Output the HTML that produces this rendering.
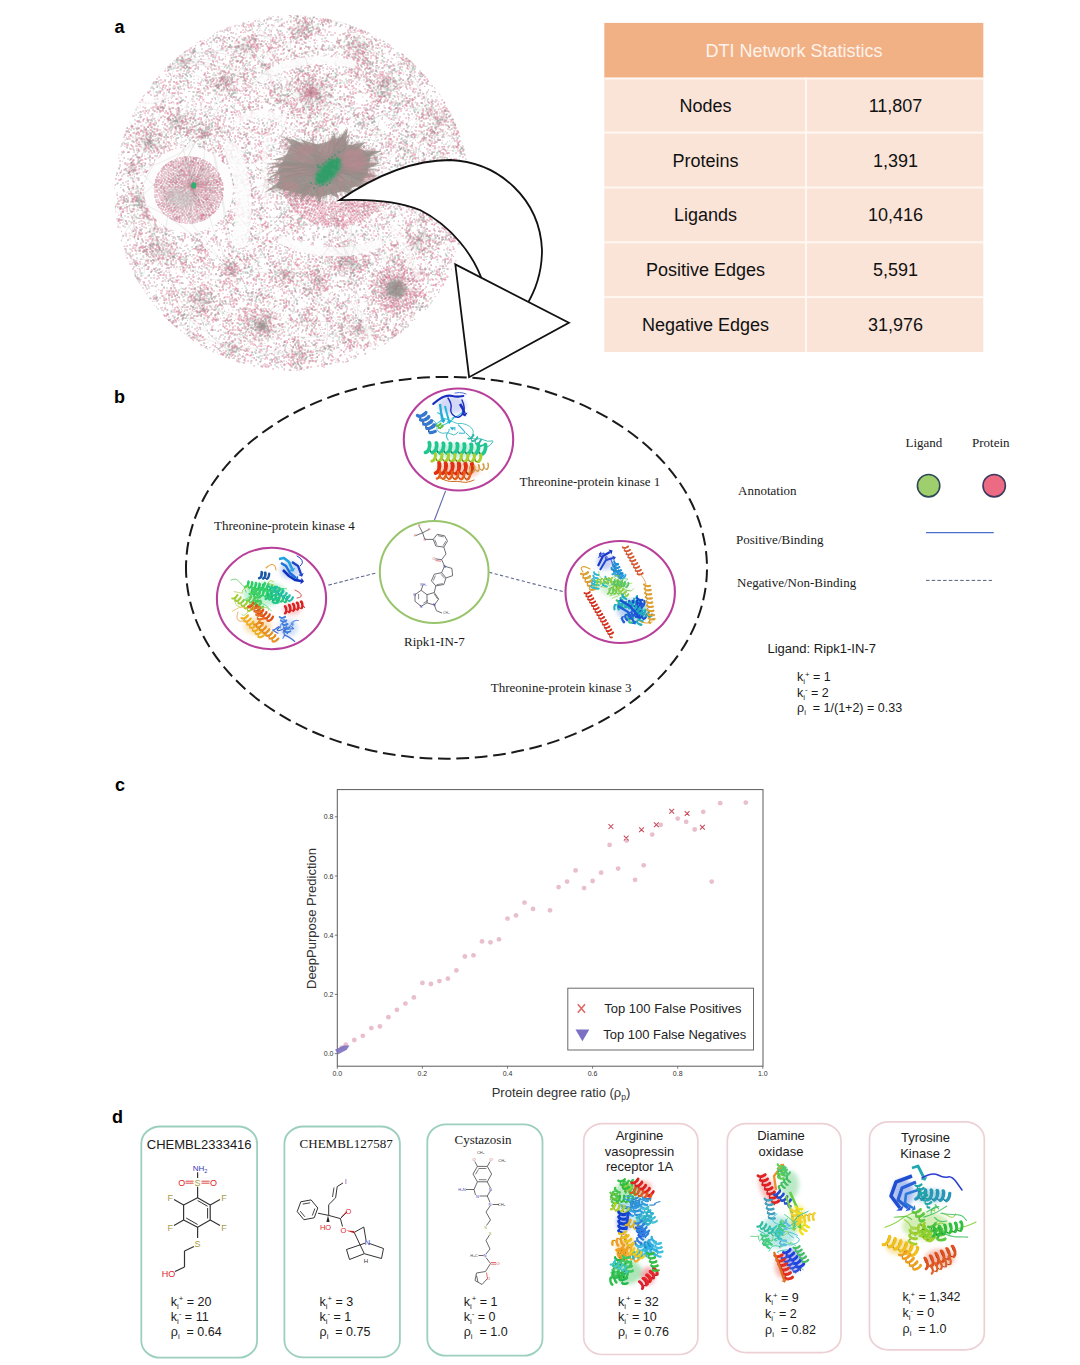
<!DOCTYPE html>
<html><head><meta charset="utf-8"><title>DTI Network Figure</title>
<style>
html,body{margin:0;padding:0;background:#fff;}
body{width:1080px;height:1365px;overflow:hidden;position:relative;}
svg{position:absolute;left:0;top:0;display:block;}
text{white-space:pre;}
</style></head><body>
<svg width="1080" height="1365" viewBox="0 0 1080 1365">
<rect x="0" y="0" width="1080" height="1365" fill="#fff"/>
<text x="114.5" y="33" font-family="'Liberation Sans', Arial, sans-serif" font-size="18" fill="#000" text-anchor="start" font-weight="bold" >a</text><defs><clipPath id="diskclip"><circle cx="292.0" cy="193.0" r="178.0"/></clipPath><filter id="blur2" x="-30%" y="-30%" width="160%" height="160%"><feGaussianBlur stdDeviation="2.2"/></filter><filter id="blur1" x="-20%" y="-20%" width="140%" height="140%"><feGaussianBlur stdDeviation="1.6"/></filter><filter id="blur3" x="-30%" y="-30%" width="160%" height="160%"><feGaussianBlur stdDeviation="4"/></filter></defs><g clip-path="url(#diskclip)"><circle cx="311" cy="93" r="16.2" fill="#c6c6c0" opacity="0.12" filter="url(#blur2)"/><circle cx="396" cy="289" r="15.6" fill="#c6c6c0" opacity="0.12" filter="url(#blur2)"/><circle cx="262" cy="326" r="13.2" fill="#c6c6c0" opacity="0.12" filter="url(#blur2)"/><circle cx="149" cy="141" r="10.8" fill="#c6c6c0" opacity="0.12" filter="url(#blur2)"/><circle cx="177" cy="120" r="9.0" fill="#c6c6c0" opacity="0.12" filter="url(#blur2)"/><circle cx="205" cy="132" r="7.2" fill="#c6c6c0" opacity="0.12" filter="url(#blur2)"/><circle cx="382" cy="86" r="10.8" fill="#c6c6c0" opacity="0.12" filter="url(#blur2)"/><circle cx="359" cy="46" r="10.8" fill="#c6c6c0" opacity="0.12" filter="url(#blur2)"/><circle cx="225" cy="83" r="9.6" fill="#c6c6c0" opacity="0.12" filter="url(#blur2)"/><circle cx="248" cy="46" r="9.6" fill="#c6c6c0" opacity="0.12" filter="url(#blur2)"/><circle cx="300" cy="30" r="8.4" fill="#c6c6c0" opacity="0.12" filter="url(#blur2)"/><circle cx="430" cy="170" r="10.8" fill="#c6c6c0" opacity="0.12" filter="url(#blur2)"/><circle cx="350" cy="262" r="9.6" fill="#c6c6c0" opacity="0.12" filter="url(#blur2)"/><circle cx="318" cy="280" r="8.4" fill="#c6c6c0" opacity="0.12" filter="url(#blur2)"/><circle cx="285" cy="275" r="8.4" fill="#c6c6c0" opacity="0.12" filter="url(#blur2)"/><circle cx="200" cy="300" r="10.8" fill="#c6c6c0" opacity="0.12" filter="url(#blur2)"/><circle cx="160" cy="250" r="10.8" fill="#c6c6c0" opacity="0.12" filter="url(#blur2)"/><circle cx="140" cy="200" r="8.4" fill="#c6c6c0" opacity="0.12" filter="url(#blur2)"/><circle cx="420" cy="240" r="9.6" fill="#c6c6c0" opacity="0.12" filter="url(#blur2)"/><circle cx="360" cy="330" r="8.4" fill="#c6c6c0" opacity="0.12" filter="url(#blur2)"/><circle cx="230" cy="270" r="8.4" fill="#c6c6c0" opacity="0.12" filter="url(#blur2)"/><circle cx="440" cy="120" r="8.4" fill="#c6c6c0" opacity="0.12" filter="url(#blur2)"/><circle cx="410" cy="60" r="7.2" fill="#c6c6c0" opacity="0.12" filter="url(#blur2)"/><circle cx="180" cy="60" r="8.4" fill="#c6c6c0" opacity="0.12" filter="url(#blur2)"/><circle cx="300" cy="355" r="8.4" fill="#c6c6c0" opacity="0.12" filter="url(#blur2)"/><circle cx="230" cy="350" r="7.2" fill="#c6c6c0" opacity="0.12" filter="url(#blur2)"/><circle cx="130" cy="170" r="6.0" fill="#c6c6c0" opacity="0.12" filter="url(#blur2)"/><circle cx="189.7" cy="190" r="30" fill="#d0d0ca" opacity="0.35" filter="url(#blur2)"/><path d="M311 93L305.9 80.2M311 93L289.6 101.9M311 93L301.1 91.4M311 93L320.3 88.5M311 93L315.7 73.4M311 93L301.3 101.7M311 93L307.2 63.8M311 93L325.6 78.8M311 93L299.9 115.0M311 93L313.0 106.0M311 93L310.4 101.4M311 93L308.5 81.2M311 93L298.8 79.0M311 93L311.0 103.0M311 93L293.4 104.4M311 93L327.6 72.0M311 93L299.8 94.3M311 93L332.4 95.2M311 93L302.3 99.0M311 93L320.0 92.2M311 93L300.7 97.4M311 93L301.4 84.6M311 93L307.5 108.9M311 93L325.7 80.9M311 93L317.6 101.7M311 93L304.5 116.3M311 93L303.1 107.9M311 93L289.0 85.6M311 93L322.9 110.9M311 93L312.5 81.7M311 93L288.9 85.4M311 93L311.0 82.5M311 93L298.8 79.9M311 93L315.6 115.8M311 93L304.2 84.3M311 93L332.2 85.8M311 93L333.8 98.3M311 93L293.7 99.8M311 93L331.7 86.9M311 93L307.7 76.5M311 93L313.4 104.6M311 93L314.6 73.6M311 93L302.6 107.9M311 93L330.8 106.9M311 93L313.9 68.9M311 93L291.6 90.6M311 93L325.5 98.9M311 93L325.4 101.4M311 93L316.3 86.1M311 93L327.1 105.8M311 93L303.2 111.5M311 93L303.6 89.0M396 289L385.8 270.0M396 289L404.5 295.6M396 289L395.2 277.4M396 289L404.8 273.9M396 289L385.7 264.2M396 289L388.3 293.8M396 289L403.8 273.8M396 289L409.5 274.2M396 289L402.4 276.5M396 289L415.7 290.0M396 289L394.3 261.2M396 289L388.9 275.5M396 289L399.4 277.2M396 289L384.1 270.7M396 289L405.5 305.9M396 289L409.4 296.8M396 289L398.5 271.6M396 289L380.9 298.8M396 289L385.5 288.9M396 289L402.7 262.8M396 289L375.0 275.5M396 289L387.1 294.1M396 289L406.0 288.7M396 289L392.2 297.6M396 289L403.7 292.7M396 289L405.3 312.8M396 289L399.9 262.9M396 289L386.2 300.9M396 289L414.5 288.1M396 289L396.7 313.0M396 289L390.7 311.3M396 289L392.6 269.3M396 289L417.2 289.9M396 289L377.3 305.1M396 289L377.1 274.1M396 289L385.7 302.5M396 289L386.7 296.2M396 289L382.0 296.5M396 289L387.0 271.6M396 289L384.2 275.9M396 289L393.8 312.1M396 289L402.5 304.8M396 289L387.8 285.6M396 289L413.2 292.9M396 289L401.5 281.9M396 289L400.6 263.4M396 289L393.3 272.8M396 289L409.6 314.0M396 289L401.4 268.6M396 289L384.5 286.0M396 289L402.6 275.7M396 289L378.3 293.3M262 326L270.7 330.2M262 326L243.4 329.0M262 326L272.5 316.7M262 326L251.7 313.7M262 326L248.3 317.9M262 326L270.3 332.2M262 326L277.8 333.0M262 326L277.9 317.5M262 326L272.5 307.7M262 326L285.4 329.4M262 326L260.7 319.2M262 326L245.9 317.8M262 326L274.7 341.1M262 326L276.3 315.3M262 326L267.9 317.7M262 326L249.4 308.2M262 326L272.2 340.0M262 326L254.9 329.8M262 326L255.9 320.6M262 326L259.3 332.7M262 326L271.0 331.3M262 326L240.4 315.4M262 326L241.0 334.6M262 326L279.9 335.6M262 326L266.7 330.9M262 326L258.1 338.8M262 326L257.5 331.6M262 326L252.4 323.5M262 326L269.0 327.4M262 326L272.3 340.1M262 326L260.7 308.2M262 326L268.5 338.3M262 326L275.0 309.5M262 326L261.6 308.2M262 326L259.7 333.0M262 326L264.6 332.8M149 141L161.8 148.1M149 141L153.1 149.3M149 141L158.0 137.8M149 141L163.2 154.4M149 141L152.7 130.7M149 141L140.5 145.0M149 141L144.0 134.2M149 141L157.5 149.3M149 141L131.8 138.3M149 141L156.8 130.5M149 141L158.4 126.7M149 141L159.3 149.8M149 141L161.8 137.8M149 141L145.6 127.5M149 141L143.4 135.3M149 141L149.4 149.0M149 141L130.2 135.4M149 141L154.1 152.8M149 141L154.4 145.3M149 141L166.9 140.3M149 141L140.5 158.6M149 141L145.9 136.2M149 141L157.2 157.3M149 141L155.0 140.9M177 120L170.7 123.2M177 120L178.2 126.6M177 120L173.5 125.7M177 120L182.2 107.3M177 120L182.1 130.6M177 120L182.2 116.8M177 120L179.0 129.2M177 120L173.9 125.4M177 120L172.4 126.7M177 120L179.2 109.3M177 120L161.7 124.9M177 120L180.2 131.7M177 120L167.5 133.3M177 120L190.4 113.6M177 120L169.9 121.0M177 120L173.3 114.4M177 120L172.5 113.5M205 132L195.8 127.2M205 132L210.7 123.7M205 132L200.9 133.5M205 132L200.0 129.7M205 132L213.3 126.1M205 132L199.5 130.1M205 132L211.3 133.6M205 132L198.9 136.8M205 132L201.7 143.7M205 132L203.8 137.5M205 132L206.1 119.3M382 86L387.7 90.6M382 86L385.9 78.5M382 86L373.8 99.0M382 86L389.0 69.6M382 86L400.8 81.0M382 86L367.1 78.2M382 86L385.3 77.0M382 86L376.4 85.7M382 86L378.3 91.0M382 86L382.6 80.4M382 86L374.8 86.6M382 86L386.9 88.4M382 86L371.5 101.7M382 86L396.8 77.0M382 86L399.1 79.8M382 86L396.7 92.3M382 86L371.8 71.8M382 86L393.8 88.5M382 86L380.0 96.0M382 86L392.4 99.3M382 86L391.5 91.8M382 86L388.1 93.4M382 86L400.2 85.9M382 86L394.2 77.3M359 46L347.0 61.0M359 46L356.1 28.3M359 46L346.7 43.1M359 46L370.2 44.5M359 46L352.4 58.1M359 46L360.5 60.6M359 46L356.7 60.9M359 46L353.7 48.1M359 46L361.4 51.5M359 46L365.5 47.5M359 46L372.8 43.6M359 46L375.3 54.3M359 46L353.5 39.3M359 46L365.0 49.6M359 46L367.2 44.9M359 46L367.5 60.5M359 46L366.2 37.0M359 46L351.6 29.4M359 46L347.2 49.2M225 83L228.6 76.5M225 83L236.9 95.0M225 83L216.6 70.7M225 83L233.0 92.3M225 83L226.4 74.4M225 83L234.2 86.1M225 83L229.7 81.5M225 83L238.9 73.4M225 83L228.9 95.1M225 83L233.2 90.3M225 83L219.7 80.4M225 83L230.4 95.2M225 83L237.2 78.4M225 83L216.9 97.8M225 83L234.3 77.2M225 83L212.2 85.9M225 83L212.9 86.8M248 46L253.8 49.7M248 46L252.1 61.7M248 46L246.5 58.0M248 46L242.8 44.3M248 46L250.1 38.9M248 46L248.9 51.6M248 46L237.9 48.7M248 46L243.2 49.3M248 46L249.0 36.6M248 46L234.3 43.1M248 46L263.4 52.3M248 46L255.7 50.5M248 46L255.2 54.3M248 46L256.4 42.2M248 46L240.7 44.6M248 46L242.6 56.9M300 30L298.3 19.0M300 30L299.9 35.1M300 30L305.9 21.4M300 30L309.4 42.1M300 30L305.3 34.9M300 30L289.4 32.2M300 30L304.9 37.9M300 30L291.1 27.0M300 30L299.0 38.0M300 30L290.4 36.6M300 30L294.3 15.9M300 30L296.1 26.8M430 170L419.8 183.6M430 170L416.0 166.9M430 170L415.7 182.4M430 170L431.6 159.3M430 170L423.6 156.2M430 170L428.9 182.3M430 170L423.9 178.2M430 170L418.6 155.6M430 170L413.0 171.3M430 170L432.1 158.9M430 170L436.6 171.9M430 170L439.3 174.6M430 170L429.6 184.1M430 170L434.1 157.9M430 170L413.1 171.9M430 170L413.6 170.8M430 170L416.9 170.3M430 170L445.2 164.4M430 170L433.2 161.9M430 170L435.3 173.0M350 262L347.8 253.0M350 262L340.8 260.5M350 262L356.5 256.7M350 262L337.1 250.8M350 262L350.2 271.5M350 262L342.6 259.2M350 262L351.7 266.7M350 262L364.3 259.9M350 262L335.7 260.8M350 262L338.2 259.8M350 262L339.3 265.8M350 262L361.6 271.5M350 262L347.4 257.3M350 262L351.9 257.2M350 262L339.2 261.6M350 262L340.4 257.3M350 262L344.0 275.1M350 262L362.7 269.2M350 262L347.7 269.0M318 280L317.1 275.6M318 280L320.4 273.5M318 280L324.8 277.7M318 280L321.7 274.6M318 280L317.9 271.8M318 280L317.6 268.5M318 280L322.0 281.4M318 280L323.8 285.9M318 280L321.7 288.6M318 280L322.7 283.9M318 280L321.7 276.9M318 280L323.5 289.2M318 280L322.8 281.4M318 280L310.5 273.1M318 280L308.2 283.8M318 280L325.7 274.4M285 275L288.5 269.0M285 275L275.5 271.2M285 275L274.1 266.1M285 275L278.7 266.7M285 275L276.5 273.5M285 275L284.7 268.2M285 275L286.0 280.7M285 275L287.4 265.7M285 275L293.1 277.3M285 275L277.9 271.5M285 275L297.6 268.7M285 275L280.6 271.9M285 275L283.1 280.7M285 275L278.1 264.3M200 300L214.0 297.2M200 300L218.5 301.9M200 300L203.2 287.4M200 300L189.9 310.1M200 300L210.3 303.6M200 300L215.9 302.6M200 300L183.3 301.6M200 300L200.2 286.7M200 300L217.4 296.1M200 300L188.8 309.6M200 300L200.5 314.6M200 300L187.1 301.5M200 300L207.0 293.8M200 300L191.3 284.3M200 300L199.8 306.8M200 300L194.9 289.9M200 300L200.7 284.7M200 300L199.8 293.0M200 300L192.9 313.6M200 300L216.0 310.3M160 250L151.7 251.1M160 250L156.7 241.5M160 250L151.8 232.3M160 250L172.1 251.8M160 250L156.4 235.8M160 250L154.1 233.2M160 250L155.7 236.1M160 250L152.2 239.6M160 250L145.2 259.7M160 250L154.6 252.1M160 250L143.1 249.9M160 250L158.9 256.1M160 250L168.4 257.1M160 250L163.2 255.7M160 250L170.1 239.3M160 250L160.3 265.8M160 250L150.0 247.8M160 250L178.5 250.4M160 250L154.5 256.0M160 250L151.0 259.0M140 200L131.7 199.4M140 200L154.3 205.5M140 200L137.7 189.7M140 200L135.1 204.8M140 200L137.6 210.3M140 200L149.1 198.2M140 200L144.8 203.6M140 200L149.0 212.4M140 200L146.5 188.0M140 200L134.1 202.5M140 200L137.8 206.7M140 200L140.6 190.0M420 240L408.7 228.0M420 240L404.6 238.6M420 240L403.3 238.3M420 240L410.0 248.0M420 240L426.7 227.5M420 240L409.8 238.8M420 240L418.7 234.6M420 240L435.0 233.5M420 240L424.3 242.1M420 240L410.2 251.7M420 240L424.4 250.7M420 240L424.1 235.7M420 240L423.9 229.7M420 240L423.7 230.8M420 240L418.4 246.7M420 240L415.6 246.3M360 330L351.7 317.4M360 330L362.5 326.0M360 330L365.0 328.4M360 330L368.6 323.1M360 330L362.0 324.5M360 330L362.0 317.3M360 330L364.9 339.4M360 330L350.8 333.0M360 330L366.0 333.3M360 330L368.1 334.0M360 330L360.4 319.0M360 330L349.2 331.9M360 330L356.1 332.7M360 330L367.9 336.9M230 270L238.9 282.5M230 270L219.9 274.4M230 270L223.9 261.9M230 270L241.2 263.4M230 270L229.9 280.2M230 270L235.8 281.0M230 270L239.3 264.6M230 270L235.7 273.5M230 270L224.3 257.7M230 270L216.8 266.6M230 270L224.8 267.8M230 270L220.0 277.0M230 270L218.0 264.3M230 270L218.6 277.0M440 120L434.2 132.2M440 120L432.5 107.7M440 120L444.4 109.7M440 120L438.3 129.5M440 120L434.6 123.2M440 120L426.0 114.7M440 120L448.3 117.5M440 120L452.5 115.4M440 120L442.8 125.3M440 120L453.3 119.4M440 120L449.8 121.4M440 120L428.3 118.3M410 60L409.6 69.0M410 60L398.5 56.9M410 60L419.6 63.4M410 60L402.9 64.6M410 60L414.3 65.0M410 60L418.1 53.5M410 60L400.3 64.1M410 60L403.2 66.1M410 60L413.2 58.2M180 60L186.7 54.9M180 60L175.2 56.1M180 60L191.2 65.1M180 60L186.6 66.2M180 60L186.9 63.8M180 60L189.5 70.9M180 60L191.0 58.4M180 60L168.0 67.2M180 60L191.1 70.4M300 355L302.2 351.1M300 355L292.3 355.9M300 355L304.3 353.8M300 355L296.9 360.0M300 355L297.8 341.0M300 355L290.4 348.7M300 355L288.2 349.9M300 355L301.7 361.7M300 355L306.1 361.9M300 355L301.1 349.7M300 355L291.4 354.4M230 350L231.1 357.2M230 350L238.7 352.3M230 350L225.9 342.3M230 350L241.3 343.3M230 350L225.7 357.8M230 350L234.1 345.2M230 350L224.7 356.3M230 350L220.1 353.4M230 350L225.8 358.8M130 170L132.5 165.5M130 170L136.3 174.0M130 170L128.9 174.2M130 170L126.0 162.3M130 170L130.8 163.5M130 170L126.3 167.9" stroke="#8c8a86" stroke-width="0.5" stroke-opacity="0.3" fill="none"/><path d="M193.2 185.4L204.4 170.6M193.2 185.4L175.1 166.2M193.2 185.4L205.4 155.5M193.2 185.4L193.7 202.6M193.2 185.4L194.8 200.4M193.2 185.4L175.5 190.0M193.2 185.4L182.8 190.7M193.2 185.4L184.8 179.5M193.2 185.4L182.1 168.9M193.2 185.4L202.3 172.7M193.2 185.4L203.7 197.4M193.2 185.4L194.0 193.6M193.2 185.4L195.7 156.5M193.2 185.4L204.5 161.0M193.2 185.4L183.7 162.0M193.2 185.4L197.2 209.6M193.2 185.4L178.3 202.9M193.2 185.4L172.1 189.9M193.2 185.4L180.2 211.8M193.2 185.4L198.8 180.5M193.2 185.4L186.5 201.6M193.2 185.4L199.7 182.6M193.2 185.4L189.1 205.5M193.2 185.4L209.6 213.5M193.2 185.4L194.3 170.5M193.2 185.4L216.9 181.0M193.2 185.4L169.1 198.0M193.2 185.4L187.5 163.4M193.2 185.4L202.8 210.2M193.2 185.4L204.9 180.5M193.2 185.4L191.9 178.7M193.2 185.4L187.2 194.8M193.2 185.4L188.4 158.0M193.2 185.4L208.3 174.0M193.2 185.4L185.8 182.7M193.2 185.4L202.4 176.0M193.2 185.4L210.4 188.2M193.2 185.4L202.1 183.9M193.2 185.4L184.1 202.2M193.2 185.4L166.6 179.3M193.2 185.4L196.2 208.2M193.2 185.4L219.8 181.5M193.2 185.4L199.6 174.0M193.2 185.4L221.5 177.8M193.2 185.4L213.4 177.3M193.2 185.4L199.0 201.5M193.2 185.4L169.3 163.1M193.2 185.4L201.5 206.7M193.2 185.4L180.1 197.7M193.2 185.4L189.6 211.3M193.2 185.4L178.5 180.1M193.2 185.4L206.3 188.7M193.2 185.4L184.6 175.7M193.2 185.4L188.2 164.0M193.2 185.4L184.9 186.2M193.2 185.4L183.5 215.9M193.2 185.4L208.7 183.6M193.2 185.4L194.6 194.3M193.2 185.4L215.9 205.1M193.2 185.4L180.1 168.7M193.2 185.4L166.6 184.5M193.2 185.4L189.5 179.7M193.2 185.4L207.1 163.8M193.2 185.4L203.1 186.1M193.2 185.4L181.2 199.0M193.2 185.4L210.4 185.0M193.2 185.4L165.8 181.0M193.2 185.4L211.7 189.2M193.2 185.4L206.3 172.0M193.2 185.4L190.8 211.3M193.2 185.4L186.1 193.0M193.2 185.4L182.1 179.6M193.2 185.4L169.5 174.5M193.2 185.4L194.2 204.2M193.2 185.4L200.6 197.3M193.2 185.4L173.9 208.9M193.2 185.4L198.2 203.7M193.2 185.4L190.4 155.1M193.2 185.4L216.1 166.9M193.2 185.4L194.4 168.1M193.2 185.4L191.8 161.6M193.2 185.4L200.0 168.5M193.2 185.4L195.2 177.9M193.2 185.4L185.7 187.0M193.2 185.4L211.1 165.1M193.2 185.4L214.0 174.0M193.2 185.4L211.1 184.1M193.2 185.4L187.0 200.3M193.2 185.4L179.4 188.2M193.2 185.4L162.5 196.5" stroke="#9a9894" stroke-width="0.6" stroke-opacity="0.3" fill="none"/><path d="M354.9 320.8q3.3 -9.7 -5.5 -19.7M205.7 233.7q-23.2 -15.1 -55.3 1.2M333.7 330.8q-5.4 -18.5 -29.7 -24.4M384.3 75.2q-12.9 3.0 -17.8 19.5M157.6 172.0q19.2 -3.1 28.2 -26.8M133.1 100.3q20.9 9.3 44.9 -8.2M126.9 352.5q-25.8 22.7 -16.9 66.6M117.3 358.9q4.9 -6.1 1.2 -15.5M363.0 163.0q20.5 19.2 55.6 8.5M316.8 106.5q-19.9 21.9 -8.1 58.6M428.2 219.3q-13.8 18.4 -2.1 45.9M398.5 126.4q22.7 -6.6 30.0 -36.6M162.0 43.7q-20.1 27.8 -1.8 68.7M187.4 266.9q28.7 18.0 67.8 -2.7M245.1 369.0q-15.6 -30.6 -60.3 -32.9M288.4 47.2q-8.5 -12.3 -27.9 -10.7M172.0 243.5q-10.1 6.2 -9.7 21.8M406.3 321.3q14.1 27.9 54.7 30.1M345.4 173.1q28.8 -12.3 33.7 -52.8M406.7 304.3q12.4 7.3 28.7 -2.0M115.4 332.2q30.0 9.7 60.4 -17.9M266.4 73.8q0.2 -12.2 -13.4 -20.5M303.1 24.4q11.0 -19.5 -3.8 -44.6M335.3 241.6q7.2 -11.7 -1.2 -27.5M315.8 305.5q-0.3 -14.6 -17.0 -23.8M300.7 29.3q27.6 -0.3 45.3 -31.6M457.6 135.2q-22.1 22.0 -11.7 61.3M308.4 126.3q1.8 -20.3 -20.0 -35.5M424.8 114.9q-19.6 11.0 -19.9 40.3M173.1 277.4q-3.0 29.6 28.5 52.2M333.9 271.0q6.8 -12.5 -2.9 -28.3M137.2 255.1q0.6 -32.3 -35.4 -54.0M289.1 179.2q-31.1 -1.9 -53.4 31.9M121.7 54.2q24.4 3.8 44.5 -21.3M369.9 79.7q8.2 15.7 31.2 16.6M360.0 302.2q-5.5 -28.5 -41.3 -40.7M277.0 18.8q-12.8 17.8 -1.0 43.8M146.7 107.5q-20.1 26.9 -2.8 67.2M377.9 252.6q-13.2 -0.3 -22.0 14.4M325.6 344.1q8.2 -26.5 -16.5 -52.9M436.4 343.7q18.7 13.0 45.5 0.3M291.7 88.6q-19.0 24.8 -3.4 62.4M439.6 330.7q3.8 19.4 28.2 27.7M318.3 81.3q9.2 7.3 23.4 1.6M150.7 230.9q32.8 6.7 61.7 -26.0M155.5 143.4q-10.2 -0.9 -17.8 9.9M221.5 179.6q15.5 2.5 28.5 -13.3M240.2 205.4q27.4 21.7 69.7 5.0M468.4 258.3q-6.4 -27.9 -42.0 -38.8M195.8 126.2q-2.1 11.7 9.8 21.6M468.7 290.2q-7.3 -9.8 -23.1 -8.0M330.7 367.6q11.6 3.7 23.3 -7.1M211.1 325.1q-19.7 -13.5 -47.7 -0.0M348.1 238.3q-7.1 21.3 12.4 43.2M396.9 115.8q-18.8 -5.3 -37.1 12.6M203.4 287.7q3.9 21.0 30.1 30.2M183.8 342.9q10.6 6.8 25.2 -0.9M219.6 79.6q14.0 0.7 23.8 -14.6M122.9 356.0q-25.8 -13.6 -58.0 6.6M367.2 367.9q19.2 20.5 54.9 12.2M460.5 87.6q-7.8 -4.4 -17.9 1.5M321.1 292.9q16.4 -21.9 2.4 -54.6M283.9 112.0q23.2 13.8 54.0 -3.5M258.5 257.9q12.2 -0.2 20.0 -14.1M462.1 28.9q20.0 -13.1 18.3 -44.2M407.8 261.2q-0.1 12.3 13.7 20.5M267.5 204.4q2.3 -34.9 -35.5 -60.2M455.2 189.8q30.0 10.1 60.9 -17.2M323.0 256.2q-8.6 3.6 -10.1 15.6M291.1 174.6q-30.2 15.9 -31.9 60.3M215.8 367.0q14.3 18.3 44.4 14.1M335.9 207.8q-0.3 33.4 37.1 55.4M246.8 206.8q-33.9 1.4 -54.3 40.5M436.5 238.3q-19.7 -2.9 -35.7 17.5M345.8 23.5q-20.0 -8.3 -42.4 8.9M343.6 105.3q-11.6 -4.4 -24.1 5.8M116.7 197.1q10.2 15.3 34.1 13.8M224.2 284.9q13.2 15.2 39.0 10.1M466.0 121.6q16.2 13.4 41.9 3.8M133.5 64.5q0.5 -26.7 -29.4 -44.7M226.2 21.9q15.6 -26.5 -4.2 -61.4M408.2 45.5q16.7 30.4 62.0 31.4M431.2 118.8q15.7 12.2 39.7 2.4M325.3 156.1q-21.3 -20.6 -58.5 -10.0M459.5 41.5q15.1 -0.9 23.9 -18.6M197.4 216.5q7.2 3.1 15.4 -3.1M188.2 114.3q21.0 22.5 60.2 13.5M317.3 148.2q12.8 11.1 33.6 3.8M419.0 47.9q-13.1 -27.3 -52.4 -30.3M348.5 363.6q1.2 29.5 35.3 47.4M256.7 18.0q3.0 20.9 28.6 31.1M282.5 175.1q11.6 1.8 21.1 -10.1M353.3 90.1q11.1 6.3 25.4 -2.0M261.8 329.5q6.0 5.0 15.5 1.4M371.7 67.5q-10.7 -6.9 -25.4 0.7M182.6 130.6q13.0 -9.1 11.1 -29.7M250.1 326.5q-21.6 -23.2 -61.8 -14.0M364.0 251.5q17.6 -1.0 27.9 -21.6M187.3 103.1q-8.7 33.8 23.8 65.7M189.8 260.9q7.2 17.4 31.6 20.5M285.1 90.1q-23.7 20.1 -16.5 60.0M442.2 183.5q6.3 -6.8 2.8 -18.3M344.4 285.7q16.8 -22.4 2.4 -55.9M246.8 220.4q8.5 -28.9 -18.7 -57.3M436.7 355.7q1.1 32.7 38.8 52.7M302.3 238.2q-16.1 15.8 -8.7 44.4M232.2 180.0q8.8 -5.8 8.0 -19.6M437.7 20.1q26.7 -7.1 36.0 -41.9M403.0 26.7q19.5 4.4 37.2 -14.8M124.3 326.8q19.1 -9.3 21.0 -36.9M442.9 331.8q-7.2 -23.8 -38.7 -31.3M272.7 228.2q9.3 5.7 21.9 -1.1M420.3 316.9q9.8 7.4 24.5 1.2M254.3 74.3q-17.2 -25.1 -56.7 -22.0M176.8 189.6q5.4 10.9 21.2 11.9M256.5 234.2q29.6 -10.3 37.2 -50.5M333.8 345.9q-31.1 -0.6 -52.0 34.2M123.1 117.9q-14.2 -9.3 -33.9 0.6M391.9 170.9q-7.7 29.3 20.3 57.0M424.8 111.3q-33.1 -10.8 -66.7 19.6M285.8 76.7q2.2 8.4 13.1 11.5M344.7 343.7q-3.4 -32.7 -42.5 -50.2M256.1 104.2q12.5 24.4 48.1 26.2M192.1 46.2q4.9 -25.1 -20.3 -46.9M337.5 96.2q4.7 11.1 20.3 13.1M196.0 343.9q12.5 14.7 37.3 10.1M380.1 239.7q-3.5 13.3 9.3 25.8M316.9 351.9q-2.3 -9.8 -15.0 -13.6M136.1 140.9q0.6 -17.3 -18.5 -29.3M314.2 50.9q-23.8 2.6 -36.3 31.1M343.7 182.3q0.3 29.0 33.2 47.5M185.0 367.6q16.9 -1.5 26.3 -21.6M354.2 17.1q20.8 10.4 46.1 -6.4M310.9 200.4q-9.5 -1.4 -17.2 8.5M365.4 233.0q-14.5 -0.9 -24.9 14.9M169.9 181.8q20.5 -13.0 19.3 -44.6M369.7 88.7q-9.8 -15.4 -33.6 -14.3M319.0 171.9q5.6 11.5 22.2 12.7M317.4 196.8q0.5 13.9 16.6 22.4M335.2 60.6q10.0 2.9 19.8 -6.5M119.1 109.2q-3.9 11.2 6.2 23.0M396.7 86.0q12.4 -3.2 16.9 -19.3M414.7 250.3q7.9 5.4 19.1 -0.1M405.1 363.3q-10.4 -27.7 -48.4 -34.0M424.9 18.3q13.7 27.4 53.5 29.7M314.0 136.5q-4.9 30.8 26.7 56.3M278.9 32.2q-3.0 -7.1 -13.0 -8.4M161.2 370.4q-10.7 -30.9 -52.5 -39.0M220.4 23.8q-14.6 16.3 -5.8 43.4M165.0 27.9q-1.1 -25.3 -30.3 -40.5M261.2 294.3q10.1 -1.2 15.3 -13.5M222.5 134.0q10.2 19.9 39.4 21.4M468.4 143.4q9.5 -3.2 12.1 -16.0M144.4 213.5q-29.1 17.0 -28.9 60.9M432.6 212.8q33.1 -1.4 53.0 -39.6M146.9 180.0q10.1 -24.6 -11.1 -52.0M286.5 23.1q16.1 -24.7 -1.4 -58.9M175.4 198.8q-17.1 -16.5 -46.8 -7.9M382.9 112.6q20.2 27.3 64.2 22.2M211.5 291.3q-8.3 3.7 -9.5 15.5M157.8 142.8q-9.8 7.4 -7.9 23.2M121.2 208.0q20.8 19.1 55.9 8.1M363.9 288.7q7.7 9.1 23.0 6.4M410.8 147.4q-12.6 -16.0 -39.0 -12.1M467.6 229.1q-18.5 7.0 -22.7 32.5M176.1 281.6q10.2 15.0 33.8 13.1M248.0 191.1q-5.6 -15.0 -26.1 -18.4M416.7 347.8q-9.6 -2.1 -18.2 7.5M357.0 184.1q21.2 21.7 59.4 11.8M406.3 122.8q-1.5 19.1 19.1 33.1M156.0 52.2q12.1 12.5 34.2 7.0M132.9 48.3q16.8 6.8 35.4 -7.8M233.9 72.1q-19.9 -19.2 -54.6 -9.3M170.1 253.9q13.0 -4.6 16.3 -22.3M172.4 243.0q-6.7 -6.2 -18.2 -2.7M422.6 196.0q-25.5 2.2 -39.6 32.4M221.7 190.0q16.8 -9.3 17.1 -34.3M296.0 211.7q-5.9 -8.8 -19.7 -7.8M201.9 221.3q14.4 -2.8 20.6 -21.0M125.1 244.3q17.5 -22.7 3.3 -57.2M121.4 241.2q-27.8 0.9 -44.8 32.8M147.6 365.7q-16.8 5.9 -21.1 28.8M124.9 225.9q-5.2 -29.8 -42.2 -43.4M381.3 331.0q8.2 -6.5 6.2 -20.1M201.5 85.1q14.6 2.3 26.7 -12.6M218.4 98.9q-2.6 -16.3 -22.7 -23.9M351.6 162.1q5.4 12.0 22.4 13.7M201.0 294.2q-20.9 26.8 -4.2 68.0M201.9 57.0q-10.8 -13.7 -33.3 -10.4M154.8 111.6q-11.4 17.2 0.5 41.2M281.2 62.6q10.5 -7.2 9.3 -23.8M419.3 116.8q-0.1 27.7 31.2 45.9M259.2 318.0q8.1 1.5 15.0 -6.6M447.3 85.7q8.7 -6.6 7.0 -20.7M296.4 27.2q14.5 -8.9 13.8 -31.1M387.3 149.9q-7.0 -11.1 -24.2 -10.4M262.5 248.6q-11.1 18.7 2.8 43.4M424.3 141.4q21.6 16.5 54.2 2.8M350.7 236.3q5.2 -33.9 -29.7 -61.9M316.2 275.6q9.9 -10.4 4.6 -28.3M132.7 232.7q4.1 -7.9 -2.2 -17.7M455.6 61.9q-14.0 -2.8 -26.2 11.2M149.9 350.4q-12.6 18.7 0.4 45.2M439.3 341.8q-18.4 -6.3 -37.5 10.3M364.9 351.5q-4.6 -10.5 -19.4 -12.1M344.4 17.1q29.0 -1.0 46.8 -34.3M399.5 174.9q-10.2 -0.7 -17.7 10.4M223.8 132.1q-6.5 -7.3 -19.0 -4.7M165.3 293.2q-3.3 27.7 25.8 49.4M387.0 213.3q-16.4 -12.9 -41.5 -2.7M154.5 254.9q-10.3 5.5 -10.8 20.7M157.6 262.1q-27.4 -9.4 -55.8 15.4M434.6 209.9q-28.1 -7.1 -54.4 20.0M321.7 297.4q-10.8 18.4 2.9 42.6M123.4 191.6q18.0 7.2 37.9 -8.5M427.8 135.9q10.0 -3.2 12.9 -16.5M429.1 131.1q-13.3 10.2 -10.4 31.8M383.7 213.3q2.4 14.5 20.3 21.1M223.4 112.2q-23.9 -10.4 -51.1 9.8M116.0 206.5q-4.5 9.0 2.8 20.0" stroke="#b4b8b4" stroke-width="0.6" stroke-opacity="0.45" fill="none"/><defs><pattern id="dotpat" width="61" height="61" patternUnits="userSpaceOnUse"><path d="M24.6 12.2h.1M10.9 15.2h.1M46.4 15.3h.1M23.4 41.7h.1M32.9 57.2h.1M29.8 25.7h.1M37.4 13.2h.1M55.0 22.8h.1M23.7 41.6h.1M9.3 40.3h.1M51.8 20.7h.1M57.8 32.3h.1M47.2 28.6h.1M24.6 16.4h.1M0.5 12.4h.1M60.4 32.6h.1M28.2 54.9h.1M36.9 59.6h.1M21.8 13.2h.1M56.2 9.8h.1M48.3 36.3h.1M60.0 57.6h.1M40.3 2.3h.1M1.4 28.9h.1M50.0 5.0h.1M26.0 5.2h.1M18.9 0.3h.1M20.1 31.9h.1M12.2 48.0h.1M3.4 12.9h.1M15.7 24.6h.1M46.6 21.6h.1M42.4 56.3h.1M8.0 52.7h.1M36.6 45.6h.1M37.1 24.9h.1M5.9 8.8h.1M10.6 10.8h.1M8.9 12.7h.1M34.2 47.0h.1M48.7 51.6h.1M7.2 50.2h.1M11.3 4.4h.1M17.6 35.7h.1M2.9 13.2h.1M24.3 50.2h.1M24.4 25.3h.1M22.6 5.7h.1M53.7 56.3h.1M44.0 24.3h.1M27.1 19.0h.1M39.9 39.9h.1M19.0 53.3h.1M44.0 13.3h.1M49.4 41.1h.1M15.2 18.1h.1M45.8 4.9h.1M26.7 58.8h.1M15.6 30.7h.1M55.3 53.4h.1M48.1 32.5h.1M56.7 15.7h.1M53.8 25.0h.1M40.2 37.3h.1M17.2 41.4h.1M36.9 60.2h.1M40.7 26.8h.1M23.2 54.1h.1M21.1 40.7h.1M42.4 58.8h.1M11.8 40.6h.1M10.5 39.0h.1M40.1 45.3h.1M52.8 14.1h.1M52.5 21.1h.1M24.4 6.9h.1M32.4 0.1h.1M18.9 41.0h.1M45.6 10.2h.1M47.9 27.1h.1M12.5 45.7h.1M45.1 28.5h.1M32.4 37.8h.1M38.5 46.7h.1M46.9 12.2h.1M1.3 6.4h.1M18.8 35.4h.1M58.6 25.4h.1M22.5 34.0h.1M57.8 35.9h.1M18.0 46.2h.1M60.5 48.4h.1M24.3 10.5h.1M28.1 7.8h.1M8.0 27.2h.1M51.9 42.8h.1M25.5 58.2h.1M10.9 15.3h.1M16.7 34.9h.1M54.3 23.3h.1M50.4 57.2h.1M29.2 54.5h.1M54.2 29.1h.1M10.3 4.6h.1M14.6 28.1h.1M0.9 20.1h.1M30.1 20.5h.1M44.8 34.7h.1M32.5 38.6h.1M35.6 25.3h.1M10.1 35.9h.1M2.9 2.2h.1M20.9 14.0h.1M46.1 9.7h.1M26.8 42.4h.1M25.5 49.1h.1M7.1 10.5h.1M16.8 22.3h.1M34.1 12.1h.1M34.1 42.8h.1M39.8 49.7h.1M5.0 41.4h.1M44.2 50.3h.1M9.2 5.3h.1M46.3 39.4h.1M10.2 53.1h.1M43.7 37.5h.1M46.4 37.3h.1M20.7 3.2h.1M20.9 38.1h.1" stroke="#d98aa0" stroke-width="1.2" stroke-linecap="round" stroke-opacity="0.6" fill="none"/><path d="M11.5 11.0h.1M6.8 30.3h.1M59.0 44.6h.1M0.8 23.0h.1M41.6 5.9h.1M48.5 14.4h.1M27.1 48.4h.1M53.3 4.9h.1M49.9 53.4h.1M51.2 47.2h.1M22.8 19.1h.1M2.8 24.2h.1M18.3 9.7h.1M57.6 53.7h.1M49.4 18.0h.1M7.5 26.1h.1M4.4 21.6h.1M37.0 19.4h.1M20.4 19.9h.1M50.6 2.1h.1M49.6 37.2h.1M33.4 42.3h.1M1.1 52.6h.1M17.6 24.4h.1M31.2 55.0h.1M13.9 32.0h.1M60.5 12.9h.1M39.5 10.0h.1M34.6 26.5h.1M34.5 1.8h.1M12.3 54.9h.1M11.0 18.3h.1M60.3 15.5h.1M35.4 26.3h.1M0.2 39.3h.1M30.7 57.2h.1M59.6 4.5h.1M35.9 20.8h.1M8.1 55.9h.1M5.6 30.6h.1M14.2 34.9h.1M12.7 52.1h.1M26.6 12.3h.1M48.8 8.2h.1M45.0 15.2h.1M51.3 15.6h.1M39.7 41.0h.1M30.8 53.1h.1M33.1 14.3h.1M32.0 41.9h.1M25.7 32.0h.1M4.4 15.3h.1M46.8 20.4h.1M11.5 48.4h.1M1.8 2.3h.1M3.8 11.6h.1M3.0 17.9h.1M16.4 56.3h.1M15.5 35.2h.1M18.0 44.3h.1" stroke="#8d9a94" stroke-width="1.2" stroke-linecap="round" stroke-opacity="0.55" fill="none"/></pattern></defs><circle cx="292.0" cy="193.0" r="178.0" fill="url(#dotpat)"/><path d="M409 250h.1M410 238h.1M249 212h.1M148 267h.1M450 241h.1M330 241h.1M323 124h.1M222 110h.1M332 210h.1M243 88h.1M189 132h.1M333 50h.1M364 295h.1M215 57h.1M180 117h.1M385 47h.1M412 210h.1M353 257h.1M327 156h.1M354 122h.1M336 254h.1M305 316h.1M291 204h.1M245 74h.1M204 263h.1M262 160h.1M310 262h.1M295 194h.1M378 257h.1M390 94h.1M291 298h.1M171 219h.1M375 255h.1M326 130h.1M415 154h.1M264 185h.1M284 301h.1M356 54h.1M187 181h.1M385 209h.1M230 30h.1M237 256h.1M424 97h.1M201 62h.1M292 70h.1M402 173h.1M435 143h.1M435 175h.1M231 174h.1M433 167h.1M330 120h.1M269 277h.1M285 308h.1M381 136h.1M145 108h.1M402 131h.1M268 189h.1M197 158h.1M144 139h.1M210 160h.1M310 67h.1M303 23h.1M196 111h.1M250 81h.1M415 72h.1M332 240h.1M370 231h.1M325 364h.1M354 292h.1M250 260h.1M288 169h.1M270 202h.1M201 104h.1M365 249h.1M309 102h.1M157 129h.1M430 245h.1M443 260h.1M285 257h.1M296 252h.1M368 218h.1M239 339h.1M217 193h.1M381 203h.1M278 62h.1M122 220h.1M341 87h.1M349 97h.1M225 30h.1M205 252h.1M289 265h.1M275 279h.1M224 211h.1M253 292h.1M202 276h.1M330 314h.1M287 246h.1M318 200h.1M307 328h.1M373 116h.1M317 132h.1M231 58h.1M356 206h.1M421 293h.1M291 67h.1M291 242h.1M416 174h.1M186 97h.1M247 319h.1M240 56h.1M171 180h.1M416 307h.1M463 169h.1M204 222h.1M369 166h.1M400 312h.1M405 96h.1M391 119h.1M417 196h.1M271 256h.1M226 342h.1M293 30h.1M265 298h.1M429 192h.1M208 234h.1M423 290h.1M374 158h.1M215 188h.1M148 147h.1M233 118h.1M349 165h.1M250 319h.1M328 255h.1M396 123h.1M440 94h.1M342 253h.1M263 238h.1M292 79h.1M184 176h.1M346 130h.1M293 306h.1M389 118h.1M293 252h.1M165 228h.1M232 115h.1M328 224h.1M196 138h.1M277 182h.1M383 111h.1M283 218h.1M239 90h.1M207 44h.1M393 215h.1M283 67h.1M244 360h.1M324 271h.1M204 44h.1M317 225h.1M213 268h.1M297 201h.1M188 333h.1M371 175h.1M362 48h.1M409 230h.1M360 155h.1M317 174h.1M351 49h.1M254 278h.1M318 183h.1M225 251h.1M121 200h.1M312 56h.1M293 238h.1M424 75h.1M340 221h.1M262 78h.1M410 306h.1M320 277h.1M388 330h.1M191 48h.1M323 175h.1M143 107h.1M372 104h.1M322 23h.1M177 113h.1M247 242h.1M297 211h.1M259 124h.1M338 345h.1M344 215h.1M157 149h.1M369 320h.1M241 317h.1M149 267h.1M382 112h.1M205 285h.1M369 177h.1M457 131h.1M454 249h.1M376 326h.1M326 269h.1M182 181h.1M450 232h.1M252 301h.1M163 258h.1M267 203h.1M315 75h.1M235 203h.1M243 216h.1M251 190h.1M167 314h.1M383 335h.1M319 131h.1M363 154h.1M192 189h.1M220 41h.1M305 134h.1M167 291h.1M427 185h.1M303 75h.1M168 119h.1M325 193h.1M205 115h.1M343 154h.1M277 171h.1M256 239h.1M314 327h.1M332 328h.1M406 322h.1M401 79h.1M294 362h.1M181 171h.1M439 249h.1M128 139h.1M335 325h.1M191 68h.1M256 284h.1M142 226h.1M301 250h.1M279 325h.1M323 68h.1M182 57h.1M308 178h.1M239 37h.1M271 60h.1M325 329h.1M349 157h.1M426 300h.1M311 216h.1M288 148h.1M441 104h.1M308 250h.1M356 67h.1M320 290h.1M381 205h.1M269 88h.1M269 172h.1M148 254h.1M255 68h.1M295 199h.1M305 17h.1M342 308h.1M324 56h.1M436 279h.1M304 313h.1M233 276h.1M236 163h.1M357 136h.1M332 251h.1M232 307h.1M334 47h.1M339 327h.1M322 300h.1M150 193h.1M379 301h.1M282 24h.1M154 124h.1M231 64h.1M238 323h.1M231 128h.1M157 232h.1M214 40h.1M203 63h.1M117 204h.1M411 146h.1M329 336h.1M266 226h.1M275 205h.1M161 264h.1M412 145h.1M327 87h.1M211 102h.1M318 366h.1M197 212h.1M407 308h.1M346 119h.1M289 309h.1M443 196h.1M295 291h.1M277 177h.1M430 150h.1M346 233h.1M309 90h.1M422 103h.1M142 164h.1M390 104h.1M299 259h.1M406 237h.1M167 200h.1M351 101h.1M272 170h.1M221 36h.1M418 178h.1M210 284h.1M303 112h.1M249 349h.1M199 191h.1M243 281h.1M254 182h.1M409 118h.1M188 87h.1M142 234h.1M416 119h.1M362 51h.1M287 291h.1M330 176h.1M140 115h.1M402 203h.1M455 126h.1M308 260h.1M439 197h.1M299 345h.1M386 73h.1M188 85h.1M288 174h.1M198 62h.1M235 334h.1M372 98h.1M201 293h.1M440 140h.1M245 38h.1M212 134h.1M290 200h.1M355 40h.1M224 37h.1M213 210h.1M293 35h.1M389 108h.1M226 152h.1M355 328h.1M188 149h.1M308 125h.1M220 299h.1M158 205h.1M291 228h.1M314 240h.1M137 134h.1M453 138h.1M200 128h.1M379 170h.1M199 267h.1M465 155h.1M379 215h.1M185 52h.1M249 106h.1M295 135h.1M289 256h.1M335 269h.1M343 150h.1M209 107h.1M344 258h.1M262 64h.1M355 126h.1M255 256h.1M222 347h.1M252 122h.1M272 281h.1M342 168h.1M244 363h.1M328 96h.1M454 195h.1M319 325h.1M308 240h.1M195 114h.1M343 67h.1M432 254h.1M128 217h.1M355 342h.1M348 286h.1M420 197h.1M359 42h.1M165 197h.1M305 268h.1M292 354h.1M414 278h.1M429 208h.1M144 172h.1M395 83h.1M382 280h.1M280 254h.1M309 91h.1M316 159h.1M458 148h.1M167 260h.1M246 184h.1M266 192h.1M277 339h.1M292 321h.1M383 164h.1M255 144h.1M415 158h.1M165 220h.1M338 238h.1M212 246h.1M337 336h.1M159 152h.1M259 274h.1M182 184h.1M302 325h.1M254 366h.1M302 123h.1M374 108h.1M287 123h.1M204 310h.1M387 62h.1M448 197h.1M117 195h.1M206 125h.1M146 233h.1M189 277h.1M173 193h.1M269 257h.1M370 172h.1M308 183h.1M210 261h.1M237 184h.1M184 271h.1M419 73h.1M351 80h.1M459 183h.1M345 273h.1M215 191h.1M197 92h.1M434 187h.1M158 276h.1M288 183h.1M333 312h.1M278 335h.1M427 191h.1M336 228h.1M132 170h.1M307 151h.1M248 251h.1M429 292h.1M223 290h.1M450 250h.1M331 103h.1M134 209h.1M341 287h.1M386 176h.1M390 279h.1M255 219h.1M340 99h.1M326 281h.1M434 225h.1M375 317h.1M272 354h.1M167 315h.1M413 155h.1M281 361h.1M232 258h.1M331 355h.1M161 182h.1M202 152h.1M229 324h.1M193 152h.1M279 237h.1M355 262h.1M230 62h.1M294 357h.1M240 138h.1M326 202h.1M323 286h.1M362 340h.1M273 105h.1M250 97h.1M371 58h.1M451 237h.1M376 219h.1M400 305h.1M245 40h.1M206 169h.1M220 282h.1M250 117h.1M376 297h.1M363 320h.1M364 256h.1M304 235h.1M341 334h.1M369 259h.1M244 248h.1M238 170h.1M221 224h.1M291 281h.1M389 52h.1M246 291h.1M181 312h.1M410 151h.1M345 274h.1M421 264h.1M128 254h.1M406 222h.1M389 68h.1M262 335h.1M201 242h.1M342 276h.1M195 152h.1M379 245h.1M464 165h.1M217 132h.1M198 291h.1M161 168h.1M291 248h.1M291 318h.1M312 326h.1M156 182h.1M252 219h.1M147 133h.1M299 151h.1M277 209h.1M321 138h.1M425 230h.1M140 145h.1M422 127h.1M240 164h.1M414 295h.1M312 186h.1M302 161h.1M353 60h.1M162 296h.1M383 240h.1M399 109h.1M344 287h.1M194 141h.1M427 198h.1M279 285h.1M282 327h.1M463 146h.1M150 185h.1M184 157h.1M185 206h.1M302 298h.1M458 201h.1M166 238h.1M314 233h.1M237 335h.1M248 168h.1M137 107h.1M277 282h.1M314 303h.1M366 120h.1M183 61h.1M171 275h.1M399 233h.1M220 120h.1M218 141h.1M463 208h.1M334 190h.1M275 92h.1M428 279h.1M159 160h.1M216 78h.1M305 37h.1M317 19h.1M303 205h.1M204 63h.1M317 209h.1M409 240h.1M364 350h.1M355 159h.1M150 194h.1M330 78h.1M423 250h.1M321 160h.1M233 133h.1M283 310h.1M239 362h.1M334 108h.1M125 208h.1M236 67h.1M145 113h.1M389 190h.1M426 306h.1M279 161h.1M305 309h.1M468 215h.1M337 150h.1M369 281h.1M232 193h.1M121 197h.1M281 101h.1M288 240h.1M178 187h.1M217 85h.1M269 83h.1M139 278h.1M206 268h.1M305 193h.1M372 153h.1M229 254h.1M228 321h.1M222 354h.1M288 29h.1M143 96h.1M187 81h.1M266 84h.1M181 98h.1M202 98h.1M143 218h.1M209 205h.1M408 136h.1M134 165h.1M368 336h.1M317 166h.1M371 53h.1M343 266h.1M193 318h.1M242 208h.1M440 190h.1M378 312h.1M206 182h.1M233 286h.1M333 321h.1M358 329h.1M212 120h.1M331 95h.1M141 112h.1M440 166h.1M240 105h.1M296 83h.1M427 215h.1M133 231h.1M126 221h.1M219 59h.1M434 230h.1M311 38h.1M262 73h.1M250 86h.1M355 275h.1M469 200h.1M284 292h.1M376 90h.1M257 212h.1M288 273h.1M186 168h.1M156 202h.1M254 179h.1M181 170h.1M135 250h.1M162 251h.1M323 157h.1M365 348h.1M248 107h.1M307 247h.1M329 23h.1M265 129h.1M269 276h.1M236 314h.1M267 213h.1M239 128h.1M159 256h.1M464 189h.1M120 197h.1M127 209h.1M241 180h.1M316 362h.1M150 91h.1M428 144h.1M232 296h.1M278 238h.1M192 125h.1M383 293h.1M190 296h.1M375 344h.1M383 54h.1M385 277h.1M382 275h.1M168 165h.1M328 300h.1M124 191h.1M158 130h.1M292 123h.1M402 215h.1M248 355h.1M216 152h.1M324 46h.1M126 234h.1M398 151h.1M262 131h.1M342 254h.1M324 74h.1M381 63h.1M271 90h.1M336 64h.1M239 359h.1M301 272h.1M233 55h.1M443 135h.1M295 181h.1M171 261h.1M250 264h.1M370 77h.1M399 294h.1M326 125h.1M395 165h.1M115 185h.1M327 130h.1M138 238h.1M258 238h.1M375 96h.1M417 258h.1M218 113h.1M217 41h.1M177 326h.1M367 66h.1M272 40h.1M345 150h.1M258 175h.1M290 50h.1M300 97h.1M342 55h.1M280 264h.1M365 52h.1M372 323h.1M276 231h.1M325 288h.1M363 250h.1M161 308h.1M340 356h.1M294 100h.1M404 129h.1M448 235h.1M187 330h.1M294 240h.1M295 46h.1M313 137h.1M236 47h.1M435 137h.1M167 293h.1M357 346h.1M361 270h.1M225 75h.1M331 35h.1M219 57h.1M221 132h.1M163 95h.1M311 275h.1M197 308h.1M346 107h.1M246 145h.1M403 236h.1M237 279h.1M324 348h.1M377 58h.1M446 223h.1M176 190h.1M188 83h.1M189 268h.1M350 28h.1M339 189h.1M261 77h.1M334 298h.1M344 336h.1M322 280h.1M284 149h.1M229 126h.1M279 228h.1M237 209h.1M381 322h.1M132 217h.1M396 277h.1M315 279h.1M305 208h.1M198 137h.1M368 55h.1M454 238h.1M250 232h.1M348 250h.1M407 233h.1M222 60h.1M205 73h.1M399 325h.1M303 160h.1M302 364h.1M372 149h.1M446 211h.1M440 168h.1M317 126h.1M141 138h.1M329 212h.1M263 301h.1M337 81h.1M244 127h.1M427 305h.1M388 60h.1M294 178h.1M404 290h.1M173 178h.1M370 64h.1M223 44h.1M152 247h.1M259 293h.1M279 281h.1M237 323h.1M122 152h.1M151 165h.1M227 30h.1M367 188h.1M294 104h.1M438 219h.1M171 115h.1M259 101h.1M312 202h.1M329 240h.1M437 165h.1M301 118h.1M149 245h.1M451 224h.1M289 210h.1M168 118h.1M185 289h.1M300 238h.1M193 307h.1M313 106h.1M233 184h.1M319 102h.1M300 109h.1M313 301h.1M295 223h.1M343 227h.1M331 269h.1M326 224h.1M123 226h.1M206 179h.1M346 131h.1M276 363h.1M286 145h.1M217 202h.1M219 88h.1M141 221h.1M305 318h.1M178 318h.1M364 234h.1M230 218h.1M172 278h.1M373 166h.1M119 180h.1M432 186h.1M243 295h.1M279 169h.1M377 331h.1M221 136h.1M153 136h.1M331 246h.1M146 111h.1M299 265h.1M271 365h.1M453 247h.1M387 204h.1M454 159h.1M219 88h.1M298 337h.1M289 280h.1M147 171h.1M284 53h.1M217 53h.1M311 109h.1M370 172h.1M456 153h.1M299 130h.1M312 283h.1M366 279h.1M223 222h.1M437 209h.1M243 25h.1M302 96h.1M389 96h.1M285 240h.1M361 325h.1M317 191h.1M453 123h.1M226 304h.1M185 254h.1M341 210h.1M224 298h.1M412 135h.1M376 315h.1M310 141h.1M314 110h.1M223 78h.1M340 320h.1M234 128h.1M441 222h.1M165 81h.1M238 327h.1M319 98h.1M284 152h.1M325 214h.1M215 212h.1M164 188h.1M329 222h.1M310 292h.1M255 41h.1M250 154h.1M231 122h.1M461 173h.1M155 223h.1M244 213h.1M437 290h.1M255 345h.1M329 222h.1M133 161h.1M364 331h.1M259 246h.1M352 182h.1M120 223h.1M286 129h.1M245 268h.1M118 227h.1M354 113h.1M289 89h.1M281 300h.1M226 280h.1M316 361h.1M173 304h.1M451 242h.1M325 30h.1M244 268h.1M299 240h.1M288 114h.1M229 347h.1M169 179h.1M398 94h.1M426 223h.1M268 79h.1M409 187h.1M249 27h.1M343 314h.1M361 348h.1M302 27h.1M364 156h.1M330 84h.1M287 286h.1M171 183h.1M291 106h.1M218 185h.1M358 148h.1M243 211h.1M335 53h.1M212 327h.1M315 261h.1M220 127h.1M302 244h.1M241 309h.1M120 208h.1M336 323h.1M403 170h.1M391 139h.1M276 20h.1M168 114h.1M416 148h.1M301 165h.1M168 209h.1M375 129h.1M421 132h.1M237 289h.1M312 104h.1M201 170h.1M369 204h.1M315 129h.1M130 139h.1M397 140h.1M290 28h.1M148 92h.1M351 215h.1M255 57h.1M332 257h.1M210 38h.1M408 178h.1M441 188h.1M322 256h.1M289 150h.1M278 163h.1M326 62h.1M393 99h.1M407 125h.1M167 268h.1M457 146h.1M248 293h.1M228 334h.1M384 318h.1M406 118h.1M367 249h.1M324 333h.1M408 191h.1M348 48h.1M382 309h.1M388 297h.1M293 354h.1M318 172h.1M197 336h.1M397 315h.1M341 309h.1M380 340h.1M323 360h.1M131 159h.1M228 53h.1M185 155h.1M372 286h.1M280 300h.1M302 57h.1M358 185h.1M400 170h.1M280 221h.1M204 299h.1M308 200h.1M327 315h.1M290 186h.1M135 271h.1M277 186h.1M372 200h.1M274 359h.1M214 350h.1M283 261h.1M372 322h.1M185 324h.1M337 248h.1M157 109h.1M157 191h.1M180 261h.1M400 234h.1M295 247h.1M232 147h.1M381 244h.1M223 100h.1M120 180h.1M347 274h.1M418 113h.1M311 226h.1M374 76h.1M262 163h.1M266 69h.1M434 285h.1M311 304h.1M228 223h.1M394 267h.1M342 330h.1M340 80h.1M369 259h.1M161 118h.1M262 367h.1M386 86h.1M397 84h.1M185 292h.1M329 32h.1M220 161h.1M189 204h.1M156 184h.1M270 317h.1M165 264h.1M247 42h.1M293 364h.1M224 261h.1M251 37h.1M282 111h.1M230 270h.1M297 41h.1M286 236h.1M463 228h.1M305 295h.1M335 46h.1M229 261h.1M371 106h.1M223 355h.1M382 119h.1M308 85h.1M389 125h.1M218 142h.1M208 263h.1M184 305h.1M232 66h.1M437 212h.1M364 147h.1M202 147h.1M227 320h.1M230 189h.1M249 299h.1M302 357h.1M199 136h.1M338 40h.1M395 230h.1M127 258h.1M212 212h.1M337 223h.1M176 245h.1M354 304h.1M178 312h.1M369 119h.1M192 105h.1M442 281h.1M401 288h.1M220 280h.1M216 69h.1M135 236h.1M289 163h.1M170 195h.1M284 336h.1M236 145h.1M240 315h.1M153 208h.1M239 330h.1M175 88h.1M151 130h.1M259 145h.1M364 338h.1M459 210h.1M363 64h.1M277 217h.1M344 242h.1M413 64h.1M349 52h.1M436 286h.1M166 86h.1M294 341h.1M206 287h.1M368 118h.1M185 265h.1M399 133h.1M195 321h.1M269 333h.1M195 288h.1M288 355h.1M179 109h.1M313 245h.1M223 189h.1M366 111h.1M347 316h.1M163 213h.1M129 189h.1M364 159h.1M307 59h.1M324 347h.1M280 109h.1M227 106h.1M376 221h.1M291 245h.1M292 291h.1M355 248h.1M326 19h.1M443 228h.1M393 146h.1M448 269h.1M352 86h.1M152 286h.1M221 80h.1M213 153h.1M325 155h.1M421 73h.1M229 205h.1M257 45h.1M409 209h.1M207 134h.1M406 294h.1M241 248h.1M177 192h.1M205 272h.1M281 251h.1M134 245h.1M147 250h.1M366 298h.1M448 129h.1M185 150h.1M132 251h.1M163 116h.1M344 166h.1M287 169h.1M378 280h.1M341 261h.1M358 235h.1M397 315h.1M439 238h.1M399 154h.1M329 150h.1M270 317h.1M205 229h.1M429 275h.1M300 253h.1M141 189h.1M149 281h.1M196 65h.1M437 272h.1M284 332h.1M146 228h.1M261 144h.1M205 74h.1M355 356h.1M283 50h.1M176 139h.1M275 350h.1M326 255h.1M316 293h.1M377 318h.1M262 280h.1M409 202h.1M457 206h.1M466 193h.1M291 221h.1M258 62h.1M408 309h.1M139 144h.1M203 170h.1M346 333h.1M318 54h.1M434 117h.1M213 345h.1M437 133h.1M141 230h.1M338 240h.1M373 349h.1M398 248h.1M218 148h.1M191 190h.1M372 191h.1M346 197h.1M451 159h.1M275 183h.1M282 333h.1M187 164h.1M335 62h.1M369 43h.1M195 142h.1M302 54h.1M127 147h.1M411 215h.1M152 213h.1M244 27h.1M221 344h.1M319 110h.1M314 341h.1M212 130h.1M294 321h.1M201 324h.1M384 204h.1M386 233h.1M324 114h.1M401 73h.1M380 40h.1M378 45h.1M207 155h.1M302 95h.1M261 346h.1M320 128h.1M195 329h.1M430 262h.1M267 148h.1M206 51h.1M262 203h.1M369 272h.1M261 343h.1M212 99h.1M444 111h.1M141 126h.1M289 250h.1M300 123h.1M415 186h.1M382 51h.1M420 126h.1M197 184h.1M178 308h.1M294 71h.1M441 286h.1M211 274h.1M253 237h.1M157 177h.1M406 180h.1M182 122h.1M292 293h.1M126 251h.1M303 233h.1M305 350h.1M166 163h.1M277 237h.1M244 123h.1M226 126h.1M300 269h.1M200 324h.1M229 101h.1M153 164h.1M323 45h.1M309 341h.1M164 315h.1M314 172h.1M173 294h.1M333 345h.1M296 69h.1M303 111h.1M305 52h.1M276 48h.1M324 287h.1M407 296h.1M365 244h.1M312 187h.1M258 265h.1M281 274h.1M251 239h.1M292 328h.1M326 64h.1M342 325h.1M382 217h.1M369 297h.1M333 144h.1M291 55h.1M161 275h.1M134 221h.1M265 185h.1M273 56h.1M397 139h.1M329 107h.1M374 150h.1M223 76h.1M144 283h.1M167 199h.1M133 181h.1M374 112h.1M140 122h.1M116 179h.1M393 204h.1M374 274h.1M244 337h.1M351 27h.1M206 77h.1M137 199h.1M372 277h.1M171 248h.1M202 266h.1M345 184h.1M272 83h.1M202 134h.1M265 311h.1M327 76h.1M330 146h.1M442 179h.1M250 155h.1M284 131h.1M218 306h.1M143 252h.1M389 163h.1M225 113h.1M387 287h.1M203 184h.1M267 348h.1M332 260h.1M315 293h.1M299 80h.1M140 270h.1M224 256h.1M167 225h.1M249 212h.1M331 350h.1M251 272h.1M258 144h.1M338 271h.1M352 70h.1M286 357h.1M276 247h.1M253 107h.1M443 285h.1M212 125h.1M134 260h.1M349 241h.1M170 182h.1M268 26h.1M449 235h.1M264 254h.1M305 130h.1M380 74h.1M230 47h.1M373 313h.1M340 247h.1M369 272h.1M138 158h.1M359 254h.1M363 122h.1M254 91h.1M384 327h.1M331 97h.1M202 311h.1M392 74h.1M323 100h.1M351 357h.1M340 73h.1M181 165h.1M436 284h.1M309 199h.1M305 125h.1M301 123h.1M417 103h.1M322 49h.1M120 161h.1M412 103h.1M332 137h.1M256 36h.1M435 188h.1M327 227h.1M252 275h.1M181 150h.1M348 222h.1M380 43h.1M297 220h.1M413 238h.1M231 75h.1M265 74h.1M284 228h.1M218 198h.1M278 17h.1M398 197h.1M203 337h.1M155 107h.1M345 171h.1M280 326h.1M289 301h.1M433 289h.1M257 94h.1M408 135h.1M213 50h.1M139 134h.1M310 171h.1M221 221h.1M194 130h.1M418 275h.1M347 143h.1M296 55h.1M408 207h.1M142 100h.1M424 260h.1M247 282h.1M221 335h.1M405 277h.1M240 98h.1M174 93h.1M147 218h.1M224 229h.1M196 157h.1M188 81h.1M227 27h.1M346 133h.1M337 188h.1M424 131h.1M323 208h.1M341 350h.1M395 166h.1M381 195h.1M385 108h.1M414 292h.1M178 176h.1M279 45h.1M224 120h.1M406 131h.1M235 282h.1M407 196h.1M308 133h.1M366 263h.1M426 269h.1M401 236h.1M137 173h.1M281 59h.1M247 173h.1M269 251h.1M261 44h.1M230 135h.1M219 250h.1M335 274h.1M383 229h.1M123 212h.1M309 132h.1M317 335h.1M416 209h.1M286 303h.1M383 194h.1M240 295h.1M283 68h.1M310 361h.1M383 281h.1M366 261h.1M258 225h.1M431 265h.1M360 46h.1M376 158h.1M252 117h.1M420 287h.1M293 111h.1M334 270h.1M263 149h.1M183 123h.1M403 268h.1M429 269h.1M182 124h.1M398 156h.1M297 110h.1M319 340h.1M279 338h.1M403 149h.1M412 213h.1M271 247h.1M359 225h.1M219 296h.1M242 235h.1M129 129h.1M133 200h.1M346 253h.1M159 164h.1M256 360h.1M265 359h.1M255 39h.1M127 223h.1M289 262h.1M144 119h.1M171 208h.1M424 154h.1M342 141h.1M375 290h.1M174 223h.1M266 65h.1M339 189h.1M347 156h.1M456 159h.1M387 267h.1M309 118h.1M311 191h.1M420 280h.1M297 231h.1M200 312h.1M162 180h.1M188 136h.1M364 63h.1M324 218h.1M242 157h.1M303 179h.1M382 177h.1M398 112h.1M431 198h.1M309 66h.1M317 335h.1M216 151h.1M358 108h.1M349 316h.1M144 218h.1M192 188h.1M270 280h.1M186 193h.1M235 70h.1M311 281h.1M131 136h.1M198 183h.1M407 145h.1M296 141h.1M258 193h.1M363 74h.1M412 312h.1M288 178h.1M129 132h.1M333 152h.1M335 286h.1M440 269h.1M407 144h.1M128 152h.1M201 216h.1M273 110h.1M148 208h.1M268 367h.1M305 96h.1M148 209h.1M353 328h.1M232 346h.1M142 183h.1M193 281h.1M412 114h.1M274 355h.1M299 30h.1M201 250h.1M397 89h.1M132 146h.1M200 308h.1M201 195h.1M435 92h.1M235 188h.1M300 86h.1M225 105h.1M372 131h.1M340 326h.1M150 136h.1M192 87h.1M333 209h.1M445 274h.1M166 299h.1M211 107h.1M382 168h.1M226 202h.1M133 186h.1M452 255h.1M347 265h.1M296 76h.1M187 267h.1M366 170h.1M434 229h.1M380 150h.1M239 312h.1M261 309h.1M264 52h.1M343 224h.1M200 336h.1M294 269h.1M236 70h.1M346 57h.1M180 103h.1M192 295h.1M317 29h.1M204 285h.1M390 93h.1M185 238h.1M203 165h.1M255 323h.1M196 159h.1M314 266h.1M232 194h.1M396 152h.1M181 254h.1M392 102h.1M351 101h.1M217 167h.1M285 122h.1M318 196h.1M223 84h.1M449 235h.1M316 304h.1M360 324h.1M251 24h.1M363 55h.1M312 197h.1M426 287h.1M354 136h.1M295 47h.1M161 187h.1M166 271h.1M190 165h.1M332 288h.1M275 75h.1M367 110h.1M198 304h.1M466 206h.1M125 144h.1M366 225h.1M368 90h.1M275 319h.1M233 352h.1M306 330h.1M150 175h.1M165 80h.1M308 152h.1M268 331h.1M372 335h.1M176 322h.1M369 171h.1M355 196h.1M397 255h.1M398 111h.1M341 281h.1M338 325h.1M432 279h.1M166 277h.1M433 207h.1M270 93h.1M140 215h.1M201 187h.1M287 274h.1M284 101h.1M389 276h.1M399 64h.1M190 267h.1M325 310h.1M287 355h.1M284 365h.1M127 246h.1M267 139h.1M346 333h.1M258 247h.1M284 60h.1M299 315h.1M407 226h.1M320 97h.1M432 186h.1M249 300h.1M128 187h.1M271 154h.1M276 331h.1M166 229h.1M365 133h.1M347 162h.1M390 188h.1M292 319h.1M327 245h.1M344 227h.1M343 34h.1M242 346h.1M459 243h.1M425 115h.1M411 273h.1M219 67h.1M156 180h.1M296 63h.1M210 185h.1M324 316h.1M186 135h.1M229 38h.1M323 50h.1M286 293h.1M325 98h.1M332 85h.1M427 115h.1M282 204h.1M252 256h.1M389 299h.1M295 340h.1M362 126h.1M217 85h.1M376 301h.1M292 118h.1M420 225h.1M328 249h.1M139 150h.1M137 186h.1M410 222h.1M377 129h.1M137 178h.1M421 220h.1M235 289h.1M134 237h.1M181 102h.1M394 281h.1M152 127h.1M428 190h.1M270 49h.1M432 205h.1M325 156h.1M389 154h.1M343 259h.1M246 27h.1M407 193h.1M400 311h.1M252 316h.1M247 223h.1M168 321h.1M313 237h.1M444 154h.1M255 60h.1M173 243h.1M243 172h.1M404 184h.1M182 295h.1M275 178h.1M457 215h.1M457 140h.1M385 47h.1M198 67h.1M403 257h.1M263 123h.1M434 157h.1M186 253h.1M376 236h.1M263 77h.1M429 231h.1M416 158h.1M343 343h.1M247 69h.1M249 204h.1M401 180h.1M252 210h.1M184 132h.1M397 200h.1M201 345h.1M354 250h.1M395 145h.1M414 288h.1M374 338h.1M204 340h.1M450 167h.1M209 202h.1M299 345h.1M357 263h.1M430 124h.1M463 151h.1M330 181h.1M390 311h.1M326 95h.1M172 97h.1M232 212h.1M182 239h.1M247 336h.1M400 324h.1M275 301h.1M197 177h.1M161 293h.1M309 210h.1M208 181h.1M443 161h.1M136 170h.1M204 287h.1M341 114h.1M180 283h.1M267 208h.1M189 130h.1M349 303h.1M156 135h.1M292 53h.1M310 335h.1M346 87h.1M183 195h.1M242 61h.1M270 363h.1M256 323h.1M459 136h.1M304 266h.1M318 205h.1M268 254h.1M342 149h.1M420 250h.1M279 35h.1M214 119h.1M358 31h.1M324 368h.1M183 171h.1M187 175h.1M224 64h.1M169 197h.1M279 41h.1M311 85h.1M166 249h.1M127 145h.1M400 88h.1M164 193h.1M361 333h.1M246 332h.1M386 191h.1M373 46h.1M345 100h.1M222 270h.1M199 278h.1M157 239h.1M398 195h.1M344 313h.1M280 346h.1M285 39h.1M452 225h.1M163 122h.1M401 109h.1M210 113h.1M259 276h.1M364 250h.1M361 166h.1M193 295h.1M259 133h.1M159 120h.1M431 236h.1M424 126h.1M257 216h.1M295 51h.1M148 183h.1M162 291h.1M226 290h.1M339 307h.1M154 119h.1M255 118h.1M403 80h.1M215 214h.1M343 177h.1M347 347h.1M289 102h.1M269 70h.1M136 223h.1M457 175h.1M159 162h.1M290 319h.1M170 74h.1M298 222h.1M352 309h.1M273 197h.1M291 247h.1M358 285h.1M364 122h.1M423 94h.1M128 181h.1M291 225h.1M401 326h.1M239 216h.1M248 361h.1M383 177h.1M133 269h.1M453 134h.1M311 245h.1M224 226h.1M233 355h.1M292 62h.1M318 334h.1M227 111h.1M416 131h.1M323 171h.1M430 137h.1M188 300h.1M352 297h.1M332 361h.1M195 88h.1M200 98h.1M227 134h.1M322 165h.1M176 183h.1M420 294h.1M261 309h.1M325 288h.1M258 178h.1M182 266h.1M368 263h.1M340 287h.1M405 271h.1M297 43h.1M275 361h.1M410 88h.1M146 278h.1M225 184h.1M282 231h.1M151 151h.1M280 216h.1M330 140h.1M274 293h.1M226 73h.1M348 344h.1M295 212h.1M258 169h.1M287 306h.1M268 101h.1M205 191h.1M290 67h.1M214 302h.1M191 279h.1M360 345h.1M338 163h.1M367 126h.1M344 352h.1M295 82h.1M402 283h.1M258 102h.1M390 133h.1M174 201h.1M314 345h.1M410 85h.1M301 192h.1M372 303h.1M203 275h.1M445 278h.1M308 286h.1M123 203h.1M166 130h.1M313 71h.1M191 318h.1M182 283h.1M204 75h.1M149 275h.1M189 173h.1M229 27h.1M193 302h.1M176 322h.1M236 41h.1M201 82h.1M303 64h.1M371 68h.1M176 243h.1M416 89h.1M136 227h.1M220 245h.1M241 225h.1M354 88h.1M348 204h.1M323 169h.1M159 216h.1M373 247h.1M272 273h.1M354 47h.1M189 171h.1M365 69h.1M163 281h.1M145 188h.1M361 312h.1M290 27h.1M390 330h.1M344 149h.1M218 146h.1M267 133h.1M201 59h.1M221 71h.1M128 240h.1M432 86h.1M362 297h.1M172 296h.1M373 178h.1M275 306h.1M355 161h.1M150 249h.1M284 306h.1M171 288h.1M256 146h.1M313 352h.1M136 251h.1M125 249h.1M153 158h.1M150 140h.1M256 88h.1M226 270h.1M307 65h.1M279 149h.1M205 250h.1M446 184h.1M286 68h.1M171 138h.1M135 124h.1M452 226h.1M296 292h.1M288 118h.1M309 334h.1M304 42h.1M235 157h.1M405 327h.1M420 125h.1M277 54h.1M248 258h.1M224 197h.1M289 169h.1M166 275h.1M211 204h.1M363 112h.1M391 150h.1M297 233h.1M215 86h.1M272 112h.1M181 239h.1M387 307h.1M192 152h.1M373 326h.1M388 329h.1M301 263h.1M244 38h.1M242 214h.1M378 45h.1M148 269h.1M293 219h.1M214 168h.1M372 110h.1M205 151h.1M258 64h.1M211 302h.1M160 222h.1M188 113h.1M376 271h.1M156 105h.1M227 222h.1M120 173h.1M407 207h.1M304 108h.1M232 167h.1M356 217h.1M303 229h.1M225 283h.1M289 291h.1M247 52h.1M394 286h.1M155 148h.1M364 237h.1M435 285h.1M364 152h.1M183 241h.1M267 358h.1M419 96h.1M290 199h.1M260 362h.1M251 107h.1M329 276h.1M202 150h.1M369 118h.1M424 201h.1M265 183h.1M196 104h.1M452 120h.1M334 267h.1M122 144h.1M398 266h.1M346 107h.1M460 141h.1M230 61h.1M270 90h.1M399 271h.1M273 288h.1M140 281h.1M185 159h.1M342 75h.1M247 255h.1M372 244h.1M176 261h.1M388 284h.1M290 85h.1M465 230h.1M290 365h.1M328 21h.1M363 235h.1M196 134h.1M370 222h.1M387 194h.1M126 236h.1M167 119h.1M147 200h.1M390 192h.1M451 167h.1M267 264h.1M187 245h.1M158 209h.1M211 67h.1M292 228h.1M240 91h.1M262 170h.1M207 223h.1M198 69h.1M271 210h.1M407 98h.1M267 302h.1M461 220h.1M289 224h.1M394 89h.1M241 319h.1M244 109h.1M396 158h.1M338 270h.1M246 84h.1M353 256h.1M202 306h.1M435 128h.1M309 315h.1M232 90h.1M189 175h.1M284 37h.1M354 30h.1M287 137h.1M421 274h.1M355 339h.1M251 79h.1M205 154h.1M243 77h.1M290 83h.1M443 237h.1M260 218h.1M300 49h.1M293 339h.1M417 167h.1M409 115h.1M251 137h.1M319 312h.1M336 63h.1M231 247h.1M256 100h.1M270 74h.1M303 262h.1M255 148h.1M356 315h.1M213 57h.1M255 227h.1M177 82h.1M460 168h.1M150 157h.1M191 306h.1M169 245h.1M197 211h.1M145 170h.1M146 194h.1M374 184h.1M157 131h.1M208 255h.1M335 33h.1M181 145h.1M435 102h.1M416 295h.1M201 273h.1M306 290h.1M354 347h.1M272 169h.1M198 334h.1M308 143h.1M312 111h.1M309 65h.1M232 355h.1M337 201h.1M248 143h.1M338 132h.1M335 219h.1M165 124h.1M190 183h.1M401 282h.1M364 155h.1M337 303h.1M411 174h.1M235 270h.1M231 316h.1M268 70h.1M281 197h.1M335 165h.1M339 361h.1M173 122h.1M278 47h.1M185 262h.1M298 136h.1M181 89h.1M139 128h.1M232 251h.1M157 298h.1M382 315h.1M310 172h.1M430 111h.1M335 64h.1M248 87h.1M382 72h.1M160 258h.1M366 243h.1M469 176h.1M250 142h.1M266 367h.1M395 118h.1M127 132h.1M157 95h.1M136 230h.1M217 237h.1M435 162h.1M135 276h.1M254 251h.1M270 331h.1M370 106h.1M396 270h.1M234 193h.1M240 191h.1M366 78h.1M257 155h.1M421 201h.1M163 236h.1M354 59h.1M273 129h.1M281 92h.1M130 245h.1M316 130h.1M307 92h.1M260 143h.1M199 89h.1M289 51h.1M230 246h.1M376 63h.1M291 361h.1M332 300h.1M312 174h.1M267 217h.1M457 182h.1M272 60h.1M139 251h.1M368 73h.1M326 181h.1M303 356h.1M300 115h.1M354 182h.1M268 346h.1M223 321h.1M238 103h.1M266 158h.1M273 369h.1M407 132h.1M253 279h.1M349 48h.1M429 153h.1M440 176h.1M370 200h.1M369 179h.1M219 314h.1M276 100h.1M265 33h.1M305 318h.1M209 303h.1M315 114h.1M260 216h.1M364 76h.1M338 266h.1M377 265h.1M142 131h.1M420 93h.1M225 151h.1M307 272h.1M324 157h.1M360 108h.1M252 70h.1M321 174h.1M201 179h.1M201 192h.1M152 271h.1M136 155h.1M389 191h.1M137 243h.1M253 244h.1M142 139h.1M412 62h.1M148 267h.1M328 311h.1M285 349h.1M223 124h.1M235 146h.1M371 56h.1M242 139h.1M306 173h.1M407 65h.1M292 255h.1M431 298h.1M297 349h.1M283 258h.1M302 257h.1M196 263h.1M174 168h.1M166 316h.1M313 134h.1M280 278h.1M178 280h.1M146 254h.1M376 48h.1M144 282h.1M329 257h.1M196 247h.1M394 216h.1M266 194h.1M147 118h.1M397 307h.1M230 206h.1M436 267h.1M248 210h.1M305 211h.1M205 274h.1M402 321h.1M252 90h.1M213 176h.1M251 26h.1M297 260h.1M310 307h.1M247 119h.1M228 229h.1M218 128h.1M201 237h.1M329 249h.1M264 243h.1M214 219h.1M254 92h.1M298 232h.1M281 267h.1M464 188h.1M378 129h.1M121 179h.1M347 136h.1M250 83h.1M194 301h.1M344 123h.1M351 195h.1M160 108h.1M412 258h.1M208 232h.1M310 352h.1M262 65h.1M353 158h.1M355 238h.1M258 26h.1M359 280h.1M267 326h.1M198 92h.1M245 341h.1M396 130h.1M292 339h.1M446 175h.1M312 152h.1M387 233h.1M184 201h.1M461 163h.1M140 251h.1M366 225h.1M304 148h.1M252 131h.1M324 237h.1M134 150h.1M263 231h.1M206 76h.1M430 280h.1M331 262h.1M407 212h.1M403 57h.1M367 346h.1M340 237h.1M400 149h.1M199 252h.1M337 52h.1M226 234h.1M428 191h.1M170 166h.1M366 133h.1M322 364h.1M273 195h.1M271 198h.1M169 193h.1M388 227h.1M402 277h.1M145 163h.1M121 207h.1M381 135h.1M313 123h.1M314 307h.1M275 313h.1M165 113h.1M453 165h.1M405 151h.1M233 328h.1M412 206h.1M167 130h.1M350 277h.1M330 313h.1M296 126h.1M146 172h.1M309 254h.1M177 302h.1M209 322h.1M254 280h.1M163 275h.1M410 243h.1M134 237h.1M284 275h.1M123 183h.1M176 218h.1M335 294h.1M327 288h.1M407 147h.1M417 220h.1M384 275h.1M328 208h.1M187 111h.1M208 318h.1M256 77h.1M259 83h.1M300 124h.1M419 131h.1M148 134h.1M316 49h.1M270 247h.1M322 366h.1M373 130h.1M250 155h.1M387 274h.1M233 327h.1M354 60h.1M307 166h.1M463 224h.1M388 44h.1M305 68h.1M319 234h.1M216 181h.1M367 298h.1M444 107h.1M280 161h.1M423 202h.1M159 142h.1M280 208h.1M313 243h.1M172 305h.1M253 316h.1M435 178h.1M158 219h.1M174 210h.1M236 304h.1M236 215h.1M419 80h.1M186 128h.1M254 317h.1M251 174h.1M233 143h.1M446 125h.1M139 173h.1M263 88h.1M278 58h.1M181 232h.1M341 328h.1M198 83h.1M399 200h.1M407 315h.1M150 236h.1M354 191h.1M222 146h.1M421 192h.1M236 257h.1M124 137h.1M277 199h.1M304 360h.1M253 25h.1M234 263h.1M370 252h.1M299 180h.1M333 341h.1M364 124h.1M339 258h.1M223 354h.1M171 289h.1M433 280h.1M214 212h.1M463 229h.1M247 129h.1M389 47h.1M325 120h.1M345 114h.1M138 180h.1M274 133h.1M318 237h.1M232 299h.1M276 239h.1M427 113h.1M408 235h.1M408 69h.1M315 43h.1M133 116h.1M308 62h.1M338 317h.1M260 246h.1M166 194h.1M425 250h.1M238 133h.1M225 228h.1M183 164h.1M379 259h.1M441 257h.1M226 224h.1M131 149h.1M293 357h.1M256 104h.1M373 336h.1M429 240h.1M151 95h.1M291 42h.1M365 61h.1M343 217h.1M175 320h.1M309 310h.1M232 314h.1M168 154h.1M216 231h.1M225 328h.1M327 192h.1M342 340h.1M219 69h.1M215 126h.1M206 81h.1M280 146h.1M445 188h.1M407 169h.1M416 127h.1M230 179h.1M353 60h.1M201 258h.1M220 192h.1M214 148h.1M358 45h.1M274 316h.1M351 200h.1M337 42h.1M385 344h.1M260 310h.1M166 147h.1M370 91h.1M215 192h.1M262 41h.1M347 321h.1M421 258h.1M432 258h.1M313 201h.1M272 25h.1M315 224h.1M404 279h.1M256 140h.1M384 187h.1M197 42h.1M413 244h.1M429 116h.1M190 285h.1M456 261h.1M336 247h.1M348 158h.1M439 140h.1M315 275h.1M155 96h.1M276 344h.1M306 204h.1M185 136h.1M323 269h.1M142 224h.1M251 195h.1M334 295h.1M381 154h.1M131 145h.1M229 214h.1M305 152h.1M189 88h.1M226 99h.1M412 175h.1M363 45h.1M244 108h.1M127 207h.1M387 114h.1M401 173h.1M377 104h.1M244 132h.1M217 32h.1M228 84h.1M340 317h.1M162 148h.1M288 188h.1M325 120h.1M411 180h.1M158 99h.1M412 104h.1M219 128h.1M254 197h.1M389 47h.1M345 284h.1M393 317h.1M370 201h.1M367 68h.1M352 149h.1M275 56h.1M371 135h.1M321 33h.1M149 237h.1M280 182h.1M347 264h.1M242 279h.1M176 263h.1M193 334h.1M438 217h.1M352 61h.1M214 69h.1M341 328h.1M360 214h.1M401 262h.1M153 83h.1M310 293h.1M340 269h.1M351 48h.1M307 52h.1M457 200h.1M361 92h.1M298 259h.1M359 268h.1M246 351h.1M128 184h.1M273 63h.1M415 92h.1M275 119h.1M204 148h.1M382 94h.1M244 50h.1M384 227h.1M177 247h.1M277 154h.1M268 179h.1M347 51h.1M392 249h.1M233 60h.1M147 212h.1M218 182h.1M161 272h.1M338 328h.1M310 176h.1M368 58h.1M180 182h.1M326 282h.1M245 58h.1M223 260h.1M223 196h.1M353 241h.1M398 235h.1M382 227h.1M258 109h.1M407 110h.1M303 357h.1M264 197h.1M249 322h.1M400 124h.1M327 69h.1M263 74h.1M271 259h.1M427 168h.1M344 319h.1M461 181h.1M149 93h.1M270 129h.1M232 324h.1M259 141h.1M372 165h.1M278 130h.1M315 310h.1M401 64h.1M467 193h.1M227 297h.1M380 325h.1M288 273h.1M183 240h.1M359 264h.1M420 142h.1M448 161h.1M314 61h.1M426 224h.1M137 174h.1M171 244h.1M334 326h.1M339 157h.1M265 210h.1M333 242h.1M253 286h.1M401 158h.1M177 311h.1M375 226h.1M285 156h.1M357 326h.1M368 286h.1M414 272h.1M338 360h.1M171 162h.1M362 166h.1M407 231h.1M386 168h.1M376 191h.1M373 299h.1M352 43h.1M261 142h.1M447 109h.1M419 177h.1M304 109h.1M182 60h.1M320 161h.1M155 145h.1M443 266h.1M220 145h.1M299 323h.1M201 167h.1M205 348h.1M303 196h.1M224 126h.1M202 251h.1M152 153h.1M359 131h.1M321 336h.1M193 137h.1M443 284h.1M212 336h.1M322 81h.1M208 151h.1M464 182h.1M344 57h.1M385 292h.1M296 56h.1M321 20h.1M409 171h.1M119 168h.1M276 207h.1M284 162h.1M136 261h.1M441 130h.1M229 275h.1M419 200h.1M238 310h.1M305 184h.1M315 345h.1M358 115h.1M242 208h.1M158 174h.1M347 309h.1M147 210h.1M272 126h.1M231 353h.1M280 142h.1M314 334h.1M408 79h.1M400 73h.1M374 342h.1M376 339h.1M245 315h.1M242 321h.1M243 320h.1M388 147h.1M394 137h.1M390 139h.1M391 151h.1M391 140h.1M385 139h.1M390 134h.1M389 136h.1M183 272h.1M185 270h.1M183 268h.1M181 277h.1M184 268h.1M183 270h.1M133 202h.1M128 200h.1M132 212h.1M129 206h.1M340 265h.1M340 268h.1M433 191h.1M424 190h.1M426 189h.1M430 190h.1M431 196h.1M425 191h.1M252 258h.1M245 260h.1M247 260h.1M244 259h.1M242 261h.1M340 261h.1M339 262h.1M338 257h.1M340 263h.1M338 262h.1M341 261h.1M340 262h.1M211 330h.1M212 329h.1M212 330h.1M356 283h.1M361 284h.1M358 286h.1M360 278h.1M360 289h.1M350 183h.1M354 180h.1M236 264h.1M239 268h.1M235 266h.1M237 266h.1M232 268h.1M195 120h.1M378 189h.1M386 184h.1M381 189h.1M378 190h.1M382 187h.1M380 186h.1M378 189h.1M380 188h.1M383 186h.1M351 97h.1M339 104h.1M348 100h.1M352 97h.1M356 93h.1M350 92h.1M344 94h.1M236 300h.1M234 300h.1M241 296h.1M235 299h.1M231 305h.1M236 299h.1M275 179h.1M270 183h.1M136 200h.1M132 201h.1M137 201h.1M128 202h.1M142 205h.1M131 212h.1M135 201h.1M135 197h.1M385 92h.1M378 99h.1M378 96h.1M284 308h.1M286 307h.1M284 308h.1M286 306h.1M286 302h.1M277 186h.1M276 190h.1M280 193h.1M281 189h.1M273 186h.1M280 186h.1M273 192h.1M278 186h.1M285 186h.1M274 192h.1M346 319h.1M348 315h.1M349 323h.1M344 318h.1M353 204h.1M349 211h.1M353 205h.1M353 211h.1M353 210h.1M338 244h.1M339 247h.1M336 248h.1M329 246h.1M336 249h.1M340 246h.1M255 304h.1M359 302h.1M372 304h.1M365 297h.1M305 73h.1M306 28h.1M317 28h.1M307 36h.1M309 36h.1M316 33h.1M302 29h.1M306 30h.1M306 26h.1M308 36h.1M352 290h.1M349 284h.1M352 283h.1M354 288h.1M351 284h.1M350 284h.1M349 288h.1M201 137h.1M205 136h.1M202 136h.1M197 134h.1M379 273h.1M380 273h.1M382 272h.1M384 272h.1M216 238h.1M213 239h.1M213 240h.1M211 239h.1M217 242h.1M221 240h.1M216 239h.1M216 237h.1M214 242h.1M224 156h.1M226 155h.1M223 160h.1M220 155h.1M224 163h.1M223 159h.1M233 304h.1M230 302h.1M234 306h.1M232 301h.1M231 295h.1M239 299h.1M230 304h.1M237 304h.1M234 307h.1M234 303h.1M169 291h.1M171 294h.1M172 296h.1M462 184h.1M464 185h.1M464 184h.1M463 182h.1M464 184h.1M326 177h.1M334 175h.1M332 178h.1M332 175h.1M329 183h.1M298 362h.1M289 364h.1M297 368h.1M293 365h.1M290 370h.1M267 333h.1M263 334h.1M264 332h.1M265 333h.1M265 332h.1M410 77h.1M410 75h.1M405 84h.1M407 75h.1M375 339h.1M372 335h.1M380 338h.1M372 331h.1M376 337h.1M379 331h.1M380 328h.1M378 331h.1M296 195h.1M252 299h.1M251 300h.1M252 293h.1M431 182h.1M436 183h.1M311 138h.1M313 138h.1M313 135h.1M316 136h.1M315 140h.1M259 290h.1M368 104h.1M367 105h.1M365 110h.1M365 105h.1M370 106h.1M376 109h.1M376 100h.1M376 100h.1M288 248h.1M189 180h.1M191 179h.1M339 245h.1M331 251h.1M335 246h.1M337 244h.1M329 246h.1M270 91h.1M270 95h.1M269 88h.1M274 92h.1M271 96h.1M272 91h.1M271 93h.1M270 90h.1M270 90h.1M208 73h.1M207 80h.1M386 322h.1M388 327h.1M387 327h.1M384 324h.1M386 324h.1M201 137h.1M204 144h.1M202 136h.1M203 135h.1M204 142h.1M441 224h.1M446 224h.1M438 227h.1M442 228h.1M445 227h.1M441 224h.1M443 228h.1M445 224h.1M440 232h.1M445 230h.1M447 192h.1M449 197h.1M447 188h.1M444 183h.1M440 189h.1M299 265h.1M297 266h.1M295 263h.1M295 263h.1M298 265h.1M297 265h.1M297 264h.1M296 262h.1M210 192h.1M212 188h.1M212 188h.1M312 140h.1M321 136h.1M323 141h.1M315 145h.1M313 139h.1M379 97h.1M384 102h.1M261 195h.1M263 191h.1M236 219h.1M235 213h.1M235 216h.1M237 215h.1M236 219h.1M245 223h.1M243 214h.1M238 211h.1M239 215h.1M443 153h.1M448 147h.1M279 168h.1M281 167h.1M282 163h.1M281 165h.1M163 167h.1M163 165h.1M164 167h.1M165 165h.1M164 167h.1M163 169h.1M166 165h.1M163 164h.1M159 166h.1M175 144h.1M176 141h.1M222 199h.1M229 202h.1M232 199h.1M340 266h.1M339 268h.1M339 266h.1M335 266h.1M335 263h.1M335 268h.1M336 266h.1M229 159h.1M226 154h.1M228 146h.1M225 150h.1M150 142h.1M368 260h.1M378 263h.1M373 264h.1M386 287h.1M388 284h.1M226 156h.1M224 157h.1M223 158h.1M227 148h.1M221 152h.1M222 155h.1M223 157h.1M220 149h.1M439 242h.1M201 110h.1M200 114h.1M202 113h.1M352 139h.1M352 135h.1M140 233h.1M140 230h.1M139 233h.1M360 186h.1M368 190h.1M223 324h.1M225 321h.1M226 320h.1M223 326h.1M396 194h.1M398 199h.1M392 197h.1M398 195h.1M397 201h.1M394 200h.1M400 199h.1M399 192h.1M213 61h.1M207 54h.1M213 55h.1M218 87h.1M300 367h.1M301 363h.1M301 369h.1M302 368h.1M300 369h.1M467 207h.1M466 206h.1M465 208h.1M467 208h.1M465 209h.1M467 206h.1M462 210h.1M466 210h.1M414 313h.1M407 304h.1M439 242h.1M441 244h.1M440 242h.1M436 238h.1M438 236h.1M296 19h.1M287 22h.1M303 31h.1M293 29h.1M300 20h.1M290 15h.1M364 205h.1M357 210h.1M364 206h.1M355 211h.1M312 320h.1M317 319h.1M315 321h.1M316 323h.1M317 318h.1M306 315h.1M302 317h.1M304 312h.1M304 312h.1M305 316h.1M316 176h.1M316 176h.1M318 171h.1M317 172h.1M318 171h.1M317 173h.1M392 338h.1M155 269h.1M154 269h.1M156 272h.1M162 266h.1M160 269h.1M455 124h.1M455 128h.1M454 131h.1M453 125h.1M456 128h.1M455 125h.1M248 294h.1M194 159h.1M197 155h.1M198 164h.1M381 99h.1M388 93h.1M379 102h.1M386 98h.1M391 103h.1M362 181h.1M364 179h.1M301 227h.1M297 227h.1M403 244h.1M362 252h.1M364 250h.1M368 248h.1M369 243h.1M361 253h.1M369 240h.1M298 229h.1M299 224h.1M305 225h.1M297 223h.1M293 225h.1M294 226h.1M184 71h.1M180 76h.1M174 76h.1M180 81h.1M183 76h.1M183 81h.1M185 161h.1M193 165h.1M194 166h.1M194 164h.1M193 162h.1M188 171h.1M192 161h.1M191 165h.1M198 163h.1M442 120h.1M447 118h.1M442 117h.1M449 116h.1M446 117h.1M444 114h.1M444 113h.1M320 325h.1M312 323h.1M308 325h.1M316 320h.1M307 320h.1M236 276h.1M230 274h.1M237 269h.1M244 113h.1M251 115h.1M246 115h.1M242 117h.1M247 120h.1M251 113h.1M242 120h.1M254 123h.1M250 122h.1M198 92h.1M202 93h.1M204 88h.1M211 84h.1M208 93h.1M205 91h.1M200 84h.1M208 89h.1M208 88h.1M305 342h.1M295 338h.1M295 345h.1M299 347h.1M299 341h.1M299 348h.1M306 344h.1M320 181h.1M319 178h.1M320 182h.1M395 184h.1M389 184h.1M260 352h.1M261 366h.1M467 217h.1M465 213h.1M465 217h.1M467 214h.1M464 216h.1M466 215h.1M465 218h.1M198 247h.1M200 249h.1M199 250h.1M378 101h.1M379 96h.1M384 96h.1M381 103h.1M380 100h.1M381 98h.1M378 103h.1M381 97h.1M368 65h.1M360 58h.1M367 59h.1M359 60h.1M356 58h.1M358 60h.1M358 55h.1M368 65h.1M153 256h.1M146 261h.1M156 255h.1M334 349h.1M325 349h.1M310 269h.1M308 265h.1M308 275h.1M311 262h.1M308 267h.1M307 272h.1M212 290h.1M208 288h.1M319 21h.1M324 20h.1M322 21h.1M324 22h.1M323 19h.1M321 20h.1M323 25h.1M371 220h.1M374 231h.1M375 225h.1M370 230h.1M368 227h.1M314 17h.1M310 19h.1M312 20h.1M314 22h.1M312 20h.1M312 21h.1M309 363h.1M308 367h.1M307 367h.1M311 367h.1M397 124h.1M400 117h.1M259 200h.1M259 203h.1M311 277h.1M312 283h.1M312 279h.1M314 276h.1M315 285h.1M315 281h.1M359 61h.1M387 82h.1M384 83h.1M384 83h.1M387 86h.1M384 80h.1M363 297h.1M356 293h.1M179 133h.1M354 344h.1M357 345h.1M345 343h.1M352 345h.1M351 348h.1M353 346h.1M385 202h.1M287 103h.1M292 108h.1M285 104h.1M284 107h.1M282 112h.1M280 108h.1M280 117h.1M292 104h.1M321 174h.1M193 302h.1M188 307h.1M123 200h.1M126 199h.1M124 200h.1M124 201h.1M332 123h.1M334 125h.1M334 123h.1M282 244h.1M289 241h.1M285 244h.1M287 247h.1M281 240h.1M287 247h.1M173 282h.1M177 281h.1M163 275h.1M159 278h.1M164 275h.1M174 285h.1M405 145h.1M405 140h.1M158 93h.1M154 82h.1M402 260h.1M399 264h.1M402 264h.1M404 265h.1M402 263h.1M400 260h.1M397 261h.1M405 260h.1M402 267h.1M298 75h.1M300 72h.1M269 48h.1M274 48h.1M276 43h.1M272 47h.1M275 51h.1M278 50h.1M276 44h.1M269 50h.1M273 48h.1M423 113h.1M419 117h.1M421 118h.1M423 115h.1M422 114h.1M423 118h.1M423 116h.1M421 121h.1M374 93h.1M380 96h.1M372 90h.1M379 97h.1M375 94h.1M223 39h.1M225 38h.1M219 38h.1M222 31h.1M218 38h.1M225 42h.1M225 38h.1M261 219h.1M151 219h.1M155 224h.1M152 220h.1M155 220h.1M154 219h.1M156 221h.1M156 219h.1M153 218h.1M311 161h.1M312 161h.1M309 162h.1M297 159h.1M309 161h.1M185 234h.1M184 233h.1M184 233h.1M183 230h.1M375 269h.1M239 67h.1M244 66h.1M246 69h.1M243 64h.1M243 63h.1M243 58h.1M319 305h.1M324 309h.1M324 308h.1M321 309h.1M327 312h.1M188 153h.1M186 151h.1M190 151h.1M188 151h.1M186 157h.1M232 189h.1M228 186h.1M309 182h.1M310 190h.1M359 323h.1M360 328h.1M359 327h.1M362 331h.1M358 333h.1M459 145h.1M457 147h.1M454 148h.1M458 146h.1M457 141h.1M428 112h.1M432 106h.1M430 110h.1M428 110h.1M423 110h.1M431 115h.1M422 117h.1M253 319h.1M252 325h.1M304 288h.1M310 289h.1M304 289h.1M309 292h.1M308 289h.1M264 156h.1M261 153h.1M268 156h.1M270 156h.1M268 155h.1M262 159h.1M193 275h.1M193 277h.1M194 277h.1M194 277h.1M193 271h.1M410 235h.1M408 232h.1M414 243h.1M409 236h.1M212 260h.1M209 259h.1M208 255h.1M207 265h.1M205 265h.1M213 265h.1M330 19h.1M331 26h.1M325 20h.1M327 21h.1M331 21h.1M329 27h.1M327 364h.1M331 360h.1M325 363h.1M324 365h.1M190 183h.1M191 185h.1M189 183h.1M298 81h.1M301 84h.1M307 86h.1M410 224h.1M346 241h.1M342 248h.1M345 245h.1M354 173h.1M349 170h.1M354 171h.1M350 170h.1M352 172h.1M309 23h.1M306 21h.1M312 21h.1M305 20h.1M288 190h.1M280 190h.1M286 187h.1M285 195h.1M281 189h.1M284 189h.1M284 193h.1M372 64h.1M365 63h.1M145 200h.1M143 201h.1M143 198h.1M336 274h.1M336 275h.1M162 89h.1M165 88h.1M161 91h.1M169 90h.1M164 93h.1M176 149h.1M186 150h.1M180 156h.1M181 148h.1M186 155h.1M184 151h.1M183 151h.1M342 228h.1M344 236h.1M363 259h.1M369 261h.1M445 280h.1M436 274h.1M439 282h.1M439 269h.1M443 279h.1M439 275h.1M447 277h.1M447 277h.1M441 279h.1M463 200h.1M459 192h.1M468 191h.1M463 193h.1M342 327h.1M270 262h.1M269 259h.1M271 259h.1M273 256h.1M268 264h.1M273 262h.1M275 261h.1M351 301h.1M351 302h.1M138 236h.1M141 234h.1M137 228h.1M140 235h.1M139 232h.1M135 234h.1M142 233h.1M136 232h.1M429 136h.1M435 141h.1M434 143h.1M432 141h.1M429 140h.1M430 141h.1M350 331h.1M345 325h.1M341 328h.1M342 329h.1M372 151h.1M377 158h.1M376 160h.1M375 150h.1M299 145h.1M299 152h.1M308 149h.1M304 147h.1M316 95h.1M316 99h.1M316 97h.1M320 102h.1M316 97h.1M263 298h.1M260 295h.1M264 298h.1M266 296h.1M266 298h.1M269 180h.1M267 182h.1M271 177h.1M265 181h.1M270 180h.1M265 180h.1M271 180h.1M360 161h.1M357 156h.1M310 47h.1M308 47h.1M309 49h.1M306 47h.1M414 135h.1M414 138h.1M415 135h.1M413 134h.1M415 137h.1M414 134h.1M415 135h.1M414 134h.1M432 154h.1M396 329h.1M396 333h.1M394 335h.1M401 333h.1M398 333h.1M395 336h.1M392 335h.1M428 301h.1M430 219h.1M399 282h.1M347 359h.1M341 355h.1M338 359h.1M439 165h.1M193 237h.1M196 231h.1M192 241h.1M197 239h.1M192 239h.1M196 241h.1M193 240h.1M424 125h.1M424 123h.1M423 125h.1M421 127h.1M420 266h.1M420 269h.1M421 270h.1M137 263h.1M132 264h.1M296 144h.1M286 133h.1M301 146h.1M163 108h.1M157 107h.1M163 109h.1M163 111h.1M160 106h.1M158 108h.1M163 110h.1M161 111h.1M160 111h.1M172 297h.1M166 300h.1M164 298h.1M163 296h.1M172 292h.1M164 288h.1M174 300h.1M177 295h.1M388 248h.1M392 245h.1M391 243h.1M339 296h.1M329 309h.1M329 307h.1M338 299h.1M337 305h.1M338 305h.1M338 310h.1M329 302h.1M451 259h.1M451 262h.1M265 280h.1M272 278h.1M266 274h.1M269 287h.1M351 273h.1M354 276h.1M353 272h.1M334 134h.1M162 136h.1M159 138h.1M160 135h.1M158 140h.1M313 79h.1M310 75h.1M315 76h.1M312 77h.1M313 71h.1M347 55h.1M348 55h.1M348 53h.1M350 54h.1M349 56h.1M348 55h.1M254 110h.1M258 106h.1M258 109h.1M228 211h.1M228 216h.1M232 217h.1M226 220h.1M234 215h.1M229 215h.1M231 219h.1M233 219h.1M249 239h.1M258 239h.1M251 234h.1M257 242h.1M255 238h.1M151 249h.1M149 245h.1M146 246h.1M151 249h.1M316 167h.1M197 234h.1M205 227h.1M201 231h.1M191 296h.1M189 297h.1M188 298h.1M185 294h.1M286 65h.1M282 65h.1M288 59h.1M285 72h.1M282 67h.1M289 67h.1M273 65h.1M168 160h.1M170 156h.1M168 162h.1M226 46h.1M223 43h.1M225 47h.1M229 47h.1M222 48h.1M223 48h.1M223 48h.1M396 72h.1M393 70h.1M279 122h.1M282 116h.1M278 119h.1M452 215h.1M451 214h.1M451 212h.1M448 218h.1M453 215h.1M450 212h.1M450 212h.1M455 214h.1M451 213h.1M454 215h.1M358 66h.1M360 69h.1M358 72h.1M365 69h.1M357 74h.1M424 273h.1M429 274h.1M426 274h.1M427 275h.1M427 274h.1M429 274h.1M426 275h.1M424 275h.1M361 54h.1M352 44h.1M252 191h.1M251 186h.1M259 198h.1M256 187h.1M252 196h.1M249 190h.1M293 360h.1M289 354h.1M283 356h.1M284 358h.1M160 92h.1M163 86h.1M170 85h.1M164 85h.1M159 77h.1M167 90h.1M163 87h.1M161 80h.1M184 263h.1M181 264h.1M183 264h.1M186 260h.1M181 187h.1M172 182h.1M176 181h.1M182 182h.1M175 183h.1M176 187h.1M177 182h.1M309 314h.1M311 309h.1M312 309h.1M312 309h.1M312 308h.1M309 312h.1M312 313h.1M310 314h.1M362 270h.1M361 272h.1M360 269h.1M360 278h.1M363 270h.1M338 174h.1M338 175h.1M207 222h.1M204 219h.1M205 223h.1M204 221h.1M204 219h.1M413 153h.1M418 158h.1M415 155h.1M412 156h.1M407 157h.1M409 162h.1M412 156h.1M270 47h.1M263 46h.1M271 45h.1M268 47h.1M270 47h.1M267 46h.1M266 44h.1M268 48h.1M221 148h.1M215 150h.1M219 156h.1M317 340h.1M316 343h.1M317 340h.1M317 343h.1M386 270h.1M389 272h.1M389 271h.1M387 271h.1M389 268h.1M424 248h.1M420 252h.1M424 255h.1M424 250h.1M425 248h.1M423 254h.1M428 252h.1M427 249h.1M424 249h.1M141 247h.1M139 248h.1M142 248h.1M145 247h.1M142 246h.1M142 248h.1M143 248h.1M144 250h.1M364 77h.1M364 76h.1M366 75h.1M359 68h.1M418 195h.1M420 200h.1M415 194h.1M420 194h.1M414 201h.1M419 197h.1M418 198h.1M421 195h.1M418 197h.1M418 201h.1M325 280h.1M322 278h.1M325 277h.1M324 276h.1M324 276h.1M323 279h.1M323 280h.1M283 279h.1M288 283h.1M289 283h.1M300 183h.1M305 187h.1M302 189h.1M295 186h.1M291 190h.1M301 183h.1M300 190h.1M394 207h.1M399 206h.1M400 207h.1M399 206h.1M401 210h.1M331 166h.1M326 170h.1M332 174h.1M310 229h.1M175 210h.1M172 212h.1M177 217h.1M175 220h.1M173 216h.1M164 207h.1M327 41h.1M269 283h.1M262 286h.1M267 286h.1M281 167h.1M275 163h.1M271 171h.1M273 168h.1M273 164h.1M281 173h.1M273 172h.1M273 166h.1M292 281h.1M301 278h.1M303 280h.1M302 280h.1M298 281h.1M294 284h.1M298 276h.1M300 274h.1M298 281h.1M201 260h.1M197 260h.1M197 260h.1M202 260h.1M202 261h.1M200 259h.1M348 30h.1M351 32h.1M348 32h.1M346 36h.1M349 36h.1M347 37h.1M344 34h.1M186 288h.1M363 72h.1M357 75h.1M358 71h.1M355 73h.1M357 73h.1M359 68h.1M237 301h.1M244 300h.1M460 150h.1M463 157h.1M461 152h.1M458 148h.1M462 154h.1M229 279h.1M227 284h.1M230 283h.1M230 285h.1M224 282h.1M229 288h.1M228 282h.1M224 284h.1M235 282h.1M286 189h.1M287 66h.1M295 59h.1M295 56h.1M295 61h.1M292 60h.1M297 61h.1M435 162h.1M449 215h.1M455 209h.1M309 95h.1M311 96h.1M307 96h.1M306 99h.1M374 324h.1M147 120h.1M148 113h.1M141 117h.1M143 121h.1M152 114h.1M201 119h.1M201 118h.1M207 117h.1M206 122h.1M403 311h.1M394 306h.1M392 307h.1M416 276h.1M418 272h.1M419 274h.1M423 281h.1M419 274h.1M415 275h.1M420 275h.1M418 277h.1M422 274h.1M418 278h.1M239 329h.1M243 328h.1M245 329h.1M440 276h.1M439 272h.1M437 274h.1M438 275h.1M440 274h.1M413 279h.1M416 282h.1M420 272h.1M409 279h.1M419 277h.1M419 273h.1M302 238h.1M301 238h.1M302 240h.1M298 238h.1M298 238h.1M417 274h.1M417 281h.1M419 273h.1M272 41h.1M273 38h.1M274 42h.1M275 40h.1M273 48h.1M269 44h.1M274 43h.1M273 41h.1M273 39h.1M332 79h.1M333 71h.1M413 294h.1M416 296h.1M420 294h.1M421 293h.1M414 295h.1M316 351h.1M320 350h.1M317 343h.1M322 351h.1M323 357h.1M319 355h.1M323 343h.1M395 105h.1M412 99h.1M408 103h.1M400 103h.1M402 102h.1M295 91h.1M297 88h.1M297 89h.1M300 89h.1M295 90h.1M300 93h.1M299 91h.1M343 139h.1M348 137h.1M344 134h.1M410 294h.1M411 295h.1M413 307h.1M415 296h.1M276 119h.1M262 120h.1M445 173h.1M463 174h.1M435 201h.1M435 195h.1M435 195h.1M433 196h.1M434 192h.1M439 195h.1M433 198h.1M198 253h.1M199 241h.1M204 250h.1M197 256h.1M202 245h.1M203 247h.1M181 121h.1M185 119h.1M456 134h.1M457 133h.1M456 135h.1M458 133h.1M458 131h.1M454 133h.1M459 132h.1M457 134h.1M292 66h.1M301 65h.1M296 65h.1M296 67h.1M296 62h.1M340 342h.1M348 339h.1M350 335h.1M348 340h.1M345 338h.1M349 340h.1M343 333h.1M350 346h.1M340 334h.1M250 206h.1M252 203h.1M254 205h.1M253 203h.1M246 175h.1M248 173h.1M250 174h.1M247 179h.1M248 180h.1M252 172h.1M150 125h.1M151 120h.1M148 127h.1M150 123h.1M149 125h.1M151 123h.1M420 273h.1M413 269h.1M416 269h.1M420 274h.1M437 211h.1M434 213h.1M298 360h.1M292 358h.1M298 360h.1M186 193h.1M181 192h.1M180 194h.1M183 191h.1M185 191h.1M362 128h.1M364 125h.1M366 131h.1M364 124h.1M360 125h.1M297 16h.1M296 20h.1M406 98h.1M406 87h.1M406 98h.1M453 165h.1M454 169h.1M279 357h.1M288 357h.1M279 357h.1M285 351h.1M285 357h.1M232 157h.1M227 164h.1M222 158h.1M227 161h.1M222 161h.1M222 162h.1M218 166h.1M223 161h.1M173 64h.1M277 202h.1M277 198h.1M284 202h.1M276 202h.1M276 358h.1M277 359h.1M372 311h.1M373 313h.1M375 312h.1M375 312h.1M374 309h.1M375 312h.1M376 313h.1M339 41h.1M340 40h.1M339 44h.1M339 43h.1M389 215h.1M391 215h.1M395 214h.1M395 216h.1M391 213h.1M201 335h.1M192 338h.1M188 329h.1M197 331h.1M194 338h.1M197 328h.1M191 338h.1M193 333h.1M388 81h.1M395 80h.1M388 79h.1M386 81h.1M389 84h.1M390 82h.1M394 81h.1M318 227h.1M315 224h.1M288 363h.1M291 366h.1M291 363h.1M285 365h.1M299 371h.1M378 113h.1M373 115h.1M276 319h.1M270 319h.1M156 251h.1M152 253h.1M151 254h.1M235 264h.1M240 260h.1M243 254h.1M238 254h.1M213 320h.1M215 317h.1M212 320h.1M386 206h.1M137 245h.1M148 255h.1M140 248h.1M151 245h.1M146 250h.1M140 247h.1M398 111h.1M397 108h.1M395 109h.1M342 122h.1M342 118h.1M343 119h.1M339 119h.1M341 115h.1M271 18h.1M268 19h.1M234 121h.1M235 110h.1M240 121h.1M249 108h.1M262 108h.1M325 62h.1M331 57h.1M321 60h.1M332 56h.1M326 50h.1M315 93h.1M313 87h.1M309 92h.1M136 198h.1M217 213h.1M213 213h.1M223 208h.1M267 235h.1M271 242h.1M266 246h.1M267 234h.1M270 242h.1M267 238h.1M277 242h.1M273 239h.1M269 241h.1M281 84h.1M275 89h.1M278 85h.1M274 86h.1M271 92h.1M275 85h.1M314 160h.1M204 258h.1M206 255h.1M208 253h.1M205 253h.1M209 266h.1M247 101h.1M245 110h.1M243 102h.1M406 247h.1M400 253h.1M390 250h.1M237 185h.1M235 188h.1M243 182h.1M266 64h.1M262 66h.1M263 68h.1M265 355h.1M266 352h.1M266 357h.1M265 355h.1M381 296h.1M381 293h.1M386 298h.1M321 49h.1M322 48h.1M426 119h.1M423 118h.1M423 111h.1M417 116h.1M430 112h.1M431 114h.1M277 89h.1M271 92h.1M273 95h.1M266 88h.1M243 159h.1M248 160h.1M244 156h.1M248 159h.1M246 156h.1M247 158h.1M248 159h.1M338 263h.1M330 259h.1M331 267h.1M336 259h.1M337 257h.1M326 257h.1M334 264h.1M332 263h.1M425 77h.1M420 79h.1M425 80h.1M424 80h.1M430 146h.1M434 143h.1M435 146h.1M429 145h.1M432 143h.1M438 140h.1M437 142h.1M445 172h.1M449 171h.1M447 172h.1M450 172h.1M446 174h.1M446 174h.1M451 175h.1M447 175h.1M221 85h.1M223 82h.1M211 84h.1M227 81h.1M211 87h.1M218 88h.1M219 78h.1M221 79h.1M300 290h.1M271 167h.1M266 168h.1M321 294h.1M325 291h.1M327 290h.1M320 298h.1M376 57h.1M377 61h.1M376 59h.1M376 56h.1M180 128h.1M184 125h.1M180 130h.1M187 132h.1M175 132h.1M180 132h.1M176 130h.1M187 134h.1M187 133h.1M156 245h.1M151 245h.1M152 244h.1M153 244h.1M156 249h.1M151 243h.1M154 245h.1M153 247h.1M241 225h.1M250 219h.1M243 217h.1M242 221h.1M241 214h.1M248 218h.1M248 217h.1M439 147h.1M429 145h.1M431 145h.1M433 146h.1M430 150h.1M432 152h.1M427 149h.1M248 184h.1M249 178h.1M242 183h.1M248 178h.1M251 176h.1M247 176h.1M336 77h.1M337 72h.1M177 156h.1M177 157h.1M178 154h.1M210 131h.1M207 127h.1M172 108h.1M165 99h.1M180 102h.1M184 173h.1M183 175h.1M184 172h.1M184 172h.1M184 174h.1M187 175h.1M186 175h.1M383 205h.1M386 203h.1M384 205h.1M389 208h.1M388 204h.1M388 209h.1M390 207h.1M390 202h.1M219 216h.1M215 219h.1M218 223h.1M216 220h.1M216 218h.1M220 219h.1M294 53h.1M406 181h.1M408 183h.1M409 186h.1M445 223h.1M442 223h.1M253 335h.1M252 334h.1M246 338h.1M174 168h.1M174 167h.1M172 165h.1M174 162h.1M291 163h.1M293 170h.1M182 316h.1M184 315h.1M226 111h.1M225 118h.1M227 110h.1M127 128h.1M256 280h.1M257 277h.1M257 275h.1M256 281h.1M258 276h.1M236 176h.1M264 21h.1M146 215h.1M143 217h.1M148 217h.1M147 217h.1M146 216h.1M144 215h.1M145 216h.1M408 150h.1M405 154h.1M411 153h.1M247 321h.1M248 319h.1M245 316h.1M242 321h.1M244 321h.1M248 319h.1M245 319h.1M246 316h.1M426 222h.1M427 220h.1M423 222h.1M426 225h.1M421 217h.1M212 294h.1M210 292h.1M211 295h.1M214 291h.1M273 263h.1M274 267h.1M436 119h.1M437 117h.1M437 113h.1M436 117h.1M436 117h.1M438 118h.1M181 165h.1M179 163h.1M179 167h.1M185 161h.1M174 157h.1M186 155h.1M176 327h.1M253 229h.1M248 230h.1M252 228h.1M251 229h.1M309 32h.1M292 111h.1M420 90h.1M413 91h.1M422 99h.1M249 262h.1M253 259h.1M248 258h.1M238 257h.1M251 256h.1M247 254h.1M254 253h.1M250 255h.1M399 292h.1M405 304h.1M401 295h.1M401 297h.1M314 333h.1M312 330h.1M409 203h.1M405 203h.1M404 201h.1M410 203h.1M405 201h.1M365 188h.1M355 177h.1M352 180h.1M363 180h.1M358 178h.1M357 182h.1M355 184h.1M355 184h.1M359 187h.1M217 133h.1M220 131h.1M222 136h.1M219 129h.1M257 209h.1M263 208h.1M262 208h.1M347 228h.1M346 226h.1M343 229h.1M168 152h.1M170 152h.1M170 150h.1M173 150h.1M172 150h.1M172 151h.1M391 62h.1M385 65h.1M391 66h.1M257 297h.1M256 293h.1M258 294h.1M260 289h.1M253 289h.1M206 106h.1M208 103h.1M205 107h.1M150 212h.1M148 223h.1M148 208h.1M149 218h.1M149 219h.1M154 219h.1M148 216h.1M206 303h.1M263 299h.1M263 302h.1M271 297h.1M262 294h.1M268 295h.1M267 296h.1M261 296h.1M261 295h.1M186 256h.1M186 256h.1M200 41h.1M202 44h.1M202 43h.1M420 214h.1M420 217h.1M423 214h.1M419 219h.1M424 213h.1M432 256h.1M433 253h.1M432 256h.1M433 258h.1M437 257h.1M430 252h.1M435 250h.1M435 258h.1M431 252h.1M274 58h.1M270 52h.1M269 49h.1M278 47h.1M273 48h.1M269 49h.1M119 204h.1M118 204h.1M120 207h.1M221 81h.1M237 82h.1M224 71h.1M246 355h.1M245 359h.1M242 357h.1M243 356h.1M246 355h.1M251 361h.1M250 356h.1M238 356h.1M245 361h.1M215 158h.1M210 163h.1M214 164h.1M216 165h.1M210 161h.1M214 162h.1M357 68h.1M361 66h.1M368 61h.1M363 64h.1M362 63h.1M362 67h.1M351 69h.1M358 69h.1M304 223h.1M307 225h.1M311 221h.1M298 221h.1M197 311h.1M197 312h.1M197 316h.1M198 316h.1M196 316h.1M198 316h.1M202 314h.1M197 312h.1M197 313h.1M248 140h.1M244 143h.1M247 139h.1M235 139h.1M240 141h.1M246 136h.1M238 137h.1M238 136h.1M154 296h.1M154 299h.1M154 298h.1M156 299h.1M156 297h.1M157 301h.1M449 201h.1M449 191h.1M454 190h.1M458 194h.1M454 195h.1M240 331h.1M233 333h.1M232 334h.1M227 329h.1M229 331h.1M226 326h.1M230 330h.1M142 160h.1M139 166h.1M142 166h.1M141 164h.1M374 173h.1M382 172h.1M371 173h.1M378 171h.1M310 320h.1M314 322h.1M316 329h.1M315 334h.1M319 321h.1M313 324h.1M267 187h.1M271 189h.1M266 185h.1M266 180h.1M268 185h.1M266 188h.1M304 251h.1M292 257h.1M298 249h.1M292 245h.1M164 153h.1M172 158h.1M162 200h.1M167 206h.1M172 212h.1M162 206h.1M162 203h.1M174 204h.1M414 89h.1M404 99h.1M414 99h.1M410 101h.1M410 99h.1M408 102h.1M405 105h.1M453 193h.1M459 190h.1M457 192h.1M450 188h.1M453 192h.1M452 192h.1M454 187h.1M457 189h.1M455 194h.1M442 266h.1M439 270h.1M437 270h.1M186 120h.1M192 129h.1M182 122h.1M267 317h.1M266 320h.1M266 320h.1M268 318h.1M284 233h.1M295 231h.1M291 227h.1M293 233h.1M341 249h.1M334 251h.1M335 250h.1M342 254h.1M338 254h.1M338 253h.1M337 306h.1M340 303h.1M340 308h.1M343 302h.1M346 312h.1M335 186h.1M339 184h.1M342 187h.1M335 188h.1M341 183h.1M338 191h.1M339 189h.1M130 264h.1M134 267h.1M136 263h.1M134 267h.1M208 282h.1M202 285h.1M211 280h.1M202 283h.1M207 288h.1M173 260h.1M179 257h.1M176 254h.1M173 257h.1M172 254h.1M170 256h.1M171 254h.1M397 234h.1M181 93h.1M178 92h.1M178 103h.1M180 103h.1M181 98h.1M176 99h.1M196 195h.1M192 196h.1M190 201h.1M188 188h.1M193 200h.1M178 88h.1M176 83h.1M181 82h.1M170 82h.1M174 86h.1M178 84h.1M174 82h.1M413 100h.1M413 107h.1M403 106h.1M410 101h.1M430 211h.1M430 217h.1M424 219h.1M222 151h.1M229 155h.1M231 151h.1M238 144h.1M220 146h.1M231 153h.1M232 155h.1M233 150h.1M219 144h.1M203 250h.1M207 244h.1M198 249h.1M200 240h.1M202 248h.1M206 251h.1M164 316h.1M164 316h.1M165 308h.1M165 309h.1M168 314h.1M168 320h.1M165 316h.1M458 218h.1M410 316h.1M400 318h.1M403 319h.1M404 320h.1M405 317h.1M411 317h.1M376 70h.1M373 70h.1M305 315h.1M303 315h.1M302 309h.1M297 319h.1M299 325h.1M304 320h.1M301 319h.1M424 196h.1M417 191h.1M420 200h.1M420 195h.1M421 195h.1M416 192h.1M416 201h.1M418 196h.1M420 198h.1M419 192h.1M322 196h.1M322 205h.1M325 194h.1M323 198h.1M319 195h.1M321 193h.1M319 203h.1M318 205h.1M244 312h.1M246 309h.1M245 312h.1M247 312h.1M245 309h.1M244 308h.1M243 311h.1M246 313h.1M248 309h.1M216 320h.1M218 319h.1M216 321h.1M215 320h.1M216 321h.1M218 320h.1M215 320h.1M216 319h.1M214 319h.1M216 319h.1M299 43h.1M301 39h.1M300 40h.1M298 37h.1M302 44h.1M293 36h.1M296 43h.1M212 79h.1M210 80h.1M207 83h.1M210 93h.1M364 37h.1M368 32h.1M361 31h.1M345 85h.1M347 87h.1M351 83h.1M349 85h.1M353 86h.1M349 80h.1M356 84h.1M320 104h.1M317 108h.1M312 108h.1M311 98h.1M317 104h.1M309 107h.1M446 232h.1M445 237h.1M444 229h.1M441 231h.1M442 240h.1M443 232h.1M444 243h.1M380 143h.1M382 145h.1M386 147h.1M382 143h.1M383 148h.1M386 143h.1M386 145h.1M412 148h.1M295 37h.1M293 34h.1M291 37h.1M293 38h.1M292 34h.1M293 38h.1M297 38h.1M293 36h.1M277 179h.1M281 180h.1M279 184h.1M275 182h.1M275 179h.1M276 177h.1M273 182h.1M278 183h.1M394 336h.1M394 336h.1M396 334h.1M397 330h.1M398 331h.1M395 336h.1M318 98h.1M321 100h.1M247 278h.1M248 283h.1M247 284h.1M315 270h.1M310 271h.1M205 259h.1M200 257h.1M203 261h.1M384 153h.1M391 148h.1M389 144h.1M394 147h.1M387 150h.1M432 104h.1M428 102h.1M431 107h.1M432 100h.1M429 103h.1M436 100h.1M319 32h.1M316 29h.1M320 30h.1M318 34h.1M318 32h.1M316 32h.1M319 29h.1M319 31h.1M365 31h.1M347 307h.1M343 302h.1M344 304h.1M343 303h.1M434 134h.1M432 127h.1M432 127h.1M437 124h.1M269 273h.1M160 204h.1M305 181h.1M303 181h.1M305 183h.1M302 179h.1M305 180h.1M303 179h.1M304 181h.1M304 179h.1M211 204h.1M211 206h.1M214 201h.1M209 200h.1M147 289h.1M150 283h.1M145 285h.1M305 53h.1M312 58h.1M311 59h.1M308 68h.1M313 51h.1M304 57h.1M311 155h.1M312 160h.1M449 239h.1M331 143h.1M253 156h.1M245 155h.1M310 31h.1M312 34h.1M308 37h.1M308 36h.1M306 35h.1M250 181h.1M248 179h.1M246 180h.1M249 182h.1M204 75h.1M206 78h.1M209 77h.1M296 194h.1M295 192h.1M293 193h.1M298 195h.1M296 195h.1M295 195h.1M297 193h.1M297 187h.1M293 194h.1M341 267h.1M338 262h.1M341 256h.1M341 265h.1M250 309h.1M248 309h.1M247 305h.1M249 304h.1M251 305h.1M255 306h.1M255 310h.1M446 202h.1M444 203h.1M331 326h.1M331 329h.1M331 326h.1M361 33h.1M362 31h.1M361 30h.1M363 33h.1M358 31h.1M326 180h.1M326 179h.1M325 181h.1M327 179h.1M298 223h.1M210 220h.1M209 219h.1M209 215h.1M211 221h.1M213 217h.1M361 124h.1M240 271h.1M235 266h.1M227 268h.1M232 269h.1M230 270h.1M230 263h.1M229 268h.1M233 271h.1M234 273h.1M237 150h.1M233 149h.1M243 148h.1M231 151h.1M233 146h.1M232 144h.1M237 147h.1M233 144h.1M238 291h.1M236 289h.1M238 289h.1M235 293h.1M181 126h.1M175 127h.1M179 126h.1M177 126h.1M180 130h.1M194 56h.1M189 50h.1M194 52h.1M194 49h.1M203 56h.1M203 43h.1M194 51h.1M190 52h.1M286 305h.1M283 300h.1M292 305h.1M286 306h.1M289 303h.1M287 301h.1M284 303h.1M205 220h.1M209 218h.1M210 215h.1M212 213h.1M208 209h.1M229 216h.1M231 215h.1M231 217h.1M229 220h.1M227 222h.1M227 239h.1M229 244h.1M232 231h.1M293 348h.1M293 347h.1M298 346h.1M292 350h.1M399 136h.1M404 129h.1M177 225h.1M174 223h.1M174 222h.1M175 227h.1M171 226h.1M354 262h.1M345 257h.1M343 262h.1M351 257h.1M345 261h.1M348 261h.1M344 269h.1M277 95h.1M278 96h.1M277 95h.1M272 96h.1M280 96h.1M278 96h.1M273 95h.1M280 99h.1M372 253h.1M366 256h.1M364 261h.1M373 254h.1M363 257h.1M376 255h.1M368 256h.1M300 199h.1M297 191h.1M296 195h.1M286 194h.1M224 327h.1M228 332h.1M220 337h.1M233 330h.1M231 333h.1M226 333h.1M395 326h.1M385 325h.1M182 76h.1M180 75h.1M389 261h.1M390 258h.1M392 255h.1M402 252h.1M398 255h.1M410 260h.1M403 253h.1M388 262h.1M293 327h.1M296 325h.1M229 297h.1M239 46h.1M238 47h.1M242 49h.1M238 46h.1M236 46h.1M337 118h.1M341 122h.1M338 121h.1M340 123h.1M339 119h.1M402 262h.1M401 269h.1M424 278h.1M422 279h.1M423 284h.1M422 280h.1M191 217h.1M179 218h.1M179 217h.1M229 137h.1M230 139h.1M233 145h.1M235 136h.1M228 131h.1M222 137h.1M131 163h.1M125 164h.1M135 165h.1M124 158h.1M135 170h.1M133 164h.1M125 163h.1M128 173h.1M260 173h.1M313 259h.1M313 256h.1M312 259h.1M316 259h.1M313 253h.1M315 261h.1M312 251h.1M285 287h.1M286 287h.1M285 287h.1M287 286h.1M372 243h.1M371 246h.1M375 246h.1M375 243h.1M375 246h.1M374 240h.1M285 146h.1M290 138h.1M287 144h.1M287 143h.1M283 140h.1M285 145h.1M305 167h.1M305 163h.1M305 167h.1M307 164h.1M365 171h.1M363 170h.1M428 130h.1M432 132h.1M427 134h.1M425 138h.1M427 130h.1M298 109h.1M298 112h.1M300 112h.1M297 112h.1M265 179h.1M266 180h.1M267 174h.1M265 177h.1M263 171h.1M261 178h.1M277 253h.1M280 248h.1M279 251h.1M276 249h.1M231 320h.1M229 321h.1M227 323h.1M224 318h.1M227 319h.1M227 319h.1M233 323h.1M225 176h.1M219 174h.1M220 179h.1M221 181h.1M222 185h.1M218 176h.1M221 174h.1M220 184h.1M214 180h.1M225 180h.1M302 332h.1M301 322h.1M310 319h.1M304 321h.1M143 111h.1M446 108h.1M448 111h.1M446 111h.1M445 110h.1M445 102h.1M444 103h.1M145 251h.1M152 253h.1M144 250h.1M144 247h.1M422 139h.1M421 141h.1M423 139h.1M426 138h.1M424 137h.1M423 141h.1M424 139h.1M181 164h.1M178 153h.1M184 150h.1M186 159h.1M185 152h.1M329 310h.1M330 302h.1M259 213h.1M260 210h.1M254 210h.1M257 212h.1M372 119h.1M372 123h.1M372 116h.1M369 119h.1M371 118h.1M370 119h.1M374 122h.1M369 116h.1M224 122h.1M218 126h.1M218 122h.1M218 124h.1M223 139h.1M216 129h.1M218 124h.1M216 124h.1M222 128h.1M217 126h.1M391 227h.1M429 215h.1M431 219h.1M423 213h.1M430 218h.1M419 221h.1M429 221h.1M429 212h.1M432 220h.1M316 185h.1M317 185h.1M318 183h.1M384 332h.1M386 318h.1M382 329h.1M382 330h.1M383 327h.1M374 326h.1M371 328h.1M379 330h.1M451 239h.1M452 241h.1M455 241h.1M453 241h.1M455 237h.1M456 238h.1M455 239h.1M143 215h.1M144 213h.1M146 213h.1M147 214h.1M145 212h.1M148 211h.1M250 43h.1M255 43h.1M253 44h.1M252 45h.1M424 217h.1M273 113h.1M169 235h.1M164 226h.1M165 222h.1M169 231h.1M167 230h.1M162 230h.1M170 228h.1M222 195h.1M226 200h.1M226 200h.1M227 195h.1M225 198h.1M228 200h.1M292 212h.1M286 212h.1M292 211h.1M290 211h.1M302 130h.1M302 132h.1M299 132h.1M305 133h.1M304 132h.1M303 130h.1M361 282h.1M363 115h.1M357 117h.1M363 116h.1M368 114h.1M362 113h.1M364 118h.1M380 225h.1M382 225h.1M389 222h.1M444 177h.1M439 177h.1M303 61h.1M309 57h.1M301 63h.1M235 90h.1M234 93h.1M237 89h.1M332 87h.1M332 87h.1M331 88h.1M255 161h.1M257 156h.1M261 159h.1M260 156h.1M254 159h.1M256 161h.1M256 160h.1M256 156h.1M258 158h.1M352 105h.1M350 104h.1M352 105h.1M354 104h.1M349 103h.1M349 106h.1M352 103h.1M354 102h.1M355 110h.1M198 175h.1M199 177h.1M198 177h.1M195 188h.1M197 180h.1M196 181h.1M412 176h.1M403 178h.1M410 167h.1M409 170h.1M403 181h.1M403 165h.1M220 118h.1M220 117h.1M215 123h.1M218 116h.1M223 116h.1M218 120h.1M217 119h.1M258 309h.1M255 311h.1M256 308h.1M257 308h.1M257 305h.1M258 306h.1M187 67h.1M189 72h.1M184 66h.1M349 47h.1M348 44h.1M306 74h.1M314 70h.1M308 73h.1M305 74h.1M189 133h.1M192 138h.1M199 130h.1M199 132h.1M207 44h.1M210 52h.1M210 49h.1M208 51h.1M211 56h.1M267 365h.1M265 364h.1M265 366h.1M272 361h.1M269 366h.1M307 22h.1M306 22h.1M312 24h.1M305 22h.1M308 23h.1M198 68h.1M252 195h.1M248 202h.1M251 195h.1M308 277h.1M329 274h.1M314 280h.1M322 283h.1M314 282h.1M389 298h.1M384 296h.1M382 298h.1M386 299h.1M248 162h.1M237 167h.1M238 160h.1M243 163h.1M244 163h.1M247 159h.1M246 163h.1M413 259h.1M409 258h.1M410 263h.1M308 124h.1M164 300h.1M164 303h.1M400 286h.1M405 284h.1M405 285h.1M406 291h.1M403 283h.1M401 286h.1M398 286h.1M359 306h.1M358 303h.1M368 299h.1M368 308h.1M373 311h.1M455 183h.1M454 182h.1M456 191h.1M457 189h.1M453 187h.1M454 179h.1M263 134h.1M262 129h.1M261 134h.1M259 137h.1M258 132h.1M257 133h.1M266 130h.1M264 134h.1M281 144h.1M282 140h.1M283 142h.1M285 140h.1M298 340h.1M295 337h.1M294 333h.1M294 339h.1M461 194h.1M464 182h.1M469 184h.1M467 187h.1M465 182h.1M226 272h.1M230 273h.1M231 267h.1M226 270h.1M225 268h.1M226 264h.1M228 267h.1M228 268h.1M230 263h.1M296 368h.1M396 245h.1M394 246h.1M395 246h.1M397 242h.1M396 246h.1M398 243h.1M397 244h.1M395 245h.1M393 245h.1M446 238h.1M453 239h.1M455 236h.1M245 79h.1M244 78h.1M247 77h.1M244 75h.1M241 77h.1M373 290h.1M271 159h.1M271 151h.1M265 152h.1M267 149h.1M267 154h.1M271 156h.1M262 151h.1M266 153h.1M266 158h.1M408 258h.1M407 255h.1M398 260h.1M228 184h.1M223 183h.1M365 59h.1M364 57h.1M364 63h.1M363 60h.1M363 56h.1M363 62h.1M364 61h.1M298 363h.1M399 120h.1M398 126h.1M400 125h.1M398 123h.1M403 123h.1M402 123h.1M401 122h.1M257 36h.1M259 41h.1M416 298h.1M420 295h.1M415 296h.1M421 297h.1M419 296h.1M418 296h.1M421 292h.1M419 294h.1M367 266h.1M369 263h.1M367 267h.1M365 268h.1M366 263h.1M364 264h.1M393 262h.1M388 278h.1M394 271h.1M384 281h.1M308 202h.1M307 201h.1M306 199h.1M200 206h.1M198 205h.1M196 204h.1M199 203h.1M198 200h.1M199 202h.1M437 222h.1M432 224h.1M437 218h.1M438 222h.1M249 142h.1M245 148h.1M249 144h.1M244 143h.1M246 145h.1M403 158h.1M391 91h.1M321 213h.1M323 217h.1M322 216h.1M326 221h.1M425 106h.1M344 314h.1M345 320h.1M345 318h.1M345 317h.1M349 322h.1M353 318h.1M411 236h.1M410 234h.1M410 234h.1M411 236h.1M188 119h.1M190 118h.1M194 118h.1M187 122h.1M193 119h.1M190 120h.1M191 118h.1M236 156h.1M133 156h.1M133 161h.1M134 160h.1M138 162h.1M134 164h.1M317 122h.1M314 124h.1M320 125h.1M181 315h.1M183 319h.1M181 316h.1M180 313h.1M179 312h.1M179 314h.1M348 361h.1M346 362h.1M367 113h.1M365 113h.1M269 35h.1M271 35h.1M271 31h.1M396 108h.1M391 109h.1M395 112h.1M401 111h.1M396 103h.1M399 108h.1M390 107h.1M358 354h.1M210 144h.1M208 135h.1M212 145h.1M333 221h.1M346 233h.1M344 225h.1M350 222h.1M346 232h.1M343 225h.1M334 217h.1M338 219h.1M341 225h.1M337 221h.1M139 158h.1M138 162h.1M141 164h.1M140 161h.1M351 240h.1M355 245h.1M348 244h.1M349 248h.1M335 129h.1M332 132h.1M329 132h.1M338 196h.1M337 199h.1M350 193h.1M346 202h.1M350 203h.1M174 256h.1M300 188h.1M300 187h.1M266 246h.1M267 240h.1M265 241h.1M266 240h.1M262 243h.1M270 241h.1M225 140h.1M219 136h.1M148 216h.1M149 215h.1M154 215h.1M154 215h.1M150 216h.1M425 179h.1M427 180h.1M432 185h.1M434 173h.1M434 177h.1M361 222h.1M366 227h.1M369 222h.1M362 227h.1M365 234h.1M379 198h.1M391 192h.1M383 190h.1M386 191h.1M320 72h.1M319 68h.1M320 66h.1M319 70h.1M320 73h.1M317 71h.1M315 68h.1M377 221h.1M382 217h.1M379 215h.1M387 218h.1M393 217h.1M391 215h.1M382 220h.1M378 217h.1M190 185h.1M191 186h.1M193 188h.1M191 186h.1M190 187h.1M193 190h.1M191 186h.1M191 188h.1M277 100h.1M280 102h.1M412 100h.1M409 103h.1M407 106h.1M412 100h.1M418 96h.1M410 106h.1M417 105h.1M412 105h.1M169 142h.1M160 135h.1M161 139h.1M166 139h.1M328 346h.1M334 348h.1M330 347h.1M363 204h.1M364 204h.1M360 206h.1M368 206h.1M367 205h.1M364 207h.1M362 204h.1M348 179h.1M351 175h.1M352 172h.1M350 169h.1M349 172h.1M348 175h.1M258 98h.1M251 103h.1M248 95h.1M257 93h.1M249 105h.1M253 102h.1M256 100h.1M256 101h.1M396 161h.1M403 166h.1M355 76h.1M361 75h.1M356 76h.1M358 77h.1M356 78h.1M357 73h.1M356 74h.1M358 74h.1M447 153h.1M445 150h.1M448 153h.1M449 153h.1M448 153h.1M447 153h.1M446 151h.1M297 359h.1M297 359h.1M300 360h.1M419 238h.1M258 44h.1M260 44h.1M256 45h.1M258 48h.1M256 49h.1M414 269h.1M415 267h.1M422 273h.1M416 273h.1M409 278h.1M413 279h.1M425 270h.1M420 281h.1M366 265h.1M363 266h.1M365 265h.1M358 271h.1M365 271h.1M367 265h.1M363 262h.1M364 260h.1M469 200h.1M468 197h.1M469 197h.1M250 102h.1M243 107h.1M250 109h.1M245 110h.1M250 107h.1M239 111h.1M243 105h.1M252 111h.1M328 358h.1M332 356h.1M333 357h.1M396 335h.1M395 336h.1M395 331h.1M392 332h.1M392 332h.1M393 332h.1M393 334h.1M385 336h.1M386 78h.1M384 76h.1M380 72h.1M383 78h.1M390 78h.1M380 76h.1M388 77h.1M382 81h.1M378 78h.1M387 79h.1M360 245h.1M364 245h.1M206 185h.1M203 185h.1M203 182h.1M207 183h.1M218 185h.1M220 178h.1M214 183h.1M217 182h.1M217 181h.1M326 121h.1M319 127h.1M321 126h.1M322 126h.1M322 122h.1M239 199h.1M235 205h.1M237 204h.1M236 201h.1M417 220h.1M420 216h.1M408 216h.1M412 222h.1M207 199h.1M203 198h.1M203 202h.1M207 197h.1M207 203h.1M205 199h.1M206 200h.1M310 195h.1M310 199h.1M306 201h.1M314 201h.1M301 201h.1M310 198h.1M305 196h.1M304 195h.1M315 205h.1M304 197h.1M324 184h.1M327 188h.1M332 182h.1M325 180h.1M326 186h.1M322 183h.1M324 184h.1M323 181h.1M249 42h.1M249 42h.1M250 49h.1M252 46h.1M249 38h.1M239 249h.1M237 244h.1M239 257h.1M240 245h.1M343 220h.1M338 225h.1M339 224h.1M338 220h.1M341 221h.1M343 219h.1M343 218h.1M342 220h.1M343 140h.1M335 129h.1M337 130h.1M301 186h.1M296 196h.1M298 195h.1M303 193h.1M291 196h.1M369 148h.1M366 143h.1M373 144h.1M369 151h.1M371 152h.1M376 146h.1M245 32h.1M255 34h.1M248 31h.1M253 35h.1M198 149h.1M203 152h.1M204 147h.1M201 154h.1M208 150h.1M205 157h.1M153 108h.1M153 110h.1M163 100h.1M177 99h.1M163 101h.1M171 103h.1M169 103h.1M164 96h.1M275 272h.1M272 280h.1M270 270h.1M271 272h.1M271 271h.1M264 276h.1M265 274h.1M266 274h.1M275 266h.1M349 341h.1M346 342h.1M344 340h.1M344 338h.1M342 340h.1M268 67h.1M269 64h.1M270 64h.1M268 65h.1M165 68h.1M165 71h.1M170 67h.1M260 322h.1M257 322h.1M260 324h.1M253 329h.1M351 335h.1M350 345h.1M397 309h.1M404 311h.1M398 306h.1M236 97h.1M220 95h.1M231 97h.1M235 100h.1M417 203h.1M413 209h.1M417 206h.1M469 209h.1M466 208h.1M469 212h.1M289 280h.1M289 277h.1M293 282h.1M293 277h.1M200 249h.1M201 246h.1M201 246h.1M200 246h.1M161 83h.1M163 82h.1M264 248h.1M264 250h.1M261 246h.1M259 251h.1M260 249h.1M260 246h.1M451 234h.1M454 241h.1M449 239h.1M449 240h.1M447 240h.1M451 239h.1M449 233h.1M300 71h.1M298 74h.1M300 73h.1M294 72h.1M299 69h.1M297 72h.1M297 72h.1M425 221h.1M421 225h.1M423 222h.1M424 222h.1M423 221h.1M287 343h.1M285 342h.1M291 346h.1M287 341h.1M289 339h.1M284 342h.1M285 341h.1M347 252h.1M348 252h.1M342 247h.1M351 251h.1M450 260h.1M445 259h.1M447 259h.1M446 266h.1M448 263h.1M445 262h.1M445 260h.1M448 259h.1M248 117h.1M250 122h.1M240 113h.1M172 322h.1M173 323h.1M170 321h.1M177 319h.1M172 324h.1M169 320h.1M347 66h.1M346 73h.1M351 76h.1M346 65h.1M351 73h.1M423 109h.1M424 98h.1M421 103h.1M290 316h.1M298 311h.1M203 216h.1M203 215h.1M202 217h.1M201 215h.1M202 215h.1M204 215h.1M206 216h.1M202 214h.1M333 332h.1M362 188h.1M362 183h.1M346 208h.1M344 197h.1M341 204h.1M346 205h.1M348 205h.1M245 235h.1M245 236h.1M246 234h.1M243 242h.1M249 239h.1M238 204h.1M239 204h.1M241 203h.1M239 202h.1M193 267h.1M190 266h.1M195 267h.1M191 263h.1M193 267h.1M192 265h.1M350 70h.1M350 67h.1M352 72h.1M346 70h.1M355 69h.1M352 66h.1M348 72h.1M351 62h.1M349 63h.1M309 294h.1M302 294h.1M303 293h.1M306 295h.1M306 289h.1M421 74h.1M422 74h.1M286 198h.1M433 184h.1M433 186h.1M437 188h.1M434 188h.1M432 189h.1M245 83h.1M250 87h.1M246 81h.1M248 85h.1M247 79h.1M252 84h.1M243 84h.1M437 174h.1M435 173h.1M434 176h.1M436 177h.1M443 175h.1M438 174h.1M436 174h.1M438 168h.1M368 215h.1M365 214h.1M363 212h.1M284 370h.1M284 364h.1M284 358h.1M282 362h.1M278 362h.1M453 122h.1M453 122h.1M222 306h.1M221 305h.1M220 305h.1M219 305h.1M394 235h.1M389 230h.1M253 32h.1M250 30h.1M249 27h.1M243 23h.1M250 25h.1M255 21h.1M270 68h.1M267 71h.1M270 68h.1M269 69h.1M270 71h.1M270 68h.1M269 68h.1M273 71h.1M267 68h.1M250 194h.1M253 198h.1M250 194h.1M249 196h.1M255 195h.1M213 263h.1M216 267h.1M222 272h.1M219 267h.1M409 82h.1M409 83h.1M408 81h.1M410 85h.1M412 84h.1M411 82h.1M409 83h.1M228 201h.1M142 131h.1M139 135h.1M143 120h.1M137 133h.1M139 133h.1M136 134h.1M225 184h.1M227 182h.1M228 183h.1M225 180h.1M226 183h.1M211 149h.1M207 154h.1M207 154h.1M211 149h.1M210 150h.1M205 153h.1M209 153h.1M207 152h.1M208 152h.1M364 311h.1M368 308h.1M368 309h.1M374 308h.1M368 309h.1M372 302h.1M284 196h.1M277 198h.1M282 194h.1M277 196h.1M281 197h.1M264 224h.1M266 228h.1M262 225h.1M265 223h.1M268 227h.1M263 225h.1M266 222h.1M262 226h.1M355 185h.1M355 177h.1M360 183h.1M354 183h.1M353 180h.1M176 312h.1M175 308h.1M179 310h.1M174 312h.1M177 307h.1M174 310h.1M241 347h.1M235 345h.1M237 347h.1M241 350h.1M237 348h.1M187 131h.1M187 135h.1M287 97h.1M280 96h.1M206 314h.1M201 311h.1M207 309h.1M203 305h.1M204 311h.1M206 309h.1M204 307h.1M161 148h.1M157 151h.1M153 145h.1M151 146h.1M275 141h.1M279 138h.1M268 141h.1M271 138h.1M272 140h.1M276 140h.1M327 318h.1M331 319h.1M327 319h.1M327 321h.1M329 321h.1M330 321h.1M329 318h.1M331 317h.1M328 321h.1M328 319h.1M197 226h.1M333 201h.1M333 201h.1M335 202h.1M331 199h.1M330 201h.1M331 203h.1M333 202h.1M332 203h.1M392 250h.1M391 245h.1M392 246h.1M395 245h.1M394 247h.1M172 265h.1M171 267h.1M167 265h.1M169 268h.1M168 260h.1M167 265h.1M172 265h.1M174 267h.1M198 250h.1M200 249h.1M201 245h.1M201 253h.1M196 249h.1M195 249h.1M200 246h.1M198 252h.1M335 260h.1M385 285h.1M393 292h.1M250 93h.1M249 95h.1M247 90h.1M245 88h.1M246 95h.1M245 95h.1M244 90h.1M246 91h.1M246 88h.1M245 71h.1M238 76h.1M245 80h.1M247 73h.1M240 74h.1M243 73h.1M235 26h.1M241 32h.1M397 112h.1M306 196h.1M305 196h.1M313 196h.1M313 201h.1M344 100h.1M341 99h.1M344 99h.1M342 97h.1M347 97h.1M340 97h.1M348 96h.1M313 87h.1M313 83h.1M317 83h.1M418 239h.1M422 240h.1M422 241h.1M420 240h.1M418 240h.1M418 237h.1M417 237h.1M419 238h.1M419 239h.1M141 207h.1M278 33h.1M276 37h.1M285 37h.1M277 30h.1M280 38h.1M282 33h.1M286 42h.1M234 52h.1M231 48h.1M226 51h.1M236 48h.1M231 55h.1M235 47h.1M269 68h.1M263 57h.1M378 180h.1M377 183h.1M386 182h.1M376 183h.1M384 186h.1M380 179h.1M379 181h.1M387 177h.1M380 182h.1M180 258h.1M181 254h.1M180 257h.1M181 257h.1M157 112h.1M160 112h.1M158 109h.1M155 111h.1M153 107h.1M158 109h.1M157 109h.1M149 111h.1M336 250h.1M336 249h.1M338 251h.1M336 248h.1M337 251h.1M337 253h.1M339 252h.1M370 110h.1M368 110h.1M362 105h.1M373 108h.1M374 101h.1M371 108h.1M324 126h.1M321 127h.1M345 265h.1M347 268h.1M233 224h.1M119 219h.1M121 220h.1M119 221h.1M118 221h.1M117 219h.1M119 219h.1M119 220h.1M364 146h.1M366 149h.1M358 147h.1M431 109h.1M431 102h.1M430 109h.1M432 104h.1M428 112h.1M432 114h.1M307 321h.1M311 331h.1M314 328h.1M307 326h.1M306 319h.1M311 334h.1M311 321h.1M311 332h.1M184 152h.1M181 155h.1M181 150h.1M181 151h.1M179 150h.1M187 154h.1M182 152h.1M183 152h.1M181 154h.1M177 301h.1M184 300h.1M177 302h.1M318 265h.1M316 270h.1M319 271h.1M317 267h.1M317 266h.1M319 266h.1M318 270h.1M175 288h.1M174 294h.1M176 291h.1M178 292h.1M178 293h.1M176 290h.1M169 292h.1M200 96h.1M199 100h.1M361 222h.1M360 221h.1M362 227h.1M364 221h.1M363 228h.1M361 224h.1M360 222h.1M303 345h.1M301 347h.1M300 348h.1M298 345h.1M305 354h.1M302 349h.1M420 295h.1M424 295h.1M424 297h.1M424 296h.1M425 295h.1M425 296h.1M423 293h.1M426 295h.1M430 244h.1M435 242h.1M429 242h.1M428 246h.1M430 240h.1M433 246h.1M430 241h.1M433 241h.1M432 247h.1M276 264h.1M277 263h.1M374 240h.1M378 234h.1M371 235h.1M372 238h.1M345 302h.1M349 298h.1M307 63h.1M297 56h.1M300 48h.1M300 48h.1M301 49h.1M123 211h.1M120 209h.1M121 214h.1M122 212h.1M127 211h.1M121 209h.1M121 215h.1M123 209h.1M261 199h.1M257 194h.1M258 198h.1M253 198h.1M259 191h.1M252 194h.1M253 189h.1M461 225h.1M465 215h.1M467 214h.1M467 210h.1M461 217h.1M468 213h.1M436 172h.1M432 165h.1M440 165h.1M446 171h.1M434 167h.1M441 172h.1M444 171h.1M444 167h.1M185 146h.1M183 149h.1M183 149h.1M324 21h.1M326 24h.1M331 22h.1M330 20h.1M328 19h.1M458 143h.1M456 147h.1M453 146h.1M459 142h.1M455 141h.1M458 144h.1M460 151h.1M240 117h.1M238 117h.1M236 122h.1M235 113h.1M240 119h.1M241 115h.1M241 118h.1M244 116h.1M241 120h.1M375 336h.1M378 335h.1M378 337h.1M377 337h.1M376 335h.1M312 355h.1M310 356h.1M310 355h.1M311 352h.1M382 193h.1M383 197h.1M384 197h.1M375 191h.1M309 361h.1M312 361h.1M315 361h.1M312 358h.1M313 361h.1M311 358h.1M140 264h.1M333 195h.1M334 188h.1M336 195h.1M331 197h.1M266 96h.1M267 102h.1M268 99h.1M252 113h.1M244 116h.1M249 120h.1M241 117h.1M248 124h.1M243 120h.1M247 124h.1M178 318h.1M174 322h.1M178 318h.1M173 316h.1M176 321h.1M361 148h.1M354 157h.1M357 148h.1M357 150h.1M348 146h.1M359 152h.1M361 155h.1M326 302h.1M385 245h.1M376 249h.1M377 255h.1M215 346h.1M218 349h.1M218 349h.1M249 223h.1M250 222h.1M248 226h.1M287 253h.1M287 258h.1M436 129h.1M435 133h.1M430 130h.1M432 138h.1M432 132h.1M291 104h.1M294 115h.1M300 111h.1M291 112h.1M301 117h.1M166 144h.1M164 148h.1M170 144h.1M311 118h.1M310 113h.1M311 113h.1M311 113h.1M308 117h.1M309 115h.1M315 113h.1M288 275h.1M287 276h.1M342 328h.1M173 220h.1M179 223h.1M177 219h.1M179 220h.1M180 222h.1M174 222h.1M253 130h.1M254 127h.1M257 129h.1M258 127h.1M254 129h.1M262 131h.1M252 130h.1M255 130h.1M212 309h.1M211 315h.1M206 314h.1M202 309h.1M208 311h.1M214 310h.1M207 320h.1M208 317h.1M213 318h.1M213 322h.1M407 101h.1M406 105h.1M408 101h.1M240 103h.1M239 101h.1M238 100h.1M246 321h.1M248 326h.1M246 327h.1M249 322h.1M438 132h.1M169 294h.1M174 292h.1M169 298h.1M169 295h.1M174 294h.1M169 300h.1M463 180h.1M443 108h.1M441 109h.1M445 111h.1M442 111h.1M445 111h.1M443 108h.1M176 230h.1M235 267h.1M225 264h.1M233 272h.1M226 274h.1M222 265h.1M310 271h.1M317 276h.1M319 276h.1M315 280h.1M319 283h.1M315 270h.1M319 271h.1M249 267h.1M251 272h.1M416 178h.1M423 186h.1M417 184h.1M417 179h.1M389 139h.1M386 138h.1M210 190h.1M198 186h.1M206 195h.1M213 192h.1M206 191h.1M211 194h.1M213 192h.1M231 242h.1M229 242h.1M227 247h.1M229 246h.1M399 259h.1M399 255h.1M323 78h.1M463 150h.1M348 299h.1M347 290h.1M355 301h.1M339 305h.1M303 288h.1M237 284h.1M230 287h.1M235 290h.1M222 287h.1M291 143h.1M287 143h.1M287 144h.1M405 273h.1M404 274h.1M404 272h.1M407 273h.1M404 273h.1M366 68h.1M370 64h.1M367 64h.1M373 70h.1M370 69h.1M373 63h.1M297 312h.1M298 310h.1M297 323h.1M307 318h.1M313 221h.1M301 217h.1M375 160h.1M375 157h.1M375 158h.1M381 158h.1M279 60h.1M276 60h.1M278 60h.1M319 288h.1M314 297h.1M317 288h.1M319 289h.1M316 290h.1M317 295h.1M317 293h.1M305 180h.1M301 181h.1M300 182h.1M295 171h.1M173 102h.1M172 114h.1M176 109h.1M338 188h.1M337 192h.1M335 189h.1M341 195h.1M336 189h.1M335 191h.1M146 249h.1M138 239h.1M143 242h.1M142 239h.1M135 245h.1M146 240h.1M146 243h.1M162 134h.1M297 304h.1M350 93h.1M353 92h.1M355 93h.1M356 89h.1M353 94h.1M324 122h.1M324 116h.1M328 121h.1M327 121h.1M327 117h.1M327 117h.1M326 123h.1M332 119h.1M326 118h.1M321 153h.1M320 153h.1M323 152h.1M323 153h.1M237 291h.1M236 288h.1M236 294h.1M396 330h.1M392 334h.1M394 335h.1M395 326h.1M398 331h.1M396 324h.1M388 331h.1M394 328h.1M394 334h.1M444 149h.1M441 153h.1M439 151h.1M444 147h.1M442 147h.1M440 151h.1M442 160h.1M353 65h.1M353 61h.1M358 52h.1M356 55h.1M360 50h.1M359 113h.1M356 115h.1M358 114h.1M357 115h.1M355 115h.1M354 116h.1M358 114h.1M134 196h.1M195 126h.1M193 130h.1M194 127h.1M280 136h.1M286 139h.1M286 144h.1M170 279h.1M256 73h.1M254 73h.1M253 77h.1M253 68h.1M252 74h.1M253 75h.1M204 310h.1M198 312h.1M201 316h.1M205 311h.1M203 308h.1M205 313h.1M203 311h.1M205 312h.1M320 150h.1M321 152h.1M257 333h.1M262 329h.1M260 328h.1M259 331h.1M260 330h.1M261 331h.1M256 337h.1M260 333h.1M190 127h.1M189 130h.1M187 129h.1M265 195h.1M260 197h.1M261 199h.1M263 198h.1M266 197h.1M267 200h.1M335 149h.1M328 153h.1M328 162h.1M337 161h.1M340 148h.1M400 208h.1M247 349h.1M251 344h.1M252 352h.1M253 344h.1M245 351h.1M251 355h.1M254 358h.1M247 350h.1M189 68h.1M169 92h.1M178 94h.1M170 89h.1M167 90h.1M174 89h.1M173 93h.1M172 93h.1M157 99h.1M175 93h.1M383 247h.1M379 251h.1M379 251h.1M380 255h.1M378 251h.1M384 251h.1M380 249h.1M383 250h.1M335 238h.1M329 235h.1M330 235h.1M325 244h.1M329 244h.1M331 230h.1M265 133h.1M265 132h.1M269 135h.1M267 135h.1M267 134h.1M268 135h.1M266 133h.1M269 134h.1M402 296h.1M321 258h.1M328 261h.1M327 257h.1M315 254h.1M321 255h.1M331 257h.1M319 257h.1M378 211h.1M379 211h.1M381 214h.1M377 212h.1M378 210h.1M358 50h.1M356 48h.1M358 53h.1M355 47h.1M355 54h.1M350 47h.1M363 53h.1M354 43h.1M228 132h.1M225 133h.1M227 134h.1M227 134h.1M228 130h.1M312 126h.1M311 34h.1M312 35h.1M311 33h.1M311 35h.1M308 29h.1M310 35h.1M343 343h.1M348 346h.1M351 340h.1M350 342h.1M346 349h.1M348 344h.1M389 47h.1M390 45h.1M382 46h.1M388 47h.1M387 46h.1M344 318h.1M386 307h.1M388 307h.1M385 309h.1M393 311h.1M385 309h.1M392 311h.1M391 306h.1M391 306h.1M219 269h.1M226 264h.1M227 267h.1M294 141h.1M294 137h.1M181 61h.1M177 60h.1M182 61h.1M178 67h.1M293 113h.1M297 121h.1M298 115h.1M257 258h.1M247 172h.1M250 183h.1M250 183h.1M253 179h.1M298 27h.1M350 349h.1M351 348h.1M350 347h.1M350 349h.1M350 351h.1M349 348h.1M200 229h.1M209 228h.1M206 228h.1M203 233h.1M205 230h.1M205 227h.1M208 231h.1M433 132h.1M431 129h.1M434 132h.1M431 131h.1M433 131h.1M432 129h.1M308 311h.1M309 313h.1M307 310h.1M307 309h.1M306 314h.1M365 137h.1M362 137h.1M370 135h.1M360 133h.1M370 130h.1M270 82h.1M268 77h.1M266 75h.1M271 71h.1M272 72h.1M270 77h.1M157 79h.1M156 82h.1M158 82h.1M314 137h.1M314 131h.1M320 134h.1M366 82h.1M367 73h.1M360 78h.1M371 81h.1M370 72h.1M374 76h.1M365 69h.1M367 77h.1M177 229h.1M158 230h.1M154 229h.1M157 227h.1M154 230h.1M158 229h.1M155 227h.1M155 228h.1M137 278h.1M430 235h.1M426 236h.1M425 234h.1M304 291h.1M310 288h.1M305 285h.1M420 310h.1M421 306h.1M394 260h.1M392 260h.1M393 258h.1M394 262h.1M382 154h.1M386 158h.1M265 318h.1M260 323h.1M264 316h.1M263 317h.1M423 303h.1M150 231h.1M152 234h.1M150 232h.1M371 40h.1M376 45h.1M376 41h.1M463 182h.1M464 187h.1M463 178h.1M468 181h.1M464 178h.1M466 175h.1M467 183h.1M195 153h.1M199 151h.1M203 153h.1M159 273h.1M154 278h.1M160 275h.1M157 279h.1M161 275h.1M408 279h.1M119 201h.1M124 201h.1M124 198h.1M352 166h.1M347 166h.1M355 169h.1M349 163h.1M346 162h.1M350 167h.1M345 162h.1M354 172h.1M307 90h.1M305 92h.1M305 95h.1M299 90h.1M306 96h.1M303 88h.1M445 186h.1M444 189h.1M446 188h.1M445 183h.1M348 119h.1M349 119h.1M347 120h.1M348 124h.1M347 122h.1M232 112h.1M231 112h.1M237 112h.1M234 112h.1M239 116h.1M236 115h.1M237 111h.1M236 115h.1M171 192h.1M172 192h.1M172 195h.1M170 186h.1M174 195h.1M168 196h.1M170 192h.1M173 196h.1M171 195h.1M235 185h.1M234 184h.1M234 185h.1M231 185h.1M425 182h.1M423 175h.1M421 174h.1M424 184h.1M425 180h.1M425 269h.1M422 272h.1M224 79h.1M225 77h.1M224 78h.1M133 247h.1M135 248h.1M309 299h.1M320 292h.1M312 290h.1M312 299h.1M457 195h.1M459 194h.1M464 196h.1M261 151h.1M259 152h.1M261 158h.1M263 152h.1M267 158h.1M208 137h.1M209 135h.1M202 133h.1M202 135h.1M203 135h.1M203 133h.1M200 137h.1M210 135h.1M371 344h.1M368 343h.1M368 346h.1M366 344h.1M369 342h.1M367 347h.1M367 345h.1M370 343h.1M365 345h.1M448 173h.1M446 171h.1M446 168h.1M451 169h.1M199 341h.1M202 337h.1M193 337h.1M196 335h.1M193 340h.1M194 335h.1M197 339h.1M359 193h.1M363 191h.1M362 188h.1M130 135h.1M127 139h.1M125 135h.1M126 131h.1M124 137h.1M158 161h.1M161 153h.1M164 158h.1M155 156h.1M164 159h.1M164 151h.1M160 159h.1M164 159h.1M160 156h.1M167 158h.1M291 217h.1M292 225h.1M148 261h.1M148 263h.1M404 154h.1M242 148h.1M218 314h.1M218 312h.1M218 313h.1M286 226h.1M285 226h.1M290 227h.1M234 82h.1M232 80h.1M232 78h.1M309 192h.1M304 194h.1M312 197h.1M312 196h.1M265 226h.1M267 227h.1M268 223h.1M266 227h.1M268 226h.1M249 216h.1M284 49h.1M280 46h.1M281 54h.1M440 196h.1M437 195h.1M302 217h.1M304 218h.1M301 221h.1M199 257h.1M201 262h.1M195 258h.1M201 260h.1M194 262h.1M198 260h.1M145 159h.1M200 91h.1M198 89h.1M182 170h.1M179 179h.1M176 168h.1M461 166h.1M460 169h.1M462 168h.1M462 167h.1M462 166h.1M462 167h.1M461 165h.1M336 129h.1M337 124h.1M335 119h.1M333 124h.1M170 66h.1M171 67h.1M445 189h.1M443 187h.1M447 187h.1M450 193h.1M448 186h.1M434 191h.1M440 188h.1M443 186h.1M285 215h.1M284 217h.1M287 216h.1M285 214h.1M290 217h.1M283 217h.1M287 217h.1M288 215h.1M285 215h.1M400 126h.1M393 131h.1M396 131h.1M186 262h.1M186 264h.1M186 265h.1M186 264h.1M183 263h.1M181 263h.1M181 262h.1M132 126h.1M132 128h.1M138 132h.1M134 133h.1M131 126h.1M137 121h.1M154 185h.1M158 181h.1M164 190h.1M156 187h.1M165 191h.1M467 199h.1M467 211h.1M468 208h.1M466 210h.1M468 206h.1M467 207h.1M467 205h.1M230 336h.1M234 346h.1M229 338h.1M229 339h.1M236 346h.1M362 236h.1M249 128h.1M238 130h.1M241 134h.1M244 135h.1M238 133h.1M246 137h.1M241 134h.1M246 134h.1M353 198h.1M350 198h.1M349 196h.1M352 199h.1M350 199h.1M355 198h.1M350 219h.1M365 226h.1M254 215h.1M251 214h.1M249 219h.1M249 218h.1M250 215h.1M252 212h.1M313 28h.1M310 25h.1M370 74h.1M389 77h.1M384 66h.1M379 67h.1M386 77h.1M409 226h.1M410 219h.1M411 224h.1M410 222h.1M408 224h.1M408 225h.1M411 222h.1M406 223h.1M232 298h.1M230 299h.1M222 301h.1M423 83h.1M427 82h.1M428 81h.1M427 84h.1M427 79h.1M422 84h.1M165 105h.1M161 104h.1M165 106h.1M162 107h.1M283 146h.1M290 146h.1M288 141h.1M287 149h.1M282 148h.1M290 148h.1M447 249h.1M438 248h.1M436 241h.1M442 238h.1M442 238h.1M437 244h.1M377 276h.1M378 275h.1M373 276h.1M375 276h.1M403 144h.1M401 142h.1M399 147h.1M401 143h.1M400 143h.1M278 94h.1M278 101h.1M282 100h.1M279 101h.1M278 100h.1M279 101h.1M277 99h.1M277 101h.1M277 100h.1M287 97h.1M216 296h.1M219 294h.1M219 294h.1M220 290h.1M220 291h.1M193 292h.1M350 187h.1M352 185h.1M350 183h.1M350 186h.1M352 190h.1M241 62h.1M237 61h.1M238 61h.1M242 57h.1M239 56h.1M240 63h.1M241 61h.1M237 62h.1M201 218h.1M202 219h.1M209 215h.1M207 222h.1M242 239h.1M235 234h.1M247 238h.1M243 239h.1M299 226h.1M300 229h.1M299 221h.1M389 146h.1M392 142h.1M391 144h.1M389 144h.1M390 144h.1M391 145h.1M389 142h.1M252 35h.1M248 36h.1M254 42h.1M187 227h.1M185 236h.1M188 237h.1M195 233h.1M295 210h.1M296 205h.1M294 205h.1M295 200h.1M298 202h.1M294 204h.1M291 205h.1M304 29h.1M324 85h.1M310 87h.1M319 93h.1M232 348h.1M232 348h.1M232 349h.1M175 282h.1M178 276h.1M177 282h.1M175 282h.1M177 277h.1M177 281h.1M176 280h.1M445 176h.1M363 120h.1M212 313h.1M222 309h.1M215 307h.1M213 62h.1M217 61h.1M212 65h.1M214 65h.1M212 70h.1M349 200h.1M352 203h.1M345 200h.1M288 225h.1M282 231h.1M287 232h.1M284 230h.1M278 230h.1M275 228h.1M135 264h.1M136 261h.1M134 260h.1M134 262h.1M137 263h.1M137 263h.1M140 262h.1M131 258h.1M276 125h.1M276 123h.1M271 125h.1M273 124h.1M276 119h.1M269 131h.1M275 127h.1M297 104h.1M309 81h.1M313 96h.1M320 98h.1M294 100h.1M291 113h.1M312 109h.1M298 109h.1M337 75h.1M310 85h.1M297 109h.1M327 114h.1M321 82h.1M309 77h.1M348 106h.1M298 77h.1M333 79h.1M334 104h.1M324 93h.1M298 82h.1M310 117h.1M311 105h.1M316 64h.1M290 104h.1M289 96h.1M294 83h.1M328 75h.1M287 73h.1M288 96h.1M298 79h.1M301 94h.1M309 79h.1M322 86h.1M308 96h.1M301 101h.1M301 83h.1M313 75h.1M329 74h.1M329 94h.1M309 93h.1M328 109h.1M341 115h.1M322 103h.1M283 105h.1M319 123h.1M312 88h.1M298 75h.1M311 95h.1M326 84h.1M321 97h.1M330 95h.1M341 111h.1M297 100h.1M297 115h.1M318 113h.1M319 131h.1M302 99h.1M275 101h.1M291 102h.1M322 101h.1M294 99h.1M326 92h.1M299 90h.1M317 74h.1M322 87h.1M318 107h.1M328 82h.1M330 102h.1M304 98h.1M321 109h.1M297 103h.1M286 102h.1M279 122h.1M288 100h.1M300 88h.1M312 97h.1M299 111h.1M303 87h.1M315 115h.1M308 123h.1M311 93h.1M309 110h.1M336 105h.1M304 77h.1M286 104h.1M304 122h.1M273 82h.1M329 115h.1M308 100h.1M292 78h.1M293 109h.1M305 86h.1M336 86h.1M288 104h.1M317 106h.1M292 81h.1M317 65h.1M304 97h.1M294 105h.1M348 89h.1M312 80h.1M281 91h.1M304 113h.1M308 84h.1M303 76h.1M298 90h.1M309 104h.1M291 73h.1M311 95h.1M317 84h.1M333 93h.1M297 80h.1M302 118h.1M281 88h.1M292 85h.1M340 91h.1M298 91h.1M344 74h.1M273 83h.1M313 85h.1M303 110h.1M300 110h.1M315 81h.1M305 85h.1M318 110h.1M306 84h.1M303 99h.1M331 69h.1M295 101h.1M307 89h.1M304 81h.1M335 80h.1M335 117h.1M320 77h.1M295 73h.1M312 89h.1M336 81h.1M332 96h.1M287 84h.1M320 102h.1M316 89h.1M302 101h.1M313 82h.1M302 95h.1M317 112h.1M311 96h.1M294 99h.1M288 90h.1M295 107h.1M345 87h.1M294 108h.1M329 82h.1M287 106h.1M319 95h.1M342 111h.1M300 93h.1M321 84h.1M308 83h.1M302 83h.1M290 109h.1M304 101h.1M311 107h.1M311 108h.1M310 116h.1M323 64h.1M304 87h.1M315 79h.1M309 75h.1M325 105h.1M301 81h.1M320 69h.1M313 112h.1M320 110h.1M305 85h.1M297 89h.1M301 67h.1M287 89h.1M336 69h.1M332 90h.1M307 75h.1M318 98h.1M295 110h.1M303 74h.1M322 87h.1M322 83h.1M318 66h.1M291 62h.1M303 74h.1M306 103h.1M291 124h.1M326 121h.1M288 115h.1M285 77h.1M299 79h.1M276 73h.1M300 99h.1M302 72h.1M321 97h.1M322 81h.1M325 113h.1M308 75h.1M291 73h.1M302 108h.1M292 106h.1M314 94h.1M286 87h.1M331 90h.1M332 112h.1M320 98h.1M283 95h.1M311 104h.1M294 99h.1M317 94h.1M302 100h.1M297 89h.1M311 78h.1M312 89h.1M294 87h.1M338 93h.1M301 102h.1M327 105h.1M306 97h.1M337 80h.1M303 90h.1M330 86h.1M314 88h.1M285 96h.1M324 86h.1M298 78h.1M336 65h.1M311 118h.1M343 119h.1M310 110h.1M312 135h.1M306 99h.1M305 93h.1M287 82h.1M298 91h.1M333 125h.1M305 81h.1M292 98h.1M304 126h.1M270 94h.1M317 85h.1M323 102h.1M326 81h.1M296 84h.1M303 107h.1M310 120h.1M304 97h.1M310 101h.1M316 98h.1M340 86h.1M305 88h.1M303 92h.1M305 99h.1M324 90h.1M320 135h.1M307 95h.1M270 104h.1M313 132h.1M312 88h.1M340 105h.1M305 92h.1M319 80h.1M313 88h.1M321 66h.1M317 99h.1M325 100h.1M353 81h.1M311 92h.1M321 109h.1M328 77h.1M316 95h.1M299 74h.1M324 119h.1M296 105h.1M321 106h.1M339 116h.1M302 76h.1M322 85h.1M317 93h.1M304 79h.1M311 81h.1M302 89h.1M323 84h.1M322 101h.1M298 78h.1M313 77h.1M349 82h.1M327 87h.1M316 80h.1M371 296h.1M371 285h.1M390 275h.1M396 263h.1M394 314h.1M406 300h.1M363 275h.1M422 291h.1M398 304h.1M393 295h.1M400 297h.1M398 303h.1M376 320h.1M396 300h.1M387 263h.1M395 306h.1M403 295h.1M390 278h.1M420 293h.1M405 299h.1M406 288h.1M414 301h.1M392 305h.1M374 280h.1M387 277h.1M376 291h.1M400 284h.1M385 299h.1M376 291h.1M401 308h.1M381 311h.1M399 283h.1M400 278h.1M410 302h.1M407 293h.1M412 291h.1M374 311h.1M421 286h.1M382 305h.1M407 304h.1M413 304h.1M386 298h.1M405 304h.1M383 302h.1M405 279h.1M425 294h.1M405 308h.1M405 269h.1M377 285h.1M418 273h.1M407 305h.1M389 289h.1M392 303h.1M397 278h.1M399 274h.1M390 307h.1M395 268h.1M395 304h.1M385 310h.1M393 288h.1M386 278h.1M409 291h.1M385 283h.1M382 280h.1M409 304h.1M384 292h.1M386 290h.1M408 280h.1M398 310h.1M400 309h.1M405 300h.1M406 305h.1M403 273h.1M401 277h.1M402 288h.1M397 263h.1M403 306h.1M410 297h.1M422 307h.1M396 283h.1M397 294h.1M410 281h.1M373 274h.1M411 269h.1M395 258h.1M433 285h.1M371 300h.1M407 303h.1M395 278h.1M388 305h.1M376 298h.1M390 298h.1M403 283h.1M404 307h.1M390 320h.1M413 270h.1M397 287h.1M393 298h.1M382 293h.1M397 316h.1M415 289h.1M391 268h.1M378 280h.1M370 288h.1M390 280h.1M385 294h.1M390 294h.1M384 309h.1M397 276h.1M403 310h.1M384 283h.1M410 296h.1M393 295h.1M404 295h.1M402 306h.1M390 301h.1M380 287h.1M397 277h.1M395 293h.1M396 286h.1M372 273h.1M422 296h.1M403 266h.1M399 281h.1M376 259h.1M394 283h.1M388 294h.1M395 296h.1M396 294h.1M406 295h.1M368 256h.1M402 286h.1M381 298h.1M390 306h.1M387 270h.1M395 289h.1M386 320h.1M407 272h.1M380 296h.1M402 295h.1M370 312h.1M391 301h.1M388 312h.1M393 315h.1M392 254h.1M411 303h.1M386 269h.1M411 262h.1M391 302h.1M369 305h.1M387 303h.1M396 304h.1M407 287h.1M371 287h.1M431 273h.1M401 282h.1M411 313h.1M404 261h.1M426 299h.1M394 304h.1M396 290h.1M392 279h.1M403 278h.1M413 301h.1M348 285h.1M396 304h.1M372 281h.1M408 291h.1M429 263h.1M413 288h.1M399 309h.1M419 284h.1M394 301h.1M414 302h.1M410 300h.1M396 293h.1M394 271h.1M399 299h.1M407 298h.1M389 277h.1M370 312h.1M402 280h.1M396 285h.1M399 293h.1M416 254h.1M396 298h.1M404 285h.1M397 273h.1M411 304h.1M369 289h.1M390 287h.1M381 272h.1M419 252h.1M371 317h.1M394 302h.1M393 300h.1M382 272h.1M406 324h.1M399 270h.1M383 289h.1M411 308h.1M393 287h.1M406 289h.1M411 297h.1M397 300h.1M389 284h.1M424 279h.1M387 287h.1M402 286h.1M415 293h.1M390 292h.1M405 305h.1M393 305h.1M413 279h.1M385 294h.1M403 300h.1M397 286h.1M399 295h.1M401 294h.1M394 316h.1M392 307h.1M393 277h.1M398 270h.1M393 279h.1M384 284h.1M398 301h.1M387 295h.1M419 303h.1M403 276h.1M395 307h.1M401 316h.1M381 286h.1M398 284h.1M404 314h.1M397 287h.1M396 292h.1M383 305h.1M410 293h.1M412 259h.1M387 305h.1M396 251h.1M404 292h.1M410 298h.1M394 289h.1M399 286h.1M389 293h.1M394 275h.1M393 267h.1M384 280h.1M386 290h.1M394 281h.1M397 288h.1M382 281h.1M411 273h.1M401 285h.1M385 305h.1M411 275h.1M392 283h.1M403 302h.1M386 308h.1M414 294h.1M414 287h.1M401 283h.1M382 283h.1M379 297h.1M390 292h.1M401 275h.1M380 308h.1M398 265h.1M399 303h.1M413 279h.1M381 283h.1M411 284h.1M371 281h.1M363 278h.1M405 262h.1M404 272h.1M410 292h.1M364 265h.1M245 314h.1M247 354h.1M267 311h.1M241 330h.1M271 329h.1M268 317h.1M270 336h.1M272 312h.1M265 315h.1M280 320h.1M239 317h.1M251 311h.1M273 318h.1M253 334h.1M243 309h.1M269 321h.1M280 314h.1M272 360h.1M273 334h.1M260 333h.1M256 312h.1M248 325h.1M274 325h.1M272 313h.1M260 350h.1M257 315h.1M282 289h.1M261 330h.1M264 311h.1M249 332h.1M249 324h.1M261 324h.1M232 341h.1M254 358h.1M257 308h.1M265 326h.1M243 333h.1M255 339h.1M265 316h.1M263 334h.1M271 347h.1M270 314h.1M262 328h.1M258 315h.1M268 312h.1M251 328h.1M266 316h.1M266 309h.1M269 309h.1M248 329h.1M281 339h.1M264 311h.1M249 311h.1M257 347h.1M257 314h.1M254 339h.1M261 350h.1M271 323h.1M252 342h.1M267 349h.1M241 320h.1M269 297h.1M264 324h.1M264 326h.1M282 324h.1M278 337h.1M255 317h.1M255 313h.1M247 315h.1M276 318h.1M267 336h.1M274 327h.1M266 321h.1M238 319h.1M245 327h.1M273 337h.1M255 345h.1M263 329h.1M239 320h.1M270 322h.1M261 320h.1M265 336h.1M283 327h.1M263 321h.1M261 319h.1M255 330h.1M245 319h.1M266 323h.1M274 318h.1M269 331h.1M239 312h.1M248 304h.1M265 331h.1M271 315h.1M280 316h.1M263 317h.1M261 310h.1M245 323h.1M263 314h.1M255 327h.1M260 315h.1M288 324h.1M272 297h.1M247 336h.1M259 326h.1M239 316h.1M264 305h.1M261 312h.1M250 342h.1M269 309h.1M279 344h.1M267 316h.1M256 340h.1M259 318h.1M260 334h.1M270 321h.1M268 328h.1M256 320h.1M276 349h.1M253 313h.1M262 327h.1M297 322h.1M252 310h.1M260 330h.1M271 315h.1M247 324h.1M262 311h.1M269 346h.1M255 325h.1M256 302h.1M256 335h.1M255 320h.1M272 330h.1M250 335h.1M259 327h.1M242 328h.1M264 326h.1M255 319h.1M250 318h.1M251 318h.1M283 324h.1M262 339h.1M258 329h.1M273 326h.1M268 335h.1M291 320h.1M268 329h.1M270 323h.1M274 307h.1M271 324h.1M241 341h.1M251 333h.1M247 339h.1M270 326h.1M239 351h.1M280 335h.1M248 351h.1M279 324h.1M268 339h.1M252 310h.1M278 324h.1M269 333h.1M268 327h.1M263 316h.1M259 346h.1M259 323h.1M258 320h.1M259 341h.1M258 333h.1M255 338h.1M267 331h.1M252 312h.1M248 323h.1M235 330h.1M277 314h.1M261 303h.1M271 324h.1M257 327h.1M266 291h.1M254 336h.1M272 330h.1M271 327h.1M239 319h.1M154 145h.1M145 148h.1M146 151h.1M128 145h.1M134 133h.1M159 134h.1M155 129h.1M143 136h.1M137 143h.1M160 130h.1M152 128h.1M146 146h.1M170 156h.1M139 151h.1M152 158h.1M137 139h.1M147 139h.1M133 160h.1M151 135h.1M155 163h.1M151 135h.1M146 133h.1M137 140h.1M144 129h.1M154 125h.1M136 141h.1M144 127h.1M129 152h.1M138 122h.1M138 128h.1M133 147h.1M158 153h.1M146 131h.1M124 152h.1M138 149h.1M146 130h.1M165 129h.1M134 142h.1M137 129h.1M129 171h.1M157 150h.1M148 148h.1M148 121h.1M149 141h.1M149 152h.1M146 135h.1M159 158h.1M164 142h.1M148 143h.1M150 143h.1M151 146h.1M165 146h.1M144 142h.1M141 131h.1M151 138h.1M164 137h.1M141 130h.1M129 137h.1M138 121h.1M160 145h.1M139 142h.1M145 130h.1M150 156h.1M146 139h.1M164 149h.1M169 148h.1M141 147h.1M136 146h.1M171 146h.1M149 149h.1M148 142h.1M153 124h.1M151 127h.1M168 146h.1M167 142h.1M146 145h.1M154 132h.1M146 149h.1M156 123h.1M147 133h.1M146 159h.1M149 149h.1M160 159h.1M149 145h.1M153 140h.1M149 140h.1M141 160h.1M156 147h.1M139 169h.1M160 135h.1M153 132h.1M130 160h.1M146 135h.1M155 134h.1M148 140h.1M144 132h.1M145 144h.1M158 150h.1M151 134h.1M144 150h.1M142 156h.1M139 135h.1M154 151h.1M160 133h.1M154 152h.1M139 138h.1M146 149h.1M168 137h.1M160 134h.1M151 133h.1M165 117h.1M181 129h.1M170 109h.1M182 124h.1M184 128h.1M165 125h.1M169 129h.1M167 113h.1M190 127h.1M174 134h.1M180 126h.1M182 124h.1M167 126h.1M173 119h.1M179 120h.1M175 134h.1M175 121h.1M165 125h.1M165 117h.1M177 103h.1M182 121h.1M173 108h.1M184 122h.1M172 129h.1M170 116h.1M180 128h.1M176 130h.1M171 112h.1M171 131h.1M180 122h.1M171 114h.1M169 109h.1M177 111h.1M185 117h.1M179 112h.1M170 120h.1M174 115h.1M169 118h.1M172 125h.1M192 114h.1M161 136h.1M182 120h.1M181 116h.1M171 123h.1M171 123h.1M182 123h.1M176 129h.1M169 117h.1M177 104h.1M190 128h.1M201 119h.1M176 119h.1M180 130h.1M172 136h.1M182 128h.1M172 129h.1M166 111h.1M173 116h.1M187 124h.1M191 130h.1M151 125h.1M164 108h.1M175 128h.1M177 115h.1M176 128h.1M188 131h.1M170 111h.1M179 110h.1M185 101h.1M169 120h.1M183 128h.1M179 108h.1M183 121h.1M187 116h.1M178 108h.1M188 114h.1M179 111h.1M179 118h.1M168 113h.1M168 121h.1M176 124h.1M181 126h.1M188 123h.1M200 130h.1M202 124h.1M204 135h.1M216 135h.1M199 132h.1M199 124h.1M202 138h.1M207 135h.1M202 122h.1M201 120h.1M214 136h.1M201 129h.1M198 119h.1M209 124h.1M210 131h.1M222 137h.1M210 141h.1M216 117h.1M209 133h.1M215 130h.1M194 132h.1M204 143h.1M207 132h.1M211 134h.1M202 134h.1M191 131h.1M203 125h.1M206 136h.1M200 136h.1M209 121h.1M205 133h.1M201 139h.1M204 133h.1M206 144h.1M199 119h.1M199 132h.1M203 137h.1M199 137h.1M209 129h.1M193 122h.1M202 130h.1M206 133h.1M215 138h.1M201 133h.1M202 123h.1M385 108h.1M384 77h.1M359 80h.1M401 83h.1M397 92h.1M369 86h.1M391 79h.1M385 96h.1M382 68h.1M383 86h.1M394 86h.1M367 92h.1M382 97h.1M372 91h.1M380 82h.1M369 80h.1M373 102h.1M383 82h.1M378 81h.1M370 80h.1M401 93h.1M388 85h.1M382 76h.1M377 82h.1M397 84h.1M388 94h.1M398 88h.1M381 89h.1M383 72h.1M399 73h.1M360 91h.1M382 75h.1M372 83h.1M388 88h.1M378 99h.1M379 101h.1M394 55h.1M367 81h.1M399 84h.1M405 84h.1M383 80h.1M374 84h.1M398 97h.1M375 77h.1M365 89h.1M371 96h.1M388 100h.1M400 87h.1M378 75h.1M372 95h.1M376 71h.1M387 101h.1M364 108h.1M368 85h.1M390 104h.1M389 74h.1M383 85h.1M370 88h.1M381 74h.1M370 97h.1M378 87h.1M380 85h.1M376 75h.1M380 83h.1M385 100h.1M367 80h.1M380 78h.1M373 84h.1M382 94h.1M383 92h.1M392 70h.1M375 105h.1M375 93h.1M395 81h.1M388 94h.1M394 78h.1M371 94h.1M371 94h.1M387 81h.1M370 86h.1M371 88h.1M377 101h.1M390 109h.1M406 86h.1M380 101h.1M383 74h.1M393 82h.1M377 106h.1M377 83h.1M384 93h.1M369 85h.1M381 87h.1M388 83h.1M407 89h.1M383 81h.1M349 72h.1M379 85h.1M383 78h.1M401 58h.1M374 81h.1M369 46h.1M350 30h.1M360 50h.1M365 52h.1M346 51h.1M346 65h.1M339 59h.1M372 37h.1M340 35h.1M363 48h.1M360 45h.1M341 47h.1M372 49h.1M353 43h.1M357 63h.1M349 45h.1M348 35h.1M364 52h.1M353 54h.1M354 37h.1M337 43h.1M351 38h.1M350 35h.1M364 44h.1M368 55h.1M362 52h.1M358 61h.1M346 24h.1M356 47h.1M378 45h.1M368 53h.1M369 68h.1M349 47h.1M340 46h.1M358 64h.1M357 61h.1M352 57h.1M369 42h.1M367 39h.1M359 36h.1M359 57h.1M366 58h.1M355 32h.1M361 30h.1M356 52h.1M373 47h.1M360 31h.1M360 47h.1M349 48h.1M353 41h.1M345 53h.1M346 51h.1M364 57h.1M382 46h.1M364 53h.1M382 51h.1M370 62h.1M358 59h.1M355 30h.1M347 58h.1M368 46h.1M372 44h.1M347 46h.1M344 58h.1M377 54h.1M353 44h.1M367 60h.1M363 44h.1M362 54h.1M375 39h.1M373 55h.1M357 51h.1M363 51h.1M367 34h.1M353 58h.1M366 50h.1M371 42h.1M362 51h.1M356 38h.1M356 41h.1M347 61h.1M356 52h.1M356 28h.1M366 44h.1M348 42h.1M349 49h.1M351 48h.1M367 47h.1M223 71h.1M221 91h.1M229 90h.1M203 100h.1M234 86h.1M227 84h.1M212 79h.1M224 88h.1M217 80h.1M212 82h.1M244 77h.1M228 85h.1M242 91h.1M232 64h.1M216 94h.1M213 90h.1M233 97h.1M226 86h.1M222 101h.1M219 85h.1M227 89h.1M221 85h.1M226 83h.1M216 86h.1M219 88h.1M238 100h.1M211 64h.1M229 94h.1M223 82h.1M225 75h.1M217 81h.1M217 92h.1M214 84h.1M226 79h.1M222 77h.1M228 80h.1M213 81h.1M234 88h.1M232 82h.1M225 85h.1M223 80h.1M233 82h.1M229 84h.1M233 74h.1M214 80h.1M226 65h.1M231 80h.1M230 91h.1M230 78h.1M237 91h.1M226 82h.1M225 95h.1M221 78h.1M210 86h.1M229 72h.1M224 72h.1M208 69h.1M240 73h.1M220 82h.1M234 97h.1M221 73h.1M236 88h.1M228 85h.1M222 95h.1M216 83h.1M244 80h.1M224 87h.1M224 81h.1M229 86h.1M222 79h.1M217 87h.1M226 97h.1M220 73h.1M238 79h.1M222 90h.1M226 87h.1M237 80h.1M207 87h.1M230 84h.1M215 75h.1M227 91h.1M228 73h.1M225 72h.1M234 90h.1M220 81h.1M236 47h.1M234 38h.1M250 40h.1M240 54h.1M254 38h.1M260 48h.1M239 43h.1M258 46h.1M250 58h.1M249 37h.1M253 47h.1M257 47h.1M244 52h.1M253 57h.1M250 40h.1M247 45h.1M252 52h.1M243 26h.1M241 50h.1M258 47h.1M254 39h.1M268 51h.1M239 42h.1M248 25h.1M254 39h.1M243 30h.1M251 45h.1M257 51h.1M251 46h.1M247 70h.1M224 41h.1M254 56h.1M236 61h.1M258 39h.1M254 45h.1M249 49h.1M271 45h.1M254 58h.1M245 40h.1M243 44h.1M243 59h.1M251 47h.1M236 52h.1M242 49h.1M236 57h.1M258 49h.1M250 65h.1M243 45h.1M236 46h.1M256 39h.1M230 45h.1M265 65h.1M270 48h.1M237 40h.1M247 61h.1M233 33h.1M244 40h.1M252 38h.1M244 38h.1M239 47h.1M248 45h.1M255 40h.1M255 39h.1M254 47h.1M255 55h.1M258 49h.1M243 47h.1M238 42h.1M253 23h.1M253 36h.1M256 51h.1M257 47h.1M247 43h.1M250 41h.1M246 50h.1M253 55h.1M245 51h.1M255 47h.1M251 40h.1M307 34h.1M310 25h.1M294 21h.1M299 33h.1M280 34h.1M283 26h.1M298 17h.1M301 26h.1M308 38h.1M301 36h.1M291 33h.1M305 18h.1M304 36h.1M296 28h.1M298 30h.1M290 38h.1M302 33h.1M307 19h.1M295 29h.1M304 27h.1M284 23h.1M304 33h.1M306 24h.1M302 40h.1M298 35h.1M305 28h.1M304 30h.1M306 30h.1M307 27h.1M302 34h.1M292 31h.1M298 27h.1M303 18h.1M314 40h.1M292 33h.1M315 48h.1M300 36h.1M300 21h.1M302 31h.1M297 23h.1M299 22h.1M305 21h.1M298 33h.1M298 35h.1M294 37h.1M306 27h.1M306 27h.1M305 43h.1M312 22h.1M301 48h.1M282 35h.1M294 38h.1M294 25h.1M306 39h.1M306 37h.1M291 17h.1M304 37h.1M283 43h.1M304 19h.1M281 26h.1M422 165h.1M423 153h.1M430 165h.1M429 175h.1M427 181h.1M423 166h.1M411 188h.1M431 175h.1M415 189h.1M441 168h.1M420 169h.1M415 170h.1M434 159h.1M424 174h.1M440 160h.1M413 159h.1M422 161h.1M426 185h.1M444 160h.1M424 160h.1M421 167h.1M440 167h.1M437 167h.1M415 166h.1M435 167h.1M429 183h.1M434 176h.1M428 171h.1M419 175h.1M413 153h.1M441 164h.1M427 166h.1M427 178h.1M443 180h.1M441 173h.1M430 166h.1M429 176h.1M418 158h.1M428 165h.1M427 166h.1M426 169h.1M436 163h.1M433 177h.1M433 166h.1M428 171h.1M441 167h.1M436 177h.1M437 174h.1M417 189h.1M419 184h.1M437 203h.1M418 193h.1M429 156h.1M449 171h.1M422 183h.1M425 159h.1M433 158h.1M432 184h.1M437 160h.1M431 171h.1M415 178h.1M433 179h.1M434 175h.1M444 163h.1M446 168h.1M424 161h.1M426 168h.1M433 167h.1M416 171h.1M441 170h.1M433 164h.1M428 171h.1M421 169h.1M441 173h.1M423 177h.1M431 188h.1M440 157h.1M419 162h.1M435 165h.1M437 164h.1M449 172h.1M435 148h.1M419 174h.1M428 171h.1M443 174h.1M443 155h.1M434 161h.1M426 171h.1M428 177h.1M431 182h.1M434 178h.1M438 174h.1M437 161h.1M437 180h.1M421 189h.1M426 168h.1M423 183h.1M419 168h.1M430 168h.1M442 179h.1M351 269h.1M356 257h.1M346 260h.1M356 262h.1M334 249h.1M353 247h.1M341 258h.1M353 270h.1M350 258h.1M345 268h.1M344 244h.1M363 259h.1M351 268h.1M342 264h.1M348 257h.1M345 262h.1M361 269h.1M353 260h.1M365 267h.1M359 272h.1M342 248h.1M342 271h.1M357 261h.1M349 264h.1M347 268h.1M355 270h.1M365 256h.1M357 285h.1M347 271h.1M343 267h.1M340 256h.1M354 269h.1M354 260h.1M347 259h.1M363 256h.1M332 266h.1M359 279h.1M352 259h.1M357 243h.1M357 277h.1M351 279h.1M355 245h.1M345 258h.1M358 266h.1M357 272h.1M350 251h.1M353 259h.1M331 256h.1M360 272h.1M325 262h.1M333 256h.1M356 258h.1M356 261h.1M350 248h.1M339 255h.1M336 267h.1M347 255h.1M351 264h.1M361 267h.1M358 276h.1M355 275h.1M356 268h.1M376 261h.1M351 275h.1M354 270h.1M365 262h.1M337 268h.1M349 257h.1M351 259h.1M365 255h.1M362 254h.1M352 262h.1M344 268h.1M347 261h.1M359 252h.1M353 264h.1M356 258h.1M365 251h.1M323 269h.1M344 257h.1M342 259h.1M355 251h.1M361 249h.1M346 259h.1M353 271h.1M348 258h.1M343 281h.1M345 241h.1M340 275h.1M345 264h.1M329 280h.1M315 275h.1M329 275h.1M315 272h.1M324 286h.1M337 285h.1M328 267h.1M330 286h.1M312 274h.1M318 279h.1M314 287h.1M319 276h.1M318 287h.1M315 274h.1M328 271h.1M324 283h.1M319 281h.1M324 291h.1M315 280h.1M315 266h.1M310 274h.1M324 273h.1M326 290h.1M314 289h.1M331 267h.1M318 271h.1M312 280h.1M325 275h.1M306 277h.1M316 274h.1M312 291h.1M332 287h.1M305 272h.1M300 277h.1M326 289h.1M313 306h.1M308 278h.1M327 287h.1M306 295h.1M320 288h.1M307 273h.1M314 284h.1M305 295h.1M324 287h.1M318 273h.1M310 266h.1M320 262h.1M317 285h.1M328 289h.1M312 280h.1M332 275h.1M324 287h.1M328 277h.1M321 286h.1M320 281h.1M319 290h.1M314 275h.1M317 260h.1M330 280h.1M317 286h.1M327 274h.1M314 273h.1M333 281h.1M317 283h.1M308 295h.1M315 282h.1M325 289h.1M320 290h.1M313 273h.1M311 272h.1M325 260h.1M317 295h.1M327 281h.1M312 271h.1M320 282h.1M316 278h.1M309 280h.1M303 273h.1M305 274h.1M286 260h.1M282 261h.1M282 281h.1M290 282h.1M288 272h.1M283 273h.1M281 280h.1M270 282h.1M285 270h.1M277 266h.1M285 283h.1M294 275h.1M296 285h.1M288 286h.1M275 267h.1M282 283h.1M286 270h.1M289 264h.1M275 277h.1M286 274h.1M291 261h.1M294 276h.1M292 278h.1M270 277h.1M285 276h.1M286 270h.1M297 285h.1M273 286h.1M276 280h.1M283 276h.1M270 266h.1M299 286h.1M278 276h.1M288 274h.1M288 279h.1M286 275h.1M282 296h.1M292 269h.1M284 293h.1M280 284h.1M297 281h.1M280 278h.1M294 273h.1M283 261h.1M279 276h.1M280 274h.1M276 266h.1M283 279h.1M283 271h.1M289 272h.1M278 270h.1M280 287h.1M290 280h.1M291 293h.1M275 278h.1M282 286h.1M284 278h.1M284 272h.1M276 282h.1M279 262h.1M295 264h.1M282 270h.1M290 273h.1M285 279h.1M275 285h.1M286 273h.1M288 264h.1M212 313h.1M207 289h.1M170 304h.1M201 303h.1M192 299h.1M196 311h.1M195 303h.1M196 299h.1M187 310h.1M192 289h.1M222 306h.1M182 307h.1M196 300h.1M205 289h.1M188 292h.1M211 288h.1M194 299h.1M206 303h.1M190 282h.1M202 294h.1M211 293h.1M205 293h.1M200 298h.1M198 300h.1M199 312h.1M216 285h.1M201 295h.1M190 301h.1M194 298h.1M188 315h.1M198 287h.1M204 300h.1M198 312h.1M199 306h.1M204 294h.1M191 283h.1M209 316h.1M194 297h.1M199 292h.1M207 312h.1M222 302h.1M172 291h.1M203 299h.1M207 303h.1M198 282h.1M212 299h.1M179 297h.1M225 297h.1M202 291h.1M191 289h.1M208 290h.1M207 307h.1M194 289h.1M190 309h.1M206 301h.1M195 297h.1M192 300h.1M201 294h.1M204 297h.1M200 291h.1M216 305h.1M187 307h.1M204 315h.1M208 293h.1M195 301h.1M176 299h.1M194 297h.1M199 293h.1M203 291h.1M214 297h.1M206 303h.1M175 296h.1M210 306h.1M201 289h.1M209 302h.1M217 301h.1M202 299h.1M193 295h.1M204 292h.1M218 306h.1M208 283h.1M206 303h.1M191 297h.1M212 289h.1M205 295h.1M215 315h.1M206 316h.1M175 250h.1M152 241h.1M166 235h.1M170 250h.1M156 260h.1M150 239h.1M152 251h.1M159 259h.1M163 255h.1M150 252h.1M174 252h.1M150 257h.1M162 258h.1M154 257h.1M160 262h.1M151 261h.1M162 252h.1M174 241h.1M156 256h.1M140 248h.1M138 264h.1M168 246h.1M174 257h.1M155 249h.1M143 251h.1M144 252h.1M170 258h.1M171 264h.1M153 260h.1M178 229h.1M180 248h.1M159 249h.1M153 263h.1M162 252h.1M164 259h.1M162 266h.1M174 253h.1M167 244h.1M168 256h.1M147 252h.1M157 247h.1M162 232h.1M154 261h.1M167 240h.1M153 251h.1M163 257h.1M174 237h.1M153 239h.1M162 259h.1M158 245h.1M174 244h.1M153 248h.1M181 255h.1M150 245h.1M161 255h.1M145 265h.1M158 237h.1M158 260h.1M166 246h.1M163 249h.1M171 246h.1M157 237h.1M173 249h.1M152 239h.1M174 254h.1M151 272h.1M163 236h.1M182 264h.1M163 238h.1M178 259h.1M159 247h.1M153 260h.1M181 264h.1M130 256h.1M173 257h.1M150 248h.1M160 248h.1M176 244h.1M168 252h.1M170 253h.1M172 247h.1M166 264h.1M146 265h.1M161 240h.1M179 259h.1M157 240h.1M158 252h.1M158 241h.1M163 248h.1M148 240h.1M158 258h.1M166 243h.1M163 242h.1M162 244h.1M159 248h.1M146 209h.1M133 209h.1M143 190h.1M141 201h.1M141 208h.1M139 198h.1M151 198h.1M136 200h.1M134 198h.1M141 193h.1M142 214h.1M142 205h.1M136 192h.1M150 200h.1M129 194h.1M136 199h.1M147 209h.1M147 196h.1M133 211h.1M127 196h.1M138 191h.1M124 202h.1M131 202h.1M145 199h.1M134 199h.1M151 204h.1M145 223h.1M142 208h.1M149 183h.1M142 206h.1M150 210h.1M147 194h.1M134 205h.1M141 194h.1M140 208h.1M131 192h.1M140 202h.1M145 205h.1M144 202h.1M141 204h.1M147 203h.1M133 188h.1M137 198h.1M143 186h.1M133 199h.1M131 194h.1M136 196h.1M133 199h.1M132 196h.1M145 208h.1M132 194h.1M142 210h.1M408 246h.1M427 236h.1M421 241h.1M421 247h.1M429 236h.1M423 242h.1M424 228h.1M406 230h.1M417 237h.1M435 231h.1M417 240h.1M405 218h.1M441 244h.1M407 249h.1M415 235h.1M414 239h.1M413 247h.1M432 248h.1M440 256h.1M408 241h.1M419 254h.1M403 243h.1M435 235h.1M432 234h.1M421 249h.1M423 215h.1M414 239h.1M420 233h.1M414 238h.1M426 244h.1M422 234h.1M410 245h.1M428 240h.1M421 244h.1M419 230h.1M429 236h.1M429 237h.1M426 242h.1M413 255h.1M413 241h.1M435 224h.1M427 229h.1M433 242h.1M423 243h.1M424 254h.1M416 244h.1M419 232h.1M420 234h.1M419 257h.1M415 243h.1M410 228h.1M429 236h.1M408 235h.1M429 237h.1M415 242h.1M410 237h.1M415 222h.1M422 251h.1M411 250h.1M429 243h.1M411 245h.1M437 245h.1M409 231h.1M420 238h.1M402 228h.1M412 242h.1M407 242h.1M412 249h.1M413 233h.1M411 243h.1M421 245h.1M421 257h.1M430 246h.1M430 231h.1M435 243h.1M439 245h.1M344 321h.1M351 341h.1M355 329h.1M353 312h.1M357 341h.1M360 321h.1M366 325h.1M358 329h.1M363 333h.1M369 327h.1M369 328h.1M348 332h.1M367 318h.1M351 343h.1M355 318h.1M358 328h.1M366 321h.1M359 323h.1M370 329h.1M345 337h.1M353 334h.1M361 325h.1M358 331h.1M358 343h.1M349 326h.1M369 323h.1M355 328h.1M377 331h.1M368 314h.1M355 334h.1M360 338h.1M365 335h.1M359 325h.1M362 338h.1M350 321h.1M356 327h.1M355 331h.1M367 335h.1M360 331h.1M353 329h.1M342 335h.1M374 329h.1M343 338h.1M368 336h.1M360 326h.1M366 327h.1M353 323h.1M367 330h.1M359 326h.1M359 328h.1M358 330h.1M353 326h.1M370 346h.1M358 330h.1M361 321h.1M361 346h.1M376 331h.1M347 328h.1M363 322h.1M359 320h.1M351 326h.1M368 336h.1M351 332h.1M358 336h.1M368 338h.1M367 320h.1M244 264h.1M232 267h.1M226 275h.1M231 256h.1M221 273h.1M220 267h.1M228 262h.1M226 262h.1M233 270h.1M226 281h.1M241 278h.1M228 275h.1M221 282h.1M233 252h.1M231 273h.1M241 260h.1M249 264h.1M229 266h.1M232 271h.1M225 270h.1M231 269h.1M229 269h.1M235 276h.1M224 273h.1M256 269h.1M237 263h.1M220 283h.1M234 262h.1M214 266h.1M227 268h.1M235 272h.1M225 274h.1M231 270h.1M234 266h.1M224 281h.1M223 286h.1M237 273h.1M251 283h.1M237 270h.1M229 267h.1M239 270h.1M236 266h.1M240 259h.1M228 278h.1M232 284h.1M246 262h.1M214 267h.1M237 281h.1M245 266h.1M227 262h.1M235 270h.1M235 265h.1M246 260h.1M237 269h.1M241 271h.1M231 281h.1M234 275h.1M216 274h.1M222 275h.1M228 260h.1M230 267h.1M240 270h.1M226 270h.1M230 292h.1M230 255h.1M235 275h.1M220 276h.1M234 269h.1M209 272h.1M232 274h.1M231 264h.1M450 116h.1M442 100h.1M443 130h.1M438 104h.1M444 122h.1M451 122h.1M442 120h.1M437 112h.1M433 123h.1M445 121h.1M432 112h.1M439 125h.1M428 113h.1M448 122h.1M432 133h.1M435 110h.1M441 117h.1M441 125h.1M434 114h.1M439 124h.1M441 123h.1M438 105h.1M442 137h.1M440 129h.1M440 122h.1M444 113h.1M449 112h.1M438 121h.1M451 120h.1M435 118h.1M437 119h.1M426 118h.1M444 116h.1M442 112h.1M428 118h.1M436 119h.1M440 132h.1M431 110h.1M432 127h.1M449 127h.1M447 133h.1M443 125h.1M437 123h.1M424 119h.1M436 106h.1M436 112h.1M441 123h.1M431 127h.1M446 121h.1M431 127h.1M440 119h.1M430 120h.1M431 133h.1M400 67h.1M410 61h.1M402 59h.1M403 55h.1M399 71h.1M409 62h.1M409 61h.1M403 60h.1M407 68h.1M405 61h.1M402 54h.1M393 65h.1M394 66h.1M391 48h.1M407 61h.1M407 65h.1M402 67h.1M407 65h.1M407 58h.1M408 66h.1M415 66h.1M402 64h.1M409 64h.1M406 59h.1M184 61h.1M178 64h.1M186 65h.1M191 60h.1M178 58h.1M181 69h.1M193 53h.1M190 60h.1M176 78h.1M189 63h.1M190 59h.1M187 51h.1M187 63h.1M177 71h.1M183 67h.1M186 60h.1M190 68h.1M179 74h.1M181 61h.1M188 55h.1M169 70h.1M191 82h.1M180 56h.1M184 68h.1M184 62h.1M178 68h.1M188 59h.1M195 69h.1M296 356h.1M299 343h.1M303 356h.1M300 361h.1M289 360h.1M294 364h.1M304 363h.1M302 354h.1M306 355h.1M299 357h.1M305 361h.1M292 352h.1M302 349h.1M302 348h.1M302 360h.1M293 354h.1M289 357h.1M292 356h.1M298 352h.1M296 366h.1M305 353h.1M303 354h.1M298 364h.1M291 358h.1M290 371h.1M295 354h.1M302 353h.1M317 357h.1M306 344h.1M300 351h.1M308 346h.1M302 355h.1M313 355h.1M283 346h.1M293 342h.1M291 365h.1M299 349h.1M306 359h.1M311 351h.1M296 354h.1M306 346h.1M301 351h.1M292 351h.1M297 362h.1M316 361h.1M297 342h.1M299 357h.1M307 352h.1M304 356h.1M292 339h.1M294 355h.1M246 355h.1M232 347h.1M229 346h.1M235 356h.1M235 347h.1M238 361h.1M225 353h.1M235 340h.1M237 349h.1M226 357h.1M236 347h.1M229 345h.1M235 356h.1M233 341h.1M233 342h.1M235 352h.1M232 350h.1M232 350h.1M229 358h.1M244 350h.1M221 354h.1M235 339h.1M241 343h.1M233 348h.1M226 351h.1M224 339h.1M224 353h.1M232 352h.1M223 345h.1M230 355h.1M221 346h.1M234 358h.1M225 343h.1M124 170h.1M122 176h.1M135 169h.1M121 172h.1M126 170h.1M129 164h.1M126 169h.1M134 182h.1M134 170h.1M131 171h.1M130 175h.1M128 176h.1M136 167h.1M137 173h.1M129 167h.1M137 164h.1M129 173h.1M132 165h.1M131 168h.1M132 163h.1M129 172h.1M133 172h.1M133 165h.1M134 164h.1M135 171h.1M129 167h.1M120 165h.1M131 166h.1M127 165h.1" stroke="#d6728e" stroke-width="1.5" stroke-linecap="round" stroke-opacity="0.72" fill="none"/><path d="M261 255h.1M316 332h.1M193 141h.1M177 135h.1M280 98h.1M377 271h.1M363 123h.1M269 155h.1M185 51h.1M268 301h.1M324 222h.1M133 142h.1M186 323h.1M201 291h.1M274 156h.1M323 29h.1M410 307h.1M456 171h.1M310 64h.1M252 267h.1M456 177h.1M455 125h.1M318 269h.1M202 49h.1M317 93h.1M340 243h.1M316 129h.1M399 146h.1M297 203h.1M349 301h.1M121 217h.1M131 130h.1M216 55h.1M377 317h.1M396 324h.1M115 207h.1M449 178h.1M142 273h.1M288 262h.1M447 269h.1M308 144h.1M222 305h.1M366 63h.1M324 227h.1M382 53h.1M277 367h.1M208 167h.1M292 49h.1M360 186h.1M269 164h.1M402 104h.1M129 189h.1M355 72h.1M194 92h.1M282 194h.1M267 154h.1M282 113h.1M146 212h.1M346 265h.1M378 227h.1M136 234h.1M373 293h.1M427 126h.1M453 147h.1M176 68h.1M279 74h.1M238 274h.1M382 180h.1M285 327h.1M379 229h.1M381 283h.1M449 146h.1M324 197h.1M403 193h.1M367 47h.1M146 172h.1M267 52h.1M309 109h.1M290 335h.1M123 236h.1M295 367h.1M259 121h.1M390 174h.1M302 276h.1M228 244h.1M160 298h.1M273 16h.1M255 260h.1M291 161h.1M335 203h.1M285 347h.1M243 272h.1M224 132h.1M298 23h.1M120 220h.1M342 48h.1M247 290h.1M362 231h.1M196 160h.1M171 263h.1M290 29h.1M193 149h.1M240 292h.1M206 189h.1M133 218h.1M349 246h.1M288 331h.1M271 290h.1M149 276h.1M240 253h.1M296 206h.1M424 205h.1M337 164h.1M265 319h.1M389 272h.1M408 114h.1M157 285h.1M295 345h.1M421 227h.1M185 116h.1M206 199h.1M256 191h.1M425 268h.1M403 54h.1M323 121h.1M118 202h.1M372 329h.1M389 235h.1M322 258h.1M222 112h.1M165 147h.1M432 301h.1M290 154h.1M289 335h.1M325 237h.1M290 212h.1M195 153h.1M130 253h.1M413 92h.1M455 200h.1M392 218h.1M237 39h.1M305 346h.1M290 91h.1M251 270h.1M191 85h.1M413 177h.1M242 60h.1M187 315h.1M327 164h.1M384 62h.1M337 226h.1M415 165h.1M327 152h.1M167 200h.1M337 114h.1M275 274h.1M233 194h.1M430 270h.1M201 258h.1M317 281h.1M182 192h.1M296 39h.1M372 72h.1M349 296h.1M245 335h.1M256 261h.1M284 137h.1M381 259h.1M164 287h.1M312 343h.1M314 46h.1M154 269h.1M223 174h.1M175 134h.1M150 182h.1M179 178h.1M297 131h.1M284 277h.1M400 307h.1M188 70h.1M164 255h.1M181 323h.1M444 250h.1M306 128h.1M400 105h.1M209 46h.1M334 126h.1M301 182h.1M161 220h.1M339 181h.1M318 173h.1M219 120h.1M175 255h.1M434 170h.1M171 120h.1M439 231h.1M370 196h.1M180 102h.1M258 119h.1M306 224h.1M243 299h.1M351 208h.1M244 223h.1M344 182h.1M308 210h.1M441 242h.1M374 156h.1M262 132h.1M199 301h.1M196 247h.1M280 235h.1M154 84h.1M375 122h.1M157 92h.1M172 257h.1M320 169h.1M267 355h.1M406 260h.1M339 340h.1M306 331h.1M428 277h.1M307 328h.1M314 223h.1M251 234h.1M465 230h.1M313 79h.1M309 33h.1M182 58h.1M431 96h.1M443 239h.1M387 315h.1M283 175h.1M303 225h.1M324 362h.1M433 291h.1M347 83h.1M344 270h.1M334 187h.1M175 326h.1M326 167h.1M338 301h.1M358 334h.1M330 327h.1M285 152h.1M209 333h.1M270 194h.1M230 187h.1M265 86h.1M446 255h.1M267 187h.1M381 297h.1M373 301h.1M375 332h.1M204 267h.1M181 175h.1M232 294h.1M349 33h.1M446 163h.1M185 74h.1M317 171h.1M127 148h.1M404 262h.1M188 107h.1M397 201h.1M202 269h.1M357 247h.1M281 40h.1M136 217h.1M347 161h.1M155 271h.1M223 335h.1M246 167h.1M219 339h.1M177 143h.1M311 64h.1M165 179h.1M189 332h.1M161 245h.1M220 301h.1M340 281h.1M409 102h.1M367 79h.1M343 242h.1M305 93h.1M406 163h.1M292 230h.1M353 114h.1M413 162h.1M297 304h.1M310 290h.1M139 250h.1M349 282h.1M230 212h.1M307 84h.1M356 232h.1M301 256h.1M269 304h.1M318 28h.1M169 268h.1M422 113h.1M388 217h.1M313 114h.1M292 141h.1M171 288h.1M282 245h.1M140 272h.1M280 31h.1M252 205h.1M177 248h.1M124 143h.1M268 254h.1M174 182h.1M234 271h.1M345 72h.1M141 231h.1M469 205h.1M422 269h.1M462 202h.1M172 69h.1M446 220h.1M270 266h.1M327 35h.1M257 261h.1M422 227h.1M355 58h.1M290 184h.1M211 53h.1M459 163h.1M308 153h.1M410 157h.1M260 292h.1M368 206h.1M243 210h.1M349 243h.1M235 175h.1M378 93h.1M295 133h.1M282 137h.1M235 239h.1M314 288h.1M142 268h.1M385 97h.1M342 140h.1M208 324h.1M278 20h.1M334 304h.1M202 161h.1M242 239h.1M148 158h.1M366 295h.1M222 204h.1M412 209h.1M357 212h.1M147 135h.1M314 53h.1M230 265h.1M412 69h.1M240 340h.1M239 279h.1M388 153h.1M310 78h.1M405 244h.1M339 272h.1M160 93h.1M342 337h.1M252 163h.1M341 314h.1M221 330h.1M329 249h.1M287 103h.1M269 320h.1M377 187h.1M336 253h.1M307 107h.1M340 160h.1M148 285h.1M337 341h.1M228 163h.1M355 126h.1M372 122h.1M342 135h.1M351 157h.1M352 235h.1M379 249h.1M257 30h.1M376 211h.1M265 130h.1M330 364h.1M280 207h.1M227 29h.1M414 302h.1M325 171h.1M222 133h.1M189 68h.1M134 215h.1M253 271h.1M411 270h.1M327 303h.1M191 231h.1M260 302h.1M123 197h.1M165 200h.1M301 242h.1M334 225h.1M254 177h.1M453 191h.1M399 75h.1M317 117h.1M250 276h.1M253 338h.1M192 127h.1M331 74h.1M328 135h.1M243 117h.1M280 159h.1M378 140h.1M384 323h.1M393 260h.1M321 138h.1M265 295h.1M270 360h.1M288 118h.1M401 268h.1M237 188h.1M324 237h.1M353 255h.1M409 150h.1M296 331h.1M427 229h.1M333 97h.1M367 239h.1M206 347h.1M323 26h.1M240 133h.1M435 162h.1M399 314h.1M419 106h.1M364 53h.1M349 173h.1M313 106h.1M302 317h.1M325 38h.1M415 268h.1M219 309h.1M351 199h.1M371 242h.1M157 245h.1M399 104h.1M193 271h.1M367 193h.1M444 120h.1M395 165h.1M146 243h.1M262 252h.1M137 277h.1M438 158h.1M374 291h.1M162 310h.1M330 284h.1M366 72h.1M265 257h.1M161 218h.1M230 127h.1M185 55h.1M148 174h.1M184 258h.1M209 151h.1M427 92h.1M354 64h.1M393 303h.1M213 36h.1M304 160h.1M357 247h.1M317 357h.1M372 282h.1M219 223h.1M239 26h.1M454 139h.1M457 207h.1M365 314h.1M188 326h.1M462 183h.1M418 112h.1M409 179h.1M172 300h.1M383 237h.1M385 111h.1M316 277h.1M170 120h.1M249 210h.1M372 226h.1M307 303h.1M355 66h.1M345 206h.1M211 42h.1M416 290h.1M299 189h.1M192 99h.1M291 165h.1M259 237h.1M226 265h.1M375 304h.1M182 101h.1M275 35h.1M346 141h.1M390 259h.1M195 51h.1M384 41h.1M377 204h.1M382 144h.1M318 27h.1M236 181h.1M397 150h.1M314 286h.1M382 201h.1M235 57h.1M282 367h.1M255 301h.1M387 150h.1M390 67h.1M350 153h.1M326 237h.1M331 142h.1M215 98h.1M430 238h.1M382 273h.1M368 229h.1M139 129h.1M329 147h.1M259 266h.1M252 240h.1M253 138h.1M436 142h.1M312 329h.1M291 57h.1M332 124h.1M210 216h.1M296 255h.1M183 227h.1M205 53h.1M131 163h.1M345 33h.1M309 239h.1M223 161h.1M147 216h.1M247 133h.1M282 87h.1M412 257h.1M198 144h.1M173 321h.1M365 70h.1M352 69h.1M422 205h.1M304 284h.1M410 269h.1M279 351h.1M274 110h.1M346 333h.1M177 253h.1M256 331h.1M339 264h.1M362 60h.1M392 333h.1M265 66h.1M203 202h.1M130 249h.1M432 257h.1M282 25h.1M263 311h.1M348 178h.1M151 272h.1M276 185h.1M160 88h.1M216 338h.1M182 67h.1M298 364h.1M444 184h.1M327 110h.1M192 168h.1M200 328h.1M340 147h.1M287 47h.1M192 221h.1M279 218h.1M162 285h.1M240 325h.1M126 224h.1M399 277h.1M222 275h.1M271 134h.1M133 169h.1M240 259h.1M319 114h.1M259 290h.1M259 134h.1M425 193h.1M123 190h.1M414 157h.1M229 168h.1M396 197h.1M264 42h.1M269 103h.1M328 174h.1M154 228h.1M175 208h.1M315 235h.1M198 241h.1M238 237h.1M279 187h.1M278 88h.1M252 319h.1M183 316h.1M317 248h.1M210 263h.1M323 129h.1M378 225h.1M260 26h.1M431 285h.1M290 279h.1M155 298h.1M342 291h.1M451 198h.1M279 192h.1M277 80h.1M422 103h.1M369 33h.1M238 148h.1M199 200h.1M441 278h.1M340 172h.1M374 107h.1M286 345h.1M394 265h.1M175 317h.1M366 108h.1M232 203h.1M423 183h.1M240 200h.1M144 222h.1M312 106h.1M446 165h.1M431 292h.1M135 230h.1M355 160h.1M373 122h.1M360 260h.1M132 126h.1M180 325h.1M133 149h.1M378 176h.1M368 69h.1M451 114h.1M404 114h.1M320 144h.1M277 149h.1M351 186h.1M201 45h.1M432 187h.1M296 106h.1M214 260h.1M317 337h.1M171 230h.1M263 242h.1M235 90h.1M418 270h.1M245 272h.1M311 304h.1M121 146h.1M327 103h.1M229 199h.1M248 65h.1M437 235h.1M256 91h.1M346 194h.1M394 221h.1M392 191h.1M432 166h.1M200 174h.1M308 350h.1M229 66h.1M208 40h.1M252 29h.1M344 272h.1M354 111h.1M270 270h.1M342 158h.1M312 71h.1M181 82h.1M186 160h.1M364 248h.1M254 71h.1M244 283h.1M231 291h.1M221 241h.1M435 157h.1M359 320h.1M313 310h.1M126 249h.1M460 229h.1M279 102h.1M344 132h.1M336 212h.1M261 361h.1M319 103h.1M254 78h.1M216 215h.1M262 344h.1M305 275h.1M444 219h.1M204 318h.1M310 116h.1M285 196h.1M308 98h.1M325 50h.1M157 250h.1M423 250h.1M367 301h.1M423 290h.1M183 307h.1M264 244h.1M182 236h.1M193 92h.1M202 80h.1M246 109h.1M247 317h.1M318 182h.1M195 179h.1M391 173h.1M347 96h.1M291 280h.1M245 65h.1M264 282h.1M459 173h.1M377 162h.1M231 141h.1M195 243h.1M458 138h.1M413 187h.1M301 346h.1M443 132h.1M251 293h.1M382 56h.1M351 110h.1M294 288h.1M169 320h.1M253 38h.1M374 255h.1M422 133h.1M400 282h.1M294 340h.1M204 343h.1M143 246h.1M179 207h.1M151 278h.1M180 199h.1M148 269h.1M245 225h.1M157 96h.1M294 155h.1M244 112h.1M407 124h.1M267 20h.1M300 163h.1M443 149h.1M146 137h.1M358 165h.1M187 272h.1M357 266h.1M238 163h.1M225 190h.1M328 118h.1M308 37h.1M232 58h.1M229 176h.1M359 137h.1M263 138h.1M300 351h.1M320 66h.1M249 277h.1M393 292h.1M125 227h.1M402 138h.1M402 324h.1M372 111h.1M454 219h.1M344 343h.1M426 83h.1M228 229h.1M203 323h.1M425 252h.1M167 310h.1M259 196h.1M340 83h.1M356 357h.1M249 267h.1M410 203h.1M274 89h.1M148 122h.1M383 193h.1M158 163h.1M379 253h.1M227 158h.1M271 359h.1M260 344h.1M209 159h.1M314 177h.1M284 212h.1M248 314h.1M275 90h.1M261 250h.1M249 158h.1M317 172h.1M302 323h.1M218 294h.1M369 185h.1M307 140h.1M303 71h.1M233 289h.1M195 338h.1M332 318h.1M413 303h.1M347 178h.1M275 94h.1M393 148h.1M437 272h.1M135 273h.1M341 179h.1M408 327h.1M309 259h.1M255 214h.1M430 299h.1M288 157h.1M300 313h.1M401 134h.1M243 49h.1M163 147h.1M344 284h.1M306 249h.1M288 50h.1M159 180h.1M458 209h.1M449 253h.1M297 283h.1M308 351h.1M319 228h.1M437 260h.1M126 221h.1M214 235h.1M273 92h.1M380 266h.1M244 324h.1M283 311h.1M167 288h.1M420 175h.1M372 123h.1M338 286h.1M284 191h.1M272 296h.1M328 49h.1M301 369h.1M271 225h.1M231 106h.1M352 28h.1M364 314h.1M217 188h.1M185 157h.1M379 247h.1M404 64h.1M237 180h.1M337 41h.1M264 255h.1M139 180h.1M232 264h.1M386 305h.1M344 54h.1M199 205h.1M278 70h.1M182 319h.1M165 234h.1M442 273h.1M208 130h.1M438 152h.1M373 275h.1M245 338h.1M235 142h.1M411 80h.1M243 159h.1M267 263h.1M145 152h.1M422 192h.1M291 221h.1M140 112h.1M357 130h.1M406 206h.1M305 342h.1M449 277h.1M139 234h.1M117 173h.1M231 162h.1M287 353h.1M312 309h.1M351 289h.1M342 165h.1M132 141h.1M401 149h.1M140 216h.1M419 215h.1M204 169h.1M250 325h.1M462 183h.1M450 229h.1M460 170h.1M268 35h.1M428 283h.1M206 184h.1M406 181h.1M335 64h.1M318 24h.1M245 286h.1M417 191h.1M161 272h.1M367 129h.1M333 338h.1M385 87h.1M204 89h.1M289 196h.1M281 215h.1M337 348h.1M227 68h.1M379 52h.1M247 259h.1M354 264h.1M208 95h.1M385 242h.1M134 152h.1M308 63h.1M179 60h.1M213 225h.1M158 259h.1M470 181h.1M232 274h.1M203 258h.1M167 243h.1M206 86h.1M275 222h.1M289 84h.1M276 316h.1M353 247h.1M394 245h.1M374 125h.1M361 215h.1M278 363h.1M153 185h.1M378 44h.1M206 221h.1M367 155h.1M391 244h.1M177 60h.1M333 146h.1M301 71h.1M387 294h.1M332 149h.1M362 248h.1M190 162h.1M136 110h.1M344 83h.1M210 176h.1M380 48h.1M293 240h.1M455 219h.1M231 294h.1M350 284h.1M206 89h.1M244 256h.1M169 186h.1M250 62h.1M369 322h.1M387 86h.1M395 256h.1M255 250h.1M255 202h.1M189 58h.1M271 122h.1M225 321h.1M127 207h.1M435 237h.1M271 221h.1M350 118h.1M211 80h.1M242 102h.1M404 250h.1M329 176h.1M321 156h.1M192 112h.1M318 52h.1M336 215h.1M212 285h.1M303 18h.1M336 25h.1M138 145h.1M238 279h.1M311 99h.1M320 168h.1M191 161h.1M237 93h.1M323 263h.1M382 252h.1M308 255h.1M118 183h.1M414 70h.1M355 203h.1M385 95h.1M332 122h.1M164 204h.1M320 112h.1M342 203h.1M275 268h.1M213 78h.1M412 161h.1M219 152h.1M246 91h.1M280 362h.1M390 161h.1M222 46h.1M185 225h.1M218 85h.1M183 118h.1M231 33h.1M401 265h.1M343 136h.1M335 78h.1M312 315h.1M198 163h.1M323 263h.1M267 312h.1M149 137h.1M164 214h.1M229 344h.1M297 122h.1M283 68h.1M333 132h.1M307 59h.1M233 129h.1M354 268h.1M377 127h.1M464 202h.1M246 109h.1M258 160h.1M365 128h.1M338 117h.1M245 81h.1M350 25h.1M155 125h.1M311 282h.1M376 71h.1M158 184h.1M410 198h.1M340 41h.1M287 251h.1M292 367h.1M244 185h.1M323 61h.1M341 152h.1M382 179h.1M195 57h.1M365 354h.1M163 102h.1M316 248h.1M428 99h.1M289 315h.1M347 39h.1M211 205h.1M191 85h.1M447 256h.1M127 171h.1M196 198h.1M281 85h.1M355 161h.1M397 165h.1M144 227h.1M453 217h.1M269 129h.1M268 306h.1M443 165h.1M320 262h.1M315 101h.1M311 140h.1M346 208h.1M277 273h.1M272 126h.1M306 43h.1M304 228h.1M286 177h.1M192 54h.1M234 335h.1M139 178h.1M237 240h.1M404 101h.1M312 243h.1M137 206h.1M337 164h.1M395 245h.1M309 135h.1M403 159h.1M350 204h.1M189 167h.1M296 33h.1M340 287h.1M313 167h.1M380 176h.1M378 130h.1M136 128h.1M201 154h.1M177 256h.1M398 189h.1M305 23h.1M303 275h.1M311 184h.1M383 61h.1M166 199h.1M172 199h.1M335 308h.1M351 263h.1M300 292h.1M409 281h.1M290 271h.1M186 121h.1M194 175h.1M369 69h.1M171 127h.1M332 172h.1M424 134h.1M301 242h.1M283 284h.1M179 89h.1M194 316h.1M439 200h.1M207 349h.1M225 333h.1M189 83h.1M326 194h.1M327 162h.1M162 186h.1M183 59h.1M344 162h.1M220 348h.1M162 160h.1M216 309h.1M184 293h.1M417 176h.1M244 170h.1M294 296h.1M223 90h.1M389 152h.1M261 336h.1M193 308h.1M406 177h.1M386 296h.1M413 107h.1M444 196h.1M199 228h.1M413 180h.1M198 261h.1M444 165h.1M372 42h.1M391 189h.1M398 204h.1M428 281h.1M160 212h.1M310 85h.1M171 311h.1M396 108h.1M266 44h.1M238 222h.1M172 201h.1M169 67h.1M183 116h.1M317 71h.1M394 114h.1M403 184h.1M317 157h.1M326 64h.1M244 341h.1M291 357h.1M306 184h.1M207 117h.1M323 136h.1M192 327h.1M170 275h.1M318 296h.1M215 200h.1M259 289h.1M252 196h.1M133 179h.1M260 170h.1M409 255h.1M333 231h.1M354 57h.1M272 182h.1M225 216h.1M148 140h.1M256 255h.1M222 209h.1M342 182h.1M297 69h.1M383 314h.1M187 334h.1M331 164h.1M214 140h.1M237 51h.1M438 214h.1M236 177h.1M139 283h.1M163 90h.1M280 217h.1M237 61h.1M346 63h.1M414 315h.1M353 234h.1M166 204h.1M236 352h.1M135 120h.1M364 47h.1M169 236h.1M249 127h.1M264 126h.1M436 191h.1M331 77h.1M237 202h.1M341 306h.1M433 272h.1M239 310h.1M128 187h.1M262 136h.1M331 207h.1M280 36h.1M343 303h.1M320 192h.1M166 224h.1M382 320h.1M150 133h.1M297 341h.1M423 156h.1M160 228h.1M210 116h.1M187 295h.1M376 40h.1M150 298h.1M324 147h.1M209 270h.1M151 246h.1M313 206h.1M253 355h.1M183 161h.1M243 68h.1M348 281h.1M393 126h.1M274 343h.1M324 109h.1M252 184h.1M361 321h.1M219 287h.1M211 259h.1M187 215h.1M203 169h.1M220 304h.1M243 148h.1M448 185h.1M455 146h.1M208 303h.1M205 80h.1M325 106h.1M151 108h.1M200 122h.1M216 207h.1M281 213h.1M282 134h.1M272 85h.1M256 85h.1M179 239h.1M339 337h.1M248 168h.1M128 143h.1M281 236h.1M403 327h.1M333 117h.1M296 354h.1M464 150h.1M344 313h.1M212 109h.1M285 158h.1M117 184h.1M307 73h.1M141 276h.1M306 104h.1M264 328h.1M240 124h.1M237 48h.1M327 364h.1M135 262h.1M364 281h.1M365 49h.1M234 226h.1M356 339h.1M297 162h.1M357 124h.1M242 138h.1M295 344h.1M161 154h.1M396 101h.1M416 303h.1M256 39h.1M279 116h.1M304 110h.1M230 69h.1M362 129h.1M206 154h.1M446 239h.1M341 107h.1M151 88h.1M382 139h.1M369 140h.1M309 59h.1M374 39h.1M178 318h.1M385 44h.1M182 162h.1M403 196h.1M216 315h.1M296 73h.1M148 260h.1M193 255h.1M275 332h.1M367 247h.1M410 238h.1M174 96h.1M197 235h.1M121 185h.1M373 241h.1M307 81h.1M430 131h.1M301 238h.1M339 144h.1M310 361h.1M246 288h.1M466 159h.1M148 203h.1M137 265h.1M269 297h.1M425 298h.1M346 79h.1M305 359h.1M130 205h.1M380 199h.1M312 32h.1M404 150h.1M226 258h.1M230 118h.1M306 54h.1M341 40h.1M252 55h.1M367 137h.1M382 112h.1M202 272h.1M207 268h.1M279 64h.1M263 124h.1M342 210h.1M173 181h.1M310 110h.1M143 133h.1M388 338h.1M346 106h.1M250 69h.1M333 35h.1M248 210h.1M263 309h.1M332 90h.1M193 71h.1M333 186h.1M276 163h.1M138 187h.1M284 264h.1M272 362h.1M194 240h.1M309 148h.1M286 322h.1M375 288h.1M397 170h.1M274 148h.1M343 306h.1M346 156h.1M179 311h.1M270 194h.1M398 317h.1M281 254h.1M381 309h.1M342 306h.1M178 87h.1M457 138h.1M259 61h.1M274 304h.1M409 101h.1M183 100h.1M441 216h.1M316 270h.1M411 72h.1M263 58h.1M364 346h.1M187 278h.1M300 357h.1M377 146h.1M420 85h.1M337 313h.1M252 112h.1M424 140h.1M290 149h.1M234 247h.1M362 215h.1M338 48h.1M239 152h.1M369 239h.1M446 227h.1M281 222h.1M398 106h.1M373 207h.1M235 160h.1M142 240h.1M320 94h.1M330 266h.1M223 59h.1M258 116h.1M199 61h.1M387 83h.1M450 219h.1M327 242h.1M194 334h.1M171 153h.1M294 248h.1M208 182h.1M192 247h.1M322 39h.1M172 281h.1M249 195h.1M263 324h.1M324 247h.1M194 83h.1M213 186h.1M337 139h.1M284 361h.1M270 66h.1M440 152h.1M235 272h.1M408 234h.1M193 51h.1M158 126h.1M202 246h.1M422 177h.1M387 320h.1M271 262h.1M372 155h.1M302 200h.1M409 230h.1M332 314h.1M139 196h.1M357 231h.1M131 222h.1M293 278h.1M303 330h.1M179 218h.1M404 63h.1M408 132h.1M376 170h.1M131 211h.1M409 126h.1M334 82h.1M354 38h.1M286 352h.1M265 336h.1M336 276h.1M193 50h.1M323 203h.1M338 299h.1M249 108h.1M227 40h.1M433 124h.1M369 263h.1M265 288h.1M367 101h.1M407 228h.1M283 43h.1M434 240h.1M314 238h.1M344 281h.1M336 334h.1M335 330h.1M328 315h.1M360 311h.1M161 218h.1M343 147h.1M218 280h.1M382 196h.1M190 251h.1M150 195h.1M232 41h.1M318 351h.1M326 196h.1M407 141h.1M206 143h.1M364 202h.1M208 81h.1M372 134h.1M229 119h.1M236 98h.1M407 295h.1M348 193h.1M231 176h.1M462 235h.1M331 346h.1M265 84h.1M362 163h.1M375 349h.1M201 316h.1M208 178h.1M283 194h.1M350 26h.1M395 286h.1M250 144h.1M211 82h.1M398 105h.1M203 146h.1M313 178h.1M322 87h.1M378 240h.1M352 138h.1M272 150h.1M375 258h.1M317 94h.1M444 271h.1M434 189h.1M377 281h.1M298 16h.1M332 122h.1M284 345h.1M408 127h.1M213 263h.1M256 329h.1M174 68h.1M232 107h.1M408 325h.1M255 238h.1M334 158h.1M368 124h.1M221 190h.1M327 261h.1M403 177h.1M245 268h.1M385 253h.1M247 162h.1M240 355h.1M273 67h.1M188 249h.1M444 182h.1M136 193h.1M130 255h.1M387 290h.1M368 344h.1M444 134h.1M170 253h.1M371 179h.1M430 251h.1M386 313h.1M285 172h.1M144 166h.1M341 144h.1M315 184h.1M352 159h.1M426 187h.1M291 371h.1M210 208h.1M127 128h.1M306 38h.1M278 31h.1M382 60h.1M364 240h.1M341 62h.1M257 297h.1M418 210h.1M193 62h.1M422 82h.1M164 169h.1M179 166h.1M386 337h.1M251 196h.1M282 259h.1M176 180h.1M156 141h.1M289 87h.1M177 76h.1M295 290h.1M334 63h.1M287 138h.1M284 157h.1M251 363h.1M385 306h.1M258 263h.1M400 290h.1M197 137h.1M260 336h.1M189 265h.1M390 240h.1M220 102h.1M403 221h.1M199 146h.1M327 92h.1M265 211h.1M403 323h.1M142 167h.1M263 142h.1M344 276h.1M365 274h.1M297 15h.1M303 338h.1M232 61h.1M289 328h.1M202 170h.1M385 276h.1M365 215h.1M240 134h.1M429 116h.1M288 173h.1M126 253h.1M285 342h.1M185 81h.1M295 78h.1M307 186h.1M248 341h.1M418 249h.1M290 291h.1M452 136h.1M423 160h.1M299 223h.1M410 158h.1M369 327h.1M264 118h.1M169 92h.1M276 301h.1M215 140h.1M117 174h.1M282 89h.1M366 235h.1M281 210h.1M265 244h.1M329 346h.1M297 273h.1M388 163h.1M353 27h.1M397 161h.1M229 47h.1M336 100h.1M171 80h.1M269 323h.1M378 86h.1M414 70h.1M200 300h.1M258 82h.1M280 244h.1M124 197h.1M270 217h.1M324 352h.1M340 261h.1M277 173h.1M269 295h.1M233 274h.1M365 43h.1M254 118h.1M359 92h.1M450 136h.1M213 122h.1M447 187h.1M240 355h.1M338 220h.1M287 155h.1M286 95h.1M441 167h.1M179 197h.1M216 142h.1M143 241h.1M349 56h.1M317 117h.1M358 138h.1M262 107h.1M217 244h.1M380 130h.1M189 218h.1M441 197h.1M402 324h.1M273 133h.1M432 271h.1M222 173h.1M337 196h.1M408 79h.1M400 80h.1M402 70h.1M369 341h.1M250 321h.1M247 320h.1M243 323h.1M180 267h.1M183 267h.1M138 210h.1M332 50h.1M339 54h.1M331 50h.1M335 48h.1M339 263h.1M341 266h.1M340 264h.1M342 265h.1M428 190h.1M338 261h.1M343 262h.1M215 330h.1M213 330h.1M360 290h.1M350 180h.1M347 176h.1M351 186h.1M233 262h.1M194 116h.1M194 118h.1M196 120h.1M387 185h.1M351 94h.1M345 99h.1M235 301h.1M272 180h.1M268 184h.1M271 189h.1M138 199h.1M282 167h.1M277 164h.1M282 165h.1M380 100h.1M375 102h.1M383 94h.1M378 94h.1M380 97h.1M382 94h.1M382 93h.1M280 304h.1M284 303h.1M354 206h.1M229 150h.1M222 154h.1M227 153h.1M227 150h.1M231 151h.1M227 150h.1M251 303h.1M247 300h.1M302 71h.1M301 69h.1M298 69h.1M304 71h.1M299 70h.1M299 71h.1M306 35h.1M202 133h.1M205 138h.1M204 142h.1M204 133h.1M204 131h.1M202 137h.1M381 273h.1M264 330h.1M263 332h.1M414 77h.1M400 78h.1M407 84h.1M409 78h.1M411 75h.1M374 335h.1M298 196h.1M290 201h.1M293 196h.1M290 195h.1M287 195h.1M289 188h.1M295 198h.1M259 300h.1M250 300h.1M253 294h.1M256 298h.1M248 303h.1M252 296h.1M256 300h.1M435 176h.1M439 179h.1M441 179h.1M443 178h.1M433 183h.1M436 182h.1M438 187h.1M439 189h.1M313 140h.1M313 139h.1M261 294h.1M261 292h.1M259 299h.1M258 296h.1M259 299h.1M252 292h.1M377 106h.1M285 247h.1M287 247h.1M291 247h.1M195 179h.1M191 177h.1M192 176h.1M335 250h.1M333 249h.1M341 250h.1M344 247h.1M269 182h.1M270 179h.1M270 174h.1M275 92h.1M210 77h.1M388 328h.1M387 324h.1M208 136h.1M450 188h.1M211 184h.1M316 139h.1M374 107h.1M379 106h.1M381 102h.1M381 102h.1M384 96h.1M277 195h.1M277 209h.1M239 217h.1M447 158h.1M446 144h.1M453 151h.1M447 159h.1M284 166h.1M278 162h.1M282 165h.1M180 134h.1M226 199h.1M230 200h.1M227 197h.1M230 197h.1M232 202h.1M233 201h.1M228 198h.1M340 267h.1M225 157h.1M224 149h.1M234 150h.1M148 145h.1M148 145h.1M150 141h.1M151 143h.1M150 143h.1M148 143h.1M148 144h.1M370 263h.1M384 281h.1M387 286h.1M381 286h.1M388 289h.1M228 150h.1M432 240h.1M438 244h.1M435 243h.1M437 243h.1M356 136h.1M378 58h.1M382 50h.1M384 58h.1M142 229h.1M357 191h.1M226 323h.1M389 204h.1M396 198h.1M208 56h.1M218 86h.1M219 89h.1M312 360h.1M300 366h.1M469 211h.1M412 313h.1M439 239h.1M442 237h.1M443 239h.1M442 240h.1M302 21h.1M363 211h.1M361 207h.1M363 211h.1M364 204h.1M316 321h.1M314 324h.1M304 315h.1M317 168h.1M316 172h.1M313 173h.1M316 173h.1M393 337h.1M384 341h.1M390 338h.1M388 340h.1M385 337h.1M395 335h.1M206 114h.1M205 112h.1M205 116h.1M156 268h.1M154 275h.1M159 273h.1M454 128h.1M249 293h.1M250 297h.1M246 292h.1M247 293h.1M248 296h.1M193 159h.1M198 154h.1M200 158h.1M198 163h.1M395 97h.1M358 185h.1M362 187h.1M356 184h.1M358 179h.1M356 177h.1M301 225h.1M303 224h.1M415 243h.1M412 241h.1M404 245h.1M360 247h.1M185 78h.1M187 80h.1M191 157h.1M446 115h.1M445 111h.1M313 319h.1M214 91h.1M298 343h.1M321 177h.1M318 180h.1M315 178h.1M322 182h.1M318 177h.1M316 183h.1M322 185h.1M381 186h.1M398 190h.1M383 191h.1M388 193h.1M389 190h.1M388 190h.1M393 189h.1M258 364h.1M259 358h.1M261 359h.1M262 356h.1M260 356h.1M264 355h.1M258 357h.1M263 365h.1M465 215h.1M367 60h.1M360 53h.1M154 254h.1M147 255h.1M153 260h.1M153 252h.1M146 265h.1M152 255h.1M329 353h.1M326 348h.1M325 349h.1M330 347h.1M330 346h.1M313 267h.1M208 289h.1M212 293h.1M211 296h.1M209 294h.1M211 297h.1M313 18h.1M310 18h.1M394 125h.1M394 120h.1M391 124h.1M261 204h.1M355 56h.1M358 59h.1M363 59h.1M387 89h.1M385 82h.1M358 300h.1M364 289h.1M178 122h.1M173 127h.1M178 126h.1M179 126h.1M170 128h.1M350 346h.1M354 343h.1M376 199h.1M382 198h.1M374 195h.1M377 201h.1M381 195h.1M374 202h.1M377 198h.1M287 106h.1M281 103h.1M325 167h.1M328 165h.1M323 168h.1M323 173h.1M189 302h.1M191 306h.1M191 298h.1M187 303h.1M185 305h.1M126 202h.1M125 201h.1M127 200h.1M128 198h.1M124 199h.1M124 199h.1M338 127h.1M333 124h.1M336 126h.1M164 273h.1M407 137h.1M401 139h.1M406 137h.1M159 91h.1M157 86h.1M156 92h.1M153 88h.1M154 89h.1M297 80h.1M419 119h.1M422 121h.1M381 85h.1M229 38h.1M224 32h.1M261 220h.1M260 219h.1M308 161h.1M368 261h.1M368 271h.1M368 268h.1M372 265h.1M371 264h.1M246 61h.1M327 311h.1M188 151h.1M222 189h.1M226 199h.1M231 190h.1M314 188h.1M313 184h.1M314 183h.1M313 187h.1M315 183h.1M309 190h.1M359 334h.1M356 330h.1M458 144h.1M458 151h.1M462 148h.1M428 114h.1M429 115h.1M429 108h.1M254 321h.1M252 328h.1M256 317h.1M306 290h.1M311 293h.1M311 289h.1M195 282h.1M414 245h.1M211 267h.1M206 257h.1M328 21h.1M326 364h.1M298 80h.1M307 89h.1M307 81h.1M303 83h.1M310 88h.1M298 79h.1M295 78h.1M411 226h.1M413 226h.1M339 246h.1M353 172h.1M353 171h.1M247 258h.1M236 251h.1M233 248h.1M234 251h.1M233 262h.1M238 252h.1M237 256h.1M244 258h.1M237 256h.1M308 24h.1M290 188h.1M370 68h.1M370 63h.1M371 62h.1M373 66h.1M372 65h.1M370 65h.1M369 61h.1M372 64h.1M144 198h.1M141 200h.1M149 197h.1M146 200h.1M332 274h.1M336 273h.1M337 233h.1M345 231h.1M338 232h.1M342 235h.1M365 262h.1M441 278h.1M340 328h.1M343 327h.1M273 256h.1M345 295h.1M348 301h.1M139 234h.1M389 108h.1M387 116h.1M393 116h.1M389 112h.1M393 118h.1M394 112h.1M342 326h.1M347 323h.1M376 153h.1M373 154h.1M264 299h.1M263 297h.1M262 295h.1M269 180h.1M361 154h.1M357 157h.1M360 160h.1M308 47h.1M308 47h.1M306 46h.1M309 48h.1M416 135h.1M438 152h.1M435 156h.1M432 154h.1M434 152h.1M431 154h.1M431 303h.1M428 308h.1M422 215h.1M429 217h.1M419 215h.1M421 225h.1M422 220h.1M425 208h.1M395 280h.1M398 286h.1M395 281h.1M343 362h.1M438 169h.1M440 164h.1M135 264h.1M291 146h.1M300 145h.1M292 140h.1M281 146h.1M292 140h.1M293 141h.1M170 302h.1M336 307h.1M445 260h.1M445 264h.1M445 262h.1M445 260h.1M272 277h.1M276 275h.1M354 276h.1M353 279h.1M352 273h.1M353 273h.1M354 275h.1M333 134h.1M337 138h.1M332 139h.1M333 137h.1M334 137h.1M345 52h.1M343 63h.1M253 107h.1M228 222h.1M226 216h.1M150 244h.1M146 252h.1M150 246h.1M152 246h.1M150 245h.1M322 167h.1M329 169h.1M321 173h.1M318 170h.1M316 174h.1M202 227h.1M203 229h.1M199 234h.1M185 295h.1M192 296h.1M175 296h.1M182 292h.1M173 162h.1M171 161h.1M166 166h.1M176 161h.1M221 49h.1M395 69h.1M397 71h.1M394 70h.1M400 69h.1M392 72h.1M389 72h.1M394 69h.1M395 71h.1M273 120h.1M273 121h.1M281 121h.1M424 272h.1M352 47h.1M252 196h.1M182 262h.1M184 260h.1M186 262h.1M186 260h.1M181 259h.1M184 186h.1M174 179h.1M361 272h.1M342 176h.1M203 226h.1M201 220h.1M408 150h.1M231 200h.1M238 193h.1M234 203h.1M230 206h.1M271 48h.1M315 344h.1M419 250h.1M267 169h.1M265 163h.1M265 168h.1M265 171h.1M268 166h.1M267 164h.1M297 187h.1M397 209h.1M398 206h.1M313 225h.1M318 229h.1M325 42h.1M322 46h.1M322 47h.1M261 283h.1M301 281h.1M198 260h.1M347 36h.1M183 289h.1M181 294h.1M183 292h.1M354 71h.1M240 308h.1M461 149h.1M461 152h.1M226 284h.1M281 183h.1M283 187h.1M283 186h.1M282 184h.1M281 183h.1M279 186h.1M282 185h.1M294 55h.1M431 168h.1M434 166h.1M436 166h.1M434 166h.1M452 209h.1M448 210h.1M458 210h.1M450 210h.1M445 207h.1M371 326h.1M373 329h.1M378 325h.1M146 123h.1M155 121h.1M140 117h.1M139 121h.1M165 233h.1M166 234h.1M167 234h.1M166 231h.1M400 308h.1M395 310h.1M241 332h.1M243 336h.1M244 326h.1M239 334h.1M240 334h.1M435 275h.1M418 281h.1M300 237h.1M275 42h.1M333 71h.1M336 74h.1M336 76h.1M333 77h.1M335 77h.1M413 298h.1M417 301h.1M316 347h.1M313 345h.1M320 351h.1M405 294h.1M413 296h.1M269 112h.1M451 170h.1M450 176h.1M452 172h.1M461 174h.1M464 177h.1M461 171h.1M464 175h.1M464 174h.1M466 177h.1M467 171h.1M467 176h.1M432 191h.1M437 195h.1M197 246h.1M197 250h.1M186 119h.1M454 135h.1M294 66h.1M296 66h.1M348 112h.1M350 106h.1M353 108h.1M351 108h.1M350 103h.1M346 342h.1M246 174h.1M251 170h.1M244 179h.1M249 170h.1M423 270h.1M423 270h.1M420 268h.1M413 264h.1M433 211h.1M180 192h.1M329 95h.1M329 94h.1M329 93h.1M330 97h.1M297 19h.1M297 17h.1M294 18h.1M402 97h.1M409 96h.1M418 94h.1M402 95h.1M406 94h.1M448 166h.1M447 175h.1M449 170h.1M448 165h.1M391 182h.1M385 184h.1M381 184h.1M387 179h.1M380 185h.1M387 188h.1M378 190h.1M382 177h.1M373 172h.1M286 352h.1M282 356h.1M230 157h.1M232 156h.1M231 153h.1M232 157h.1M231 154h.1M233 158h.1M280 196h.1M281 199h.1M284 208h.1M278 204h.1M282 202h.1M277 357h.1M279 359h.1M275 357h.1M277 360h.1M377 315h.1M376 314h.1M339 43h.1M391 211h.1M318 223h.1M367 113h.1M374 121h.1M370 109h.1M371 117h.1M368 117h.1M374 120h.1M269 318h.1M270 317h.1M379 207h.1M383 206h.1M147 249h.1M150 247h.1M339 117h.1M343 117h.1M342 119h.1M342 120h.1M269 17h.1M270 19h.1M250 110h.1M258 105h.1M310 89h.1M317 97h.1M310 91h.1M312 84h.1M141 200h.1M137 196h.1M142 206h.1M139 200h.1M139 203h.1M140 206h.1M137 197h.1M219 207h.1M277 84h.1M279 83h.1M321 153h.1M322 155h.1M318 146h.1M242 110h.1M245 107h.1M249 104h.1M372 47h.1M372 44h.1M367 45h.1M242 191h.1M236 193h.1M240 183h.1M264 65h.1M262 63h.1M265 65h.1M263 65h.1M261 67h.1M261 65h.1M264 64h.1M382 294h.1M382 298h.1M381 294h.1M323 50h.1M422 116h.1M274 90h.1M273 98h.1M268 89h.1M274 88h.1M245 157h.1M330 251h.1M334 262h.1M421 77h.1M420 75h.1M442 143h.1M450 170h.1M446 174h.1M217 88h.1M216 86h.1M437 200h.1M433 199h.1M430 198h.1M435 203h.1M434 200h.1M295 289h.1M292 294h.1M228 31h.1M220 39h.1M217 37h.1M217 37h.1M220 31h.1M219 38h.1M267 167h.1M312 293h.1M373 62h.1M377 61h.1M184 132h.1M183 128h.1M180 128h.1M190 130h.1M188 133h.1M186 132h.1M184 129h.1M153 245h.1M154 244h.1M308 31h.1M308 27h.1M315 34h.1M312 27h.1M337 70h.1M339 68h.1M339 67h.1M335 73h.1M205 137h.1M199 132h.1M165 102h.1M169 107h.1M170 109h.1M322 62h.1M327 60h.1M327 62h.1M326 55h.1M218 216h.1M216 217h.1M294 53h.1M289 51h.1M409 190h.1M444 215h.1M447 233h.1M450 216h.1M292 168h.1M294 162h.1M295 167h.1M292 164h.1M290 163h.1M291 169h.1M295 166h.1M289 167h.1M183 316h.1M183 318h.1M185 314h.1M184 315h.1M182 315h.1M184 314h.1M234 106h.1M226 115h.1M233 108h.1M227 109h.1M226 109h.1M221 116h.1M227 109h.1M256 279h.1M256 277h.1M242 177h.1M238 176h.1M240 174h.1M232 180h.1M243 182h.1M259 21h.1M265 30h.1M266 28h.1M266 23h.1M263 24h.1M259 24h.1M148 218h.1M144 216h.1M405 155h.1M405 151h.1M411 156h.1M407 152h.1M408 152h.1M403 157h.1M408 153h.1M425 221h.1M215 297h.1M273 264h.1M274 262h.1M272 265h.1M251 228h.1M309 33h.1M308 30h.1M304 30h.1M308 32h.1M310 28h.1M296 110h.1M291 107h.1M418 93h.1M401 298h.1M406 300h.1M400 296h.1M399 289h.1M409 303h.1M315 335h.1M218 133h.1M218 132h.1M218 129h.1M220 128h.1M216 132h.1M263 212h.1M260 209h.1M261 209h.1M262 206h.1M262 206h.1M262 208h.1M261 208h.1M173 153h.1M179 237h.1M178 237h.1M175 238h.1M180 240h.1M150 220h.1M203 310h.1M205 310h.1M204 305h.1M204 303h.1M208 310h.1M207 302h.1M205 301h.1M188 256h.1M190 255h.1M186 258h.1M183 251h.1M118 207h.1M228 80h.1M232 82h.1M234 74h.1M232 77h.1M222 77h.1M261 170h.1M263 161h.1M262 171h.1M237 360h.1M244 357h.1M214 161h.1M359 70h.1M361 70h.1M199 313h.1M236 141h.1M246 136h.1M158 300h.1M156 299h.1M157 297h.1M156 295h.1M458 193h.1M455 197h.1M450 192h.1M455 189h.1M232 330h.1M229 337h.1M138 163h.1M142 165h.1M315 326h.1M315 325h.1M273 191h.1M305 253h.1M293 245h.1M170 153h.1M168 206h.1M163 206h.1M171 210h.1M406 104h.1M450 195h.1M440 269h.1M440 266h.1M443 268h.1M289 234h.1M284 95h.1M288 96h.1M286 95h.1M285 95h.1M287 94h.1M287 91h.1M333 256h.1M336 182h.1M342 188h.1M136 266h.1M406 232h.1M407 243h.1M403 225h.1M182 100h.1M181 101h.1M195 194h.1M193 193h.1M196 196h.1M424 217h.1M230 157h.1M197 240h.1M458 219h.1M455 215h.1M452 214h.1M371 82h.1M306 320h.1M300 318h.1M309 321h.1M321 198h.1M316 200h.1M245 310h.1M214 79h.1M215 91h.1M216 85h.1M365 32h.1M347 81h.1M317 104h.1M437 236h.1M381 148h.1M329 348h.1M332 351h.1M322 354h.1M328 345h.1M330 350h.1M321 348h.1M325 348h.1M414 152h.1M416 152h.1M416 150h.1M412 146h.1M419 149h.1M294 34h.1M292 37h.1M320 97h.1M319 99h.1M320 98h.1M318 100h.1M306 263h.1M432 102h.1M433 101h.1M433 104h.1M318 31h.1M319 31h.1M360 38h.1M436 127h.1M270 273h.1M273 276h.1M159 205h.1M161 208h.1M304 179h.1M306 178h.1M149 288h.1M143 288h.1M146 287h.1M310 156h.1M308 160h.1M311 165h.1M308 157h.1M446 235h.1M450 235h.1M449 239h.1M445 240h.1M447 236h.1M335 139h.1M336 134h.1M245 153h.1M309 32h.1M250 182h.1M252 189h.1M255 192h.1M253 177h.1M250 178h.1M254 188h.1M208 83h.1M294 189h.1M342 258h.1M341 264h.1M344 264h.1M341 258h.1M341 260h.1M343 262h.1M445 205h.1M446 204h.1M447 205h.1M449 202h.1M447 204h.1M332 326h.1M299 219h.1M299 218h.1M299 225h.1M301 218h.1M298 219h.1M302 215h.1M300 222h.1M304 222h.1M208 219h.1M359 123h.1M363 125h.1M232 273h.1M382 287h.1M378 283h.1M380 282h.1M379 286h.1M380 281h.1M387 284h.1M249 237h.1M248 232h.1M246 239h.1M249 241h.1M252 240h.1M258 240h.1M255 235h.1M251 241h.1M252 236h.1M247 233h.1M237 291h.1M239 294h.1M238 291h.1M176 127h.1M192 52h.1M289 302h.1M286 299h.1M289 305h.1M206 215h.1M224 218h.1M229 233h.1M405 136h.1M406 131h.1M412 137h.1M402 135h.1M411 136h.1M406 142h.1M399 143h.1M411 135h.1M351 261h.1M348 254h.1M281 96h.1M279 94h.1M295 196h.1M295 201h.1M294 204h.1M300 195h.1M303 199h.1M387 328h.1M388 327h.1M382 329h.1M393 330h.1M182 78h.1M187 76h.1M190 75h.1M187 66h.1M186 75h.1M188 73h.1M191 77h.1M180 78h.1M298 329h.1M303 319h.1M304 326h.1M302 322h.1M295 326h.1M302 321h.1M226 302h.1M230 301h.1M224 301h.1M224 304h.1M228 304h.1M232 47h.1M230 45h.1M228 47h.1M227 43h.1M227 49h.1M239 47h.1M236 50h.1M237 47h.1M238 46h.1M395 264h.1M398 256h.1M223 136h.1M131 165h.1M128 159h.1M252 177h.1M244 185h.1M309 257h.1M286 287h.1M286 149h.1M280 152h.1M362 171h.1M427 133h.1M426 140h.1M268 174h.1M263 172h.1M231 322h.1M228 317h.1M230 320h.1M138 108h.1M136 109h.1M136 115h.1M136 110h.1M136 115h.1M138 113h.1M136 110h.1M447 111h.1M214 189h.1M210 190h.1M210 188h.1M209 197h.1M212 192h.1M145 251h.1M423 144h.1M424 138h.1M323 311h.1M328 312h.1M329 308h.1M324 311h.1M328 304h.1M256 210h.1M255 211h.1M258 215h.1M372 119h.1M374 118h.1M380 224h.1M383 233h.1M387 237h.1M391 236h.1M422 217h.1M315 184h.1M381 321h.1M454 237h.1M143 212h.1M146 211h.1M423 213h.1M421 218h.1M428 210h.1M423 218h.1M415 213h.1M270 118h.1M274 114h.1M269 115h.1M274 118h.1M273 116h.1M231 198h.1M289 208h.1M290 212h.1M287 210h.1M282 214h.1M284 214h.1M286 212h.1M357 280h.1M356 281h.1M356 283h.1M356 281h.1M361 278h.1M355 285h.1M364 116h.1M369 119h.1M387 222h.1M386 224h.1M437 179h.1M442 181h.1M440 178h.1M443 176h.1M438 178h.1M441 179h.1M301 65h.1M308 70h.1M294 59h.1M299 64h.1M297 62h.1M298 65h.1M233 93h.1M232 94h.1M233 94h.1M235 93h.1M235 93h.1M233 91h.1M235 92h.1M333 89h.1M328 85h.1M196 184h.1M189 67h.1M180 70h.1M188 61h.1M186 68h.1M349 55h.1M344 49h.1M340 41h.1M349 45h.1M353 46h.1M344 47h.1M388 76h.1M391 72h.1M392 76h.1M394 69h.1M303 70h.1M188 129h.1M196 123h.1M195 131h.1M190 134h.1M275 365h.1M307 27h.1M309 25h.1M307 25h.1M307 29h.1M196 68h.1M187 67h.1M188 70h.1M385 298h.1M245 160h.1M306 124h.1M312 124h.1M308 121h.1M167 303h.1M158 309h.1M368 309h.1M374 300h.1M368 303h.1M454 187h.1M214 40h.1M214 39h.1M221 40h.1M217 35h.1M216 38h.1M322 191h.1M318 193h.1M322 192h.1M320 191h.1M282 142h.1M469 180h.1M464 184h.1M468 184h.1M296 364h.1M299 365h.1M297 370h.1M301 369h.1M461 241h.1M456 237h.1M454 233h.1M458 244h.1M451 234h.1M451 237h.1M460 240h.1M243 81h.1M241 77h.1M374 289h.1M374 292h.1M375 292h.1M372 292h.1M372 291h.1M220 180h.1M226 186h.1M362 60h.1M301 367h.1M304 370h.1M256 41h.1M247 40h.1M261 44h.1M417 296h.1M363 266h.1M367 265h.1M248 144h.1M398 157h.1M404 156h.1M405 164h.1M400 156h.1M405 160h.1M403 158h.1M390 95h.1M390 97h.1M394 96h.1M317 222h.1M329 219h.1M427 109h.1M426 111h.1M426 108h.1M427 109h.1M426 105h.1M428 105h.1M345 317h.1M348 318h.1M411 237h.1M238 162h.1M238 162h.1M242 156h.1M236 157h.1M240 159h.1M238 162h.1M232 157h.1M264 187h.1M270 189h.1M268 187h.1M266 182h.1M263 186h.1M264 178h.1M263 189h.1M268 181h.1M133 167h.1M132 162h.1M135 155h.1M315 119h.1M316 122h.1M318 124h.1M311 121h.1M313 123h.1M320 121h.1M316 123h.1M178 314h.1M178 315h.1M183 315h.1M367 117h.1M362 119h.1M269 30h.1M397 113h.1M216 146h.1M337 133h.1M172 256h.1M173 258h.1M175 258h.1M172 256h.1M174 257h.1M300 188h.1M272 244h.1M272 247h.1M231 143h.1M231 143h.1M224 143h.1M230 140h.1M147 217h.1M433 176h.1M426 183h.1M322 66h.1M193 186h.1M190 186h.1M280 100h.1M281 101h.1M277 103h.1M281 101h.1M275 98h.1M275 106h.1M274 105h.1M279 103h.1M415 97h.1M413 105h.1M171 133h.1M166 134h.1M364 206h.1M351 180h.1M250 99h.1M256 99h.1M397 167h.1M400 163h.1M401 165h.1M397 165h.1M398 166h.1M401 166h.1M358 75h.1M359 78h.1M418 239h.1M416 238h.1M423 235h.1M421 233h.1M419 232h.1M418 236h.1M257 44h.1M418 273h.1M412 280h.1M360 268h.1M465 198h.1M329 357h.1M329 355h.1M328 349h.1M393 332h.1M362 250h.1M364 239h.1M366 246h.1M359 250h.1M355 242h.1M201 182h.1M201 184h.1M322 128h.1M414 219h.1M324 192h.1M326 185h.1M243 251h.1M336 222h.1M343 214h.1M231 95h.1M229 93h.1M232 95h.1M234 97h.1M345 137h.1M296 193h.1M372 150h.1M200 147h.1M154 111h.1M163 107h.1M159 110h.1M161 117h.1M172 95h.1M343 342h.1M168 70h.1M168 67h.1M353 347h.1M351 334h.1M400 313h.1M397 317h.1M397 320h.1M397 313h.1M396 314h.1M415 212h.1M413 208h.1M468 211h.1M464 205h.1M286 277h.1M199 245h.1M196 248h.1M201 249h.1M388 163h.1M389 169h.1M392 167h.1M390 170h.1M398 161h.1M401 169h.1M396 159h.1M391 167h.1M398 166h.1M400 165h.1M154 84h.1M156 83h.1M159 84h.1M156 84h.1M261 246h.1M302 72h.1M423 219h.1M421 223h.1M423 221h.1M419 220h.1M418 222h.1M348 249h.1M347 246h.1M348 249h.1M347 253h.1M343 251h.1M348 250h.1M449 262h.1M250 121h.1M245 112h.1M254 113h.1M267 123h.1M349 70h.1M349 69h.1M345 66h.1M293 311h.1M294 309h.1M204 215h.1M330 334h.1M332 332h.1M333 334h.1M335 336h.1M332 334h.1M396 83h.1M393 80h.1M393 90h.1M393 81h.1M360 185h.1M344 202h.1M193 267h.1M308 294h.1M305 292h.1M420 76h.1M421 73h.1M423 75h.1M420 71h.1M422 76h.1M284 190h.1M280 193h.1M433 189h.1M248 76h.1M253 83h.1M439 170h.1M437 174h.1M368 209h.1M367 211h.1M365 211h.1M453 119h.1M454 123h.1M223 303h.1M391 228h.1M254 26h.1M246 30h.1M269 67h.1M251 196h.1M251 196h.1M409 84h.1M228 208h.1M226 208h.1M226 212h.1M205 150h.1M369 309h.1M371 305h.1M239 348h.1M236 351h.1M329 48h.1M329 46h.1M333 45h.1M191 132h.1M287 91h.1M284 100h.1M290 95h.1M292 94h.1M204 309h.1M203 309h.1M151 147h.1M275 139h.1M204 215h.1M191 216h.1M198 225h.1M202 222h.1M193 223h.1M196 220h.1M200 224h.1M190 214h.1M334 199h.1M396 248h.1M395 245h.1M173 265h.1M167 264h.1M205 249h.1M202 243h.1M332 259h.1M332 257h.1M328 259h.1M334 255h.1M343 259h.1M392 293h.1M396 300h.1M387 293h.1M245 98h.1M244 24h.1M403 101h.1M397 108h.1M402 101h.1M398 110h.1M394 102h.1M395 104h.1M407 103h.1M397 103h.1M340 97h.1M344 96h.1M318 84h.1M313 91h.1M419 240h.1M140 205h.1M137 205h.1M142 207h.1M284 35h.1M281 31h.1M235 51h.1M231 46h.1M234 54h.1M264 56h.1M384 177h.1M179 253h.1M158 109h.1M367 109h.1M317 130h.1M325 130h.1M323 128h.1M319 129h.1M318 126h.1M315 131h.1M325 129h.1M163 235h.1M149 232h.1M151 236h.1M351 267h.1M236 225h.1M235 222h.1M233 225h.1M239 225h.1M237 222h.1M231 223h.1M236 222h.1M235 223h.1M234 223h.1M363 150h.1M364 147h.1M433 108h.1M432 110h.1M311 325h.1M307 322h.1M183 156h.1M183 297h.1M177 295h.1M317 269h.1M316 270h.1M179 290h.1M170 291h.1M193 96h.1M203 94h.1M197 99h.1M196 95h.1M365 221h.1M424 298h.1M430 239h.1M279 263h.1M279 263h.1M345 305h.1M346 306h.1M338 295h.1M346 301h.1M308 55h.1M121 208h.1M125 216h.1M442 171h.1M446 169h.1M328 22h.1M328 20h.1M323 25h.1M240 116h.1M310 355h.1M312 353h.1M144 266h.1M141 274h.1M336 194h.1M266 102h.1M266 100h.1M268 100h.1M271 98h.1M265 99h.1M364 64h.1M361 65h.1M368 62h.1M371 62h.1M248 124h.1M174 318h.1M177 326h.1M325 303h.1M326 307h.1M322 305h.1M325 303h.1M378 249h.1M378 255h.1M375 246h.1M378 248h.1M373 248h.1M375 253h.1M379 247h.1M213 352h.1M248 230h.1M248 222h.1M253 226h.1M249 225h.1M279 260h.1M286 259h.1M285 253h.1M437 135h.1M311 115h.1M285 277h.1M341 331h.1M344 327h.1M343 335h.1M339 338h.1M339 331h.1M176 222h.1M176 225h.1M173 222h.1M257 123h.1M414 110h.1M411 107h.1M414 111h.1M415 112h.1M415 108h.1M416 110h.1M237 100h.1M239 99h.1M241 324h.1M440 140h.1M434 139h.1M438 139h.1M435 133h.1M434 132h.1M437 135h.1M435 127h.1M432 136h.1M169 295h.1M169 296h.1M466 199h.1M468 189h.1M445 110h.1M183 227h.1M181 230h.1M234 264h.1M317 271h.1M317 269h.1M248 267h.1M252 269h.1M247 272h.1M246 265h.1M250 271h.1M247 273h.1M248 273h.1M385 134h.1M202 190h.1M212 190h.1M395 259h.1M399 257h.1M322 78h.1M328 76h.1M326 81h.1M327 80h.1M324 81h.1M327 78h.1M328 75h.1M326 79h.1M327 78h.1M461 154h.1M464 154h.1M464 149h.1M461 147h.1M460 153h.1M464 150h.1M460 156h.1M306 289h.1M305 288h.1M304 288h.1M308 290h.1M250 154h.1M249 152h.1M247 153h.1M248 153h.1M254 156h.1M288 148h.1M294 144h.1M293 146h.1M404 275h.1M407 270h.1M376 68h.1M299 316h.1M290 309h.1M302 315h.1M295 312h.1M299 315h.1M296 321h.1M310 213h.1M305 212h.1M315 215h.1M376 160h.1M377 160h.1M378 161h.1M377 157h.1M375 159h.1M318 295h.1M178 110h.1M344 197h.1M138 239h.1M141 243h.1M167 137h.1M165 137h.1M296 299h.1M297 303h.1M294 303h.1M297 301h.1M296 300h.1M296 300h.1M353 97h.1M323 155h.1M324 154h.1M403 329h.1M437 153h.1M358 116h.1M358 117h.1M354 116h.1M138 200h.1M137 201h.1M136 201h.1M132 199h.1M138 202h.1M196 126h.1M193 123h.1M198 125h.1M191 124h.1M197 125h.1M252 353h.1M259 352h.1M256 350h.1M174 278h.1M169 280h.1M168 281h.1M259 73h.1M255 77h.1M241 74h.1M234 75h.1M243 75h.1M322 152h.1M257 327h.1M251 327h.1M191 130h.1M395 209h.1M394 217h.1M395 214h.1M395 212h.1M392 212h.1M391 206h.1M255 352h.1M187 71h.1M185 69h.1M185 65h.1M191 76h.1M173 88h.1M382 251h.1M333 234h.1M401 295h.1M398 295h.1M396 295h.1M336 23h.1M337 23h.1M336 24h.1M341 25h.1M324 255h.1M329 263h.1M359 53h.1M227 132h.1M230 133h.1M227 132h.1M225 132h.1M305 131h.1M314 130h.1M309 122h.1M302 66h.1M298 66h.1M297 62h.1M299 57h.1M298 60h.1M298 63h.1M311 31h.1M309 33h.1M349 340h.1M390 51h.1M341 324h.1M343 319h.1M342 323h.1M344 322h.1M339 323h.1M270 178h.1M273 179h.1M274 186h.1M272 184h.1M273 187h.1M271 178h.1M266 180h.1M277 175h.1M268 176h.1M227 179h.1M225 176h.1M230 177h.1M226 173h.1M225 176h.1M232 174h.1M225 176h.1M298 140h.1M296 139h.1M297 139h.1M298 140h.1M299 139h.1M323 131h.1M320 121h.1M328 129h.1M324 131h.1M251 257h.1M250 256h.1M254 176h.1M303 25h.1M303 26h.1M352 350h.1M432 130h.1M433 131h.1M307 312h.1M308 310h.1M308 313h.1M359 141h.1M262 71h.1M156 82h.1M317 128h.1M313 137h.1M316 137h.1M315 130h.1M315 127h.1M375 74h.1M377 66h.1M177 217h.1M182 228h.1M175 228h.1M177 219h.1M175 226h.1M174 218h.1M181 224h.1M178 224h.1M174 219h.1M155 229h.1M157 229h.1M156 225h.1M135 275h.1M138 281h.1M138 279h.1M135 277h.1M429 237h.1M429 237h.1M427 236h.1M427 234h.1M427 235h.1M419 304h.1M420 309h.1M420 308h.1M393 261h.1M395 257h.1M392 261h.1M381 160h.1M380 159h.1M385 151h.1M384 162h.1M267 315h.1M423 306h.1M425 307h.1M423 303h.1M420 310h.1M422 307h.1M413 307h.1M422 304h.1M417 309h.1M418 307h.1M154 234h.1M150 229h.1M468 180h.1M461 183h.1M193 162h.1M195 152h.1M198 154h.1M200 155h.1M194 158h.1M199 150h.1M163 278h.1M158 273h.1M159 273h.1M165 280h.1M159 270h.1M407 279h.1M412 273h.1M405 278h.1M350 160h.1M442 187h.1M445 188h.1M445 185h.1M446 184h.1M351 143h.1M359 147h.1M359 150h.1M356 120h.1M172 194h.1M233 182h.1M233 180h.1M233 184h.1M417 187h.1M418 176h.1M424 181h.1M424 185h.1M413 177h.1M431 273h.1M422 273h.1M424 272h.1M428 275h.1M221 84h.1M224 77h.1M220 78h.1M219 86h.1M225 80h.1M222 80h.1M397 105h.1M392 105h.1M394 106h.1M136 254h.1M136 246h.1M132 256h.1M313 301h.1M307 296h.1M256 151h.1M208 132h.1M368 343h.1M282 19h.1M278 22h.1M195 336h.1M200 336h.1M360 193h.1M128 131h.1M292 218h.1M140 250h.1M143 256h.1M151 261h.1M152 263h.1M400 150h.1M400 148h.1M404 148h.1M250 144h.1M246 147h.1M247 150h.1M237 153h.1M215 310h.1M291 224h.1M284 226h.1M283 222h.1M295 231h.1M287 223h.1M308 202h.1M318 204h.1M304 196h.1M308 197h.1M311 196h.1M250 216h.1M249 217h.1M247 213h.1M283 54h.1M437 198h.1M303 215h.1M302 218h.1M300 222h.1M299 218h.1M301 219h.1M300 219h.1M200 251h.1M138 160h.1M150 160h.1M144 149h.1M137 157h.1M138 151h.1M139 157h.1M145 165h.1M200 93h.1M181 170h.1M179 172h.1M175 177h.1M180 175h.1M176 174h.1M335 122h.1M330 126h.1M170 68h.1M170 64h.1M168 68h.1M291 218h.1M398 123h.1M392 128h.1M394 131h.1M399 125h.1M395 127h.1M398 130h.1M134 129h.1M161 188h.1M231 343h.1M368 234h.1M365 235h.1M365 238h.1M367 232h.1M245 134h.1M359 225h.1M353 225h.1M361 230h.1M245 216h.1M251 218h.1M249 218h.1M312 21h.1M314 29h.1M311 23h.1M311 22h.1M318 24h.1M314 17h.1M391 72h.1M383 68h.1M411 225h.1M225 301h.1M162 108h.1M161 107h.1M164 108h.1M163 101h.1M283 160h.1M433 249h.1M439 243h.1M370 276h.1M179 89h.1M184 89h.1M180 87h.1M184 84h.1M183 86h.1M406 143h.1M403 140h.1M406 143h.1M404 142h.1M405 143h.1M190 294h.1M197 294h.1M351 185h.1M351 188h.1M238 61h.1M202 224h.1M388 146h.1M388 143h.1M252 39h.1M253 39h.1M255 40h.1M191 235h.1M194 238h.1M292 206h.1M273 146h.1M271 149h.1M269 145h.1M269 151h.1M273 147h.1M269 151h.1M266 146h.1M267 147h.1M268 146h.1M297 32h.1M326 87h.1M320 87h.1M316 85h.1M237 350h.1M234 351h.1M437 178h.1M440 177h.1M437 181h.1M442 176h.1M363 127h.1M360 122h.1M358 123h.1M359 125h.1M361 123h.1M358 124h.1M360 123h.1M218 313h.1M215 315h.1M220 303h.1M216 314h.1M217 307h.1M215 66h.1M136 265h.1M306 94h.1M331 95h.1M321 97h.1M296 89h.1M320 88h.1M310 59h.1M282 86h.1M282 95h.1M307 102h.1M285 100h.1M321 114h.1M313 93h.1M290 84h.1M301 58h.1M300 100h.1M306 82h.1M288 94h.1M313 103h.1M316 90h.1M304 84h.1M292 113h.1M325 96h.1M310 67h.1M286 85h.1M312 88h.1M330 102h.1M309 107h.1M299 92h.1M315 67h.1M326 87h.1M317 99h.1M320 93h.1M300 95h.1M291 125h.1M335 90h.1M318 93h.1M337 83h.1M335 100h.1M384 275h.1M420 286h.1M387 295h.1M422 304h.1M397 306h.1M404 262h.1M383 277h.1M394 262h.1M381 284h.1M391 282h.1M416 285h.1M391 300h.1M428 307h.1M381 288h.1M389 306h.1M377 283h.1M391 287h.1M390 284h.1M397 307h.1M389 284h.1M381 290h.1M395 328h.1M390 319h.1M398 258h.1M381 304h.1M376 295h.1M390 283h.1M369 271h.1M403 312h.1M397 314h.1M378 310h.1M397 252h.1M394 289h.1M412 278h.1M392 308h.1M403 304h.1M414 280h.1M402 267h.1M406 287h.1M395 262h.1M424 299h.1M386 277h.1M416 293h.1M417 301h.1M392 266h.1M406 327h.1M414 275h.1M390 297h.1M383 295h.1M282 325h.1M264 349h.1M268 341h.1M267 326h.1M258 319h.1M255 322h.1M269 317h.1M255 330h.1M239 324h.1M283 330h.1M267 351h.1M251 315h.1M238 330h.1M291 311h.1M266 338h.1M255 325h.1M269 330h.1M253 328h.1M246 309h.1M255 317h.1M247 330h.1M253 321h.1M249 325h.1M257 307h.1M257 330h.1M264 313h.1M255 324h.1M269 337h.1M263 324h.1M239 343h.1M254 312h.1M276 327h.1M263 321h.1M261 335h.1M260 327h.1M269 332h.1M239 354h.1M271 317h.1M252 322h.1M250 340h.1M268 335h.1M258 327h.1M269 314h.1M259 339h.1M254 309h.1M264 326h.1M267 330h.1M150 150h.1M150 147h.1M139 162h.1M158 139h.1M152 131h.1M149 120h.1M152 141h.1M164 143h.1M123 153h.1M166 135h.1M159 135h.1M148 131h.1M151 136h.1M143 131h.1M151 146h.1M151 141h.1M159 143h.1M178 138h.1M152 120h.1M150 138h.1M142 141h.1M157 156h.1M147 143h.1M164 132h.1M158 134h.1M145 145h.1M154 166h.1M145 143h.1M148 127h.1M141 139h.1M154 129h.1M161 146h.1M167 155h.1M146 142h.1M146 129h.1M154 134h.1M161 135h.1M151 147h.1M180 119h.1M181 136h.1M152 121h.1M177 121h.1M175 117h.1M195 121h.1M170 119h.1M177 138h.1M190 121h.1M176 117h.1M198 130h.1M168 119h.1M190 118h.1M170 124h.1M168 118h.1M177 132h.1M191 109h.1M177 122h.1M185 122h.1M176 121h.1M187 127h.1M178 114h.1M178 108h.1M174 121h.1M175 121h.1M182 121h.1M176 128h.1M199 124h.1M212 126h.1M190 140h.1M209 128h.1M200 144h.1M199 129h.1M202 131h.1M197 130h.1M212 127h.1M208 145h.1M206 129h.1M210 139h.1M211 124h.1M204 135h.1M204 124h.1M205 136h.1M206 135h.1M204 116h.1M204 131h.1M209 126h.1M200 124h.1M210 134h.1M212 123h.1M200 149h.1M203 138h.1M371 71h.1M382 95h.1M378 88h.1M381 86h.1M384 79h.1M372 80h.1M399 90h.1M374 88h.1M396 81h.1M388 90h.1M391 101h.1M388 80h.1M380 101h.1M385 101h.1M390 80h.1M389 66h.1M381 92h.1M403 95h.1M396 87h.1M378 68h.1M387 91h.1M395 89h.1M389 98h.1M364 80h.1M388 83h.1M384 92h.1M367 85h.1M387 65h.1M383 81h.1M395 87h.1M394 82h.1M370 82h.1M382 82h.1M377 92h.1M369 87h.1M400 68h.1M384 80h.1M382 92h.1M390 79h.1M387 95h.1M382 94h.1M390 90h.1M395 88h.1M397 86h.1M373 75h.1M393 78h.1M373 91h.1M399 80h.1M386 79h.1M368 81h.1M346 39h.1M353 41h.1M344 52h.1M369 39h.1M358 50h.1M364 42h.1M348 62h.1M360 43h.1M346 67h.1M366 58h.1M366 55h.1M370 51h.1M353 50h.1M349 42h.1M344 42h.1M344 60h.1M377 63h.1M357 40h.1M363 31h.1M353 42h.1M349 44h.1M365 61h.1M351 43h.1M349 43h.1M347 38h.1M347 45h.1M358 38h.1M350 28h.1M221 84h.1M208 82h.1M221 85h.1M231 96h.1M228 78h.1M226 85h.1M227 89h.1M219 94h.1M222 78h.1M232 79h.1M232 74h.1M232 83h.1M219 74h.1M211 64h.1M231 84h.1M227 82h.1M218 84h.1M215 90h.1M227 77h.1M213 75h.1M215 59h.1M219 74h.1M230 96h.1M224 89h.1M214 73h.1M250 49h.1M256 36h.1M246 49h.1M243 40h.1M241 46h.1M241 53h.1M244 55h.1M251 47h.1M246 38h.1M261 46h.1M263 50h.1M241 46h.1M249 63h.1M242 39h.1M241 57h.1M240 62h.1M255 40h.1M252 35h.1M236 34h.1M262 55h.1M245 69h.1M294 30h.1M296 42h.1M291 22h.1M304 33h.1M289 30h.1M301 29h.1M300 32h.1M305 39h.1M301 36h.1M298 31h.1M301 29h.1M299 23h.1M287 32h.1M308 25h.1M305 34h.1M305 38h.1M295 39h.1M313 30h.1M295 34h.1M424 155h.1M439 164h.1M436 181h.1M440 177h.1M434 176h.1M445 169h.1M443 170h.1M427 180h.1M436 168h.1M427 174h.1M439 165h.1M430 161h.1M430 170h.1M434 162h.1M430 180h.1M423 153h.1M420 178h.1M435 158h.1M431 172h.1M418 166h.1M430 160h.1M429 163h.1M430 162h.1M440 152h.1M442 159h.1M432 162h.1M437 155h.1M425 171h.1M434 181h.1M428 170h.1M339 273h.1M359 247h.1M347 252h.1M347 262h.1M341 254h.1M337 250h.1M342 257h.1M352 265h.1M345 260h.1M354 255h.1M360 266h.1M351 273h.1M353 264h.1M347 274h.1M363 263h.1M358 247h.1M350 277h.1M361 265h.1M348 256h.1M357 269h.1M362 278h.1M360 265h.1M354 268h.1M355 264h.1M338 254h.1M358 264h.1M354 273h.1M353 266h.1M341 258h.1M356 267h.1M322 280h.1M316 278h.1M328 287h.1M319 272h.1M319 290h.1M308 283h.1M319 281h.1M320 295h.1M300 274h.1M326 274h.1M307 273h.1M307 276h.1M319 285h.1M317 284h.1M316 280h.1M312 283h.1M330 272h.1M331 278h.1M309 269h.1M319 271h.1M319 284h.1M286 286h.1M289 272h.1M297 276h.1M283 282h.1M289 289h.1M281 280h.1M276 278h.1M284 276h.1M284 261h.1M285 261h.1M288 267h.1M271 279h.1M275 282h.1M296 274h.1M283 278h.1M284 273h.1M289 276h.1M268 290h.1M281 272h.1M287 271h.1M299 249h.1M278 276h.1M275 271h.1M202 309h.1M211 307h.1M207 296h.1M200 287h.1M193 307h.1M182 325h.1M199 315h.1M207 293h.1M194 302h.1M185 318h.1M206 325h.1M189 288h.1M196 295h.1M211 314h.1M212 299h.1M217 320h.1M210 302h.1M223 288h.1M223 313h.1M204 312h.1M195 300h.1M172 312h.1M199 292h.1M195 308h.1M200 312h.1M200 312h.1M205 303h.1M192 314h.1M195 273h.1M203 290h.1M195 289h.1M198 296h.1M197 299h.1M195 299h.1M209 300h.1M200 296h.1M211 294h.1M209 299h.1M213 301h.1M182 283h.1M215 298h.1M185 310h.1M200 288h.1M157 244h.1M154 269h.1M167 260h.1M153 243h.1M165 263h.1M173 238h.1M148 247h.1M152 236h.1M154 260h.1M174 243h.1M173 256h.1M164 245h.1M169 251h.1M164 253h.1M167 252h.1M169 244h.1M145 247h.1M154 254h.1M167 262h.1M175 255h.1M173 233h.1M147 253h.1M177 243h.1M143 252h.1M137 258h.1M141 259h.1M158 254h.1M150 245h.1M165 263h.1M160 233h.1M163 241h.1M152 251h.1M180 260h.1M159 237h.1M152 246h.1M146 191h.1M155 205h.1M148 199h.1M138 205h.1M146 186h.1M149 208h.1M142 202h.1M135 205h.1M138 201h.1M136 205h.1M137 206h.1M142 202h.1M153 216h.1M139 222h.1M139 205h.1M139 204h.1M132 205h.1M142 183h.1M127 202h.1M149 191h.1M129 221h.1M137 188h.1M134 206h.1M128 201h.1M144 207h.1M146 191h.1M133 189h.1M138 198h.1M413 248h.1M438 252h.1M418 247h.1M427 253h.1M422 251h.1M436 247h.1M425 232h.1M431 259h.1M407 236h.1M417 241h.1M428 246h.1M429 248h.1M398 245h.1M430 244h.1M410 230h.1M427 241h.1M431 255h.1M407 233h.1M421 236h.1M423 233h.1M413 237h.1M425 257h.1M426 248h.1M417 248h.1M363 327h.1M356 336h.1M370 315h.1M353 316h.1M358 323h.1M356 316h.1M356 328h.1M362 327h.1M355 327h.1M357 332h.1M360 320h.1M356 321h.1M357 329h.1M370 328h.1M363 340h.1M365 329h.1M361 322h.1M356 328h.1M371 335h.1M342 334h.1M358 330h.1M354 332h.1M357 318h.1M351 320h.1M232 268h.1M240 279h.1M231 263h.1M227 266h.1M241 274h.1M220 260h.1M238 283h.1M235 269h.1M217 286h.1M228 269h.1M226 270h.1M232 267h.1M231 274h.1M226 279h.1M240 281h.1M216 274h.1M238 272h.1M221 276h.1M224 264h.1M447 114h.1M450 130h.1M442 119h.1M443 137h.1M451 125h.1M448 126h.1M434 115h.1M437 120h.1M442 131h.1M449 117h.1M435 125h.1M439 123h.1M449 127h.1M438 121h.1M452 129h.1M444 137h.1M429 128h.1M438 134h.1M446 120h.1M428 123h.1M399 55h.1M398 53h.1M413 67h.1M413 66h.1M411 61h.1M410 72h.1M413 68h.1M415 68h.1M398 65h.1M195 50h.1M196 66h.1M191 57h.1M190 61h.1M180 66h.1M194 52h.1M177 59h.1M181 64h.1M187 66h.1M177 62h.1M293 360h.1M299 353h.1M304 353h.1M302 358h.1M297 354h.1M293 347h.1M303 346h.1M307 357h.1M308 352h.1M302 353h.1M301 347h.1M278 354h.1M296 343h.1M293 364h.1M296 347h.1M295 363h.1M301 363h.1M306 358h.1M244 357h.1M225 345h.1M234 348h.1M229 357h.1M233 351h.1M229 357h.1M229 354h.1M220 351h.1M228 332h.1M227 343h.1M227 355h.1M228 346h.1M225 337h.1M246 349h.1M238 349h.1M234 347h.1M230 344h.1M240 349h.1M235 335h.1M230 350h.1M223 343h.1M219 349h.1M124 174h.1M130 172h.1M126 182h.1M119 169h.1M132 178h.1M125 169h.1M131 159h.1M133 170h.1M133 165h.1M129 173h.1M137 174h.1" stroke="#7b948a" stroke-width="1.4" stroke-linecap="round" stroke-opacity="0.62" fill="none"/><path d="M192 191h.1M191 193h.1M188 194h.1M186 193h.1M185 190h.1M185 188h.1M188 186h.1M190 186h.1M192 188h.1M194 192h.1M193 194h.1M190 196h.1M188 196h.1M185 195h.1M183 193h.1M183 191h.1M183 188h.1M184 186h.1M187 184h.1M189 184h.1M192 185h.1M194 187h.1M195 189h.1M196 192h.1M195 195h.1M193 196h.1M191 197h.1M188 198h.1M186 197h.1M183 196h.1M182 194h.1M181 192h.1M181 189h.1M181 187h.1M183 184h.1M185 183h.1M188 182h.1M190 182h.1M193 183h.1M195 185h.1M196 187h.1M197 190h.1M198 192h.1M198 194h.1M196 196h.1M194 198h.1M192 199h.1M190 200h.1M187 200h.1M184 199h.1M182 197h.1M180 196h.1M179 193h.1M179 191h.1M179 188h.1M179 186h.1M181 184h.1M183 182h.1M185 181h.1M188 180h.1M190 180h.1M193 181h.1M195 183h.1M197 184h.1M198 187h.1M199 189h.1M201 190h.1M200 193h.1M199 195h.1M198 197h.1M196 199h.1M194 201h.1M191 201h.1M189 202h.1M186 201h.1M183 200h.1M181 199h.1M179 197h.1M178 195h.1M177 193h.1M177 190h.1M177 187h.1M178 185h.1M179 183h.1M181 181h.1M183 179h.1M186 179h.1M189 178h.1M191 179h.1M194 180h.1M196 181h.1M198 183h.1M199 185h.1M200 187h.1M202 192h.1M202 195h.1M201 197h.1M199 199h.1M197 201h.1M195 202h.1M192 203h.1M190 204h.1M187 203h.1M184 203h.1M182 202h.1M180 200h.1M178 199h.1M176 197h.1M175 194h.1M175 192h.1M175 189h.1M175 187h.1M176 184h.1M177 182h.1M179 180h.1M181 178h.1M184 177h.1M186 177h.1M189 176h.1M192 177h.1M194 178h.1M196 179h.1M198 180h.1M200 182h.1M201 185h.1M202 187h.1M203 190h.1M205 190h.1M204 193h.1M204 195h.1M203 197h.1M201 200h.1M199 201h.1M197 203h.1M195 204h.1M192 205h.1M190 205h.1M187 205h.1M185 205h.1M182 204h.1M180 203h.1M178 201h.1M176 199h.1M174 197h.1M173 195h.1M173 192h.1M173 190h.1M173 187h.1M173 185h.1M175 183h.1M176 180h.1M178 179h.1M180 177h.1M182 176h.1M185 175h.1M187 175h.1M190 175h.1M193 175h.1M195 176h.1M197 177h.1M199 179h.1M201 181h.1M203 183h.1M204 185h.1M204 188h.1M206 192h.1M206 195h.1M205 197h.1M204 199h.1M202 201h.1M200 203h.1M198 205h.1M196 206h.1M194 207h.1M191 207h.1M188 207h.1M186 207h.1M183 207h.1M181 206h.1M178 204h.1M176 203h.1M175 201h.1M173 199h.1M172 197h.1M171 194h.1M171 192h.1M171 189h.1M171 187h.1M172 184h.1M173 182h.1M174 180h.1M176 178h.1M178 176h.1M180 175h.1M182 174h.1M185 173h.1M188 173h.1M190 173h.1M193 173h.1M195 174h.1M198 175h.1M200 176h.1M202 178h.1M203 180h.1M205 182h.1M206 185h.1M206 187h.1M207 190h.1M209 190h.1M208 193h.1M208 195h.1M207 198h.1M206 200h.1M204 202h.1M203 204h.1M201 205h.1M198 207h.1M196 208h.1M194 209h.1M191 209h.1M188 209h.1M186 209h.1M183 209h.1M181 208h.1M178 207h.1M176 205h.1M174 204h.1M173 202h.1M171 200h.1M170 197h.1M169 195h.1M169 192h.1M169 190h.1M169 187h.1M169 185h.1M170 182h.1M171 180h.1M173 178h.1M175 176h.1M177 175h.1M179 173h.1M181 172h.1M184 171h.1M186 171h.1M189 171h.1M191 171h.1M194 171h.1M196 172h.1M199 173h.1M201 175h.1M203 176h.1M205 178h.1M206 180h.1M207 183h.1M208 185h.1M208 188h.1M210 192h.1M210 195h.1M209 197h.1M208 199h.1M207 202h.1M205 204h.1M204 206h.1M202 207h.1M200 209h.1M197 210h.1M195 210h.1M192 211h.1M190 211h.1M187 211h.1M184 211h.1M182 210h.1M179 209h.1M177 208h.1M175 207h.1M173 205h.1M171 203h.1M170 201h.1M169 199h.1M168 197h.1M167 194h.1M167 192h.1M167 189h.1M167 187h.1M167 184h.1M168 182h.1M169 179h.1M171 177h.1M173 175h.1M174 174h.1M177 172h.1M179 171h.1M181 170h.1M184 169h.1M186 169h.1M189 169h.1M191 169h.1M194 169h.1M197 170h.1M199 171h.1M201 172h.1M203 174h.1M205 176h.1M207 178h.1M208 180h.1M209 182h.1M210 185h.1M210 187h.1M211 190h.1M213 191h.1M212 193h.1M212 196h.1M211 198h.1M210 200h.1M209 203h.1M207 205h.1M205 207h.1M203 208h.1M201 210h.1M199 211h.1M196 212h.1M194 213h.1M191 213h.1M189 213h.1M186 213h.1M183 213h.1M181 212h.1M178 211h.1M176 210h.1M174 208h.1M172 207h.1M170 205h.1M169 203h.1M167 201h.1M166 198h.1M165 196h.1M165 193h.1M165 191h.1M165 188h.1M165 186h.1M166 183h.1M167 181h.1M168 178h.1M169 176h.1M171 174h.1M173 173h.1M175 171h.1M177 170h.1M179 168h.1M182 168h.1M185 167h.1M187 167h.1M190 167h.1M192 167h.1M195 168h.1M198 168h.1M200 169h.1M202 171h.1M204 172h.1M206 174h.1M208 176h.1M209 178h.1M211 181h.1M211 183h.1M212 185h.1M213 188h.1M215 191h.1M214 193h.1M214 196h.1M213 198h.1M212 200h.1M211 203h.1M210 205h.1M208 207h.1M206 209h.1M204 210h.1M202 212h.1M200 213h.1M197 214h.1M195 215h.1M192 215h.1M189 215h.1M187 215h.1M184 215h.1M182 214h.1M179 213h.1M177 212h.1M174 211h.1M172 210h.1M170 208h.1M169 206h.1M167 204h.1M166 202h.1M164 199h.1M164 197h.1M163 195h.1M163 192h.1M163 189h.1M163 187h.1M163 184h.1M164 182h.1M165 180h.1M166 177h.1M168 175h.1M169 173h.1M171 171h.1M173 170h.1M175 168h.1M178 167h.1M180 166h.1M183 165h.1M185 165h.1M188 165h.1M190 165h.1M193 165h.1M196 166h.1M198 167h.1M201 168h.1M203 169h.1M205 170h.1M207 172h.1M209 174h.1M210 176h.1M212 178h.1M213 181h.1M214 183h.1M214 185h.1M215 188h.1M217 190h.1M216 193h.1M216 195h.1M215 198h.1M214 200h.1M213 203h.1M212 205h.1M211 207h.1M209 209h.1M207 211h.1M205 212h.1M203 214h.1M200 215h.1M198 216h.1M195 216h.1M193 217h.1M190 217h.1M188 217h.1M185 217h.1M182 216h.1M180 216h.1M177 215h.1M175 214h.1M173 212h.1M171 211h.1M169 209h.1M167 207h.1M165 205h.1M164 203h.1M163 201h.1M162 198h.1M161 196h.1M161 193h.1M161 191h.1M161 188h.1M161 186h.1M161 183h.1M162 181h.1M163 178h.1M164 176h.1M166 174h.1M168 172h.1M169 170h.1M171 169h.1M173 167h.1M176 166h.1M178 165h.1M181 164h.1M183 163h.1M186 163h.1M188 163h.1M191 163h.1M194 163h.1M196 164h.1M199 165h.1M201 166h.1M203 167h.1M206 168h.1M208 170h.1M209 172h.1M211 174h.1M213 176h.1M214 178h.1M215 180h.1M216 183h.1M216 185h.1M217 188h.1M219 192h.1M218 195h.1M218 197h.1M217 200h.1M216 202h.1M215 204h.1M213 206h.1M212 208h.1M210 210h.1M208 212h.1M206 214h.1M204 215h.1M202 216h.1M199 217h.1M197 218h.1M194 219h.1M192 219h.1M189 219h.1M186 219h.1M184 219h.1M181 218h.1M179 217h.1M176 217h.1M174 215h.1M172 214h.1M170 213h.1M168 211h.1M166 209h.1M164 207h.1M163 205h.1M162 203h.1M161 200h.1M160 198h.1M159 195h.1M159 193h.1M159 190h.1M159 188h.1M159 185h.1M160 183h.1M160 180h.1M161 178h.1M162 176h.1M164 174h.1M165 172h.1M167 170h.1M169 168h.1M171 166h.1M173 165h.1M176 164h.1M178 163h.1M180 162h.1M183 161h.1M186 161h.1M188 161h.1M191 161h.1M193 161h.1M196 162h.1M198 163h.1M201 163h.1M203 165h.1M205 166h.1M208 167h.1M209 169h.1M211 171h.1M213 173h.1M214 175h.1M216 177h.1M217 180h.1M217 182h.1M218 185h.1M218 187h.1M219 190h.1M221 192h.1M220 194h.1M220 197h.1M219 199h.1M218 202h.1M217 204h.1M216 206h.1M215 208h.1M213 210h.1M211 212h.1M209 214h.1M207 215h.1M205 217h.1M203 218h.1M200 219h.1M198 220h.1M195 220h.1M193 221h.1M190 221h.1M188 221h.1M185 221h.1M182 220h.1M180 220h.1M177 219h.1M175 218h.1M173 217h.1M170 216h.1M168 214h.1M166 212h.1M165 210h.1M163 209h.1M161 206h.1M160 204h.1M159 202h.1M158 200h.1M157 197h.1M157 195h.1M157 192h.1M157 190h.1M157 187h.1M157 185h.1M158 182h.1M158 180h.1M159 177h.1M161 175h.1M162 173h.1M163 171h.1M165 169h.1M167 167h.1M169 165h.1M171 164h.1M173 163h.1M176 162h.1M178 161h.1M181 160h.1M183 159h.1M186 159h.1M188 159h.1M191 159h.1M194 159h.1M196 160h.1M199 161h.1M201 161h.1M203 163h.1M206 164h.1M208 165h.1M210 167h.1M212 169h.1M213 170h.1M215 173h.1M216 175h.1M218 177h.1M219 179h.1M219 182h.1M220 184h.1M220 187h.1M221 189h.1M223 190h.1M222 193h.1M222 195h.1M222 198h.1M221 200h.1M220 202h.1M219 205h.1M218 207h.1M216 209h.1M215 211h.1M213 213h.1M211 215h.1M209 216h.1M207 218h.1M205 219h.1M202 220h.1M200 221h.1M197 222h.1M195 222h.1M192 223h.1M190 223h.1M187 223h.1M185 223h.1M182 222h.1M179 222h.1M177 221h.1M175 220h.1M172 219h.1M170 218h.1M168 216h.1M166 215h.1M164 213h.1M162 211h.1M161 209h.1M159 207h.1M158 205h.1M157 202h.1M156 200h.1M155 197h.1M155 195h.1M155 192h.1M155 190h.1M155 187h.1M155 185h.1M156 182h.1M156 180h.1M157 178h.1M158 175h.1M159 173h.1M161 171h.1M162 169h.1M164 167h.1M166 165h.1M168 164h.1M170 162h.1M172 161h.1M175 160h.1M177 159h.1M180 158h.1M182 158h.1M185 157h.1M187 157h.1M190 157h.1M193 157h.1M195 158h.1M198 158h.1M200 159h.1M203 160h.1M205 161h.1M207 162h.1M209 164h.1M211 165h.1M213 167h.1M215 169h.1M216 171h.1M218 173h.1M219 175h.1M220 178h.1M221 180h.1M222 183h.1M222 185h.1M223 188h.1M361 184h.1M361 186h.1M360 188h.1M360 189h.1M358 193h.1M357 194h.1M355 196h.1M354 197h.1M353 198h.1M351 199h.1M349 201h.1M347 201h.1M345 202h.1M343 203h.1M341 203h.1M339 204h.1M337 204h.1M335 204h.1M333 204h.1M331 204h.1M327 203h.1M325 202h.1M323 201h.1M321 201h.1M319 200h.1M318 198h.1M316 197h.1M315 196h.1M313 194h.1M312 193h.1M311 191h.1M310 189h.1M309 186h.1M309 184h.1M363 184h.1M363 186h.1M362 188h.1M362 189h.1M361 191h.1M360 193h.1M359 194h.1M358 196h.1M356 197h.1M353 200h.1M352 201h.1M350 202h.1M348 203h.1M346 204h.1M344 204h.1M342 205h.1M340 205h.1M338 206h.1M336 206h.1M334 206h.1M332 206h.1M330 205h.1M325 204h.1M323 204h.1M322 203h.1M320 202h.1M318 201h.1M315 198h.1M313 197h.1M312 196h.1M311 194h.1M309 191h.1M308 189h.1M308 187h.1M307 186h.1M365 184h.1M365 186h.1M364 188h.1M364 190h.1M363 191h.1M362 193h.1M361 195h.1M359 198h.1M357 199h.1M356 200h.1M354 202h.1M351 204h.1M349 205h.1M347 205h.1M343 207h.1M341 207h.1M339 207h.1M337 207h.1M335 207h.1M332 207h.1M330 207h.1M328 207h.1M326 206h.1M324 206h.1M322 205h.1M320 204h.1M318 203h.1M317 202h.1M315 201h.1M314 200h.1M312 198h.1M310 196h.1M308 194h.1M308 192h.1M307 191h.1M306 189h.1M306 187h.1M305 185h.1M367 184h.1M367 186h.1M366 190h.1M365 191h.1M364 193h.1M363 195h.1M361 198h.1M360 199h.1M358 201h.1M357 202h.1M355 203h.1M353 204h.1M352 205h.1M350 206h.1M348 207h.1M346 208h.1M344 208h.1M342 209h.1M340 209h.1M338 209h.1M335 209h.1M333 209h.1M331 209h.1M329 209h.1M325 208h.1M321 206h.1M319 206h.1M317 205h.1M315 204h.1M314 202h.1M312 201h.1M311 200h.1M308 197h.1M307 195h.1M306 194h.1M305 190h.1M304 189h.1M304 187h.1M303 185h.1M369 185h.1M369 186h.1M368 190h.1M367 192h.1M366 193h.1M365 195h.1M364 197h.1M362 200h.1M361 201h.1M359 202h.1M358 204h.1M356 205h.1M354 206h.1M352 207h.1M351 208h.1M349 208h.1M347 209h.1M345 210h.1M343 210h.1M340 211h.1M338 211h.1M336 211h.1M334 211h.1M332 211h.1M328 210h.1M326 210h.1M324 209h.1M322 209h.1M320 208h.1M318 207h.1M316 206h.1M314 205h.1M313 204h.1M311 203h.1M310 201h.1M308 200h.1M307 198h.1M306 197h.1M304 194h.1M303 192h.1M302 190h.1M302 188h.1M301 187h.1M301 185h.1M371 185h.1M371 186h.1M370 188h.1M370 190h.1M369 192h.1M368 193h.1M368 195h.1M367 197h.1M365 198h.1M364 200h.1M363 201h.1M360 204h.1M358 205h.1M357 206h.1M355 207h.1M353 208h.1M351 209h.1M349 210h.1M348 211h.1M345 211h.1M343 212h.1M341 212h.1M339 212h.1M337 213h.1M333 213h.1M331 212h.1M329 212h.1M326 212h.1M324 211h.1M322 211h.1M320 210h.1M318 209h.1M317 208h.1M315 207h.1M313 206h.1M311 205h.1M310 204h.1M308 203h.1M307 201h.1M306 200h.1M304 198h.1M303 197h.1M302 195h.1M302 193h.1M301 192h.1M300 190h.1M300 188h.1M299 186h.1M299 185h.1M373 185h.1M373 187h.1M372 188h.1M372 190h.1M371 192h.1M370 194h.1M370 195h.1M369 197h.1M368 199h.1M366 200h.1M365 202h.1M364 203h.1M362 204h.1M361 206h.1M359 207h.1M358 208h.1M356 209h.1M354 210h.1M352 211h.1M350 212h.1M348 212h.1M344 213h.1M340 214h.1M336 214h.1M334 214h.1M331 214h.1M327 214h.1M325 213h.1M323 213h.1M321 212h.1M319 211h.1M315 210h.1M314 209h.1M312 208h.1M309 205h.1M307 204h.1M306 203h.1M304 201h.1M303 200h.1M302 198h.1M301 196h.1M300 195h.1M299 193h.1M299 191h.1M298 190h.1M298 188h.1M297 186h.1M297 184h.1M375 185h.1M374 189h.1M374 190h.1M373 192h.1M373 194h.1M372 195h.1M371 197h.1M370 199h.1M369 200h.1M368 202h.1M366 203h.1M365 205h.1M363 206h.1M362 207h.1M359 210h.1M357 211h.1M355 211h.1M353 212h.1M351 213h.1M347 214h.1M345 215h.1M343 215h.1M341 216h.1M339 216h.1M337 216h.1M334 216h.1M332 216h.1M330 216h.1M328 215h.1M326 215h.1M324 215h.1M322 214h.1M320 213h.1M318 213h.1M316 212h.1M314 211h.1M312 210h.1M311 209h.1M309 208h.1M307 207h.1M304 204h.1M303 203h.1M302 201h.1M301 200h.1M300 198h.1M299 196h.1M298 195h.1M297 193h.1M296 191h.1M296 189h.1M296 188h.1M295 184h.1M377 185h.1M377 187h.1M376 189h.1M376 190h.1M375 192h.1M375 194h.1M374 196h.1M373 197h.1M372 199h.1M370 202h.1M369 204h.1M367 205h.1M366 206h.1M364 208h.1M361 210h.1M359 211h.1M358 212h.1M356 213h.1M354 214h.1M352 215h.1M348 216h.1M346 216h.1M344 217h.1M342 217h.1M340 217h.1M337 218h.1M335 218h.1M333 218h.1M331 218h.1M325 217h.1M323 216h.1M321 216h.1M319 215h.1M317 214h.1M315 213h.1M313 212h.1M311 211h.1M309 210h.1M306 208h.1M305 207h.1M303 205h.1M302 204h.1M301 202h.1M298 199h.1M297 198h.1M296 196h.1M296 194h.1M295 193h.1M294 191h.1M294 189h.1M293 187h.1M293 186h.1M379 185h.1M379 187h.1M378 189h.1M378 191h.1M377 192h.1M376 196h.1M374 199h.1M373 201h.1M372 202h.1M371 204h.1M369 205h.1M368 207h.1M367 208h.1M365 209h.1M364 210h.1M362 212h.1M360 213h.1M358 214h.1M357 215h.1M355 215h.1M353 216h.1M351 217h.1M349 218h.1M342 219h.1M338 219h.1M336 219h.1M334 219h.1M332 219h.1M330 219h.1M328 219h.1M325 219h.1M321 218h.1M319 217h.1M317 216h.1M315 215h.1M314 215h.1M312 214h.1M310 213h.1M308 212h.1M307 211h.1M305 209h.1M303 208h.1M302 207h.1M301 205h.1M299 204h.1M297 201h.1M296 199h.1M295 198h.1M294 196h.1M293 194h.1M293 192h.1M292 191h.1M292 189h.1M291 187h.1M291 185h.1M381 187h.1M380 189h.1M380 191h.1M379 194h.1M378 196h.1M377 198h.1M376 199h.1M374 203h.1M373 204h.1M372 206h.1M370 207h.1M369 208h.1M368 210h.1M366 211h.1M364 212h.1M363 213h.1M359 215h.1M357 216h.1M355 217h.1M354 218h.1M352 218h.1M350 219h.1M347 220h.1M343 220h.1M341 221h.1M339 221h.1M337 221h.1M335 221h.1M333 221h.1M331 221h.1M328 221h.1M326 220h.1M324 220h.1M322 220h.1M320 219h.1M318 218h.1M316 218h.1M314 217h.1M310 215h.1M309 214h.1M307 213h.1M305 212h.1M304 211h.1M301 208h.1M299 207h.1M298 205h.1M297 204h.1M296 202h.1M295 201h.1M294 199h.1M292 196h.1M291 194h.1M291 192h.1M290 190h.1M290 189h.1M289 187h.1M289 185h.1M383 186h.1M383 187h.1M382 189h.1M382 191h.1M381 193h.1M381 194h.1M380 196h.1M379 198h.1M378 200h.1M377 201h.1M376 203h.1M375 204h.1M374 206h.1M373 207h.1M371 209h.1M370 210h.1M368 211h.1M367 213h.1M365 214h.1M364 215h.1M362 216h.1M360 217h.1M358 218h.1M356 219h.1M354 219h.1M352 220h.1M350 221h.1M346 222h.1M344 222h.1M342 222h.1M340 223h.1M338 223h.1M336 223h.1M331 223h.1M329 223h.1M327 222h.1M325 222h.1M323 221h.1M321 221h.1M319 220h.1M315 219h.1M313 218h.1M311 217h.1M309 216h.1M307 215h.1M306 214h.1M304 213h.1M301 211h.1M298 208h.1M297 207h.1M295 205h.1M293 202h.1M292 200h.1M291 199h.1M290 197h.1M290 195h.1M288 192h.1M288 188h.1M287 187h.1M287 185h.1M385 186h.1M385 188h.1M384 189h.1M384 191h.1M383 193h.1M383 195h.1M381 198h.1M380 200h.1M380 201h.1M379 203h.1M376 206h.1M375 207h.1M374 209h.1M372 210h.1M371 212h.1M369 213h.1M368 214h.1M366 215h.1M363 217h.1M361 218h.1M359 219h.1M357 220h.1M355 221h.1M353 222h.1M351 222h.1M347 223h.1M345 224h.1M343 224h.1M339 224h.1M336 224h.1M334 224h.1M332 224h.1M328 224h.1M326 224h.1M324 223h.1M322 223h.1M320 222h.1M318 222h.1M316 221h.1M314 220h.1M312 220h.1M310 219h.1M308 218h.1M305 216h.1M303 215h.1M301 213h.1M300 212h.1M298 211h.1M297 209h.1M295 208h.1M294 207h.1M293 205h.1M292 204h.1M291 202h.1M290 200h.1M288 197h.1M287 195h.1M287 193h.1M286 192h.1M286 190h.1M286 188h.1M285 186h.1M285 185h.1M387 186h.1M387 188h.1M386 189h.1M386 191h.1M385 193h.1M385 195h.1M384 196h.1M383 198h.1M383 200h.1M382 202h.1M381 203h.1M380 205h.1M378 206h.1M377 208h.1M376 209h.1M375 211h.1M373 212h.1M372 213h.1M370 215h.1M369 216h.1M367 217h.1M365 218h.1M363 219h.1M362 220h.1M360 221h.1M358 222h.1M354 223h.1M352 224h.1M350 224h.1M348 225h.1M346 225h.1M344 226h.1M342 226h.1M339 226h.1M337 226h.1M335 226h.1M331 226h.1M329 226h.1M327 226h.1M325 225h.1M322 225h.1M318 224h.1M316 223h.1M314 223h.1M312 222h.1M310 221h.1M309 220h.1M307 219h.1M305 218h.1M303 217h.1M302 216h.1M300 215h.1M298 213h.1M297 212h.1M296 211h.1M294 209h.1M293 208h.1M292 206h.1M291 205h.1M289 203h.1M288 202h.1M288 200h.1M287 198h.1M286 197h.1M285 195h.1M285 193h.1M284 191h.1M284 190h.1M283 188h.1M283 186h.1M283 184h.1M406 292h.1M403 296h.1M400 298h.1M398 299h.1M395 299h.1M392 298h.1M390 297h.1M387 292h.1M386 290h.1M386 287h.1M387 284h.1M389 282h.1M391 280h.1M394 279h.1M399 280h.1M402 281h.1M405 285h.1M408 289h.1M407 294h.1M405 297h.1M398 301h.1M395 301h.1M393 300h.1M385 293h.1M384 290h.1M384 288h.1M385 285h.1M386 282h.1M388 280h.1M395 277h.1M398 277h.1M401 278h.1M403 279h.1M405 281h.1M407 284h.1M409 294h.1M406 299h.1M404 301h.1M401 302h.1M396 303h.1M393 303h.1M390 302h.1M388 300h.1M386 298h.1M384 296h.1M383 294h.1M382 291h.1M382 288h.1M382 285h.1M383 283h.1M385 280h.1M387 278h.1M389 277h.1M392 276h.1M394 275h.1M397 275h.1M403 277h.1M408 282h.1M409 285h.1M412 292h.1M411 294h.1M408 299h.1M406 301h.1M399 305h.1M390 304h.1M386 301h.1M384 299h.1M380 292h.1M380 286h.1M381 283h.1M384 279h.1M386 277h.1M388 275h.1M393 273h.1M402 274h.1M404 275h.1M408 279h.1M410 281h.1M411 284h.1M414 292h.1M412 297h.1M411 299h.1M407 303h.1M402 306h.1M399 307h.1M396 307h.1M393 307h.1M391 306h.1M388 305h.1M384 302h.1M382 300h.1M379 295h.1M378 292h.1M378 290h.1M378 287h.1M380 281h.1M381 279h.1M383 277h.1M385 275h.1M387 273h.1M390 272h.1M392 271h.1M408 276h.1M412 280h.1M413 282h.1M414 285h.1M416 289h.1M416 292h.1M415 295h.1M413 300h.1M411 302h.1M407 306h.1M397 309h.1M394 309h.1M391 308h.1M388 308h.1M386 306h.1M384 305h.1M382 303h.1M380 301h.1M378 298h.1M376 293h.1M376 287h.1M376 285h.1M377 282h.1M378 279h.1M380 277h.1M389 270h.1M402 270h.1M405 271h.1M407 273h.1M410 274h.1M412 276h.1M413 279h.1M414 281h.1M418 289h.1M418 292h.1M417 295h.1M416 297h.1M415 300h.1M412 304h.1M410 306h.1M408 308h.1M394 311h.1M386 309h.1M384 307h.1M381 306h.1M380 304h.1M378 301h.1M375 294h.1M374 291h.1M374 285h.1M375 283h.1M377 278h.1M383 271h.1M385 270h.1M388 269h.1M404 269h.1M407 270h.1M411 273h.1M415 277h.1M416 280h.1M417 282h.1M420 289h.1M420 292h.1M417 300h.1M416 302h.1M414 304h.1M410 308h.1M408 310h.1M405 311h.1M400 313h.1M397 313h.1M395 313h.1M392 313h.1M389 312h.1M386 311h.1M378 304h.1M376 302h.1M374 300h.1M373 297h.1M373 294h.1M372 292h.1M372 286h.1M373 283h.1M374 281h.1M378 273h.1M380 271h.1M384 268h.1M387 267h.1M389 266h.1M398 265h.1M400 265h.1M403 266h.1M406 267h.1M408 268h.1M413 272h.1M415 274h.1M416 276h.1M419 284h.1" stroke="#d6728e" stroke-width="1.5" stroke-linecap="round" stroke-opacity="0.72" fill="none"/><path d="M148.6 190 A40 38.5 0 1 1 228.6 190 A40 38.5 0 1 1 148.6 190" fill="none" stroke="#fdfdfd" stroke-width="9" stroke-linecap="round" opacity="1"/><path d="M232 150 Q250 190 240 240" fill="none" stroke="#fdfdfd" stroke-width="16" stroke-linecap="round" opacity="0.8"/><path d="M262 78 Q300 52 352 64" fill="none" stroke="#fdfdfd" stroke-width="8" stroke-linecap="round" opacity="0.9"/><path d="M282 240 Q330 262 378 244" fill="none" stroke="#fdfdfd" stroke-width="9" stroke-linecap="round" opacity="0.9"/><path d="M238 120 Q262 108 282 120" fill="none" stroke="#fdfdfd" stroke-width="8" stroke-linecap="round" opacity="0.75"/><path d="M392 228 Q410 250 418 276" fill="none" stroke="#fdfdfd" stroke-width="6" stroke-linecap="round" opacity="0.65"/><path d="M268 136 Q262 160 266 200" fill="none" stroke="#fdfdfd" stroke-width="6" stroke-linecap="round" opacity="0.65"/><path d="M130 110 Q150 100 170 96" fill="none" stroke="#fdfdfd" stroke-width="5" stroke-linecap="round" opacity="0.55"/><path d="M352 300 Q370 320 372 350" fill="none" stroke="#fdfdfd" stroke-width="5" stroke-linecap="round" opacity="0.55"/><path d="M133 173Q163 117 177 56M204 128Q171 155 146 143M299 351Q244 358 235 345M202 136Q181 152 191 187M408 59Q419 93 379 82M358 328Q365 294 423 240M296 35Q252 91 200 134M225 345Q267 319 315 285M299 360Q258 342 227 350M432 166Q365 181 337 213M228 350Q252 349 264 322M333 213Q319 251 352 258M338 211Q259 242 232 274M229 266Q292 199 329 166M290 275Q335 263 335 217M355 267Q320 209 327 168M303 34Q232 70 204 135M413 62Q414 89 438 124M230 268Q222 177 207 132M128 171Q152 225 162 253M432 175Q400 211 340 215M164 248Q167 184 201 134M364 328Q352 343 301 359M226 84Q227 56 177 63M210 129Q228 225 234 266M397 290Q355 279 315 284M310 89Q366 120 433 169M150 146Q201 85 251 45M231 271Q178 217 145 205M355 326Q304 348 263 327M229 267Q298 213 324 173M178 65Q214 49 248 44M356 329Q310 279 285 276M203 302Q192 325 228 350M202 296Q187 280 163 248M247 48Q215 51 181 55M229 83Q180 162 135 203M319 280Q343 315 364 329M193 186Q170 115 183 62M322 276Q358 274 420 240M135 202Q155 162 175 116M316 95Q317 85 295 33M226 268Q203 231 134 166M313 276Q257 321 229 346M400 285Q412 277 419 238M336 217Q347 242 394 293M362 44Q270 51 230 86M420 240Q407 198 439 120M226 347Q171 311 165 252M337 214Q387 153 443 118M334 217Q358 287 359 328M225 275Q297 268 315 277M434 174Q367 122 309 93M234 270Q196 219 206 128M125 174Q180 160 203 135M414 56Q369 75 313 91M437 115Q411 66 356 42M348 262Q366 232 333 217M439 125Q433 110 377 82M132 167Q148 232 163 246M443 115Q407 83 362 45M328 169Q384 213 393 286M355 330Q329 314 262 327M179 63Q266 67 308 89M260 322Q295 356 296 352M259 322Q242 342 232 345M247 44Q281 87 329 169M327 167Q295 120 251 48M307 96Q223 73 181 58M246 41Q208 89 205 134" stroke="#a9aeaa" stroke-width="0.6" stroke-opacity="0.35" fill="none"/></g><ellipse cx="180" cy="198" rx="15" ry="9" fill="#c4c6c2" opacity="0.55" filter="url(#blur2)" transform="rotate(20 180 198)"/><ellipse cx="196" cy="186" rx="12" ry="5" fill="#d8889a" opacity="0.35" filter="url(#blur1)"/><ellipse cx="193.7" cy="185.4" rx="2.6" ry="3.2" fill="#2fb070"/><ellipse cx="396" cy="289" rx="10" ry="9" fill="#8f8a86" opacity="0.75" filter="url(#blur1)"/><ellipse cx="262" cy="325.5" rx="5" ry="5" fill="#8f8a86" opacity="0.6" filter="url(#blur1)"/><ellipse cx="312" cy="92" rx="7" ry="5" fill="#d06a88" opacity="0.45" filter="url(#blur1)"/><polygon points="276.4,188.0 279.6,176.0 278.0,169.6 282.8,161.6 292.0,143.2 305.2,145.6 319.6,144.0 333.2,140.0 343.6,136.0 346.8,144.0 358.0,147.2 370.8,154.4 369.2,164.0 367.6,174.4 361.2,182.4 349.2,189.6 336.4,192.8 321.2,196.8 305.2,195.2 293.2,192.0" fill="#9f948f" opacity="0.9"/><path d="M297.5 167.7L264.0 193.0L302.5 176.3ZM296.4 161.3L268.0 178.0L299.6 168.7ZM299.0 156.1L266.0 169.0L301.0 163.9ZM301.3 151.0L272.0 160.0L302.7 161.0ZM309.0 144.8L283.5 137.0L303.0 155.2ZM320.6 145.7L300.0 139.0L315.4 154.3ZM336.9 147.1L335.0 133.0L327.1 144.9ZM344.6 148.0L348.0 128.0L335.4 144.0ZM352.2 154.5L366.0 142.0L347.8 145.5ZM357.1 161.9L382.0 151.0L354.9 150.1ZM359.1 172.9L380.0 163.0L356.9 163.1ZM355.8 180.0L378.0 176.0L356.2 170.0ZM349.0 186.9L370.0 186.0L351.0 177.1ZM337.4 190.3L355.0 195.0L342.6 181.7ZM326.1 191.2L339.0 199.0L333.9 184.8ZM313.0 188.6L320.0 204.0L323.0 187.4ZM303.5 183.8L300.0 202.0L312.5 188.2ZM296.4 178.6L285.0 198.0L303.6 185.4Z" fill="#a0958f" opacity="0.85"/><path d="M317.0 166.6L268.8 191.6L320.3 174.4ZM328.0 170.7L267.6 192.9L329.7 176.1ZM334.1 167.1L269.2 184.9L336.3 178.8ZM327.0 167.8L267.9 181.6L328.3 175.8ZM324.8 165.1L272.0 177.1L326.1 175.9ZM336.7 161.3L268.2 173.7L337.8 172.6ZM327.6 165.4L270.8 170.9L327.8 174.3ZM329.8 172.1L267.5 170.5L329.3 177.9ZM327.2 168.5L270.9 171.1L327.0 175.7ZM327.8 170.0L272.4 167.1L327.2 175.7ZM333.2 168.1L272.0 163.7L332.2 175.6ZM335.8 159.9L273.7 159.2L334.8 170.0ZM341.9 168.2L277.5 153.6L340.0 174.7ZM332.2 166.6L282.1 143.3L329.3 172.1ZM326.6 163.3L285.1 140.1L319.6 172.8ZM324.6 162.0L284.2 136.7L321.7 166.2ZM323.5 155.6L289.2 140.1L319.2 162.8ZM320.7 180.2L289.4 139.7L312.0 185.6ZM327.5 159.8L297.8 142.2L323.0 165.8ZM338.6 159.5L296.3 141.7L333.1 169.1ZM324.0 164.5L301.6 141.8L319.7 168.0ZM341.4 164.6L302.2 141.0L335.3 172.7ZM317.8 171.0L305.6 141.7L312.9 172.6ZM325.9 167.3L308.1 140.7L317.5 171.3ZM336.1 163.4L313.0 141.6L330.5 168.1ZM333.4 171.6L319.6 141.2L322.6 174.4ZM326.8 166.4L316.9 139.5L316.1 168.1ZM331.0 172.7L324.6 137.8L323.8 173.3ZM326.4 168.0L335.1 135.4L316.6 163.7ZM326.7 167.5L338.8 131.8L322.1 165.6ZM329.8 168.3L338.0 132.5L320.5 164.8ZM339.4 167.3L341.7 131.2L330.2 165.5ZM325.2 175.9L348.4 131.2L315.6 169.4ZM327.6 169.5L347.8 131.3L319.7 164.1ZM332.9 179.3L350.2 135.2L325.0 175.4ZM322.7 178.5L349.7 132.7L318.0 175.4ZM320.0 172.9L352.1 140.3L312.8 163.8ZM331.3 170.5L349.6 139.6L325.6 166.4ZM323.3 168.2L356.7 141.1L319.3 162.3ZM337.3 166.2L354.2 142.2L329.2 157.6ZM336.1 171.3L359.6 143.4L330.0 164.8ZM328.3 172.6L364.2 143.0L322.1 162.7ZM328.6 177.6L362.5 143.0L321.8 169.3ZM328.6 172.5L368.1 145.2L323.9 163.9ZM322.1 176.1L373.1 150.2L319.7 170.7ZM327.6 175.1L374.8 149.0L324.4 168.2ZM323.8 173.1L378.0 152.4L321.2 164.0ZM332.3 169.5L380.6 150.8L329.5 159.7ZM330.9 170.2L377.8 157.5L329.6 163.8ZM329.6 169.2L379.0 158.3L328.6 161.5ZM340.1 176.4L376.5 168.6L339.3 169.1ZM319.5 173.5L376.4 169.9L319.8 163.6ZM324.2 173.9L377.0 176.8L325.7 164.0ZM320.8 171.9L375.8 175.6L322.8 160.2ZM325.1 183.1L373.7 180.0L325.6 172.4ZM333.8 168.8L373.5 180.0L337.9 159.2ZM324.8 169.9L369.4 182.1L326.4 165.1ZM318.8 169.2L369.0 184.0L322.4 160.2ZM319.4 170.1L367.9 184.7L324.2 159.1ZM321.1 166.8L369.7 183.2L324.8 158.3ZM324.3 183.4L363.0 188.1L327.5 172.0ZM331.6 172.3L359.1 189.4L337.5 165.3ZM337.0 173.6L356.5 191.0L341.6 169.5ZM321.7 171.5L355.3 193.3L327.1 164.7ZM320.7 174.3L354.2 193.9L324.8 168.6ZM323.5 171.7L347.2 193.2L328.0 167.6ZM313.2 179.6L349.2 193.2L319.1 169.3ZM308.1 172.0L343.8 196.2L316.0 163.2ZM315.0 169.1L333.1 199.2L326.1 164.8ZM320.4 166.8L330.5 200.7L330.8 165.3ZM318.4 172.0L326.5 201.0L327.5 170.9ZM320.4 166.2L324.7 202.7L331.8 166.6ZM319.4 167.9L318.6 202.9L328.1 169.3ZM316.3 170.8L312.5 200.9L326.1 173.8ZM317.5 168.4L308.2 200.3L326.2 172.4ZM319.0 171.7L308.0 202.6L326.1 175.3ZM333.5 170.0L299.6 198.6L338.6 177.4ZM321.3 164.1L302.4 198.6L326.7 167.7ZM316.5 170.4L295.8 197.4L323.4 177.6ZM335.3 160.1L293.0 197.4L341.5 168.6ZM321.3 170.1L293.1 199.2L325.7 175.2ZM320.4 169.2L286.6 196.1L324.0 174.5ZM326.2 161.8L288.4 196.8L330.2 166.6ZM327.5 162.9L278.2 194.9L331.7 170.7ZM332.6 163.8L281.3 193.1L336.4 171.8ZM327.0 167.3L274.0 194.8L329.3 172.4ZM331.2 171.1L273.7 192.2L333.1 177.3Z" fill="#9d928e" opacity="0.3"/><path d="M319.8 160.4L267.1 184.8L322.8 168.5ZM316.3 164.4L269.8 182.4L318.6 172.2ZM345.3 165.2L272.3 178.3L346.3 172.4ZM331.4 163.3L268.5 175.4L332.6 173.7ZM330.5 168.0L271.4 173.2L330.7 173.8ZM327.5 168.5L272.1 165.9L326.7 175.5ZM332.8 164.7L273.3 164.7L332.5 171.0ZM332.0 174.5L276.2 160.8L329.6 182.0ZM322.7 164.5L277.2 153.6L321.1 169.7ZM318.3 161.4L282.8 144.2L311.9 170.9ZM328.9 168.2L312.5 140.8L323.1 171.0ZM326.5 159.6L323.2 136.5L318.4 159.4ZM338.1 167.8L328.0 134.3L327.0 169.2ZM326.5 164.4L328.9 137.3L321.5 163.5ZM327.6 170.1L335.9 133.7L321.9 168.4ZM322.9 168.0L342.8 132.6L313.9 161.1ZM320.0 170.7L349.5 134.8L312.5 163.0ZM329.5 168.5L348.9 137.8L324.8 164.9ZM325.0 171.6L360.2 142.2L319.8 164.0ZM323.3 174.7L368.1 146.8L318.3 164.3ZM329.2 170.9L377.5 156.7L327.7 164.3ZM330.9 175.1L378.6 161.5L329.1 163.5ZM316.1 171.9L377.3 164.0L315.7 165.6ZM327.9 174.1L377.5 163.3L326.7 165.2ZM327.8 177.2L378.0 169.5L327.4 165.7ZM328.9 176.2L376.9 171.5L328.7 169.8ZM324.4 176.6L361.0 186.9L327.1 169.5ZM331.9 174.1L342.6 196.2L343.4 171.6ZM320.8 169.3L338.8 197.3L326.5 166.3ZM319.3 170.5L338.1 198.1L326.6 166.8ZM323.5 168.1L319.4 201.9L332.6 170.6ZM323.9 167.9L314.9 202.0L333.5 172.0ZM328.1 168.0L297.2 199.7L332.7 173.3Z" fill="#c08892" opacity="0.4"/><path d="M324 173L373 154M319 168L276 166M329 153L343 138M341 160L275 172M340 175L318 201M325 170L363 176M334 170L302 193M338 164L297 152M331 170L328 144M320 168L376 174M325 174L273 192M314 175L294 194M328 170L298 199M331 160L375 154M336 168L297 194M333 164L373 174M318 167L318 204M324 167L288 159M333 170L272 163M338 172L359 142M314 174L295 145M321 171L384 154M333 170L349 137M335 174L364 189M327 167L281 165M337 174L381 165M324 165L293 191M328 162L331 140M320 179L277 167M326 170L311 200M331 173L283 143M348 171L306 144M320 171L316 202M312 169L346 133M340 167L332 135M330 172L335 138M331 159L332 138M326 171L290 195M336 168L291 138M325 166L280 182M326 170L356 194M332 168L357 141M332 166L380 159M337 174L289 162M325 170L376 164M337 181L350 131M337 159L367 184M330 173L289 158M326 170L294 147M338 170L333 195M320 177L365 142M305 169L320 139M331 170L350 139M333 166L348 146M324 171L351 197M333 172L304 142M340 175L358 193M342 173L291 201M324 167L347 136M338 173L286 177M325 176L279 188M331 163L353 141M322 169L274 186M323 169L334 196M322 177L281 139M333 168L354 192M324 165L275 176M327 165L352 137M335 177L286 172M329 175L347 196M334 172L293 197M326 175L307 149M342 173L371 158M329 166L349 142M328 167L311 143M317 170L370 175M339 171L280 145M320 167L271 182M334 176L370 159M323 167L356 140M330 174L370 159M335 170L353 195M321 168L367 173M331 170L275 176M332 171L363 175M330 160L375 152M328 171L349 134M325 173L275 180M316 169L268 163M329 168L341 190M326 173L362 166M338 167L336 194M312 171L342 145M329 171L376 177M323 159L376 162M332 167L343 138M332 174L306 147M328 162L358 142M330 173L362 152M322 164L313 141M327 164L361 182M331 171L340 134M326 169L305 203M325 164L375 151M327 167L366 152M319 167L280 163M330 172L292 196M326 170L302 193M338 169L307 201M327 166L325 137M342 165L286 164M334 172L353 142M327 171L350 189M326 162L370 186M319 164L361 142M339 176L347 132M321 165L302 192M325 172L339 142M319 169L371 183M329 161L293 140M335 170L320 143M333 172L322 200M324 166L281 161M321 167L282 189M339 172L381 162M320 177L311 148M331 171L355 186M322 166L322 196M324 164L305 144M330 169L302 189M317 167L347 147M333 169L364 145M324 164L349 194M335 160L295 142M328 164L363 174M329 171L322 150M335 174L283 190M326 166L288 189M325 176L281 136M335 159L279 180M331 165L302 196M320 173L374 162M332 162L285 144M327 169L276 162M327 170L316 146M342 172L283 161M336 175L365 139M330 163L337 141M328 171L365 177M334 161L365 161M325 164L285 163M333 168L358 141M328 179L320 200M330 153L363 177M315 174L347 190M323 171L332 137M322 169L362 177M322 175L312 148M330 172L355 183M336 168L277 185M332 178L340 192M312 173L325 145M329 166L292 150M315 180L329 195M337 170L365 182M319 168L346 147M321 170L360 141M320 165L365 158M330 168L370 167M328 164L312 141M339 166L293 198M318 159L275 193M341 172L307 144M328 169L356 148M336 171L302 140M326 168L324 200M330 165L287 164M330 166L303 148M320 169L363 174M336 162L333 141M332 161L271 192M326 165L301 145M327 172L282 164M339 168L269 190M329 170L345 143M320 170L312 140M325 168L309 150M325 163L267 174M330 175L368 173M334 167L368 183M321 173L349 135M334 159L275 166M331 177L295 192M320 177L355 193M332 169L361 147M347 165L267 180M325 167L363 180M325 165L323 202M325 168L271 163M320 162L353 187M334 164L332 191M329 167L311 196M329 166L269 164M330 170L303 146M321 165L301 138M315 170L282 168M321 167L376 166M330 165L346 138M333 173L340 140M320 160L363 154M318 166L312 142M324 167L293 197M324 176L363 178M320 173L354 147M336 170L375 152M328 167L281 169M327 168L376 151M325 171L380 170M321 164L296 143M320 176L335 195M324 164L345 143M341 167L346 141M327 172L326 202M313 164L268 174M330 174L338 197M344 167L369 176M336 174L341 196M328 166L299 191M325 160L372 161M332 166L280 169M331 171L282 170M321 158L291 139M319 169L334 198M326 170L277 189M319 170L346 133M334 167L351 191M326 169L351 194M326 163L304 145M321 167L287 189M323 177L354 186M320 168L374 160M338 173L325 145M326 170L363 178M326 164L346 129M338 156L309 188M328 172L295 193M340 170L310 138M337 160L316 200M328 160L376 155M334 166L349 140M325 171L340 135M330 180L304 195M328 168L272 173M323 177L339 140M325 169L271 190M325 168L282 192M316 161L336 130M335 171L294 142M332 166L283 162M343 164L383 153M335 152L370 145M335 171L273 150M322 182L297 195M319 167L377 169M333 167L277 173M327 169L295 142M327 162L372 156M330 171L346 145M332 175L335 138M331 166L367 163M329 169L341 191M328 172L373 152M330 169L343 133M329 164L366 183M330 167L382 165M326 169L265 180M323 168L293 191M324 156L318 194M337 160L293 197M326 180L283 189M332 171L274 177M317 165L317 195M344 169L299 140M331 172L285 149M319 170L376 170M330 168L363 141M335 169L283 150M331 162L349 139M337 180L281 191M318 169L350 190M322 165L370 170M330 180L373 145M313 164L376 148M324 167L378 157M336 168L359 185M328 168L364 181M326 167L366 174M334 167L279 163M322 165L304 148M320 171L267 170" stroke="#958a86" stroke-width="0.8" stroke-opacity="0.4" fill="none"/><ellipse cx="354" cy="160" rx="12" ry="11" fill="#c08890" opacity="0.5" filter="url(#blur1)"/><ellipse cx="306" cy="150" rx="10" ry="6" fill="#c08890" opacity="0.45" filter="url(#blur1)"/><ellipse cx="370" cy="180" rx="7" ry="7" fill="#c08890" opacity="0.45" filter="url(#blur1)"/><ellipse cx="290" cy="186" rx="9" ry="5" fill="#c08890" opacity="0.4" filter="url(#blur1)"/><polygon points="338,158 341.5,164 338,172 332,180 324,184.5 316,183.5 315,176 320,168 328,161" fill="#2fa36a" opacity="0.85" filter="url(#blur1)"/><path d="M319 183h.1M324 171h.1M327 175h.1M337 161h.1M338 169h.1M331 160h.1M333 160h.1M331 167h.1M332 166h.1M320 186h.1M332 172h.1M319 181h.1M326 162h.1M335 167h.1M331 175h.1M330 183h.1M333 167h.1M325 180h.1M339 152h.1M328 169h.1M329 169h.1M337 163h.1M337 158h.1M323 164h.1M328 165h.1M323 175h.1M330 172h.1M331 167h.1M329 162h.1M330 164h.1M324 176h.1M325 180h.1M332 157h.1M316 184h.1M332 168h.1M335 168h.1M336 168h.1M324 176h.1M324 170h.1M334 174h.1M324 169h.1M331 166h.1M325 179h.1M325 177h.1M329 172h.1M322 177h.1M335 168h.1M323 174h.1M324 178h.1M330 170h.1M320 175h.1M333 163h.1M329 159h.1M332 168h.1M318 165h.1M326 170h.1M329 169h.1M327 178h.1M321 181h.1M331 165h.1M334 162h.1M331 164h.1M326 172h.1M317 174h.1M330 170h.1M330 173h.1M330 164h.1M328 176h.1M325 166h.1M320 176h.1M330 163h.1M332 174h.1M328 173h.1M327 171h.1M330 174h.1M326 172h.1M337 167h.1M322 172h.1M314 188h.1M328 175h.1M322 184h.1M324 171h.1M317 179h.1M321 182h.1M331 164h.1M322 176h.1M324 173h.1M328 166h.1M320 182h.1M323 173h.1M334 166h.1M317 181h.1M336 169h.1M320 177h.1M331 166h.1M335 155h.1M329 163h.1M321 175h.1M323 182h.1M320 167h.1M320 180h.1M332 172h.1M331 166h.1M328 168h.1M311 183h.1M323 185h.1M331 174h.1M337 160h.1M321 176h.1M332 160h.1M333 162h.1M322 181h.1M325 168h.1M330 171h.1M332 165h.1M335 155h.1M323 179h.1M324 170h.1M326 179h.1M336 165h.1M320 182h.1M325 173h.1M327 167h.1M318 167h.1M323 164h.1M319 180h.1M330 174h.1M331 162h.1M333 165h.1M324 177h.1M327 171h.1M320 178h.1M328 176h.1M340 160h.1M326 175h.1M328 173h.1M335 161h.1M323 179h.1M328 170h.1M338 159h.1M324 181h.1M330 165h.1M332 168h.1M324 172h.1M319 175h.1M325 167h.1M331 171h.1M324 180h.1M327 185h.1M322 177h.1M318 176h.1M336 166h.1M327 176h.1M330 167h.1M339 162h.1M325 177h.1M323 181h.1M332 174h.1M332 176h.1M324 169h.1" stroke="#2a9c66" stroke-width="1.8" stroke-linecap="round" stroke-opacity="0.75" fill="none"/><path d="M339.4 200.2 C 372 178, 410 160, 450 160 C 500 162, 540 200, 542 250 C 542 270, 536 290, 526 306 L 484 286 C 475 255, 450 225, 420 210 C 395 200, 365 199, 339.4 200.2 Z" fill="#fff" stroke="#111" stroke-width="1.8" stroke-linejoin="miter"/><polygon points="455.3,264.4 568.9,322.8 469.1,377.2" fill="#fff" stroke="#111" stroke-width="1.8" stroke-linejoin="miter"/><rect x="604.3" y="22.9" width="379.0" height="55.550000000000004" fill="#f2b185"/><rect x="604.3" y="77.75" width="379.0" height="274.25" fill="#fae4d8"/><rect x="604.3" y="77.5" width="379.0" height="2" fill="#fff8f2"/><rect x="604.3" y="131.6" width="379.0" height="2" fill="#fff8f2"/><rect x="604.3" y="186.5" width="379.0" height="2" fill="#fff8f2"/><rect x="604.3" y="241.3" width="379.0" height="2" fill="#fff8f2"/><rect x="604.3" y="296.1" width="379.0" height="2" fill="#fff8f2"/><rect x="805" y="77.8" width="2" height="274.2" fill="#fff8f2"/><text x="794" y="56.825" font-family="'Liberation Sans', Arial, sans-serif" font-size="18" fill="#fdf3ec" text-anchor="middle" font-weight="normal" >DTI Network Statistics</text><text x="705.5" y="111.7" font-family="'Liberation Sans', Arial, sans-serif" font-size="18" fill="#111" text-anchor="middle" font-weight="normal" >Nodes</text><text x="895.5" y="111.7" font-family="'Liberation Sans', Arial, sans-serif" font-size="18" fill="#111" text-anchor="middle" font-weight="normal" >11,807</text><text x="705.5" y="166.5" font-family="'Liberation Sans', Arial, sans-serif" font-size="18" fill="#111" text-anchor="middle" font-weight="normal" >Proteins</text><text x="895.5" y="166.5" font-family="'Liberation Sans', Arial, sans-serif" font-size="18" fill="#111" text-anchor="middle" font-weight="normal" >1,391</text><text x="705.5" y="221.4" font-family="'Liberation Sans', Arial, sans-serif" font-size="18" fill="#111" text-anchor="middle" font-weight="normal" >Ligands</text><text x="895.5" y="221.4" font-family="'Liberation Sans', Arial, sans-serif" font-size="18" fill="#111" text-anchor="middle" font-weight="normal" >10,416</text><text x="705.5" y="276.2" font-family="'Liberation Sans', Arial, sans-serif" font-size="18" fill="#111" text-anchor="middle" font-weight="normal" >Positive Edges</text><text x="895.5" y="276.2" font-family="'Liberation Sans', Arial, sans-serif" font-size="18" fill="#111" text-anchor="middle" font-weight="normal" >5,591</text><text x="705.5" y="331.1" font-family="'Liberation Sans', Arial, sans-serif" font-size="18" fill="#111" text-anchor="middle" font-weight="normal" >Negative Edges</text><text x="895.5" y="331.1" font-family="'Liberation Sans', Arial, sans-serif" font-size="18" fill="#111" text-anchor="middle" font-weight="normal" >31,976</text><text x="114" y="402.5" font-family="'Liberation Sans', Arial, sans-serif" font-size="18" fill="#000" text-anchor="start" font-weight="bold" >b</text><path d="M186 567.8A260.5 190.9 0 1 1 707 567.8A260.5 190.9 0 1 1 186 567.8" fill="none" stroke="#1a1a1a" stroke-width="2" stroke-dasharray="12.75 5.706" stroke-dashoffset="5.15"/><line x1="445.6" y1="490.9" x2="434.3" y2="520.5" stroke="#5a68a8" stroke-width="1.1"/><line x1="328.4" y1="585.1" x2="375.7" y2="573.1" stroke="#5f6890" stroke-width="1.1" stroke-dasharray="3.6 2"/><line x1="489.2" y1="572.3" x2="562.9" y2="591.5" stroke="#5f6890" stroke-width="1.1" stroke-dasharray="3.2 2.4"/><ellipse cx="452" cy="405" rx="14" ry="9" fill="#2040d0" opacity="0.2" transform="rotate(0 452 405)" filter="url(#blur2)"/><ellipse cx="456" cy="451" rx="26" ry="7" fill="#30c890" opacity="0.3" transform="rotate(0 456 451)" filter="url(#blur2)"/><ellipse cx="458" cy="470" rx="22" ry="8" fill="#e85020" opacity="0.3" transform="rotate(0 458 470)" filter="url(#blur2)"/><path d="M433.3 403.9 Q440.0 398.0 444.4 396.5 Q448.9 395.0 452.4 396.0 Q456.0 397.0 459.6 396.5 L463.3 396.0" fill="none" stroke="#1a2fc0" stroke-width="2.2" stroke-linecap="round" opacity="1.0"/><path d="M458.4 424.8 Q462.6 429.3 464.3 431.4 Q465.9 433.5 462.6 433.3 L459.3 433.1" fill="none" stroke="#20b0d8" stroke-width="1.1" stroke-linecap="round" opacity="0.9"/><path d="M444.2 419.4 Q440.6 419.8 441.1 417.4 Q441.7 415.0 439.7 413.8 L437.7 412.7" fill="none" stroke="#20b0d8" stroke-width="1.1" stroke-linecap="round" opacity="0.9"/><path d="M462.3 411.4 Q464.0 410.9 461.4 413.2 Q458.8 415.6 455.4 417.0 L451.9 418.3" fill="none" stroke="#20b0d8" stroke-width="1.1" stroke-linecap="round" opacity="0.9"/><path d="M449.1 429.2 Q449.6 431.0 447.6 433.2 Q445.5 435.4 446.9 437.8 L448.2 440.1" fill="none" stroke="#30c0c8" stroke-width="1.1" stroke-linecap="round" opacity="0.9"/><path d="M452.6 428.7 Q449.3 427.0 451.5 427.5 Q453.8 427.9 454.4 428.9 L455.1 430.0" fill="none" stroke="#30c0c8" stroke-width="1.1" stroke-linecap="round" opacity="0.9"/><path d="M454.5 416.3 Q454.2 418.4 451.1 420.7 Q448.0 423.1 444.7 424.4 L441.3 425.6" fill="none" stroke="#30c0c8" stroke-width="1.1" stroke-linecap="round" opacity="0.9"/><path d="M451.3 421.6 Q444.4 417.0 442.1 419.3 Q439.9 421.6 437.8 422.9 L435.7 424.1" fill="none" stroke="#30c0c8" stroke-width="1.1" stroke-linecap="round" opacity="0.9"/><path d="M455.3 427.9 Q451.9 427.5 452.5 428.9 Q453.1 430.3 452.2 429.3 L451.3 428.3" fill="none" stroke="#20b0d8" stroke-width="1.1" stroke-linecap="round" opacity="0.9"/><path d="M448.0 398.0 Q452.0 404.0 451.0 408.0 Q450.0 412.0 453.0 415.0 Q456.0 418.0 459.0 417.0 Q462.0 416.0 463.5 412.0 Q465.0 408.0 463.5 404.0 L462.0 400.0" fill="none" stroke="#1d30c0" stroke-width="1.4" stroke-linecap="round" opacity="1.0"/><path d="M460.0 404.0 L463.0 409.0 L464.4 413.5" fill="none" stroke="#1a30c0" stroke-width="2.6" stroke-linejoin="round"/><path d="M465.3 416.4 L461.2 414.5 L467.6 412.5Z" fill="#1a30c0"/><path d="M455.0 393.0 Q460.0 392.0 463.0 393.0 L466.0 394.0" fill="none" stroke="#4060d0" stroke-width="0.9" stroke-linecap="round" opacity="1.0"/><path d="M426.0 412.5 424.8 412.7 422.8 414.0 420.9 416.1 420.0 418.3 420.5 419.9M428.7 416.5 427.3 417.0 425.2 418.5 423.5 420.7 422.8 422.8 423.7 424.2M431.4 420.6 429.7 421.3 427.7 423.0 426.1 425.3 425.8 427.3 426.9 428.5M433.9 424.8 432.1 425.7 430.1 427.6 428.8 429.9 428.7 431.7 430.2 432.7" fill="none" stroke="#245491" stroke-width="1.4" stroke-linecap="round" stroke-linejoin="round" opacity="1.0"/><path d="M417.4 415.5 419.0 416.3 421.5 415.9 424.1 414.7 425.7 413.3 426.0 412.5M420.5 419.9 422.4 420.4 425.0 419.8 427.4 418.5 428.8 417.2 428.7 416.5M423.7 424.2 425.8 424.5 428.4 423.7 430.7 422.3 431.8 421.1 431.4 420.6M426.9 428.5 429.2 428.5 431.9 427.5 433.9 426.1 434.7 425.0 433.9 424.8M430.2 432.7 432.7 432.4 435.3 431.3" fill="none" stroke="#3478d0" stroke-width="3.2" stroke-linecap="round" stroke-linejoin="round" opacity="1.0"/><path d="M440.0 404.0 L441.0 412.0 L443.0 420.0" fill="none" stroke="#20a8d8" stroke-width="2.2" stroke-linejoin="round"/><path d="M443.7 422.9 L440.2 420.7 L445.8 419.3Z" fill="#20a8d8"/><path d="M445.0 406.0 L447.0 414.0 L449.0 421.0" fill="none" stroke="#20b8d8" stroke-width="2.0" stroke-linejoin="round"/><path d="M449.8 423.9 L446.5 421.7 L451.5 420.3Z" fill="#20b8d8"/><path d="M433.0 420.0 Q438.0 424.0 437.0 427.0 Q436.0 430.0 439.0 432.0 Q442.0 434.0 445.0 433.0 Q448.0 432.0 451.0 434.0 Q454.0 436.0 456.0 434.0 L458.0 432.0" fill="none" stroke="#40b8c8" stroke-width="0.9" stroke-linecap="round" opacity="1.0"/><path d="M450.0 420.0 Q456.0 424.0 459.0 423.5 Q462.0 423.0 466.0 424.5 Q470.0 426.0 472.0 428.5 Q474.0 431.0 473.0 433.5 L472.0 436.0" fill="none" stroke="#40c0c0" stroke-width="0.9" stroke-linecap="round" opacity="1.0"/><path d="M440.6 423.5 440.0 423.8 439.1 424.8 438.4 426.1 438.3 427.2 438.9 427.9M442.5 425.7 441.7 426.3 440.9 427.5 440.4 428.8" fill="none" stroke="#43862c" stroke-width="0.9" stroke-linecap="round" stroke-linejoin="round" opacity="1.0"/><path d="M436.4 425.6 437.4 425.8 438.7 425.4 439.9 424.6 440.6 423.8 440.6 423.5M438.9 427.9 440.1 427.8 441.4 427.2 442.4 426.4 442.8 425.7 442.5 425.7" fill="none" stroke="#60c040" stroke-width="2.0" stroke-linecap="round" stroke-linejoin="round" opacity="1.0"/><path d="M466.0 433.0 Q472.0 440.0 476.0 439.0 Q480.0 438.0 484.0 440.0 Q488.0 442.0 491.0 441.0 Q494.0 440.0 492.0 443.0 Q490.0 446.0 487.0 447.0 L484.0 448.0" fill="none" stroke="#40c0b0" stroke-width="1.0" stroke-linecap="round" opacity="1.0"/><path d="M473.5 434.8 473.0 435.1 472.2 436.4 471.5 438.2 471.4 439.9 472.1 441.0M477.3 437.2 476.7 437.6 475.9 438.9 475.3 440.7 475.2 442.4 475.9 443.5M481.0 439.7 480.5 440.1 479.6 441.4 479.0 443.2 478.9 444.9 479.6 446.0" fill="none" stroke="#218075" stroke-width="0.8" stroke-linecap="round" stroke-linejoin="round" opacity="1.0"/><path d="M468.3 438.5 469.6 438.7 471.2 437.9 472.6 436.6 473.4 435.4 473.5 434.8M472.1 441.0 473.4 441.2 475.0 440.4 476.4 439.1 477.2 437.8 477.3 437.2M475.9 443.5 477.2 443.6 478.7 442.9 480.1 441.6 480.9 440.3 481.0 439.7M479.6 446.0 480.9 446.1 482.5 445.3" fill="none" stroke="#30b8a8" stroke-width="1.8" stroke-linecap="round" stroke-linejoin="round" opacity="1.0"/><path d="M429.2 442.6 428.7 443.7 428.7 446.2 429.3 449.4 430.7 451.9 432.6 452.7M436.2 442.9 435.7 444.1 435.7 446.8 436.4 449.9 437.9 452.2 439.8 452.9M443.1 443.1 442.7 444.5 442.7 447.3 443.5 450.4 445.0 452.6 446.9 453.1M450.1 443.4 449.6 444.9 449.7 447.8 450.6 450.9 452.2 453.0 454.1 453.3M457.0 443.7 456.6 445.4 456.8 448.3 457.7 451.3 459.3 453.3 461.3 453.5M464.0 444.0 463.6 445.8 463.8 448.8 464.8 451.8 466.5 453.6 468.5 453.6M470.9 444.3 470.6 446.3 470.9 449.3 472.0 452.3 473.7 454.0 475.6 453.8M477.9 444.7 477.6 446.8 477.9 449.8 479.1 452.7 480.8 454.3 482.8 453.9" fill="none" stroke="#168c64" stroke-width="1.6" stroke-linecap="round" stroke-linejoin="round" opacity="1.0"/><path d="M425.4 452.5 427.4 451.6 428.9 449.1 429.7 446.0 429.7 443.5 429.2 442.6M432.6 452.7 434.5 451.7 436.0 449.1 436.7 446.0 436.7 443.6 436.2 442.9M439.8 452.9 441.7 451.7 443.1 449.0 443.7 446.0 443.6 443.7 443.1 443.1M446.9 453.1 448.8 451.7 450.1 449.0 450.7 445.9 450.6 443.8 450.1 443.4M454.1 453.3 455.9 451.8 457.2 448.9 457.7 445.9 457.6 443.9 457.0 443.7M461.3 453.5 463.1 451.8 464.3 448.9 464.7 445.9 464.5 444.1 464.0 444.0M468.5 453.6 470.2 451.8 471.4 448.9 471.7 445.9 471.5 444.2 470.9 444.3M475.6 453.8 477.3 451.8 478.4 448.8 478.7 446.0 478.4 444.4 477.9 444.7M482.8 453.9 484.5 451.8 485.5 448.8 485.7 446.0 485.4 444.5 484.8 445.0" fill="none" stroke="#20c890" stroke-width="3.6" stroke-linecap="round" stroke-linejoin="round" opacity="1.0"/><path d="M435.3 454.0 435.1 454.8 435.2 456.6 435.9 458.9 437.1 460.7 438.6 461.2M441.8 454.1 441.6 455.1 441.8 457.0 442.5 459.3 443.8 460.9 445.3 461.3M448.2 454.3 448.1 455.4 448.3 457.5 449.1 459.7 450.4 461.2 452.0 461.4M454.7 454.5 454.6 455.7 454.9 457.9 455.8 460.0 457.1 461.4 458.7 461.5M461.2 454.7 461.1 456.1 461.5 458.3 462.4 460.4 463.8 461.6 465.4 461.5M467.7 454.9 467.6 456.5 468.1 458.7 469.1 460.7 470.5 461.8 472.1 461.5M474.1 455.2 474.1 456.8 474.7 459.1 475.7 461.1 477.2 462.0 478.7 461.5M480.6 455.5 480.7 457.2" fill="none" stroke="#759121" stroke-width="1.4" stroke-linecap="round" stroke-linejoin="round" opacity="1.0"/><path d="M431.9 461.1 433.5 460.4 434.7 458.6 435.4 456.4 435.5 454.6 435.3 454.0M438.6 461.2 440.1 460.4 441.3 458.5 441.9 456.2 442.0 454.6 441.8 454.1M445.3 461.3 446.8 460.3 447.9 458.3 448.4 456.1 448.5 454.6 448.2 454.3M452.0 461.4 453.4 460.3 454.5 458.2 455.0 456.0 454.9 454.6 454.7 454.5M458.7 461.5 460.1 460.2 461.1 458.0 461.5 455.9 461.4 454.6 461.2 454.7M465.4 461.5 466.7 460.1 467.7 457.9 468.0 455.8 467.9 454.7 467.7 454.9M472.1 461.5 473.4 460.0 474.2 457.7 474.5 455.8 474.4 454.8 474.1 455.2M478.7 461.5 480.0 459.8 480.8 457.6 481.0 455.7 480.8 454.9 480.6 455.5" fill="none" stroke="#a8d030" stroke-width="3.0" stroke-linecap="round" stroke-linejoin="round" opacity="1.0"/><path d="M439.0 462.9 438.4 464.0 438.3 466.7 439.0 470.0 440.4 472.5 442.3 473.4M445.5 463.1 445.0 464.5 444.9 467.3 445.7 470.5 447.2 472.9 449.1 473.5M452.0 463.3 451.5 464.9 451.6 467.9 452.4 471.1 454.0 473.3 456.0 473.6M458.6 463.6 458.1 465.4 458.2 468.5 459.2 471.6 460.8 473.6 462.8 473.7M465.1 463.9 464.7 465.9 464.9 469.0 466.0 472.1 467.7 473.9 469.6 473.7M471.6 464.2 471.3 466.4" fill="none" stroke="#9c210b" stroke-width="1.6" stroke-linecap="round" stroke-linejoin="round" opacity="1.0"/><path d="M435.5 473.2 437.4 472.2 438.9 469.6 439.6 466.4 439.6 463.8 439.0 462.9M442.3 473.4 444.2 472.2 445.6 469.4 446.2 466.2 446.1 463.8 445.5 463.1M449.1 473.5 451.0 472.1 452.3 469.2 452.9 466.0 452.6 463.8 452.0 463.3M456.0 473.6 457.8 472.0 459.0 469.0 459.5 465.8 459.2 463.8 458.6 463.6M462.8 473.7 464.6 471.8 465.7 468.8 466.1 465.7 465.7 463.8 465.1 463.9M469.6 473.7 471.4 471.7 472.4 468.5 472.6 465.6 472.2 463.9 471.6 464.2" fill="none" stroke="#e03010" stroke-width="3.6" stroke-linecap="round" stroke-linejoin="round" opacity="1.0"/><path d="M440.1 471.5 439.8 472.2 439.9 474.0 440.4 476.2 441.5 478.1 442.9 478.8M446.1 471.7 445.8 472.4 445.9 474.2 446.4 476.4 447.5 478.2 448.9 479.0M452.1 471.9 451.8 472.6 451.9 474.4 452.4 476.6 453.5 478.4 454.9 479.1M458.1 472.0 457.8 472.7 457.9 474.6 458.4 476.8 459.5 478.6 460.9 479.3M464.1 472.2 463.8 472.9 463.9 474.7 464.4 477.0 465.5 478.8 466.9 479.5" fill="none" stroke="#a24310" stroke-width="1.2" stroke-linecap="round" stroke-linejoin="round" opacity="1.0"/><path d="M436.9 478.6 438.4 478.0 439.5 476.2 440.2 474.0 440.3 472.2 440.1 471.5M442.9 478.8 444.4 478.1 445.5 476.4 446.2 474.2 446.3 472.4 446.1 471.7M448.9 479.0 450.4 478.3 451.5 476.5 452.2 474.3 452.3 472.5 452.1 471.9M454.9 479.1 456.4 478.5 457.5 476.7 458.2 474.5 458.3 472.7 458.1 472.0M460.9 479.3 462.4 478.7 463.5 476.9 464.2 474.7 464.3 472.9 464.1 472.2M466.9 479.5 468.4 478.8 469.5 477.0 470.2 474.8 470.3 473.1 470.1 472.4" fill="none" stroke="#e86018" stroke-width="2.4" stroke-linecap="round" stroke-linejoin="round" opacity="1.0"/><path d="M469.7 466.6 469.5 467.3 469.9 468.8 470.7 470.5 471.9 471.8 473.2 472.0M474.1 465.7 474.1 466.5 474.4 468.0 475.3 469.7 476.5 470.9 477.8 471.1M478.6 464.8 478.6 465.7 479.0 467.2 479.9 468.9 481.2 470.1 482.4 470.1M483.1 464.0 483.1 464.9 483.6 466.5 484.5 468.2 485.8 469.2 487.0 469.2" fill="none" stroke="#97702c" stroke-width="0.8" stroke-linecap="round" stroke-linejoin="round" opacity="1.0"/><path d="M468.6 472.9 469.6 472.1 470.2 470.5 470.3 468.6 470.0 467.1 469.7 466.6M473.2 472.0 474.2 471.1 474.7 469.4 474.8 467.5 474.5 466.1 474.1 465.7M477.8 471.1 478.8 470.1 479.3 468.4 479.3 466.5 479.0 465.1 478.6 464.8M482.4 470.1 483.3 469.1 483.8 467.3 483.8 465.4 483.5 464.2 483.1 464.0M487.0 469.2 487.9 468.1 488.3 466.3 488.3 464.4 487.9 463.2" fill="none" stroke="#d8a040" stroke-width="1.5" stroke-linecap="round" stroke-linejoin="round" opacity="1.0"/><path d="M440.0 478.0 Q448.0 482.0 453.0 481.5 Q458.0 481.0 462.0 482.0 Q466.0 483.0 470.0 481.5 L474.0 480.0" fill="none" stroke="#d07020" stroke-width="1.0" stroke-linecap="round" opacity="1.0"/><ellipse cx="458.5" cy="439.5" rx="54.7" ry="51" fill="none" stroke="#b8409a" stroke-width="2.1"/><ellipse cx="290" cy="570" rx="10" ry="9" fill="#2060d0" opacity="0.25" transform="rotate(0 290 570)" filter="url(#blur2)"/><ellipse cx="265" cy="594" rx="22" ry="12" fill="#30d070" opacity="0.3" transform="rotate(0 265 594)" filter="url(#blur2)"/><ellipse cx="258" cy="626" rx="14" ry="9" fill="#f0a020" opacity="0.3" transform="rotate(0 258 626)" filter="url(#blur2)"/><ellipse cx="292" cy="609" rx="9" ry="6" fill="#e02020" opacity="0.25" transform="rotate(0 292 609)" filter="url(#blur2)"/><ellipse cx="288" cy="628" rx="10" ry="9" fill="#5090e0" opacity="0.25" transform="rotate(0 288 628)" filter="url(#blur2)"/><path d="M279.0 559.0 L284.0 558.0 L289.0 562.0 L292.0 569.0" fill="none" stroke="#20a0e0" stroke-width="2.6" stroke-linejoin="round"/><path d="M293.2 571.8 L288.9 570.3 L295.1 567.7Z" fill="#20a0e0"/><path d="M281.0 563.0 L286.0 566.0 L290.0 573.0 L296.0 578.0" fill="none" stroke="#1a70d8" stroke-width="2.4" stroke-linejoin="round"/><path d="M298.3 579.9 L294.0 580.4 L298.0 575.6Z" fill="#1a70d8"/><path d="M283.0 570.0 L289.0 576.0 L295.0 580.0 L301.0 581.0" fill="none" stroke="#1030c0" stroke-width="2.6" stroke-linejoin="round"/><path d="M304.0 581.5 L300.4 584.3 L301.6 577.7Z" fill="#1030c0"/><path d="M292.0 562.0 L298.0 566.0 L301.0 574.0" fill="none" stroke="#1a40c8" stroke-width="2.2" stroke-linejoin="round"/><path d="M302.1 576.8 L298.3 575.0 L303.7 573.0Z" fill="#1a40c8"/><path d="M297.0 556.0 Q301.0 558.0 302.0 560.5 Q303.0 563.0 301.5 564.5 L300.0 566.0" fill="none" stroke="#2040c8" stroke-width="1.0" stroke-linecap="round" opacity="1.0"/><path d="M261.6 572.0 261.1 572.8 260.9 574.6 261.2 576.7 261.9 578.2 263.1 578.6M265.0 572.6 264.6 573.8 264.5 575.7 264.9 577.7 265.9 578.9 267.1 578.8" fill="none" stroke="#123e75" stroke-width="1.0" stroke-linecap="round" stroke-linejoin="round" opacity="1.0"/><path d="M259.1 578.2 260.3 577.7 261.4 576.1 261.9 574.1 262.0 572.5 261.6 572.0M263.1 578.6 264.3 577.7 265.2 575.9 265.6 573.9 265.4 572.7 265.0 572.6M267.1 578.8 268.2 577.6 268.9 575.6 269.2 573.8" fill="none" stroke="#1a5aa8" stroke-width="2.4" stroke-linecap="round" stroke-linejoin="round" opacity="1.0"/><path d="M266.0 568.0 Q270.0 564.0 272.5 564.5 Q275.0 565.0 275.5 567.5 L276.0 570.0" fill="none" stroke="#e8a040" stroke-width="1.1" stroke-linecap="round" opacity="1.0"/><path d="M231.0 580.0 Q236.0 578.0 238.0 580.5 Q240.0 583.0 242.0 584.5 Q244.0 586.0 245.0 589.0 L246.0 592.0" fill="none" stroke="#70d070" stroke-width="0.9" stroke-linecap="round" opacity="1.0"/><path d="M236.0 598.0 Q234.0 604.0 237.0 605.5 L240.0 607.0" fill="none" stroke="#c0d870" stroke-width="0.9" stroke-linecap="round" opacity="1.0"/><path d="M248.4 581.4 248.0 582.0 247.7 583.5 247.7 585.5 248.3 587.1 249.3 587.7M252.1 582.2 251.7 582.9 251.4 584.5 251.5 586.4 252.1 587.9 253.2 588.5M255.8 583.0 255.3 583.8 255.1 585.5 255.3 587.4 255.9 588.8 257.0 589.2M259.4 583.7 259.0 584.7 258.8 586.5 259.0 588.4 259.8 589.7 260.9 589.9M263.1 584.6 262.7 585.7 262.5 587.5 262.8 589.3 263.6 590.5 264.8 590.6" fill="none" stroke="#169143" stroke-width="0.9" stroke-linecap="round" stroke-linejoin="round" opacity="1.0"/><path d="M245.4 586.9 246.6 586.6 247.7 585.2 248.4 583.5 248.7 582.0 248.4 581.4M249.3 587.7 250.5 587.2 251.5 585.8 252.2 584.0 252.4 582.6 252.1 582.2M253.2 588.5 254.4 587.8 255.4 586.3 256.0 584.5 256.1 583.2 255.8 583.0M257.0 589.2 258.2 588.4 259.2 586.8 259.8 585.1 259.8 583.9 259.4 583.7M260.9 589.9 262.1 589.0 263.0 587.3 263.5 585.6 263.5 584.6 263.1 584.6M264.8 590.6 266.0 589.6 266.9 587.9 267.3 586.2" fill="none" stroke="#20d060" stroke-width="2.2" stroke-linecap="round" stroke-linejoin="round" opacity="1.0"/><path d="M252.4 588.4 251.9 589.0 251.6 590.5 251.7 592.5 252.3 594.0 253.4 594.6M256.1 589.1 255.6 589.8 255.4 591.5 255.5 593.4 256.2 594.9 257.3 595.3M259.7 589.8 259.3 590.7 259.1 592.4 259.3 594.3 260.1 595.7 261.2 596.0M263.4 590.5 263.0 591.6 262.8 593.4 263.2 595.3 264.0 596.5 265.1 596.6M267.1 591.3 266.7 592.5 266.6 594.4 267.0 596.2 267.8 597.2 269.0 597.2M270.8 592.1 270.4 593.4 270.4 595.3 270.8 597.1" fill="none" stroke="#1c9448" stroke-width="0.9" stroke-linecap="round" stroke-linejoin="round" opacity="1.0"/><path d="M249.5 594.0 250.7 593.6 251.7 592.2 252.4 590.4 252.6 588.9 252.4 588.4M253.4 594.6 254.6 594.1 255.6 592.6 256.2 590.9 256.3 589.5 256.1 589.1M257.3 595.3 258.5 594.6 259.5 593.1 260.0 591.3 260.1 590.0 259.7 589.8M261.2 596.0 262.4 595.1 263.3 593.5 263.8 591.7 263.8 590.6 263.4 590.5M265.1 596.6 266.3 595.6 267.1 593.9 267.6 592.2 267.5 591.2 267.1 591.3M269.0 597.2 270.1 596.1 271.0 594.3 271.3 592.7 271.2 591.8 270.8 592.1" fill="none" stroke="#28d468" stroke-width="2.2" stroke-linecap="round" stroke-linejoin="round" opacity="1.0"/><path d="M264.8 582.8 264.2 583.3 263.7 584.8 263.5 586.7 263.8 588.4 264.7 589.1M268.3 584.1 267.7 584.7 267.2 586.3 267.1 588.2 267.5 589.8 268.5 590.4M271.8 585.3 271.3 586.2 270.8 587.8 270.7 589.7 271.2 591.2 272.2 591.7M275.3 586.6 274.8 587.6 274.3 589.3 274.3 591.2 274.9 592.6 276.0 592.9M278.8 588.0 278.3 589.1 277.9 590.9 277.9 592.7 278.6 593.9 279.8 594.1" fill="none" stroke="#21914e" stroke-width="0.9" stroke-linecap="round" stroke-linejoin="round" opacity="1.0"/><path d="M261.0 587.8 262.2 587.6 263.5 586.5 264.5 584.8 264.9 583.4 264.8 582.8M264.7 589.1 266.0 588.8 267.3 587.5 268.2 585.8 268.5 584.5 268.3 584.1M268.5 590.4 269.8 589.9 271.0 588.5 271.8 586.9 272.1 585.6 271.8 585.3M272.2 591.7 273.5 591.0 274.7 589.6 275.5 587.9 275.7 586.8 275.3 586.6M276.0 592.9 277.3 592.1 278.5 590.6 279.1 589.0 279.2 587.9 278.8 588.0M279.8 594.1 281.1 593.2 282.2 591.6 282.8 590.0 282.8 589.1 282.4 589.3" fill="none" stroke="#30d070" stroke-width="2.2" stroke-linecap="round" stroke-linejoin="round" opacity="1.0"/><path d="M268.4 593.4 267.9 594.0 267.6 595.5 267.7 597.5 268.3 599.0 269.4 599.6M272.1 594.1 271.6 594.8 271.4 596.5 271.5 598.4 272.2 599.9 273.3 600.3M275.7 594.8 275.3 595.7 275.1 597.4 275.3 599.3 276.1 600.7 277.2 601.0M279.4 595.5 279.0 596.6 278.8 598.4 279.2 600.3 280.0 601.5 281.1 601.6M283.1 596.3 282.7 597.5 282.6 599.4 283.0 601.2 283.8 602.2 285.0 602.2M286.8 597.1 286.4 598.4 286.4 600.3 286.8 602.1" fill="none" stroke="#168c54" stroke-width="0.9" stroke-linecap="round" stroke-linejoin="round" opacity="1.0"/><path d="M265.5 599.0 266.7 598.6 267.7 597.2 268.4 595.4 268.6 593.9 268.4 593.4M269.4 599.6 270.6 599.1 271.6 597.6 272.2 595.9 272.3 594.5 272.1 594.1M273.3 600.3 274.5 599.6 275.5 598.1 276.0 596.3 276.1 595.0 275.7 594.8M277.2 601.0 278.4 600.1 279.3 598.5 279.8 596.7 279.8 595.6 279.4 595.5M281.1 601.6 282.3 600.6 283.1 598.9 283.6 597.2 283.5 596.2 283.1 596.3M285.0 602.2 286.1 601.1 287.0 599.3 287.3 597.7 287.2 596.8 286.8 597.1" fill="none" stroke="#20c878" stroke-width="2.2" stroke-linecap="round" stroke-linejoin="round" opacity="1.0"/><path d="M251.1 596.3 250.5 596.7 249.7 598.1 249.2 599.9 249.2 601.6 249.9 602.5M254.4 598.2 253.7 598.7 252.9 600.1 252.4 602.0 252.5 603.6 253.3 604.5M257.6 600.1 257.0 600.7 256.2 602.2 255.7 604.0 255.9 605.6 256.7 606.4M260.9 602.0 260.2 602.7 259.4 604.3 259.0 606.1 259.2 607.6 260.2 608.3" fill="none" stroke="#439138" stroke-width="0.9" stroke-linecap="round" stroke-linejoin="round" opacity="1.0"/><path d="M246.5 600.6 247.8 600.6 249.2 599.7 250.5 598.3 251.2 597.0 251.1 596.3M249.9 602.5 251.2 602.5 252.7 601.5 253.9 600.0 254.5 598.7 254.4 598.2M253.3 604.5 254.6 604.3 256.1 603.2 257.3 601.7 257.8 600.5 257.6 600.1M256.7 606.4 258.1 606.1 259.5 605.0 260.6 603.5 261.1 602.3 260.9 602.0M260.2 608.3 261.5 607.9 263.0 606.7" fill="none" stroke="#60d050" stroke-width="2.2" stroke-linecap="round" stroke-linejoin="round" opacity="1.0"/><path d="M275.3 587.2 274.6 587.0 273.1 587.3 271.4 588.1 270.1 589.3 269.9 590.5M276.1 590.9 275.3 590.7 273.7 591.1 272.0 592.0 270.9 593.1 270.8 594.3M276.9 594.5 276.0 594.5 274.4 594.9 272.7 595.8 271.6 597.0 271.7 598.1M277.7 598.2 276.7 598.2 275.0 598.7 273.4 599.6 272.4 600.8 272.6 601.9M278.5 601.9 277.3 601.9 275.6 602.5 274.0 603.5" fill="none" stroke="#168c64" stroke-width="0.9" stroke-linecap="round" stroke-linejoin="round" opacity="1.0"/><path d="M269.1 586.7 269.9 587.6 271.5 588.1 273.5 588.0 274.9 587.6 275.3 587.2M269.9 590.5 270.9 591.4 272.6 591.8 274.5 591.7 275.8 591.3 276.1 590.9M270.8 594.3 271.8 595.2 273.6 595.5 275.5 595.4 276.7 594.9 276.9 594.5M271.7 598.1 272.8 598.9 274.6 599.2 276.5 599.0 277.6 598.6 277.7 598.2M272.6 601.9 273.8 602.7 275.7 602.9 277.5 602.7 278.5 602.3 278.5 601.9" fill="none" stroke="#20c890" stroke-width="2.2" stroke-linecap="round" stroke-linejoin="round" opacity="1.0"/><path d="M259.2 589.5 258.5 589.3 257.0 589.4 255.2 590.1 253.8 591.1 253.5 592.3M259.7 593.2 258.9 593.0 257.3 593.2 255.5 593.9 254.2 595.0 254.0 596.1M260.1 597.0 259.2 596.8 257.6 597.1 255.8 597.8 254.6 598.9 254.5 600.0M260.5 600.7 259.5 600.6 257.8 600.9 256.1 601.7 255.0 602.8 255.1 603.9" fill="none" stroke="#2c9143" stroke-width="0.9" stroke-linecap="round" stroke-linejoin="round" opacity="1.0"/><path d="M253.0 588.4 253.7 589.4 255.4 590.0 257.3 590.1 258.7 589.9 259.2 589.5M253.5 592.3 254.3 593.2 256.0 593.8 257.9 593.9 259.3 593.6 259.7 593.2M254.0 596.1 255.0 597.1 256.7 597.6 258.6 597.7 259.9 597.4 260.1 597.0M254.5 600.0 255.6 600.9 257.4 601.4 259.2 601.4 260.4 601.1 260.5 600.7M255.1 603.9 256.2 604.8 258.0 605.2" fill="none" stroke="#40d060" stroke-width="2.2" stroke-linecap="round" stroke-linejoin="round" opacity="1.0"/><path d="M277.1 586.7 276.5 587.1 275.7 588.3 275.1 590.0 275.1 591.6 275.8 592.5M280.2 588.8 279.6 589.4 278.8 590.7 278.2 592.4 278.3 593.9 279.1 594.7M283.3 590.9 282.6 591.6 281.8 593.1 281.3 594.8 281.6 596.2 282.5 596.8M286.4 593.1 285.6 593.9 284.9 595.5 284.5 597.2 284.8 598.5 285.8 599.0M289.4 595.3 288.6 596.3 287.9 597.9 287.7 599.6 288.1 600.7 289.2 601.0M292.5 597.5 291.7 598.6" fill="none" stroke="#16867b" stroke-width="0.9" stroke-linecap="round" stroke-linejoin="round" opacity="1.0"/><path d="M272.4 590.3 273.6 590.5 275.1 589.7 276.4 588.4 277.1 587.3 277.1 586.7M275.8 592.5 277.0 592.5 278.5 591.6 279.7 590.3 280.3 589.2 280.2 588.8M279.1 594.7 280.4 594.5 281.9 593.5 283.0 592.2 283.5 591.2 283.3 590.9M282.5 596.8 283.8 596.5 285.2 595.4 286.3 594.1 286.7 593.2 286.4 593.1M285.8 599.0 287.2 598.5 288.6 597.3 289.6 596.1 289.8 595.2 289.4 595.3M289.2 601.0 290.6 600.4 292.0 599.2 292.8 598.0 293.0 597.3 292.5 597.5" fill="none" stroke="#20c0b0" stroke-width="2.0" stroke-linecap="round" stroke-linejoin="round" opacity="1.0"/><path d="M237.4 594.9 236.8 595.1 235.9 596.3 235.1 598.0 234.8 599.7 235.3 600.8M240.6 597.3 240.0 597.6 239.0 598.7 238.2 600.5 238.0 602.2 238.5 603.3M243.7 599.8 243.1 600.0 242.2 601.2 241.4 602.9 241.1 604.6 241.6 605.7M246.9 602.2 246.3 602.5 245.3 603.7 244.5 605.4 244.3 607.1 244.8 608.2M250.0 604.7 249.5 605.0 248.5 606.1 247.7 607.8 247.4 609.5 248.0 610.7M253.2 607.1 252.6 607.4 251.7 608.6" fill="none" stroke="#709121" stroke-width="0.9" stroke-linecap="round" stroke-linejoin="round" opacity="1.0"/><path d="M232.2 598.4 233.4 598.6 235.0 597.9 236.4 596.7 237.3 595.5 237.4 594.9M235.3 600.8 236.5 601.0 238.1 600.4 239.6 599.2 240.5 598.0 240.6 597.3M238.5 603.3 239.7 603.5 241.3 602.8 242.7 601.6 243.6 600.4 243.7 599.8M241.6 605.7 242.9 606.0 244.4 605.3 245.9 604.1 246.8 602.9 246.9 602.2M244.8 608.2 246.0 608.4 247.6 607.7 249.1 606.5 249.9 605.3 250.0 604.7M248.0 610.7 249.2 610.9 250.8 610.2 252.2 609.0 253.1 607.8 253.2 607.1" fill="none" stroke="#a0d030" stroke-width="2.0" stroke-linecap="round" stroke-linejoin="round" opacity="1.0"/><path d="M253.5 602.6 252.9 602.9 251.9 604.1 251.0 606.0 250.8 607.8 251.4 608.9M256.7 604.9 256.1 605.2 255.1 606.5 254.3 608.3 254.0 610.1 254.6 611.3M260.0 607.3 259.3 607.6 258.3 608.8 257.5 610.7 257.3 612.5 257.8 613.6M263.2 609.6 262.6 609.9 261.6 611.2 260.7 613.0 260.5 614.8 261.1 616.0M266.4 612.0 265.8 612.3 264.8 613.6 264.0 615.4 263.7 617.2 264.3 618.4M269.7 614.4 269.0 614.6 268.0 615.9 267.2 617.7 267.0 619.5 267.5 620.7M272.9 616.7 272.3 617.0 271.3 618.3 270.4 620.1" fill="none" stroke="#9c3810" stroke-width="0.9" stroke-linecap="round" stroke-linejoin="round" opacity="1.0"/><path d="M248.1 606.6 249.4 606.8 251.1 606.0 252.5 604.6 253.4 603.3 253.5 602.6M251.4 608.9 252.6 609.1 254.3 608.3 255.8 607.0 256.7 605.6 256.7 604.9M254.6 611.3 255.9 611.5 257.5 610.7 259.0 609.3 259.9 608.0 260.0 607.3M257.8 613.6 259.1 613.8 260.8 613.0 262.2 611.7 263.1 610.3 263.2 609.6M261.1 616.0 262.4 616.2 264.0 615.4 265.5 614.0 266.4 612.7 266.4 612.0M264.3 618.4 265.6 618.5 267.2 617.7 268.7 616.4 269.6 615.0 269.7 614.4M267.5 620.7 268.8 620.9 270.5 620.1 272.0 618.7 272.8 617.4 272.9 616.7" fill="none" stroke="#e05018" stroke-width="2.2" stroke-linecap="round" stroke-linejoin="round" opacity="1.0"/><path d="M259.5 606.8 258.7 606.8 257.3 607.3 255.7 608.4 254.7 609.8 254.7 611.0M260.8 610.5 259.9 610.6 258.4 611.2 256.8 612.4 256.0 613.7 256.2 614.9M262.2 614.2 261.1 614.4 259.5 615.1 258.0 616.4 257.3 617.7 257.8 618.8M263.5 617.9 262.3 618.2 260.6 619.1 259.3 620.3 258.7 621.7 259.3 622.7" fill="none" stroke="#a24e16" stroke-width="0.9" stroke-linecap="round" stroke-linejoin="round" opacity="1.0"/><path d="M253.2 607.1 254.1 607.9 255.9 608.1 257.8 607.8 259.1 607.3 259.5 606.8M254.7 611.0 255.8 611.7 257.6 611.9 259.5 611.5 260.7 610.9 260.8 610.5M256.2 614.9 257.5 615.5 259.3 615.6 261.1 615.2 262.2 614.6 262.2 614.2M257.8 618.8 259.2 619.3 261.1 619.3 262.8 618.8 263.7 618.2 263.5 617.9M259.3 622.7 260.9 623.1 262.8 623.0" fill="none" stroke="#e87020" stroke-width="2.0" stroke-linecap="round" stroke-linejoin="round" opacity="1.0"/><path d="M285.0 606.2 284.9 607.0 285.4 608.7 286.4 610.6 287.8 611.9 289.2 612.0M289.0 605.0 288.9 606.0 289.5 607.8 290.6 609.6 292.1 610.8 293.4 610.7M293.0 603.9 293.0 605.0 293.7 606.9 294.9 608.7 296.3 609.6 297.5 609.4M296.9 602.7 297.1 604.0 297.8 605.9 299.1 607.7 300.5 608.5 301.7 608.0M300.9 601.7 301.2 603.1 302.0 605.0 303.3 606.6 304.7 607.3" fill="none" stroke="#9c1616" stroke-width="1.0" stroke-linecap="round" stroke-linejoin="round" opacity="1.0"/><path d="M285.0 613.3 286.0 612.3 286.3 610.3 286.1 608.2 285.5 606.6 285.0 606.2M289.2 612.0 290.1 610.8 290.4 608.8 290.1 606.7 289.5 605.2 289.0 605.0M293.4 610.7 294.2 609.4 294.4 607.3 294.0 605.2 293.4 603.9 293.0 603.9M297.5 609.4 298.3 607.9 298.4 605.8 298.0 603.8 297.4 602.6 296.9 602.7M301.7 608.0 302.4 606.4 302.4 604.2 301.9 602.3 301.3 601.4 300.9 601.7" fill="none" stroke="#e02020" stroke-width="2.4" stroke-linecap="round" stroke-linejoin="round" opacity="1.0"/><path d="M295.0 590.0 Q300.0 592.0 301.0 594.5 Q302.0 597.0 299.5 597.5 L297.0 598.0" fill="none" stroke="#e05050" stroke-width="1.0" stroke-linecap="round" opacity="1.0"/><path d="M247.8 615.4 247.1 615.6 245.9 616.6 244.7 618.3 244.1 620.0 244.4 621.3M250.6 618.5 249.9 618.7 248.7 619.8 247.5 621.4 246.9 623.1 247.3 624.4M253.4 621.7 252.7 621.8 251.5 622.9 250.3 624.5 249.7 626.3 250.1 627.5M256.2 624.8 255.5 625.0 254.3 626.0 253.1 627.7 252.5 629.4 252.9 630.7M259.0 627.9 258.3 628.1 257.1 629.2 255.9 630.8 255.3 632.5 255.7 633.8M261.8 631.0 261.1 631.2 259.9 632.3 258.7 634.0 258.1 635.7 258.5 636.9" fill="none" stroke="#a87b16" stroke-width="0.9" stroke-linecap="round" stroke-linejoin="round" opacity="1.0"/><path d="M241.6 618.1 242.9 618.6 244.6 618.2 246.4 617.2 247.6 616.1 247.8 615.4M244.4 621.3 245.7 621.7 247.5 621.3 249.2 620.3 250.4 619.2 250.6 618.5M247.3 624.4 248.5 624.8 250.3 624.4 252.0 623.4 253.2 622.3 253.4 621.7M250.1 627.5 251.3 628.0 253.1 627.5 254.9 626.5 256.0 625.4 256.2 624.8M252.9 630.7 254.2 631.1 256.0 630.6 257.7 629.6 258.8 628.5 259.0 627.9M255.7 633.8 257.0 634.2 258.8 633.8 260.5 632.7 261.6 631.6 261.8 631.0M258.5 636.9 259.8 637.3 261.6 636.9 263.3 635.8 264.5 634.7" fill="none" stroke="#f0b020" stroke-width="2.2" stroke-linecap="round" stroke-linejoin="round" opacity="1.0"/><path d="M259.7 621.0 259.0 621.3 257.9 622.4 256.9 624.2 256.5 626.0 257.0 627.2M262.8 623.8 262.2 624.1 261.0 625.3 260.0 627.0 259.6 628.8 260.1 630.0M265.9 626.6 265.3 626.9 264.2 628.1 263.2 629.8 262.8 631.6 263.3 632.8M269.1 629.4 268.4 629.7 267.3 630.9 266.3 632.7 265.9 634.4 266.4 635.6M272.2 632.3 271.5 632.5 270.4 633.7 269.4 635.5 269.0 637.3 269.5 638.5M275.3 635.1 274.6 635.3 273.5 636.6 272.5 638.3 272.1 640.1 272.6 641.3" fill="none" stroke="#a26416" stroke-width="0.9" stroke-linecap="round" stroke-linejoin="round" opacity="1.0"/><path d="M253.9 624.4 255.1 624.7 256.9 624.1 258.5 622.9 259.5 621.7 259.7 621.0M257.0 627.2 258.3 627.5 260.0 626.9 261.6 625.7 262.7 624.5 262.8 623.8M260.1 630.0 261.4 630.3 263.2 629.7 264.8 628.5 265.8 627.3 265.9 626.6M263.3 632.8 264.6 633.1 266.3 632.5 267.9 631.3 268.9 630.1 269.1 629.4M266.4 635.6 267.7 635.9 269.4 635.3 271.1 634.1 272.1 632.9 272.2 632.3M269.5 638.5 270.8 638.7 272.6 638.1 274.2 636.9 275.2 635.7 275.3 635.1M272.6 641.3 274.0 641.6 275.7 640.9 277.3 639.7 278.3 638.5" fill="none" stroke="#e89020" stroke-width="2.2" stroke-linecap="round" stroke-linejoin="round" opacity="1.0"/><path d="M238.0 612.0 Q236.0 618.0 238.0 620.0 Q240.0 622.0 243.0 621.0 L246.0 620.0" fill="none" stroke="#f0b060" stroke-width="1.0" stroke-linecap="round" opacity="1.0"/><path d="M284.2 630.2 Q289.2 628.6 291.7 628.8 Q294.3 629.1 293.2 628.2 L292.0 627.2" fill="none" stroke="#4070d8" stroke-width="1.2" stroke-linecap="round" opacity="0.9"/><path d="M293.3 624.2 Q293.1 626.4 290.6 626.9 Q288.1 627.4 290.6 625.1 L293.2 622.7" fill="none" stroke="#6090e8" stroke-width="1.2" stroke-linecap="round" opacity="0.9"/><path d="M286.9 626.4 Q281.6 630.6 278.8 630.6 Q276.0 630.5 278.0 628.7 L280.1 626.8" fill="none" stroke="#3060d0" stroke-width="1.2" stroke-linecap="round" opacity="0.9"/><path d="M278.6 626.7 Q274.4 630.1 273.1 629.9 Q271.9 629.7 274.9 631.4 L277.9 633.2" fill="none" stroke="#3060d0" stroke-width="1.2" stroke-linecap="round" opacity="0.9"/><path d="M292.5 624.4 Q289.8 624.1 292.2 622.1 Q294.6 620.2 296.6 620.3 L298.5 620.5" fill="none" stroke="#6090e8" stroke-width="1.2" stroke-linecap="round" opacity="0.9"/><path d="M280.3 627.8 Q280.5 628.3 280.5 626.1 Q280.5 623.9 282.3 623.2 L284.1 622.5" fill="none" stroke="#6090e8" stroke-width="1.2" stroke-linecap="round" opacity="0.9"/><path d="M284.7 632.1 Q282.1 631.9 283.7 632.9 Q285.3 633.9 284.1 636.1 L282.9 638.3" fill="none" stroke="#5080e0" stroke-width="1.2" stroke-linecap="round" opacity="0.9"/><path d="M287.4 633.5 Q285.3 631.2 284.0 631.2 Q282.8 631.2 283.8 630.5 L284.8 629.8" fill="none" stroke="#3060d0" stroke-width="1.2" stroke-linecap="round" opacity="0.9"/><path d="M284.4 634.9 Q288.8 636.7 291.7 639.0 Q294.6 641.3 294.7 641.5 L294.8 641.6" fill="none" stroke="#3060d0" stroke-width="1.2" stroke-linecap="round" opacity="0.9"/><path d="M282.8 619.6 Q284.8 618.7 285.5 620.9 Q286.2 623.1 286.3 625.3 L286.4 627.5" fill="none" stroke="#6090e8" stroke-width="1.2" stroke-linecap="round" opacity="0.9"/><path d="M285.1 616.8 284.4 616.9 283.1 617.4 281.8 618.4 280.9 619.6 281.0 620.7M286.4 620.4 285.5 620.5 284.1 621.1 282.8 622.2 282.2 623.4 282.5 624.4M287.6 623.9 286.6 624.1 285.2 624.9 284.0 626.0 283.5 627.2 284.0 628.1M288.8 627.5 287.6 627.8 286.2 628.7 285.1 629.8 284.9 631.0 285.6 631.8" fill="none" stroke="#2c599c" stroke-width="0.8" stroke-linecap="round" stroke-linejoin="round" opacity="1.0"/><path d="M279.6 616.9 280.4 617.7 281.9 617.9 283.6 617.7 284.8 617.2 285.1 616.8M281.0 620.7 282.0 621.3 283.6 621.5 285.2 621.2 286.3 620.7 286.4 620.4M282.5 624.4 283.7 625.0 285.3 625.0 286.9 624.6 287.7 624.1 287.6 623.9M284.0 628.1 285.3 628.6 287.0 628.5 288.5 628.1 289.1 627.6 288.8 627.5M285.6 631.8 287.0 632.1 288.7 632.0 290.0 631.5 290.4 631.1" fill="none" stroke="#4080e0" stroke-width="1.8" stroke-linecap="round" stroke-linejoin="round" opacity="1.0"/><path d="M273.8 584.8 Q267.0 583.9 268.5 582.0 Q270.0 580.0 271.9 580.9 L273.7 581.8" fill="none" stroke="#a0d040" stroke-width="0.8" stroke-linecap="round" opacity="0.9"/><path d="M251.6 609.0 Q243.8 615.5 243.7 615.9 Q243.5 616.2 242.7 615.2 L241.8 614.1" fill="none" stroke="#a0d040" stroke-width="0.8" stroke-linecap="round" opacity="0.9"/><path d="M254.5 609.3 Q244.5 608.0 242.3 607.3 Q240.1 606.7 236.2 609.0 L232.4 611.3" fill="none" stroke="#f0b040" stroke-width="0.8" stroke-linecap="round" opacity="0.9"/><path d="M248.8 599.3 Q245.6 600.4 250.2 602.6 Q254.7 604.9 253.9 607.0 L253.1 609.2" fill="none" stroke="#a0d040" stroke-width="0.8" stroke-linecap="round" opacity="0.9"/><path d="M251.3 594.7 Q250.8 590.5 247.1 587.6 Q243.5 584.8 246.7 585.9 L249.9 587.0" fill="none" stroke="#a0d040" stroke-width="0.8" stroke-linecap="round" opacity="0.9"/><path d="M258.0 608.5 Q259.3 607.6 264.1 607.5 Q268.8 607.5 268.6 608.9 L268.4 610.4" fill="none" stroke="#a0d040" stroke-width="0.8" stroke-linecap="round" opacity="0.9"/><path d="M268.8 591.3 Q278.5 591.2 277.6 590.0 Q276.8 588.7 281.6 588.6 L286.4 588.6" fill="none" stroke="#40d070" stroke-width="0.8" stroke-linecap="round" opacity="0.9"/><path d="M271.4 610.9 Q266.3 604.5 262.7 603.7 Q259.0 603.0 258.8 603.4 L258.6 603.8" fill="none" stroke="#40d070" stroke-width="0.8" stroke-linecap="round" opacity="0.9"/><path d="M254.8 591.5 Q247.9 598.3 245.9 599.1 Q243.8 599.9 243.5 600.9 L243.3 601.9" fill="none" stroke="#40d070" stroke-width="0.8" stroke-linecap="round" opacity="0.9"/><path d="M245.6 587.5 Q241.3 590.4 242.4 592.1 Q243.6 593.7 238.8 592.6 L234.1 591.6" fill="none" stroke="#a0d040" stroke-width="0.8" stroke-linecap="round" opacity="0.9"/><ellipse cx="271.5" cy="598.5" rx="54.6" ry="50.7" fill="none" stroke="#b8409a" stroke-width="2.1"/><ellipse cx="605" cy="562" rx="8" ry="8" fill="#2040d0" opacity="0.25" transform="rotate(0 605 562)" filter="url(#blur2)"/><ellipse cx="614" cy="588" rx="14" ry="9" fill="#60c860" opacity="0.25" transform="rotate(0 614 588)" filter="url(#blur2)"/><ellipse cx="632" cy="610" rx="15" ry="11" fill="#2070d0" opacity="0.3" transform="rotate(0 632 610)" filter="url(#blur2)"/><ellipse cx="640" cy="612" rx="8" ry="10" fill="#30c080" opacity="0.25" transform="rotate(0 640 612)" filter="url(#blur2)"/><path d="M589.8 592.0 589.3 592.0 588.1 592.7 586.9 593.8 586.2 595.1 586.3 596.2M591.6 595.1 591.0 595.2 589.8 595.9 588.6 597.0 587.9 598.3 588.1 599.4M593.4 598.2 592.7 598.3 591.5 599.0 590.3 600.2 589.7 601.5 590.0 602.5M595.2 601.3 594.4 601.5 593.2 602.2 592.1 603.4 591.5 604.7 591.8 605.7M596.9 604.4 596.2 604.6 594.9 605.4 593.8 606.7 593.3 607.9 593.7 608.9M598.7 607.5 597.9 607.8 596.6 608.6 595.5 609.9 595.1 611.1 595.5 612.0M600.5 610.6 599.6 610.9 598.3 611.8 597.3 613.1 596.9 614.3 597.4 615.2M602.2 613.7 601.3 614.1 600.1 615.0 599.0 616.3 598.7 617.5 599.2 618.4M604.0 616.9 603.0 617.3 601.8 618.2 600.8 619.5 600.5 620.7 601.1 621.5M605.7 620.0 604.7 620.4 603.5 621.4 602.5 622.7 602.3 623.9 603.0 624.7M607.5 623.1 606.4 623.6 605.2 624.6 604.3 625.9 604.1 627.1 604.8 627.8M609.2 626.3 608.2 626.8 606.9 627.8 606.0 629.1 605.9 630.3 606.7 631.0M611.0 629.4 609.9 630.0 608.6 631.0 607.8 632.3 607.7 633.5 608.6 634.1M612.7 632.5 611.6 633.1 610.3 634.2 609.5 635.5 609.6 636.7 610.5 637.3" fill="none" stroke="#972116" stroke-width="0.8" stroke-linecap="round" stroke-linejoin="round" opacity="1.0"/><path d="M584.4 593.0 585.4 593.6 586.9 593.6 588.5 593.1 589.6 592.4 589.8 592.0M586.3 596.2 587.3 596.7 588.8 596.7 590.4 596.2 591.4 595.5 591.6 595.1M588.1 599.4 589.1 599.9 590.7 599.8 592.2 599.2 593.3 598.6 593.4 598.2M590.0 602.5 591.0 603.0 592.6 602.9 594.1 602.3 595.1 601.6 595.2 601.3M591.8 605.7 592.9 606.1 594.5 606.0 596.0 605.4 596.9 604.7 596.9 604.4M593.7 608.9 594.8 609.3 596.4 609.0 597.9 608.4 598.7 607.8 598.7 607.5M595.5 612.0 596.7 612.4 598.3 612.1 599.8 611.5 600.6 610.9 600.5 610.6M597.4 615.2 598.6 615.5 600.2 615.2 601.7 614.6 602.4 614.0 602.2 613.7M599.2 618.4 600.5 618.6 602.2 618.3 603.5 617.7 604.2 617.1 604.0 616.9M601.1 621.5 602.4 621.7 604.1 621.4 605.4 620.7 606.0 620.2 605.7 620.0M603.0 624.7 604.3 624.8 606.0 624.5 607.3 623.8 607.8 623.3 607.5 623.1M604.8 627.8 606.3 628.0 607.9 627.5 609.1 626.9 609.6 626.3 609.2 626.3M606.7 631.0 608.2 631.1 609.8 630.6 611.0 630.0 611.4 629.4 611.0 629.4M608.6 634.1 610.1 634.2 611.7 633.7 612.8 633.0 613.2 632.5 612.7 632.5M610.5 637.3 612.0 637.3" fill="none" stroke="#d83020" stroke-width="1.8" stroke-linecap="round" stroke-linejoin="round" opacity="1.0"/><path d="M588.0 572.2 587.2 572.3 585.6 573.2 584.0 574.7 583.1 576.3 583.3 577.7M590.1 576.0 589.1 576.3 587.4 577.3 585.9 578.8 585.1 580.5 585.6 581.7M592.1 579.9 590.9 580.2 589.3 581.3 587.8 582.9 587.3 584.6 587.9 585.7M594.1 583.7 592.8 584.2 591.1 585.4 589.8 587.1 589.4 588.6 590.3 589.7M596.1 587.6 594.7 588.2" fill="none" stroke="#9c7021" stroke-width="0.9" stroke-linecap="round" stroke-linejoin="round" opacity="1.0"/><path d="M581.0 573.7 582.2 574.4 584.2 574.4 586.3 573.7 587.7 572.8 588.0 572.2M583.3 577.7 584.7 578.3 586.7 578.2 588.7 577.4 590.0 576.6 590.1 576.0M585.6 581.7 587.1 582.2 589.2 581.9 591.1 581.1 592.2 580.3 592.1 579.9M587.9 585.7 589.6 586.0 591.7 585.7 593.5 584.8 594.4 584.0 594.1 583.7M590.3 589.7 592.1 589.9 594.2 589.4 595.9 588.5 596.6 587.8 596.1 587.6" fill="none" stroke="#e0a030" stroke-width="2.2" stroke-linecap="round" stroke-linejoin="round" opacity="1.0"/><path d="M583.0 572.0 Q580.0 568.0 582.0 567.0 Q584.0 566.0 587.0 567.5 L590.0 569.0" fill="none" stroke="#e0a030" stroke-width="1.1" stroke-linecap="round" opacity="1.0"/><path d="M628.2 546.4 627.6 546.4 626.5 547.1 625.3 548.2 624.5 549.5 624.6 550.6M630.0 549.7 629.5 549.8 628.3 550.4 627.1 551.6 626.3 552.8 626.4 553.9M631.9 553.1 631.3 553.1 630.1 553.8 628.9 554.9 628.2 556.2 628.3 557.3M633.7 556.4 633.1 556.5 631.9 557.1 630.7 558.3 630.0 559.5 630.1 560.6M635.5 559.7 634.9 559.8 633.7 560.5 632.5 561.6 631.8 562.9 632.0 564.0M637.4 563.0 636.7 563.1 635.6 563.8 634.4 565.0 633.7 566.2 633.8 567.3M639.2 566.3 638.5 566.5 637.4 567.2 636.2 568.3 635.5 569.6 635.6 570.7M641.0 569.7 640.4 569.8 639.2 570.5 638.0 571.7 637.3 572.9 637.5 574.0M642.8 573.0 642.2 573.1 641.0 573.8" fill="none" stroke="#973d21" stroke-width="0.8" stroke-linecap="round" stroke-linejoin="round" opacity="1.0"/><path d="M622.7 547.3 623.6 547.9 625.1 547.9 626.7 547.5 627.9 546.8 628.2 546.4M624.6 550.6 625.5 551.2 627.0 551.2 628.6 550.8 629.7 550.2 630.0 549.7M626.4 553.9 627.4 554.6 628.9 554.6 630.5 554.1 631.6 553.5 631.9 553.1M628.3 557.3 629.2 557.9 630.7 557.9 632.3 557.4 633.4 556.8 633.7 556.4M630.1 560.6 631.1 561.2 632.6 561.2 634.2 560.7 635.3 560.1 635.5 559.7M632.0 564.0 632.9 564.5 634.5 564.5 636.0 564.1 637.1 563.4 637.4 563.0M633.8 567.3 634.8 567.9 636.3 567.9 637.9 567.4 639.0 566.7 639.2 566.3M635.6 570.7 636.7 571.2 638.2 571.2 639.8 570.7 640.8 570.1 641.0 569.7M637.5 574.0 638.5 574.5 640.1 574.5 641.6 574.0 642.7 573.4 642.8 573.0" fill="none" stroke="#d85830" stroke-width="1.8" stroke-linecap="round" stroke-linejoin="round" opacity="1.0"/><path d="M641.0 575.0 Q645.0 580.0 645.5 582.5 L646.0 585.0" fill="none" stroke="#e0a060" stroke-width="0.9" stroke-linecap="round" opacity="1.0"/><path d="M598.0 566.0 L603.0 556.0 L610.0 552.0" fill="none" stroke="#1a38c8" stroke-width="2.2" stroke-linejoin="round"/><path d="M612.6 550.5 L611.4 554.5 L608.6 549.5Z" fill="#1a38c8"/><path d="M600.0 570.0 L606.0 560.0 L613.0 558.0" fill="none" stroke="#2048d0" stroke-width="2.0" stroke-linejoin="round"/><path d="M615.9 557.2 L613.7 560.5 L612.3 555.5Z" fill="#2048d0"/><path d="M599.5 553.5 Q599.2 555.6 600.6 555.7 Q601.9 555.8 600.2 556.5 L598.5 557.2" fill="none" stroke="#3050e0" stroke-width="1.1" stroke-linecap="round" opacity="0.9"/><path d="M611.0 559.4 Q610.9 560.3 611.6 561.3 Q612.4 562.3 612.3 563.0 L612.1 563.6" fill="none" stroke="#3050e0" stroke-width="1.1" stroke-linecap="round" opacity="0.9"/><path d="M607.1 557.5 Q607.0 556.5 605.8 557.0 Q604.6 557.5 606.0 558.7 L607.3 559.9" fill="none" stroke="#2040d0" stroke-width="1.1" stroke-linecap="round" opacity="0.9"/><path d="M600.0 553.3 Q602.2 554.8 602.8 553.6 Q603.3 552.4 604.1 553.6 L604.9 554.8" fill="none" stroke="#2040d0" stroke-width="1.1" stroke-linecap="round" opacity="0.9"/><path d="M600.7 552.2 Q601.5 553.8 600.2 554.8 Q598.8 555.8 600.5 556.3 L602.3 556.8" fill="none" stroke="#2040d0" stroke-width="1.1" stroke-linecap="round" opacity="0.9"/><path d="M618.2 564.6 617.8 564.1 616.6 563.7 615.0 563.4 613.6 563.7 612.9 564.4M616.9 567.8 616.4 567.3 615.2 566.8 613.6 566.6 612.2 566.9 611.5 567.7" fill="none" stroke="#166497" stroke-width="0.77" stroke-linecap="round" stroke-linejoin="round" opacity="1.0"/><path d="M614.2 561.1 614.3 562.1 615.2 563.3 616.6 564.2 617.7 564.6 618.2 564.6M612.9 564.4 613.1 565.5 614.0 566.6 615.4 567.5 616.5 567.9 616.9 567.8M611.5 567.7 611.8 568.8 612.9 569.9 614.2 570.8 615.3 571.1" fill="none" stroke="#2090d8" stroke-width="1.89" stroke-linecap="round" stroke-linejoin="round" opacity="1.0"/><path d="M616.6 567.4 616.0 567.5 615.0 568.4 614.0 569.7 613.6 571.0 613.9 572.0M618.8 570.1 618.2 570.3 617.1 571.2 616.2 572.5 615.8 573.8 616.2 574.8M621.0 572.7 620.3 573.0 619.2 574.0 618.3 575.3 618.0 576.6 618.5 577.5M623.1 575.4 622.4 575.8 621.4 576.8 620.5 578.1 620.3 579.4" fill="none" stroke="#166497" stroke-width="0.77" stroke-linecap="round" stroke-linejoin="round" opacity="1.0"/><path d="M611.6 569.3 612.6 569.7 614.0 569.4 615.5 568.7 616.4 567.9 616.6 567.4M613.9 572.0 614.9 572.4 616.4 572.0 617.8 571.3 618.7 570.5 618.8 570.1M616.2 574.8 617.3 575.1 618.8 574.7 620.1 573.9 621.0 573.1 621.0 572.7M618.5 577.5 619.7 577.7 621.2 577.3 622.5 576.5 623.2 575.7 623.1 575.4" fill="none" stroke="#2090d8" stroke-width="1.89" stroke-linecap="round" stroke-linejoin="round" opacity="1.0"/><path d="M615.9 570.4 615.5 570.8 614.9 572.0 614.6 573.6 614.8 575.0 615.5 575.8M619.0 571.9 618.6 572.4 618.0 573.6 617.8 575.2 618.0 576.6 618.8 577.2M622.2 573.3 621.7 573.9 621.2 575.2 621.0 576.8 621.3 578.1 622.1 578.7" fill="none" stroke="#21759c" stroke-width="0.77" stroke-linecap="round" stroke-linejoin="round" opacity="1.0"/><path d="M612.3 574.3 613.3 574.3 614.5 573.4 615.5 572.1 615.9 570.9 615.9 570.4M615.5 575.8 616.6 575.6 617.8 574.7 618.7 573.4 619.1 572.3 619.0 571.9M618.8 577.2 619.9 577.0 621.1 576.0 622.0 574.6 622.3 573.6 622.2 573.3M622.1 578.7 623.2 578.3 624.4 577.2 625.2 575.9 625.5 574.9 625.3 574.7" fill="none" stroke="#30a8e0" stroke-width="1.89" stroke-linecap="round" stroke-linejoin="round" opacity="1.0"/><path d="M618.0 563.8 617.4 563.8 616.2 564.4 614.9 565.5 614.2 566.7 614.4 567.8M619.5 566.9 618.7 567.0 617.4 567.8 616.3 568.9 615.7 570.1 616.1 571.0M620.9 570.0 620.0 570.2 618.7 571.1 617.6 572.3 617.3 573.4 617.8 574.3M622.3 573.1 621.3 573.5 620.0 574.4 619.0 575.6 618.9 576.8 619.6 577.5" fill="none" stroke="#166497" stroke-width="0.77" stroke-linecap="round" stroke-linejoin="round" opacity="1.0"/><path d="M612.7 564.5 613.6 565.1 615.1 565.2 616.7 564.8 617.8 564.2 618.0 563.8M614.4 567.8 615.4 568.3 617.0 568.2 618.5 567.8 619.4 567.2 619.5 566.9M616.1 571.0 617.3 571.4 618.8 571.3 620.3 570.8 621.1 570.2 620.9 570.0M617.8 574.3 619.1 574.6 620.7 574.3 622.1 573.8 622.7 573.2 622.3 573.1M619.6 577.5 621.0 577.7" fill="none" stroke="#2090d8" stroke-width="1.89" stroke-linecap="round" stroke-linejoin="round" opacity="1.0"/><path d="M598.6 575.0 598.1 574.6 596.8 574.3 595.2 574.4 593.9 574.8 593.3 575.7M597.9 578.3 597.3 578.0 595.9 577.7 594.3 577.8 593.0 578.3 592.5 579.2M597.1 581.7 596.4 581.3 595.0 581.1 593.4 581.2 592.2 581.8 591.8 582.7M596.3 585.0 595.5 584.7 594.1 584.5 592.5 584.7 591.3 585.3 591.1 586.2" fill="none" stroke="#21809c" stroke-width="0.77" stroke-linecap="round" stroke-linejoin="round" opacity="1.0"/><path d="M594.1 572.2 594.3 573.2 595.4 574.2 596.9 574.9 598.1 575.1 598.6 575.0M593.3 575.7 593.7 576.7 594.8 577.7 596.3 578.3 597.5 578.5 597.9 578.3M592.5 579.2 593.0 580.3 594.3 581.2 595.7 581.8 596.8 581.9 597.1 581.7M591.8 582.7 592.4 583.8 593.7 584.7 595.1 585.2 596.2 585.3 596.3 585.0M591.1 586.2 591.8 587.3 593.1 588.1" fill="none" stroke="#30b8e0" stroke-width="1.89" stroke-linecap="round" stroke-linejoin="round" opacity="1.0"/><path d="M609.4 580.1 609.0 579.7 607.7 579.2 606.1 579.0 604.7 579.3 604.0 580.1M608.1 583.3 607.5 582.8 606.1 582.4 604.5 582.3 603.2 582.6 602.7 583.5M606.8 586.5 606.0 586.0 604.5 585.6 602.9 585.5 601.8 586.0 601.4 586.9" fill="none" stroke="#168691" stroke-width="0.77" stroke-linecap="round" stroke-linejoin="round" opacity="1.0"/><path d="M605.4 576.7 605.5 577.8 606.4 578.9 607.8 579.8 608.9 580.2 609.4 580.1M604.0 580.1 604.3 581.2 605.4 582.3 606.7 583.1 607.8 583.5 608.1 583.3M602.7 583.5 603.2 584.6 604.3 585.7 605.7 586.5 606.6 586.7 606.8 586.5" fill="none" stroke="#20c0d0" stroke-width="1.89" stroke-linecap="round" stroke-linejoin="round" opacity="1.0"/><path d="M599.2 581.7 598.6 581.4 597.2 581.4 595.6 581.8 594.4 582.5 594.1 583.5M598.9 585.1 598.0 584.8 596.5 584.9 594.9 585.4 594.0 586.3 594.1 587.3M598.6 588.4 597.4 588.3" fill="none" stroke="#168691" stroke-width="0.77" stroke-linecap="round" stroke-linejoin="round" opacity="1.0"/><path d="M594.3 579.7 594.8 580.7 596.0 581.5 597.6 581.9 598.9 581.9 599.2 581.7M594.1 583.5 594.9 584.5 596.3 585.1 597.9 585.4 598.9 585.3 598.9 585.1M594.1 587.3 595.1 588.2 596.7 588.7 598.1 588.9 598.8 588.7 598.6 588.4" fill="none" stroke="#20c0d0" stroke-width="1.89" stroke-linecap="round" stroke-linejoin="round" opacity="1.0"/><path d="M626.9 586.1 Q625.2 582.4 621.6 581.6 Q618.0 580.8 618.6 578.5 L619.1 576.2" fill="none" stroke="#90d040" stroke-width="0.8" stroke-linecap="round" opacity="0.9"/><path d="M608.2 594.5 Q607.9 592.8 610.1 590.4 Q612.3 588.1 614.0 585.8 L615.7 583.6" fill="none" stroke="#a0d860" stroke-width="0.8" stroke-linecap="round" opacity="0.9"/><path d="M623.5 578.7 Q629.7 578.6 627.5 579.6 Q625.3 580.6 624.4 582.3 L623.5 584.0" fill="none" stroke="#60c870" stroke-width="0.8" stroke-linecap="round" opacity="0.9"/><path d="M624.9 584.6 Q628.2 583.1 626.7 583.8 Q625.2 584.5 628.6 583.8 L632.1 583.1" fill="none" stroke="#a0d860" stroke-width="0.8" stroke-linecap="round" opacity="0.9"/><path d="M623.2 584.9 Q617.2 580.2 614.9 577.9 Q612.7 575.6 615.6 575.5 L618.5 575.4" fill="none" stroke="#90d040" stroke-width="0.8" stroke-linecap="round" opacity="0.9"/><path d="M610.0 595.7 Q616.3 593.9 616.1 592.4 Q615.8 590.8 616.9 588.7 L618.1 586.6" fill="none" stroke="#90d040" stroke-width="0.8" stroke-linecap="round" opacity="0.9"/><path d="M605.6 582.1 Q602.2 578.7 600.6 577.4 Q599.0 576.0 598.9 573.7 L598.8 571.4" fill="none" stroke="#80d050" stroke-width="0.8" stroke-linecap="round" opacity="0.9"/><path d="M621.6 590.5 Q621.2 594.9 618.3 595.8 Q615.5 596.6 613.9 597.5 L612.3 598.4" fill="none" stroke="#a0d860" stroke-width="0.8" stroke-linecap="round" opacity="0.9"/><path d="M622.4 588.5 Q624.8 589.7 627.9 590.7 Q631.0 591.7 632.3 590.2 L633.7 588.6" fill="none" stroke="#90d040" stroke-width="0.8" stroke-linecap="round" opacity="0.9"/><path d="M605.9 581.8 Q608.5 586.2 609.6 585.9 Q610.7 585.5 614.2 583.1 L617.8 580.6" fill="none" stroke="#90d040" stroke-width="0.8" stroke-linecap="round" opacity="0.9"/><path d="M606.1 577.7 Q611.1 581.0 611.6 583.2 Q612.1 585.4 613.7 584.1 L615.4 582.8" fill="none" stroke="#90d040" stroke-width="0.8" stroke-linecap="round" opacity="0.9"/><path d="M602.6 581.9 Q595.9 580.8 592.6 579.6 Q589.3 578.4 588.6 577.4 L587.9 576.5" fill="none" stroke="#a0d860" stroke-width="0.8" stroke-linecap="round" opacity="0.9"/><path d="M606.4 587.2 Q604.9 587.5 601.8 586.6 Q598.7 585.6 595.7 585.8 L592.8 586.0" fill="none" stroke="#a0d860" stroke-width="0.8" stroke-linecap="round" opacity="0.9"/><path d="M619.7 585.8 Q617.6 585.1 619.6 585.2 Q621.6 585.3 618.9 582.8 L616.1 580.4" fill="none" stroke="#a0d860" stroke-width="0.8" stroke-linecap="round" opacity="0.9"/><path d="M617.6 579.8 Q617.4 582.6 615.6 582.1 Q613.8 581.6 611.1 581.8 L608.3 582.0" fill="none" stroke="#90d040" stroke-width="0.8" stroke-linecap="round" opacity="0.9"/><path d="M630.0 590.3 Q626.7 590.3 624.8 591.3 Q622.9 592.3 625.1 594.2 L627.3 596.1" fill="none" stroke="#60c870" stroke-width="0.8" stroke-linecap="round" opacity="0.9"/><path d="M609.4 588.8 609.2 589.3 609.2 590.6 609.5 592.2 610.3 593.4 611.2 593.8M612.9 588.8 612.6 589.4 612.7 590.7 613.1 592.3 613.8 593.5 614.8 593.8M616.3 588.8 616.1 589.4 616.2 590.8 616.6 592.4 617.4 593.5 618.3 593.8" fill="none" stroke="#4e9138" stroke-width="0.7150000000000001" stroke-linecap="round" stroke-linejoin="round" opacity="1.0"/><path d="M607.7 593.8 608.6 593.3 609.3 592.1 609.7 590.5 609.7 589.2 609.4 588.8M611.2 593.8 612.2 593.3 612.9 592.0 613.2 590.4 613.1 589.2 612.9 588.8M614.8 593.8 615.7 593.2 616.4 591.9 616.7 590.3 616.6 589.1 616.3 588.8M618.3 593.8 619.2 593.1" fill="none" stroke="#70d050" stroke-width="1.7550000000000001" stroke-linecap="round" stroke-linejoin="round" opacity="1.0"/><path d="M623.8 585.2 623.7 584.5 622.9 583.4 621.7 582.3 620.4 581.7 619.5 582.0M620.9 587.0 620.7 586.2 619.8 585.1 618.6 584.0 617.3 583.6 616.4 584.1M618.0 588.8 617.6 587.9 616.7 586.7 615.4 585.8 614.2 585.5 613.4 586.1M615.1 590.6 614.6 589.6 613.5 588.4 612.2 587.6 611.0 587.5 610.4 588.3" fill="none" stroke="#4e9138" stroke-width="0.7150000000000001" stroke-linecap="round" stroke-linejoin="round" opacity="1.0"/><path d="M622.5 580.0 622.0 580.9 622.1 582.4 622.7 583.9 623.4 585.0 623.8 585.2M619.5 582.0 619.0 583.1 619.3 584.6 619.9 586.1 620.6 587.0 620.9 587.0M616.4 584.1 616.1 585.3 616.5 586.8 617.1 588.2 617.8 588.9 618.0 588.8M613.4 586.1 613.2 587.5 613.6 589.0 614.4 590.3 615.0 590.9 615.1 590.6M610.4 588.3 610.4 589.7" fill="none" stroke="#70d050" stroke-width="1.7550000000000001" stroke-linecap="round" stroke-linejoin="round" opacity="1.0"/><path d="M619.1 583.8 618.6 584.0 617.6 584.8 616.7 586.2 616.3 587.5 616.6 588.5M621.4 586.4 620.8 586.6 619.9 587.5 619.0 588.9 618.6 590.2 619.0 591.2M623.7 589.0 623.1 589.3 622.1 590.2 621.2 591.6 620.9 592.9 621.3 593.8M626.0 591.6 625.4 591.9 624.4 592.9 623.5 594.3 623.2 595.6 623.7 596.4M628.3 594.2 627.6 594.5" fill="none" stroke="#64912c" stroke-width="0.7150000000000001" stroke-linecap="round" stroke-linejoin="round" opacity="1.0"/><path d="M614.2 585.9 615.2 586.3 616.6 586.0 618.0 585.2 619.0 584.3 619.1 583.8M616.6 588.5 617.6 588.9 619.1 588.5 620.4 587.7 621.3 586.9 621.4 586.4M619.0 591.2 620.0 591.5 621.5 591.1 622.8 590.2 623.7 589.4 623.7 589.0M621.3 593.8 622.5 594.0 623.9 593.6 625.2 592.8 626.0 591.9 626.0 591.6M623.7 596.4 624.9 596.6 626.3 596.1 627.6 595.3 628.4 594.5 628.3 594.2" fill="none" stroke="#90d040" stroke-width="1.7550000000000001" stroke-linecap="round" stroke-linejoin="round" opacity="1.0"/><path d="M617.8 580.2 617.1 580.5 616.0 581.3 615.0 582.6 614.5 583.9 615.0 584.8M619.7 583.1 618.8 583.5 617.6 584.6 616.7 585.9 616.6 587.2 617.3 587.9M621.4 586.0 620.3 586.7" fill="none" stroke="#64912c" stroke-width="0.7150000000000001" stroke-linecap="round" stroke-linejoin="round" opacity="1.0"/><path d="M612.7 581.7 613.7 582.2 615.2 582.1 616.7 581.4 617.7 580.7 617.8 580.2M615.0 584.8 616.2 585.1 617.8 584.7 619.1 584.0 619.8 583.3 619.7 583.1M617.3 587.9 618.7 587.9 620.3 587.4 621.5 586.6 621.9 586.0 621.4 586.0" fill="none" stroke="#90d040" stroke-width="1.7550000000000001" stroke-linecap="round" stroke-linejoin="round" opacity="1.0"/><path d="M614.7 579.9 614.4 580.4 614.1 581.8 614.2 583.4 614.8 584.7 615.7 585.2M618.1 580.6 617.7 581.4 617.5 582.8 617.7 584.4 618.4 585.6 619.3 585.9M621.4 581.4 621.1 582.3 621.0 583.8 621.2 585.4 621.9 586.4 622.9 586.5M624.8 582.2 624.4 583.3 624.4 584.9 624.8 586.4 625.5 587.2 626.6 587.1" fill="none" stroke="#388c4e" stroke-width="0.7150000000000001" stroke-linecap="round" stroke-linejoin="round" opacity="1.0"/><path d="M612.1 584.5 613.1 584.2 614.1 583.1 614.7 581.6 614.9 580.3 614.7 579.9M615.7 585.2 616.7 584.7 617.6 583.4 618.2 582.0 618.3 580.9 618.1 580.6M619.3 585.9 620.3 585.2 621.2 583.8 621.7 582.4 621.7 581.4 621.4 581.4M622.9 586.5 624.0 585.6 624.7 584.2 625.1 582.8 625.1 582.0 624.8 582.2M626.6 587.1 627.6 586.0 628.3 584.6 628.5 583.3 628.4 582.7" fill="none" stroke="#50c870" stroke-width="1.7550000000000001" stroke-linecap="round" stroke-linejoin="round" opacity="1.0"/><path d="M611.3 582.8 611.5 582.2 611.3 580.9 610.8 579.4 609.9 578.3 608.9 578.0M607.9 583.1 608.0 582.4 607.8 581.0 607.2 579.5 606.3 578.5 605.3 578.4M604.4 583.4 604.5 582.6 604.3 581.1 603.6 579.6 602.7 578.7 601.7 578.8M601.0 583.7 601.1 582.7 600.7 581.2 600.0 579.8 599.0 579.0 598.1 579.3M597.6 583.9 597.6 582.8" fill="none" stroke="#64912c" stroke-width="0.7150000000000001" stroke-linecap="round" stroke-linejoin="round" opacity="1.0"/><path d="M612.5 577.7 611.6 578.2 611.0 579.6 610.8 581.2 611.0 582.4 611.3 582.8M608.9 578.0 608.0 578.8 607.5 580.2 607.4 581.8 607.6 582.9 607.9 583.1M605.3 578.4 604.5 579.3 604.0 580.8 603.9 582.3 604.2 583.3 604.4 583.4M601.7 578.8 600.9 579.8 600.5 581.4 600.5 582.9 600.7 583.8 601.0 583.7M598.1 579.3 597.3 580.4 597.0 582.0 597.1 583.4 597.3 584.1 597.6 583.9" fill="none" stroke="#90d040" stroke-width="1.7550000000000001" stroke-linecap="round" stroke-linejoin="round" opacity="1.0"/><path d="M644.0 617.7 643.6 617.3 642.2 616.8 640.5 616.6 639.0 616.9 638.2 617.8M642.7 621.2 642.1 620.8 640.7 620.3 639.0 620.2 637.5 620.5 636.9 621.5M641.4 624.7 640.7 624.2 639.2 623.8" fill="none" stroke="#167b86" stroke-width="0.8800000000000001" stroke-linecap="round" stroke-linejoin="round" opacity="1.0"/><path d="M639.6 614.1 639.7 615.3 640.8 616.5 642.2 617.4 643.5 617.8 644.0 617.7M638.2 617.8 638.5 619.0 639.6 620.1 641.1 621.0 642.3 621.4 642.7 621.2M636.9 621.5 637.3 622.7 638.5 623.8 640.0 624.6 641.1 624.9 641.4 624.7" fill="none" stroke="#20b0c0" stroke-width="2.16" stroke-linecap="round" stroke-linejoin="round" opacity="1.0"/><path d="M622.4 599.6 621.7 599.6 620.4 600.3 619.1 601.4 618.3 602.8 618.5 603.9M624.0 602.9 623.1 603.1 621.7 603.9 620.5 605.1 619.9 606.4 620.3 607.4" fill="none" stroke="#2c864e" stroke-width="0.8800000000000001" stroke-linecap="round" stroke-linejoin="round" opacity="1.0"/><path d="M616.7 600.3 617.7 601.0 619.3 601.1 621.0 600.6 622.2 600.0 622.4 599.6M618.5 603.9 619.6 604.4 621.3 604.4 622.9 603.9 623.9 603.3 624.0 602.9M620.3 607.4 621.5 607.9 623.3 607.7 624.8 607.2 625.7 606.6 625.5 606.3" fill="none" stroke="#40c070" stroke-width="2.16" stroke-linecap="round" stroke-linejoin="round" opacity="1.0"/><path d="M635.7 611.0 635.3 611.4 634.9 612.8 634.8 614.5 635.2 616.0 636.0 616.8M639.3 612.1 638.9 612.6 638.5 614.0 638.4 615.8 638.8 617.2 639.7 617.9M642.9 613.2 642.4 613.8 642.1 615.3 642.0 617.0 642.5 618.4 643.4 619.0" fill="none" stroke="#123897" stroke-width="0.8800000000000001" stroke-linecap="round" stroke-linejoin="round" opacity="1.0"/><path d="M632.3 615.6 633.5 615.4 634.6 614.3 635.5 612.8 635.9 611.5 635.7 611.0M636.0 616.8 637.2 616.5 638.3 615.3 639.1 613.8 639.5 612.6 639.3 612.1M639.7 617.9 640.9 617.5 642.0 616.3 642.8 614.8 643.1 613.6 642.9 613.2M643.4 619.0 644.6 618.6 645.7 617.3 646.4 615.8 646.7 614.6 646.5 614.3" fill="none" stroke="#1a50d8" stroke-width="2.16" stroke-linecap="round" stroke-linejoin="round" opacity="1.0"/><path d="M639.4 601.3 639.2 600.6 638.1 599.5 636.6 598.6 635.2 598.2 634.2 598.7M636.7 603.7 636.2 602.9 635.0 601.8 633.5 601.0 632.1 600.8 631.3 601.5M633.8 606.1 633.2 605.2 631.9 604.1 630.4 603.4 629.0 603.4 628.4 604.3" fill="none" stroke="#167b86" stroke-width="0.8800000000000001" stroke-linecap="round" stroke-linejoin="round" opacity="1.0"/><path d="M637.1 596.0 636.7 597.1 637.1 598.7 638.0 600.2 638.9 601.1 639.4 601.3M634.2 598.7 634.0 600.0 634.5 601.6 635.4 603.0 636.3 603.8 636.7 603.7M631.3 601.5 631.2 602.9 631.9 604.5 632.9 605.8 633.7 606.4 633.8 606.1M628.4 604.3 628.5 605.8 629.3 607.4" fill="none" stroke="#20b0c0" stroke-width="2.16" stroke-linecap="round" stroke-linejoin="round" opacity="1.0"/><path d="M626.1 607.4 626.2 606.8 625.8 605.4 624.9 603.9 623.8 602.8 622.7 602.7M622.5 608.4 622.5 607.6 622.0 606.2 621.1 604.7 620.0 603.7 618.9 603.8M618.9 609.3 618.8 608.5 618.3 607.0 617.4 605.5 616.2 604.7 615.1 604.9" fill="none" stroke="#167b86" stroke-width="0.8800000000000001" stroke-linecap="round" stroke-linejoin="round" opacity="1.0"/><path d="M626.4 601.7 625.6 602.5 625.2 604.0 625.3 605.8 625.7 607.1 626.1 607.4M622.7 602.7 621.9 603.6 621.6 605.3 621.7 607.0 622.1 608.2 622.5 608.4M618.9 603.8 618.2 604.8 617.9 606.5 618.1 608.2 618.5 609.3 618.9 609.3M615.1 604.9 614.5 606.0 614.3 607.7 614.5 609.4" fill="none" stroke="#20b0c0" stroke-width="2.16" stroke-linecap="round" stroke-linejoin="round" opacity="1.0"/><path d="M626.3 598.9 625.9 598.4 624.6 597.6 622.9 597.2 621.4 597.2 620.5 598.0M624.4 602.1 623.8 601.5 622.4 600.8 620.7 600.4 619.2 600.6 618.6 601.4" fill="none" stroke="#167b86" stroke-width="0.8800000000000001" stroke-linecap="round" stroke-linejoin="round" opacity="1.0"/><path d="M622.5 594.5 622.5 595.7 623.3 597.1 624.6 598.3 625.8 598.9 626.3 598.9M620.5 598.0 620.7 599.2 621.6 600.6 622.9 601.7 624.0 602.2 624.4 602.1M618.6 601.4 618.9 602.7 620.0 604.1 621.3 605.1 622.3 605.5 622.5 605.2" fill="none" stroke="#20b0c0" stroke-width="2.16" stroke-linecap="round" stroke-linejoin="round" opacity="1.0"/><path d="M638.2 607.5 637.7 608.1 637.3 609.5 637.2 611.2 637.6 612.7 638.5 613.4M641.7 608.8 641.2 609.5 640.8 611.0 640.8 612.8 641.3 614.1 642.3 614.6M645.2 610.0 644.7 610.9 644.3 612.5 644.4 614.3 645.0 615.5 646.0 615.8M648.7 611.3 648.2 612.4 647.9 614.1 648.1 615.8 648.7 616.8 649.8 616.9" fill="none" stroke="#167b86" stroke-width="0.8800000000000001" stroke-linecap="round" stroke-linejoin="round" opacity="1.0"/><path d="M634.7 612.1 635.8 611.9 637.0 610.9 637.9 609.3 638.3 608.1 638.2 607.5M638.5 613.4 639.7 613.0 640.8 611.8 641.6 610.3 641.9 609.1 641.7 608.8M642.3 614.6 643.5 614.0 644.6 612.7 645.3 611.2 645.5 610.2 645.2 610.0M646.0 615.8 647.3 615.0 648.3 613.6 648.9 612.1 649.0 611.3 648.7 611.3M649.8 616.9 651.1 616.0 652.0 614.5" fill="none" stroke="#20b0c0" stroke-width="2.16" stroke-linecap="round" stroke-linejoin="round" opacity="1.0"/><path d="M629.2 600.8 628.9 601.4 628.9 602.8 629.3 604.5 630.1 605.8 631.1 606.3M632.9 600.8 632.7 601.5 632.7 602.9 633.1 604.6 633.9 605.9 635.0 606.3M636.7 600.9 636.4 601.6 636.5 603.1 636.9 604.7 637.8 606.0 638.8 606.3M640.4 600.9 640.2 601.7 640.3 603.2 640.7 604.9 641.6 606.0 642.7 606.3" fill="none" stroke="#123897" stroke-width="0.8800000000000001" stroke-linecap="round" stroke-linejoin="round" opacity="1.0"/><path d="M627.3 606.3 628.3 605.7 629.1 604.4 629.5 602.7 629.4 601.3 629.2 600.8M631.1 606.3 632.1 605.7 632.9 604.3 633.2 602.6 633.2 601.2 632.9 600.8M635.0 606.3 636.0 605.6 636.7 604.1 637.0 602.5 636.9 601.2 636.7 600.9M638.8 606.3 639.8 605.5 640.5 604.0 640.8 602.4 640.7 601.2 640.4 600.9M642.7 606.3 643.6 605.5 644.3 603.9 644.6 602.3 644.4 601.1 644.2 600.9" fill="none" stroke="#1a50d8" stroke-width="2.16" stroke-linecap="round" stroke-linejoin="round" opacity="1.0"/><path d="M632.0 614.4 631.2 614.5 629.8 615.0 628.3 616.1 627.5 617.3 627.7 618.4M633.1 617.9 632.0 618.1 630.5 618.9 629.2 620.1 628.7 621.3 629.3 622.2M634.1 621.5 632.8 621.9" fill="none" stroke="#218659" stroke-width="0.8800000000000001" stroke-linecap="round" stroke-linejoin="round" opacity="1.0"/><path d="M626.3 614.5 627.2 615.3 628.8 615.6 630.5 615.3 631.8 614.8 632.0 614.4M627.7 618.4 628.9 619.0 630.7 619.1 632.3 618.7 633.2 618.2 633.1 617.9M629.3 622.2 630.7 622.7 632.5 622.6 634.0 622.1 634.6 621.6 634.1 621.5" fill="none" stroke="#30c080" stroke-width="2.16" stroke-linecap="round" stroke-linejoin="round" opacity="1.0"/><path d="M642.4 599.9 641.8 599.6 640.4 599.5 638.7 599.8 637.3 600.6 636.8 601.6M642.2 603.6 641.5 603.3 640.0 603.3 638.3 603.7 637.0 604.5 636.7 605.5M642.0 607.3 641.1 607.1 639.6 607.1 637.9 607.5 636.7 608.4 636.5 609.4M641.7 611.0 640.8 610.8 639.2 610.9 637.5 611.4 636.5 612.2 636.4 613.3" fill="none" stroke="#123897" stroke-width="0.8800000000000001" stroke-linecap="round" stroke-linejoin="round" opacity="1.0"/><path d="M637.0 597.7 637.5 598.8 638.9 599.6 640.5 600.1 641.9 600.1 642.4 599.9M636.8 601.6 637.4 602.7 638.9 603.5 640.6 603.9 641.8 603.9 642.2 603.6M636.7 605.5 637.4 606.5 638.9 607.3 640.6 607.6 641.7 607.6 642.0 607.3M636.5 609.4 637.4 610.4 638.9 611.1 640.5 611.4 641.6 611.3 641.7 611.0M636.4 613.3 637.3 614.3" fill="none" stroke="#1a50d8" stroke-width="2.16" stroke-linecap="round" stroke-linejoin="round" opacity="1.0"/><path d="M633.6 616.1 633.4 615.4 632.6 614.2 631.3 613.0 629.9 612.4 628.8 612.7M630.5 618.1 630.2 617.2 629.2 616.0 627.8 614.9 626.5 614.5 625.5 615.0M627.3 620.0 626.9 619.1 625.8 617.8 624.4 616.8 623.1 616.6 622.3 617.3M624.1 621.9 623.6 620.9 622.4 619.6 620.9 618.7" fill="none" stroke="#16439c" stroke-width="0.8800000000000001" stroke-linecap="round" stroke-linejoin="round" opacity="1.0"/><path d="M632.1 610.5 631.6 611.5 631.7 613.1 632.3 614.8 633.1 615.9 633.6 616.1M628.8 612.7 628.4 613.9 628.7 615.6 629.4 617.1 630.1 618.1 630.5 618.1M625.5 615.0 625.2 616.3 625.6 618.0 626.4 619.5 627.1 620.2 627.3 620.0M622.3 617.3 622.1 618.7 622.6 620.4 623.4 621.8 624.0 622.3 624.1 621.9" fill="none" stroke="#2060e0" stroke-width="2.16" stroke-linecap="round" stroke-linejoin="round" opacity="1.0"/><path d="M629.6 602.6 629.1 603.0 628.5 604.3 628.1 606.0 628.3 607.5 629.0 608.4M633.0 604.3 632.5 604.7 631.9 606.0 631.5 607.7 631.7 609.3 632.5 610.1M636.3 605.9 635.8 606.4 635.2 607.8 634.9 609.5 635.1 611.0 635.9 611.7M639.7 607.5 639.2 608.1 638.6 609.5 638.3 611.2 638.6 612.7 639.4 613.4" fill="none" stroke="#167b86" stroke-width="0.8800000000000001" stroke-linecap="round" stroke-linejoin="round" opacity="1.0"/><path d="M625.5 606.7 626.7 606.7 628.0 605.8 629.1 604.4 629.6 603.2 629.6 602.6M629.0 608.4 630.2 608.3 631.5 607.4 632.5 606.0 633.0 604.8 633.0 604.3M632.5 610.1 633.6 609.9 634.9 608.9 636.0 607.5 636.4 606.3 636.3 605.9M635.9 611.7 637.1 611.5 638.4 610.5 639.4 609.1 639.9 607.9 639.7 607.5M639.4 613.4 640.6 613.1 641.9 612.0 642.8 610.6" fill="none" stroke="#20b0c0" stroke-width="2.16" stroke-linecap="round" stroke-linejoin="round" opacity="1.0"/><path d="M620.0 600.0 L630.0 606.0 L638.0 616.0" fill="none" stroke="#1a50d8" stroke-width="2.4" stroke-linejoin="round"/><path d="M639.9 618.3 L635.6 617.9 L640.4 614.1Z" fill="#1a50d8"/><path d="M618.0 606.0 L628.0 612.0 L634.0 622.0" fill="none" stroke="#2060e0" stroke-width="2.2" stroke-linejoin="round"/><path d="M635.5 624.6 L631.5 623.5 L636.5 620.5Z" fill="#2060e0"/><path d="M650.2 585.7 649.6 585.5 648.1 585.7 646.3 586.3 645.0 587.4 644.6 588.6M650.8 589.8 650.1 589.6 648.6 589.8 646.8 590.5 645.5 591.6 645.1 592.8M651.3 594.0 650.7 593.8 649.1 594.0 647.3 594.7 646.0 595.8 645.7 597.0M651.9 598.2 651.2 598.0 649.6 598.2 647.8 598.9 646.5 600.0 646.2 601.2M652.4 602.3 651.7 602.1 650.1 602.4 648.3 603.1 647.1 604.2 646.8 605.4M653.0 606.5 652.2 606.3 650.6 606.6 648.8 607.3 647.6 608.4 647.4 609.6M653.5 610.6 652.7 610.5 651.1 610.7 649.3 611.5 648.1 612.6 647.9 613.8M654.0 614.8 653.2 614.6 651.6 614.9 649.8 615.7 648.6 616.8 648.5 618.0M654.6 618.9 653.7 618.8 652.1 619.1 650.3 619.9 649.2 621.0 649.0 622.2" fill="none" stroke="#9c7021" stroke-width="0.9" stroke-linecap="round" stroke-linejoin="round" opacity="1.0"/><path d="M644.0 584.4 644.7 585.4 646.3 586.1 648.2 586.3 649.7 586.0 650.2 585.7M644.6 588.6 645.3 589.6 647.0 590.3 648.8 590.4 650.3 590.2 650.8 589.8M645.1 592.8 645.9 593.8 647.6 594.4 649.4 594.6 650.9 594.4 651.3 594.0M645.7 597.0 646.5 598.0 648.2 598.6 650.0 598.7 651.5 598.5 651.9 598.2M646.2 601.2 647.1 602.2 648.8 602.8 650.6 602.9 652.0 602.7 652.4 602.3M646.8 605.4 647.7 606.4 649.4 607.0 651.2 607.1 652.6 606.8 653.0 606.5M647.4 609.6 648.3 610.6 650.0 611.1 651.8 611.2 653.2 611.0 653.5 610.6M647.9 613.8 648.8 614.7 650.6 615.3 652.4 615.4 653.8 615.1 654.0 614.8M648.5 618.0 649.4 618.9 651.2 619.5 653.0 619.6 654.3 619.3 654.6 618.9M649.0 622.2 650.0 623.1" fill="none" stroke="#e0a030" stroke-width="2.0" stroke-linecap="round" stroke-linejoin="round" opacity="1.0"/><path d="M652.0 622.0 Q646.0 624.0 643.0 622.5 L640.0 621.0" fill="none" stroke="#e0a030" stroke-width="1.0" stroke-linecap="round" opacity="1.0"/><ellipse cx="620.2" cy="592" rx="54.7" ry="51" fill="none" stroke="#b8409a" stroke-width="2.1"/><ellipse cx="434.2" cy="572" rx="54.4" ry="51" fill="none" stroke="#98c46c" stroke-width="2"/><path d="M422.6 532.8L419.3 526.5M422.6 532.8L428.6 529.6M422.6 532.8L416 535.5M422.6 532.8L424.8 539.4M424.8 539.4L433.2 539.4M433.2 539.4L437.2 534.3M437.2 534.3L444.6 535.8M444.6 535.8L447.5 541.2M447.5 541.2L443.8 547.1M443.8 547.1L435.8 546M435.8 546L433.2 539.4M443.8 547.1L446 554M446 554L441.6 559.6M441.6 559.6L435.3 558.9M441.6 559.6L444.6 566.2M444.6 566.2L451.9 568.4M451.9 568.4L452.6 575.7M452.6 575.7L446 577.9M446 577.9L441.6 572.7M441.6 572.7L444.6 566.2M441.6 572.7L434.3 574.2M434.3 574.2L431.4 580.8M431.4 580.8L435.8 585.9M435.8 585.9L443.8 584.5M443.8 584.5L446 577.9M435.8 585.9L434.3 592.5M434.3 592.5L438.7 599.1M438.7 599.1L434.3 605M434.3 605L427 602.8M427 602.8L427 594.7M427 594.7L434.3 592.5M427 594.7L421.1 590.3M421.1 590.3L422.8 585.5M421.1 590.3L415 594.7M415 594.7L415 601.3M415 601.3L421.1 606.4M421.1 606.4L427 602.8M434.3 605L436.5 610.8M436.5 610.8L442 613" stroke="#55555c" stroke-width="0.85" fill="none"/><path d="M437.9 535.7L443.7 536.9M445.9 541.1L443.0 545.7M436.8 544.8L434.8 539.7M435.5 575.6L433.2 580.7M436.6 584.7L442.9 583.6M444.6 578.4L441.2 574.4M434.2 593.9L437.7 599.1M418.6 594.0L418.6 599.2M423.4 603.2L428.0 600.4" stroke="#55555c" stroke-width="0.7" fill="none"/><path d="M441 561.2L435.5 560.6" stroke="#d04050" stroke-width="0.7"/><g font-family="Liberation Sans, Arial, sans-serif" font-size="3.6" fill="#d04050" text-anchor="middle"><text x="419.3" y="527">F</text><text x="429.4" y="530.5">F</text><text x="415.3" y="537">F</text><text x="424.8" y="540.8">O</text><text x="434" y="560.3">O</text></g><g font-family="Liberation Sans, Arial, sans-serif" font-size="3.6" fill="#4040b0" text-anchor="middle"><text x="444.6" y="567.5">N</text><text x="423.5" y="585.5">NH₂</text><text x="414.5" y="596">N</text><text x="421.1" y="607.8">N</text><text x="434.3" y="606.3">N</text></g><text x="443" y="614.3" font-family="Liberation Sans, Arial, sans-serif" font-size="3.4" fill="#55555c">CH₃</text><text x="519.5" y="486.3" font-family="'Liberation Serif', 'Times New Roman', serif" font-size="13" fill="#1a1a1a" text-anchor="start" font-weight="normal" >Threonine-protein kinase 1</text><text x="214" y="529.6" font-family="'Liberation Serif', 'Times New Roman', serif" font-size="13" fill="#1a1a1a" text-anchor="start" font-weight="normal" >Threonine-protein kinase 4</text><text x="490.8" y="691.5" font-family="'Liberation Serif', 'Times New Roman', serif" font-size="13" fill="#1a1a1a" text-anchor="start" font-weight="normal" >Threonine-protein kinase 3</text><text x="404" y="646.3" font-family="'Liberation Serif', 'Times New Roman', serif" font-size="13" fill="#1a1a1a" text-anchor="start" font-weight="normal" >Ripk1-IN-7</text><text x="905.5" y="447" font-family="'Liberation Serif', 'Times New Roman', serif" font-size="13" fill="#1a1a1a" text-anchor="start" font-weight="normal" >Ligand</text><text x="972" y="446.5" font-family="'Liberation Serif', 'Times New Roman', serif" font-size="13" fill="#1a1a1a" text-anchor="start" font-weight="normal" >Protein</text><text x="738" y="495" font-family="'Liberation Serif', 'Times New Roman', serif" font-size="13" fill="#1a1a1a" text-anchor="start" font-weight="normal" >Annotation</text><text x="736" y="544" font-family="'Liberation Serif', 'Times New Roman', serif" font-size="13" fill="#1a1a1a" text-anchor="start" font-weight="normal" >Positive/Binding</text><text x="737" y="586.5" font-family="'Liberation Serif', 'Times New Roman', serif" font-size="13" fill="#1a1a1a" text-anchor="start" font-weight="normal" >Negative/Non-Binding</text><circle cx="928.6" cy="485.7" r="11.2" fill="#9fcf6c" stroke="#2e4858" stroke-width="1.6"/><circle cx="994.2" cy="485.7" r="11.2" fill="#ec6a82" stroke="#3c3a5e" stroke-width="1.6"/><line x1="926" y1="532.6" x2="993.7" y2="532.6" stroke="#4a6fc8" stroke-width="1.3"/><line x1="926" y1="580.4" x2="992" y2="580.4" stroke="#55607a" stroke-width="1" stroke-dasharray="3.5 2.2"/><text x="767.5" y="653" font-family="'Liberation Sans', Arial, sans-serif" font-size="13" fill="#1a1a1a" text-anchor="start" font-weight="normal" >Ligand: Ripk1-IN-7</text><text x="797" y="681" font-family="'Liberation Sans', Arial, sans-serif" font-size="12.5" fill="#1a1a1a">k<tspan font-size="7.8" dy="3">i</tspan><tspan font-size="7.8" dy="-7.5">+</tspan><tspan dy="4.5"> = 1</tspan></text><text x="797" y="696.7" font-family="'Liberation Sans', Arial, sans-serif" font-size="12.5" fill="#1a1a1a">k<tspan font-size="7.8" dy="3">i</tspan><tspan font-size="7.8" dy="-7.5">-</tspan><tspan dy="4.5"> = 2</tspan></text><text x="797" y="711.7" font-family="'Liberation Sans', Arial, sans-serif" font-size="12.5" fill="#1a1a1a">ρ<tspan font-size="7.8" dy="3">i</tspan><tspan dy="-3">  = 1/(1+2) = 0.33</tspan></text><text x="115" y="790.7" font-family="'Liberation Sans', Arial, sans-serif" font-size="18" fill="#000" text-anchor="start" font-weight="bold" >c</text><rect x="337.3" y="789.6" width="425.7" height="276.6" fill="#fff" stroke="#5a5a5a" stroke-width="1"/><text x="337.3" y="1076" font-family="'Liberation Sans', Arial, sans-serif" font-size="7" fill="#333" text-anchor="middle" font-weight="normal" >0.0</text><text x="422.4" y="1076" font-family="'Liberation Sans', Arial, sans-serif" font-size="7" fill="#333" text-anchor="middle" font-weight="normal" >0.2</text><text x="507.5" y="1076" font-family="'Liberation Sans', Arial, sans-serif" font-size="7" fill="#333" text-anchor="middle" font-weight="normal" >0.4</text><text x="592.6" y="1076" font-family="'Liberation Sans', Arial, sans-serif" font-size="7" fill="#333" text-anchor="middle" font-weight="normal" >0.6</text><text x="677.7" y="1076" font-family="'Liberation Sans', Arial, sans-serif" font-size="7" fill="#333" text-anchor="middle" font-weight="normal" >0.8</text><text x="762.8" y="1076" font-family="'Liberation Sans', Arial, sans-serif" font-size="7" fill="#333" text-anchor="middle" font-weight="normal" >1.0</text><text x="333.5" y="1056.1" font-family="'Liberation Sans', Arial, sans-serif" font-size="7" fill="#333" text-anchor="end" font-weight="normal" >0.0</text><text x="333.5" y="996.9" font-family="'Liberation Sans', Arial, sans-serif" font-size="7" fill="#333" text-anchor="end" font-weight="normal" >0.2</text><text x="333.5" y="937.7" font-family="'Liberation Sans', Arial, sans-serif" font-size="7" fill="#333" text-anchor="end" font-weight="normal" >0.4</text><text x="333.5" y="878.5" font-family="'Liberation Sans', Arial, sans-serif" font-size="7" fill="#333" text-anchor="end" font-weight="normal" >0.6</text><text x="333.5" y="819.3" font-family="'Liberation Sans', Arial, sans-serif" font-size="7" fill="#333" text-anchor="end" font-weight="normal" >0.8</text><path d="M337.3 1066.2v2.5M422.4 1066.2v2.5M507.5 1066.2v2.5M592.6 1066.2v2.5M677.7 1066.2v2.5M762.8 1066.2v2.5M337.3 1053.6h-2.5M337.3 994.4h-2.5M337.3 935.2h-2.5M337.3 876.0h-2.5M337.3 816.8h-2.5" stroke="#5a5a5a" stroke-width="0.8"/><g fill="#e9bfcc"><circle cx="354.3" cy="1040.0" r="2.4"/><circle cx="362.8" cy="1035.8" r="2.4"/><circle cx="371.3" cy="1028.1" r="2.4"/><circle cx="379.9" cy="1026.4" r="2.4"/><circle cx="388.4" cy="1017.2" r="2.4"/><circle cx="396.9" cy="1009.8" r="2.4"/><circle cx="405.4" cy="1003.6" r="2.4"/><circle cx="413.9" cy="997.4" r="2.4"/><circle cx="422.4" cy="982.9" r="2.4"/><circle cx="430.9" cy="984.0" r="2.4"/><circle cx="439.4" cy="981.1" r="2.4"/><circle cx="447.9" cy="978.7" r="2.4"/><circle cx="456.4" cy="970.4" r="2.4"/><circle cx="464.9" cy="956.5" r="2.4"/><circle cx="473.5" cy="955.3" r="2.4"/><circle cx="482.0" cy="941.4" r="2.4"/><circle cx="490.5" cy="942.3" r="2.4"/><circle cx="499.0" cy="939.3" r="2.4"/><circle cx="507.5" cy="918.6" r="2.4"/><circle cx="516.0" cy="915.4" r="2.4"/><circle cx="524.5" cy="902.6" r="2.4"/><circle cx="533.0" cy="908.9" r="2.4"/><circle cx="550.0" cy="910.3" r="2.4"/><circle cx="558.6" cy="887.1" r="2.4"/><circle cx="567.1" cy="881.6" r="2.4"/><circle cx="575.6" cy="870.4" r="2.4"/><circle cx="584.1" cy="888.1" r="2.4"/><circle cx="592.6" cy="881.0" r="2.4"/><circle cx="601.1" cy="872.7" r="2.4"/><circle cx="609.6" cy="844.9" r="2.4"/><circle cx="618.1" cy="868.6" r="2.4"/><circle cx="626.6" cy="840.5" r="2.4"/><circle cx="635.1" cy="879.8" r="2.4"/><circle cx="643.7" cy="865.3" r="2.4"/><circle cx="652.2" cy="834.6" r="2.4"/><circle cx="660.7" cy="824.8" r="2.4"/><circle cx="677.7" cy="818.6" r="2.4"/><circle cx="686.2" cy="821.8" r="2.4"/><circle cx="694.7" cy="829.5" r="2.4"/><circle cx="703.2" cy="811.8" r="2.4"/><circle cx="711.7" cy="881.6" r="2.4"/><circle cx="720.2" cy="803.2" r="2.4"/><circle cx="745.8" cy="802.6" r="2.4"/><circle cx="345.8" cy="1044.7" r="2.4"/><circle cx="341.6" cy="1047.7" r="2.4"/></g><path d="M335.0 1049.6L341.4 1049.6L338.2 1054.4ZM335.6 1049.3L342.0 1049.3L338.8 1054.1ZM336.2 1049.0L342.6 1049.0L339.4 1053.8ZM336.9 1048.6L343.3 1048.6L340.1 1053.4ZM337.5 1048.3L343.9 1048.3L340.7 1053.1ZM338.1 1048.0L344.5 1048.0L341.3 1052.8ZM338.8 1047.7L345.2 1047.7L342.0 1052.5ZM339.4 1047.3L345.8 1047.3L342.6 1052.1ZM340.1 1047.0L346.5 1047.0L343.3 1051.8ZM340.7 1046.7L347.1 1046.7L343.9 1051.5ZM341.3 1046.4L347.7 1046.4L344.5 1051.2ZM342.0 1046.0L348.4 1046.0L345.2 1050.8ZM342.6 1045.7L349.0 1045.7L345.8 1050.5ZM343.2 1045.4L349.6 1045.4L346.4 1050.2Z" fill="#7b70c0" opacity="0.9"/><path d="M608.5 824.2l4.8 4.8M608.5 829.0l4.8 -4.8M623.8 835.7l4.8 4.8M623.8 840.5l4.8 -4.8M639.1 827.4l4.8 4.8M639.1 832.2l4.8 -4.8M654.0 822.4l4.8 4.8M654.0 827.2l4.8 -4.8M669.3 808.8l4.8 4.8M669.3 813.6l4.8 -4.8M684.7 811.1l4.8 4.8M684.7 815.9l4.8 -4.8M700.0 824.8l4.8 4.8M700.0 829.6l4.8 -4.8" stroke="#c84a5a" stroke-width="1.05" fill="none"/><rect x="567.8" y="988.2" width="185.7" height="61.8" fill="#fff" stroke="#6a6a6a" stroke-width="1"/><path d="M577.8 1004.2l7.2 8.6M577.8 1012.8l7.2 -8.6" stroke="#e06a6a" stroke-width="1.6" fill="none"/><path d="M575.5 1029.6h13.8l-6.9 11.7z" fill="#7b70c4"/><text x="604.3" y="1012.7" font-family="'Liberation Sans', Arial, sans-serif" font-size="13" fill="#222" text-anchor="start" font-weight="normal" >Top 100 False Positives</text><text x="603.2" y="1039.3" font-family="'Liberation Sans', Arial, sans-serif" font-size="13" fill="#222" text-anchor="start" font-weight="normal" >Top 100 False Negatives</text><text x="491.7" y="1097" font-family="'Liberation Sans', Arial, sans-serif" font-size="13" fill="#333">Protein degree ratio (ρ<tspan font-size="8.5" dy="3">p</tspan><tspan dy="-3">)</tspan></text><text x="0" y="0" font-family="'Liberation Sans', Arial, sans-serif" font-size="13" fill="#333" transform="translate(315.5 989) rotate(-90)">DeepPurpose Prediction</text><text x="112" y="1123" font-family="'Liberation Sans', Arial, sans-serif" font-size="18" fill="#000" text-anchor="start" font-weight="bold" >d</text><rect x="141.3" y="1126.5" width="115.8" height="231.2" rx="19" ry="17" fill="#fff" stroke="#9ccfc0" stroke-width="1.8"/><rect x="284.4" y="1126.5" width="115.5" height="230.9" rx="19" ry="17" fill="#fff" stroke="#9ccfc0" stroke-width="1.8"/><rect x="427.3" y="1124.3" width="115.2" height="231.4" rx="19" ry="17" fill="#fff" stroke="#9ccfc0" stroke-width="1.8"/><rect x="583.7" y="1123.7" width="114.2" height="230.8" rx="19" ry="17" fill="#fff" stroke="#ecd0d4" stroke-width="1.7"/><rect x="727.3" y="1123.6" width="113.7" height="229.1" rx="19" ry="17" fill="#fff" stroke="#ecd0d4" stroke-width="1.7"/><rect x="869.5" y="1121.9" width="114.8" height="228.0" rx="19" ry="17" fill="#fff" stroke="#ecd0d4" stroke-width="1.7"/><text x="199.2" y="1149.4" font-family="'Liberation Sans', Arial, sans-serif" font-size="13" fill="#1a1a1a" text-anchor="middle" font-weight="normal" >CHEMBL2333416</text><text x="346.2" y="1147.6" font-family="'Liberation Serif', 'Times New Roman', serif" font-size="13" fill="#1a1a1a" text-anchor="middle" font-weight="normal" >CHEMBL127587</text><text x="483.0" y="1143.6" font-family="'Liberation Serif', 'Times New Roman', serif" font-size="13" fill="#1a1a1a" text-anchor="middle" font-weight="normal" >Cystazosin</text><text x="639.5" y="1139.6" font-family="'Liberation Sans', Arial, sans-serif" font-size="13" fill="#1a1a1a" text-anchor="middle" font-weight="normal" >Arginine</text><text x="639.5" y="1155.5" font-family="'Liberation Sans', Arial, sans-serif" font-size="13" fill="#1a1a1a" text-anchor="middle" font-weight="normal" >vasopressin</text><text x="639.5" y="1171.3999999999999" font-family="'Liberation Sans', Arial, sans-serif" font-size="13" fill="#1a1a1a" text-anchor="middle" font-weight="normal" >receptor 1A</text><text x="781.0" y="1139.6" font-family="'Liberation Sans', Arial, sans-serif" font-size="13" fill="#1a1a1a" text-anchor="middle" font-weight="normal" >Diamine</text><text x="781.0" y="1155.5" font-family="'Liberation Sans', Arial, sans-serif" font-size="13" fill="#1a1a1a" text-anchor="middle" font-weight="normal" >oxidase</text><text x="925.5" y="1142.0" font-family="'Liberation Sans', Arial, sans-serif" font-size="13" fill="#1a1a1a" text-anchor="middle" font-weight="normal" >Tyrosine</text><text x="925.5" y="1157.9" font-family="'Liberation Sans', Arial, sans-serif" font-size="13" fill="#1a1a1a" text-anchor="middle" font-weight="normal" >Kinase 2</text><text x="170.8" y="1305.7" font-family="'Liberation Sans', Arial, sans-serif" font-size="12.5" fill="#1a1a1a">k<tspan font-size="7.8" dy="3">i</tspan><tspan font-size="7.8" dy="-7.5">+</tspan><tspan dy="4.5"> = 20</tspan></text><text x="170.8" y="1320.8" font-family="'Liberation Sans', Arial, sans-serif" font-size="12.5" fill="#1a1a1a">k<tspan font-size="7.8" dy="3">i</tspan><tspan font-size="7.8" dy="-7.5">-</tspan><tspan dy="4.5"> = 11</tspan></text><text x="170.8" y="1335.9" font-family="'Liberation Sans', Arial, sans-serif" font-size="12.5" fill="#1a1a1a">ρ<tspan font-size="7.8" dy="3">i</tspan><tspan dy="-3">  = 0.64</tspan></text><text x="319.5" y="1305.7" font-family="'Liberation Sans', Arial, sans-serif" font-size="12.5" fill="#1a1a1a">k<tspan font-size="7.8" dy="3">i</tspan><tspan font-size="7.8" dy="-7.5">+</tspan><tspan dy="4.5"> = 3</tspan></text><text x="319.5" y="1320.8" font-family="'Liberation Sans', Arial, sans-serif" font-size="12.5" fill="#1a1a1a">k<tspan font-size="7.8" dy="3">i</tspan><tspan font-size="7.8" dy="-7.5">-</tspan><tspan dy="4.5"> = 1</tspan></text><text x="319.5" y="1335.9" font-family="'Liberation Sans', Arial, sans-serif" font-size="12.5" fill="#1a1a1a">ρ<tspan font-size="7.8" dy="3">i</tspan><tspan dy="-3">  = 0.75</tspan></text><text x="463.7" y="1305.7" font-family="'Liberation Sans', Arial, sans-serif" font-size="12.5" fill="#1a1a1a">k<tspan font-size="7.8" dy="3">i</tspan><tspan font-size="7.8" dy="-7.5">+</tspan><tspan dy="4.5"> = 1</tspan></text><text x="463.7" y="1320.8" font-family="'Liberation Sans', Arial, sans-serif" font-size="12.5" fill="#1a1a1a">k<tspan font-size="7.8" dy="3">i</tspan><tspan font-size="7.8" dy="-7.5">-</tspan><tspan dy="4.5"> = 0</tspan></text><text x="463.7" y="1335.9" font-family="'Liberation Sans', Arial, sans-serif" font-size="12.5" fill="#1a1a1a">ρ<tspan font-size="7.8" dy="3">i</tspan><tspan dy="-3">  = 1.0</tspan></text><text x="618.0" y="1305.7" font-family="'Liberation Sans', Arial, sans-serif" font-size="12.5" fill="#1a1a1a">k<tspan font-size="7.8" dy="3">i</tspan><tspan font-size="7.8" dy="-7.5">+</tspan><tspan dy="4.5"> = 32</tspan></text><text x="618.0" y="1320.8" font-family="'Liberation Sans', Arial, sans-serif" font-size="12.5" fill="#1a1a1a">k<tspan font-size="7.8" dy="3">i</tspan><tspan font-size="7.8" dy="-7.5">-</tspan><tspan dy="4.5"> = 10</tspan></text><text x="618.0" y="1335.9" font-family="'Liberation Sans', Arial, sans-serif" font-size="12.5" fill="#1a1a1a">ρ<tspan font-size="7.8" dy="3">i</tspan><tspan dy="-3">  = 0.76</tspan></text><text x="765.0" y="1302.3" font-family="'Liberation Sans', Arial, sans-serif" font-size="12.5" fill="#1a1a1a">k<tspan font-size="7.8" dy="3">i</tspan><tspan font-size="7.8" dy="-7.5">+</tspan><tspan dy="4.5"> = 9</tspan></text><text x="765.0" y="1318.2" font-family="'Liberation Sans', Arial, sans-serif" font-size="12.5" fill="#1a1a1a">k<tspan font-size="7.8" dy="3">i</tspan><tspan font-size="7.8" dy="-7.5">-</tspan><tspan dy="4.5"> = 2</tspan></text><text x="765.0" y="1334.1" font-family="'Liberation Sans', Arial, sans-serif" font-size="12.5" fill="#1a1a1a">ρ<tspan font-size="7.8" dy="3">i</tspan><tspan dy="-3">  = 0.82</tspan></text><text x="902.5" y="1301.0" font-family="'Liberation Sans', Arial, sans-serif" font-size="12.5" fill="#1a1a1a">k<tspan font-size="7.8" dy="3">i</tspan><tspan font-size="7.8" dy="-7.5">+</tspan><tspan dy="4.5"> = 1,342</tspan></text><text x="902.5" y="1317.2" font-family="'Liberation Sans', Arial, sans-serif" font-size="12.5" fill="#1a1a1a">k<tspan font-size="7.8" dy="3">i</tspan><tspan font-size="7.8" dy="-7.5">-</tspan><tspan dy="4.5"> = 0</tspan></text><text x="902.5" y="1333.4" font-family="'Liberation Sans', Arial, sans-serif" font-size="12.5" fill="#1a1a1a">ρ<tspan font-size="7.8" dy="3">i</tspan><tspan dy="-3">  = 1.0</tspan></text><path d="M197.6 1172.2L197.6 1178M197.6 1186.7L197.6 1197.8M197.6 1197.8L210.2 1205M210.2 1205L210.2 1220M210.2 1220L197.6 1227.2M197.6 1227.2L183.6 1220M183.6 1220L183.6 1205M183.6 1205L197.6 1197.8M183.6 1205L174 1199.5M210.2 1205L220 1199.5M183.6 1220L174 1225.5M210.2 1220L220 1225.5M197.6 1227.2L197.6 1238M194 1246.5L184.5 1251M184.5 1251L184.5 1267M184.5 1267L175 1271.5" stroke="#333" stroke-width="1.2" fill="none"/><path d="M197.6 1200.5L207.6 1206.3M207.6 1208v10.5M197.6 1224.5L186.2 1218" stroke="#333" stroke-width="1" fill="none"/><path d="M185.5 1181.2h8M185.5 1183.2h8M201.5 1181.2h8M201.5 1183.2h8" stroke="#d33" stroke-width="0.9"/><g font-family="'Liberation Sans', Arial, sans-serif" font-size="9" text-anchor="middle"><text x="197.6" y="1185.5" fill="#a89a3a">S</text><text x="181.7" y="1185.5" fill="#e0242c">O</text><text x="213.5" y="1185.5" fill="#e0242c">O</text><text x="170.2" y="1201" fill="#a89a4a">F</text><text x="223.9" y="1201" fill="#a89a4a">F</text><text x="170.2" y="1231" fill="#a89a4a">F</text><text x="223.9" y="1231" fill="#a89a4a">F</text><text x="197.6" y="1246.5" fill="#a89a3a">S</text><text x="200" y="1171" fill="#3838b8" font-size="8">NH<tspan font-size="5.5" dy="2">2</tspan></text><text x="168.5" y="1276.5" fill="#e0242c">HO</text></g><path d="M343 1182.9L337.2 1186.6M337.2 1186.6L335.6 1197.8M335.6 1197.8L328.7 1204.7M328.7 1204.7L328.7 1215.4M328.7 1215.4L318 1213.2M328.7 1215.4L340.4 1218.6M340.4 1218.6L347 1212M340.4 1218.6L342.5 1226.5M354.2 1232.4L363.8 1227M363.8 1227L366 1240M354.2 1232.4L364.3 1253.7M369.5 1243.5L383.5 1248.5M383.5 1248.5L381.5 1258.5M381.5 1258.5L364.3 1253.7M365.5 1243L346.5 1249.5M346.5 1249.5L349.5 1259.5M349.5 1259.5L364.3 1253.7" stroke="#333" stroke-width="1" fill="none"/><path d="M334 1187.5L332.5 1197" stroke="#333" stroke-width="0.9"/><path d="M341.5 1216.8L346.8 1211.5" stroke="#d33" stroke-width="0.9"/><polygon points="317.8,1208.0 314.2,1217.8 303.9,1219.7 297.2,1211.6 300.8,1201.8 311.1,1199.9" fill="none" stroke="#333" stroke-width="1"/><path d="M314.9 1208.5L312.3 1215.5M304.9 1216.8L300.1 1211.1M302.7 1204.1L310.1 1202.8" stroke="#333" stroke-width="0.9"/><path d="M328 1215.5l1.6 6.5h-3.2z" fill="#222"/><path d="M346 1230.5l8.2 0.6 0 2.2z" fill="#c22"/><g font-family="'Liberation Sans', Arial, sans-serif" font-size="7.5" text-anchor="middle"><text x="345.8" y="1184" fill="#9a5ab0">I</text><text x="348.5" y="1213.5" fill="#e0242c">O</text><text x="325.5" y="1229.5" fill="#e0242c">HO</text><text x="343.4" y="1232.5" fill="#e0242c">O</text><text x="367.5" y="1245" fill="#3838b8">N</text><text x="366" y="1263" fill="#333" font-size="6">H</text></g><path d="M477.4 1166.4L487.3 1166.4M487.3 1166.4L491.6 1174M491.6 1174L487.3 1181.8M487.3 1181.8L477.4 1181.8M477.4 1181.8L473 1174M473 1174L477.4 1166.4M487.3 1181.8L490.5 1188M490.5 1190.5L487.3 1196M487.3 1196L479.5 1196M475.5 1195L474 1189.5M474 1189.5L477.4 1181.8M477.4 1166.4L474.8 1161.5M487.3 1166.4L490 1161.5M474 1189.5L466 1189.5M487.3 1196L490 1202.5M492.5 1204.5L499 1204.5M490 1206L486 1212M486 1212L490.5 1220M490.5 1220L486.5 1225.5M489.5 1235L486 1240.5M486 1240.5L490 1249M490 1249L486 1254M483.5 1255.5L478.5 1255.5M486 1257.5L490.5 1263.5M490.5 1263.5L485.5 1271.5M485.5 1271.5L476.5 1273M476.5 1273L475 1280.5M475 1280.5L482 1284.5M482 1284.5L487.5 1278.5M476.5 1275.5L478 1282" stroke="#444" stroke-width="0.8" fill="none"/><path d="M478.5 1168.5h7.8M479 1179.7h7.5M475.5 1174.3l3-5" stroke="#444" stroke-width="0.7" fill="none"/><path d="M491 1262.5h5M491.2 1264.2h5" stroke="#d33" stroke-width="0.7"/><path d="M487.5 1278.5l-1 -6" stroke="#d33" stroke-width="0.7"/><g font-family="'Liberation Sans', Arial, sans-serif" font-size="4" text-anchor="middle"><text x="474" y="1160.7" fill="#d04040">O</text><text x="491.1" y="1161" fill="#d04040">O</text><text x="480.7" y="1153.5" fill="#444">CH₃</text><text x="502" y="1161.5" fill="#444">CH₃</text><text x="462" y="1190.5" fill="#4040b0">H₂N</text><text x="490.5" y="1191" fill="#4040b0">N</text><text x="477.4" y="1197.5" fill="#4040b0">N</text><text x="490" y="1206" fill="#4040b0">N</text><text x="501.5" y="1206" fill="#444">CH₃</text><text x="485.6" y="1228.5" fill="#a0a030">S</text><text x="490" y="1235" fill="#a0a030">S</text><text x="485" y="1257" fill="#4040b0">N</text><text x="474" y="1257" fill="#444">H₃C</text><text x="498" y="1264.5" fill="#d04040">O</text><text x="488.5" y="1280" fill="#d04040">O</text></g><ellipse cx="628" cy="1192" rx="14" ry="10" fill="#40c050" opacity="0.35" transform="rotate(0 628 1192)" filter="url(#blur2)"/><ellipse cx="643" cy="1188" rx="9" ry="7" fill="#e04020" opacity="0.35" transform="rotate(0 643 1188)" filter="url(#blur2)"/><ellipse cx="632" cy="1206" rx="16" ry="6" fill="#30a0e0" opacity="0.35" transform="rotate(0 632 1206)" filter="url(#blur2)"/><ellipse cx="624" cy="1222" rx="7" ry="10" fill="#1040d0" opacity="0.4" transform="rotate(0 624 1222)" filter="url(#blur2)"/><ellipse cx="640" cy="1222" rx="9" ry="9" fill="#40c0d0" opacity="0.35" transform="rotate(0 640 1222)" filter="url(#blur2)"/><ellipse cx="626" cy="1247" rx="10" ry="10" fill="#f0a020" opacity="0.4" transform="rotate(0 626 1247)" filter="url(#blur2)"/><ellipse cx="648" cy="1248" rx="9" ry="9" fill="#30b0e0" opacity="0.35" transform="rotate(0 648 1248)" filter="url(#blur2)"/><ellipse cx="628" cy="1272" rx="14" ry="12" fill="#30c050" opacity="0.4" transform="rotate(0 628 1272)" filter="url(#blur2)"/><ellipse cx="648" cy="1276" rx="7" ry="9" fill="#e02030" opacity="0.4" transform="rotate(0 648 1276)" filter="url(#blur2)"/><path d="M619.9 1192.5 619.4 1191.9 617.9 1191.2 615.9 1190.9 614.1 1191.1 613.2 1192.0M618.1 1196.4 617.5 1195.8 615.8 1195.1 613.8 1194.8 612.1 1195.2 611.4 1196.2M616.3 1200.3 615.5 1199.6 613.8 1199.0 611.8 1198.8 610.2 1199.2" fill="none" stroke="#2c8c38" stroke-width="0.935" stroke-linecap="round" stroke-linejoin="round" opacity="1.0"/><path d="M615.1 1187.9 615.1 1189.3 616.2 1190.7 617.9 1191.9 619.3 1192.5 619.9 1192.5M613.2 1192.0 613.4 1193.4 614.6 1194.9 616.3 1196.0 617.7 1196.5 618.1 1196.4M611.4 1196.2 611.8 1197.6 613.1 1199.0 614.7 1200.1 616.0 1200.5 616.3 1200.3" fill="none" stroke="#40c850" stroke-width="2.295" stroke-linecap="round" stroke-linejoin="round" opacity="1.0"/><path d="M634.9 1194.4 635.1 1193.6 634.9 1191.8 634.1 1189.9 632.9 1188.6 631.7 1188.5M630.7 1194.8 630.8 1193.7 630.4 1191.8 629.5 1190.0 628.3 1189.0 627.0 1189.2" fill="none" stroke="#2c8c38" stroke-width="0.935" stroke-linecap="round" stroke-linejoin="round" opacity="1.0"/><path d="M636.3 1187.9 635.2 1188.7 634.5 1190.4 634.3 1192.4 634.5 1194.0 634.9 1194.4M631.7 1188.5 630.6 1189.6 630.1 1191.5 630.0 1193.4 630.3 1194.7 630.7 1194.8M627.0 1189.2 626.1 1190.5 625.7 1192.5" fill="none" stroke="#40c850" stroke-width="2.295" stroke-linecap="round" stroke-linejoin="round" opacity="1.0"/><path d="M632.3 1186.5 632.5 1185.8 632.1 1184.2 631.3 1182.4 630.0 1181.0 628.8 1180.8M628.1 1187.4 628.2 1186.6 627.8 1184.9 626.9 1183.1 625.7 1181.9 624.4 1181.7M623.9 1188.3 624.0 1187.4 623.5 1185.7 622.6 1183.9" fill="none" stroke="#2c8c38" stroke-width="0.935" stroke-linecap="round" stroke-linejoin="round" opacity="1.0"/><path d="M633.1 1179.9 632.1 1180.7 631.5 1182.5 631.5 1184.5 631.9 1186.0 632.3 1186.5M628.8 1180.8 627.8 1181.7 627.3 1183.5 627.3 1185.5 627.7 1187.0 628.1 1187.4M624.4 1181.7 623.4 1182.8 623.0 1184.6 623.1 1186.6 623.5 1188.0 623.9 1188.3" fill="none" stroke="#40c850" stroke-width="2.295" stroke-linecap="round" stroke-linejoin="round" opacity="1.0"/><path d="M628.4 1184.0 627.7 1184.3 626.6 1185.6 625.7 1187.4 625.4 1189.2 626.1 1190.3M631.6 1186.9 630.8 1187.4 629.6 1188.8 628.8 1190.7 628.7 1192.4" fill="none" stroke="#64912c" stroke-width="0.935" stroke-linecap="round" stroke-linejoin="round" opacity="1.0"/><path d="M622.6 1187.2 623.9 1187.6 625.7 1187.0 627.3 1185.8 628.3 1184.6 628.4 1184.0M626.1 1190.3 627.5 1190.4 629.3 1189.7 630.8 1188.4 631.7 1187.3 631.6 1186.9" fill="none" stroke="#90d040" stroke-width="2.295" stroke-linecap="round" stroke-linejoin="round" opacity="1.0"/><path d="M624.8 1179.2 623.9 1179.4 622.5 1180.3 621.1 1181.8 620.4 1183.4 620.7 1184.6M626.9 1182.9 625.8 1183.3 624.3 1184.4 623.0 1186.0 622.6 1187.5 623.3 1188.5M628.9 1186.7 627.6 1187.3 626.1 1188.6 625.0 1190.2 624.9 1191.6" fill="none" stroke="#21862c" stroke-width="0.935" stroke-linecap="round" stroke-linejoin="round" opacity="1.0"/><path d="M618.3 1180.6 619.5 1181.3 621.3 1181.2 623.3 1180.6 624.6 1179.7 624.8 1179.2M620.7 1184.6 622.2 1185.1 624.1 1184.8 625.9 1184.1 627.0 1183.3 626.9 1182.9M623.3 1188.5 624.9 1188.8 626.9 1188.4 628.5 1187.5 629.3 1186.8 628.9 1186.7" fill="none" stroke="#30c040" stroke-width="2.295" stroke-linecap="round" stroke-linejoin="round" opacity="1.0"/><path d="M619.7 1195.5 619.3 1196.1 619.2 1197.8 619.6 1199.8 620.4 1201.3 621.5 1201.9M624.0 1195.8 623.6 1196.6 623.6 1198.3 624.0 1200.3 624.8 1201.8 626.0 1202.2M628.3 1196.1 627.9 1197.1 627.9 1198.9 628.4 1200.8 629.3 1202.2 630.5 1202.5" fill="none" stroke="#21862c" stroke-width="0.935" stroke-linecap="round" stroke-linejoin="round" opacity="1.0"/><path d="M617.1 1201.6 618.3 1201.1 619.3 1199.5 619.9 1197.6 619.9 1196.0 619.7 1195.5M621.5 1201.9 622.8 1201.2 623.7 1199.6 624.2 1197.7 624.3 1196.2 624.0 1195.8M626.0 1202.2 627.2 1201.4 628.2 1199.7 628.6 1197.8 628.6 1196.4 628.3 1196.1M630.5 1202.5 631.7 1201.5 632.6 1199.8 633.0 1197.9 632.9 1196.6 632.6 1196.5" fill="none" stroke="#30c040" stroke-width="2.295" stroke-linecap="round" stroke-linejoin="round" opacity="1.0"/><path d="M616.9 1193.8 616.3 1193.6 614.7 1193.9 612.8 1194.6 611.4 1195.7 611.0 1197.0M617.6 1198.1 616.9 1197.9 615.3 1198.2 613.4 1198.9 612.0 1200.0 611.7 1201.3M618.2 1202.4 617.5 1202.2 615.9 1202.5 614.0 1203.2 612.7 1204.4 612.3 1205.6" fill="none" stroke="#438c2c" stroke-width="0.935" stroke-linecap="round" stroke-linejoin="round" opacity="1.0"/><path d="M610.4 1192.6 611.2 1193.7 612.9 1194.4 614.9 1194.5 616.4 1194.2 616.9 1193.8M611.0 1197.0 611.8 1198.0 613.5 1198.7 615.5 1198.8 617.1 1198.5 617.6 1198.1M611.7 1201.3 612.5 1202.4 614.2 1203.0 616.2 1203.1 617.7 1202.8 618.2 1202.4M612.3 1205.6 613.2 1206.7" fill="none" stroke="#60c840" stroke-width="2.295" stroke-linecap="round" stroke-linejoin="round" opacity="1.0"/><path d="M638.1 1178.8 637.4 1179.2 636.2 1180.7 635.2 1182.8 635.0 1184.8 635.7 1186.0M641.9 1181.9 641.0 1182.5 639.8 1184.1 638.9 1186.2 638.8 1188.1 639.7 1189.2M645.6 1185.1 644.6 1185.8 643.5 1187.5 642.6 1189.7 642.7 1191.5 643.7 1192.4M649.3 1188.2 648.3 1189.2 647.1 1191.0 646.4 1193.1 646.6 1194.8 647.8 1195.6" fill="none" stroke="#9c1616" stroke-width="1.1" stroke-linecap="round" stroke-linejoin="round" opacity="1.0"/><path d="M631.7 1182.8 633.2 1183.1 635.2 1182.3 637.0 1180.9 638.0 1179.5 638.1 1178.8M635.7 1186.0 637.3 1186.2 639.3 1185.3 641.0 1183.8 641.9 1182.5 641.9 1181.9M639.7 1189.2 641.4 1189.2 643.4 1188.2 645.0 1186.7 645.8 1185.4 645.6 1185.1M643.7 1192.4 645.5 1192.2 647.4 1191.1 649.0 1189.6 649.6 1188.5 649.3 1188.2M647.8 1195.6 649.6 1195.3 651.5 1194.0 652.9 1192.5 653.4 1191.5" fill="none" stroke="#e02020" stroke-width="2.7" stroke-linecap="round" stroke-linejoin="round" opacity="1.0"/><path d="M635.2 1187.9 634.6 1188.4 634.0 1189.9 633.8 1191.9 634.1 1193.7 635.0 1194.6M639.2 1189.5 638.6 1190.1 638.0 1191.7 637.8 1193.7 638.2 1195.4 639.2 1196.2M643.2 1191.1 642.6 1191.9 642.0 1193.6 641.8 1195.6 642.3 1197.2 643.3 1197.9M647.2 1192.8 646.6 1193.6 646.0 1195.4 645.9 1197.4 646.4 1198.9 647.5 1199.5M651.1 1194.4 650.5 1195.4 650.0 1197.2 650.0 1199.2 650.5 1200.7" fill="none" stroke="#9c3e16" stroke-width="0.935" stroke-linecap="round" stroke-linejoin="round" opacity="1.0"/><path d="M630.8 1192.9 632.2 1192.8 633.6 1191.6 634.7 1190.0 635.3 1188.5 635.2 1187.9M635.0 1194.6 636.4 1194.3 637.8 1193.1 638.8 1191.4 639.3 1190.0 639.2 1189.5M639.2 1196.2 640.5 1195.9 641.9 1194.5 643.0 1192.9 643.4 1191.5 643.2 1191.1M643.3 1197.9 644.7 1197.4 646.1 1196.0 647.1 1194.3 647.4 1193.0 647.2 1192.8M647.5 1199.5 648.9 1198.9 650.3 1197.4 651.2 1195.8 651.4 1194.6 651.1 1194.4" fill="none" stroke="#e05a20" stroke-width="2.295" stroke-linecap="round" stroke-linejoin="round" opacity="1.0"/><path d="M631.8 1199.8 Q634.5 1199.6 637.0 1198.4 Q639.6 1197.1 637.2 1197.6 L634.8 1198.1" fill="none" stroke="#2080d0" stroke-width="1.2" stroke-linecap="round" opacity="0.9"/><path d="M650.6 1198.9 Q651.6 1199.2 650.7 1198.7 Q649.8 1198.3 647.0 1198.4 L644.2 1198.5" fill="none" stroke="#2080d0" stroke-width="1.2" stroke-linecap="round" opacity="0.9"/><path d="M631.3 1209.9 Q629.5 1207.1 626.3 1207.8 Q623.0 1208.4 627.0 1208.4 L630.9 1208.4" fill="none" stroke="#2080d0" stroke-width="1.2" stroke-linecap="round" opacity="0.9"/><path d="M635.7 1204.9 Q632.8 1207.7 629.7 1208.2 Q626.6 1208.8 627.6 1209.8 L628.6 1210.8" fill="none" stroke="#40b8e0" stroke-width="1.2" stroke-linecap="round" opacity="0.9"/><path d="M626.9 1200.0 Q633.6 1198.1 633.1 1197.0 Q632.5 1196.0 628.8 1196.1 L625.1 1196.1" fill="none" stroke="#30a0e0" stroke-width="1.2" stroke-linecap="round" opacity="0.9"/><path d="M649.8 1205.1 Q655.9 1205.0 654.9 1204.3 Q653.9 1203.5 656.9 1202.5 L659.9 1201.5" fill="none" stroke="#2080d0" stroke-width="1.2" stroke-linecap="round" opacity="0.9"/><path d="M634.5 1208.0 Q627.3 1206.6 625.6 1206.4 Q623.9 1206.1 621.3 1204.8 L618.7 1203.5" fill="none" stroke="#30a0e0" stroke-width="1.2" stroke-linecap="round" opacity="0.9"/><path d="M642.9 1203.7 Q638.9 1206.5 639.1 1207.2 Q639.3 1207.9 635.5 1207.0 L631.8 1206.1" fill="none" stroke="#40b8e0" stroke-width="1.2" stroke-linecap="round" opacity="0.9"/><path d="M638.2 1203.1 Q639.5 1205.2 638.0 1205.3 Q636.5 1205.4 634.7 1206.2 L632.9 1207.0" fill="none" stroke="#2080d0" stroke-width="1.2" stroke-linecap="round" opacity="0.9"/><path d="M619.8 1205.1 Q622.1 1207.2 622.7 1206.5 Q623.4 1205.8 622.6 1207.2 L621.9 1208.5" fill="none" stroke="#30a0e0" stroke-width="1.2" stroke-linecap="round" opacity="0.9"/><path d="M631.7 1200.2 Q634.0 1202.0 630.5 1200.8 Q627.1 1199.7 625.4 1199.1 L623.6 1198.5" fill="none" stroke="#30a0e0" stroke-width="1.2" stroke-linecap="round" opacity="0.9"/><path d="M638.9 1200.2 Q644.6 1198.4 646.6 1199.2 Q648.5 1199.9 649.3 1199.9 L650.2 1200.0" fill="none" stroke="#30a0e0" stroke-width="1.2" stroke-linecap="round" opacity="0.9"/><path d="M637.0 1202.4 636.3 1202.4 634.8 1202.9 633.2 1203.9 632.2 1205.2 632.2 1206.4M638.2 1206.2 637.3 1206.3 635.7 1206.9 634.2 1208.0 633.4 1209.3 633.6 1210.5M639.4 1210.0 638.3 1210.2 636.7 1211.0 635.2 1212.1 634.6 1213.4 635.1 1214.5" fill="none" stroke="#216497" stroke-width="0.8800000000000001" stroke-linecap="round" stroke-linejoin="round" opacity="1.0"/><path d="M630.8 1202.4 631.7 1203.2 633.4 1203.5 635.3 1203.3 636.7 1202.8 637.0 1202.4M632.2 1206.4 633.3 1207.2 635.1 1207.4 636.9 1207.1 638.1 1206.6 638.2 1206.2M633.6 1210.5 634.9 1211.1 636.7 1211.2 638.5 1210.9 639.5 1210.3 639.4 1210.0M635.1 1214.5 636.5 1215.1 638.4 1215.0 640.1 1214.6" fill="none" stroke="#3090d8" stroke-width="2.16" stroke-linecap="round" stroke-linejoin="round" opacity="1.0"/><path d="M637.3 1204.3 636.8 1203.8 635.5 1203.3 633.6 1203.1 631.9 1203.4 631.1 1204.3M636.0 1208.1 635.5 1207.6 634.1 1207.2 632.2 1207.0 630.6 1207.3 629.7 1208.2M634.7 1211.9 634.2 1211.5 632.7 1211.0 630.9 1210.8 629.3 1211.1 628.4 1212.0M633.3 1215.8 632.8 1215.3 631.4 1214.8 629.5 1214.6" fill="none" stroke="#21709c" stroke-width="0.8800000000000001" stroke-linecap="round" stroke-linejoin="round" opacity="1.0"/><path d="M632.4 1200.4 632.6 1201.7 633.7 1202.9 635.3 1203.9 636.7 1204.4 637.3 1204.3M631.1 1204.3 631.3 1205.5 632.4 1206.8 634.0 1207.8 635.4 1208.2 636.0 1208.1M629.7 1208.2 630.0 1209.4 631.1 1210.7 632.7 1211.6 634.1 1212.1 634.7 1211.9M628.4 1212.0 628.7 1213.3 629.8 1214.5 631.4 1215.5 632.8 1215.9 633.3 1215.8" fill="none" stroke="#30a0e0" stroke-width="2.16" stroke-linecap="round" stroke-linejoin="round" opacity="1.0"/><path d="M640.0 1205.2 640.0 1204.3 639.4 1202.8 638.3 1201.2 637.0 1200.3 635.8 1200.5M636.2 1206.2 636.0 1205.1 635.2 1203.4 634.0 1202.0 632.7 1201.4 631.7 1202.0M632.3 1207.2 631.9 1205.7" fill="none" stroke="#216497" stroke-width="0.8800000000000001" stroke-linecap="round" stroke-linejoin="round" opacity="1.0"/><path d="M640.1 1199.0 639.2 1199.9 638.9 1201.7 639.1 1203.6 639.6 1204.9 640.0 1205.2M635.8 1200.5 635.1 1201.7 635.0 1203.6 635.4 1205.4 635.9 1206.4 636.2 1206.2M631.7 1202.0 631.2 1203.6 631.3 1205.6 631.7 1207.1 632.2 1207.7 632.3 1207.2" fill="none" stroke="#3090d8" stroke-width="2.16" stroke-linecap="round" stroke-linejoin="round" opacity="1.0"/><path d="M648.0 1201.0 647.5 1200.6 646.0 1200.2 644.2 1200.2 642.6 1200.7 641.8 1201.7M647.1 1204.9 646.5 1204.5 645.0 1204.2 643.2 1204.2 641.6 1204.7 640.9 1205.7M646.1 1208.9 645.5 1208.5 644.0 1208.1 642.2 1208.2 640.6 1208.7 639.9 1209.7" fill="none" stroke="#21709c" stroke-width="0.8800000000000001" stroke-linecap="round" stroke-linejoin="round" opacity="1.0"/><path d="M642.7 1197.7 643.0 1198.9 644.3 1200.1 646.0 1200.9 647.4 1201.2 648.0 1201.0M641.8 1201.7 642.1 1202.9 643.4 1204.0 645.1 1204.8 646.5 1205.1 647.1 1204.9M640.9 1205.7 641.3 1206.9 642.6 1208.0 644.3 1208.8 645.6 1209.1 646.1 1208.9M639.9 1209.7 640.4 1210.9 641.7 1212.0 643.4 1212.8" fill="none" stroke="#30a0e0" stroke-width="2.16" stroke-linecap="round" stroke-linejoin="round" opacity="1.0"/><path d="M615.1 1203.3 614.6 1204.0 614.1 1205.7 614.1 1207.9 614.7 1209.7 615.8 1210.5M619.5 1204.6 619.0 1205.4 618.6 1207.2 618.6 1209.3 619.3 1211.1 620.5 1211.7M623.9 1205.8 623.4 1206.8 623.0 1208.7 623.2 1210.8 623.9 1212.4 625.1 1212.9" fill="none" stroke="#7b9121" stroke-width="0.9900000000000001" stroke-linecap="round" stroke-linejoin="round" opacity="1.0"/><path d="M611.1 1209.2 612.5 1208.9 613.9 1207.5 614.9 1205.6 615.3 1204.0 615.1 1203.3M615.8 1210.5 617.2 1210.0 618.5 1208.5 619.4 1206.5 619.8 1205.0 619.5 1204.6M620.5 1211.7 621.9 1211.0 623.2 1209.4 624.0 1207.5 624.2 1206.1 623.9 1205.8M625.1 1212.9 626.6 1212.1 627.8 1210.3 628.6 1208.4" fill="none" stroke="#b0d030" stroke-width="2.43" stroke-linecap="round" stroke-linejoin="round" opacity="1.0"/><path d="M625.4 1214.3 624.7 1214.0 623.0 1214.0 620.9 1214.4 619.3 1215.4 618.6 1216.7M625.4 1218.9 624.7 1218.6 623.0 1218.6 620.9 1219.1 619.2 1220.1 618.6 1221.3M625.4 1223.6 624.6 1223.3 622.9 1223.3 620.8 1223.8 619.2 1224.7 618.6 1226.0M625.4 1228.2 624.6 1227.9 622.9 1227.9 620.8 1228.4 619.2 1229.4 618.6 1230.7" fill="none" stroke="#0b2c91" stroke-width="1.2100000000000002" stroke-linecap="round" stroke-linejoin="round" opacity="1.0"/><path d="M618.6 1212.0 619.3 1213.3 621.0 1214.2 623.1 1214.7 624.7 1214.6 625.4 1214.3M618.6 1216.7 619.3 1217.9 621.0 1218.9 623.1 1219.3 624.8 1219.3 625.4 1218.9M618.6 1221.3 619.3 1222.6 621.1 1223.5 623.1 1224.0 624.8 1223.9 625.4 1223.6M618.6 1226.0 619.4 1227.3 621.1 1228.2 623.2 1228.6 624.8 1228.5 625.4 1228.2M618.6 1230.7 619.4 1231.9 621.2 1232.8 623.2 1233.2" fill="none" stroke="#1040d0" stroke-width="2.9700000000000006" stroke-linecap="round" stroke-linejoin="round" opacity="1.0"/><path d="M626.0 1230.0 L628.0 1214.0" fill="none" stroke="#1848d8" stroke-width="2.8" stroke-linejoin="round"/><path d="M628.4 1211.0 L631.6 1214.5 L624.4 1213.5Z" fill="#1848d8"/><path d="M630.4 1219.7 629.8 1220.3 629.2 1221.9 628.9 1224.0 629.2 1225.9 630.2 1226.9M634.7 1221.5 634.1 1222.1 633.4 1223.8 633.2 1225.9 633.6 1227.8 634.6 1228.6" fill="none" stroke="#9c7b16" stroke-width="0.9900000000000001" stroke-linecap="round" stroke-linejoin="round" opacity="1.0"/><path d="M625.8 1225.1 627.2 1225.0 628.7 1223.8 629.9 1222.0 630.5 1220.4 630.4 1219.7M630.2 1226.9 631.6 1226.6 633.1 1225.3 634.3 1223.5 634.8 1222.0 634.7 1221.5M634.6 1228.6 636.1 1228.3 637.6 1226.9 638.7 1225.1" fill="none" stroke="#e0b020" stroke-width="2.43" stroke-linecap="round" stroke-linejoin="round" opacity="1.0"/><path d="M646.0 1221.4 646.2 1220.7 646.0 1219.2 645.4 1217.4 644.3 1216.1 643.2 1215.8M642.0 1221.8 642.1 1221.0 641.9 1219.4 641.2 1217.6 640.1 1216.4 639.0 1216.2M638.0 1222.1 638.1 1221.2 637.8 1219.6" fill="none" stroke="#438c91" stroke-width="0.8800000000000001" stroke-linecap="round" stroke-linejoin="round" opacity="1.0"/><path d="M647.3 1215.3 646.3 1216.0 645.6 1217.6 645.4 1219.5 645.6 1220.9 646.0 1221.4M643.2 1215.8 642.2 1216.6 641.5 1218.2 641.4 1220.1 641.6 1221.4 642.0 1221.8M639.0 1216.2 638.0 1217.2 637.5 1218.9 637.4 1220.7 637.6 1222.0 638.0 1222.1" fill="none" stroke="#60c8d0" stroke-width="2.16" stroke-linecap="round" stroke-linejoin="round" opacity="1.0"/><path d="M641.4 1213.8 640.8 1214.3 639.9 1215.6 639.3 1217.4 639.3 1219.1 640.1 1220.0M644.7 1216.1 643.9 1216.8 643.1 1218.3 642.6 1220.2 642.8 1221.7 643.8 1222.3M647.9 1218.5 647.1 1219.4 646.3 1221.1 645.9 1222.9 646.4 1224.2 647.5 1224.6" fill="none" stroke="#217b91" stroke-width="0.8800000000000001" stroke-linecap="round" stroke-linejoin="round" opacity="1.0"/><path d="M636.5 1217.6 637.7 1217.7 639.3 1216.9 640.7 1215.6 641.4 1214.3 641.4 1213.8M640.1 1220.0 641.5 1219.8 643.0 1218.9 644.3 1217.5 644.9 1216.4 644.7 1216.1M643.8 1222.3 645.3 1221.9 646.8 1220.8 647.9 1219.5 648.2 1218.5 647.9 1218.5M647.5 1224.6 649.0 1224.0 650.5 1222.7 651.4 1221.4 651.6 1220.7" fill="none" stroke="#30b0d0" stroke-width="2.16" stroke-linecap="round" stroke-linejoin="round" opacity="1.0"/><path d="M648.3 1206.8 647.7 1206.9 646.4 1207.7 645.1 1209.0 644.4 1210.5 644.5 1211.8M650.5 1210.2 649.9 1210.3 648.6 1211.2 647.3 1212.5 646.6 1214.0 646.7 1215.2M652.7 1213.6 652.0 1213.8 650.7 1214.6 649.4 1216.0 648.7 1217.5 649.0 1218.7M654.9 1217.1 654.2 1217.2 652.9 1218.1 651.6 1219.5 650.9 1221.0 651.2 1222.1" fill="none" stroke="#2c8691" stroke-width="0.8800000000000001" stroke-linecap="round" stroke-linejoin="round" opacity="1.0"/><path d="M642.3 1208.3 643.4 1208.9 645.1 1208.8 646.8 1208.2 648.0 1207.4 648.3 1206.8M644.5 1211.8 645.6 1212.4 647.3 1212.2 649.1 1211.6 650.3 1210.8 650.5 1210.2M646.7 1215.2 647.9 1215.8 649.6 1215.6 651.3 1215.0 652.5 1214.1 652.7 1213.6M649.0 1218.7 650.1 1219.2 651.9 1219.0 653.6 1218.3 654.7 1217.5 654.9 1217.1M651.2 1222.1 652.4 1222.6 654.1 1222.4 655.8 1221.7 656.9 1220.9" fill="none" stroke="#40c0d0" stroke-width="2.16" stroke-linecap="round" stroke-linejoin="round" opacity="1.0"/><path d="M652.9 1213.4 652.4 1212.9 651.0 1212.3 649.1 1212.0 647.5 1212.3 646.7 1213.2M651.4 1217.1 650.7 1216.5 649.1 1216.0 647.3 1215.8 645.7 1216.1 645.1 1217.1M649.8 1220.8 648.9 1220.2 647.3 1219.6 645.4 1219.5 644.0 1220.0 643.5 1221.0M648.1 1224.4 647.2 1223.8 645.4 1223.3 643.6 1223.3 642.3 1223.9" fill="none" stroke="#217b91" stroke-width="0.8800000000000001" stroke-linecap="round" stroke-linejoin="round" opacity="1.0"/><path d="M648.3 1209.3 648.4 1210.5 649.5 1211.9 651.0 1213.0 652.4 1213.5 652.9 1213.4M646.7 1213.2 646.9 1214.5 648.1 1215.8 649.7 1216.8 650.9 1217.2 651.4 1217.1M645.1 1217.1 645.5 1218.4 646.8 1219.7 648.3 1220.7 649.5 1221.0 649.8 1220.8M643.5 1221.0 644.1 1222.4 645.4 1223.6 647.0 1224.5 648.0 1224.7 648.1 1224.4" fill="none" stroke="#30b0d0" stroke-width="2.16" stroke-linecap="round" stroke-linejoin="round" opacity="1.0"/><path d="M645.5 1236.2 645.2 1235.6 643.9 1234.8 642.2 1234.2 640.5 1234.1 639.4 1234.8M643.3 1239.6 643.0 1239.0 641.7 1238.2 639.9 1237.6 638.3 1237.6 637.2 1238.2M641.2 1243.0 640.8 1242.5 639.5 1241.7 637.7 1241.0 636.1 1241.0 635.1 1241.7M639.0 1246.5 638.6 1245.9 637.3 1245.1" fill="none" stroke="#21599c" stroke-width="0.935" stroke-linecap="round" stroke-linejoin="round" opacity="1.0"/><path d="M641.6 1231.3 641.5 1232.6 642.3 1234.1 643.6 1235.4 644.9 1236.1 645.5 1236.2M639.4 1234.8 639.3 1236.0 640.2 1237.5 641.5 1238.8 642.7 1239.6 643.3 1239.6M637.2 1238.2 637.2 1239.5 638.0 1241.0 639.3 1242.3 640.6 1243.0 641.2 1243.0M635.1 1241.7 635.0 1242.9 635.9 1244.4 637.2 1245.7 638.4 1246.4 639.0 1246.5" fill="none" stroke="#3080e0" stroke-width="2.295" stroke-linecap="round" stroke-linejoin="round" opacity="1.0"/><path d="M642.1 1227.6 641.4 1227.5 640.0 1228.0 638.3 1229.0 637.3 1230.2 637.2 1231.4M643.3 1231.4 642.5 1231.4 641.0 1231.9 639.4 1233.0 638.4 1234.2 638.5 1235.4" fill="none" stroke="#16439c" stroke-width="0.935" stroke-linecap="round" stroke-linejoin="round" opacity="1.0"/><path d="M635.9 1227.5 636.8 1228.3 638.4 1228.7 640.3 1228.5 641.7 1228.0 642.1 1227.6M637.2 1231.4 638.1 1232.3 639.9 1232.6 641.7 1232.3 643.0 1231.8 643.3 1231.4M638.5 1235.4 639.5 1236.2 641.3 1236.4 643.1 1236.2 644.3 1235.7 644.5 1235.3" fill="none" stroke="#2060e0" stroke-width="2.295" stroke-linecap="round" stroke-linejoin="round" opacity="1.0"/><path d="M641.3 1220.9 640.7 1221.1 639.5 1222.1 638.4 1223.6 637.9 1225.2 638.2 1226.4M643.9 1224.0 643.2 1224.2 642.1 1225.3 641.0 1226.8 640.5 1228.4 640.9 1229.5M646.5 1227.1 645.8 1227.4 644.6 1228.4 643.5 1230.0 643.1 1231.5 643.6 1232.6" fill="none" stroke="#21599c" stroke-width="0.935" stroke-linecap="round" stroke-linejoin="round" opacity="1.0"/><path d="M635.5 1223.2 636.7 1223.7 638.3 1223.3 640.0 1222.5 641.1 1221.5 641.3 1220.9M638.2 1226.4 639.4 1226.8 641.1 1226.4 642.7 1225.5 643.8 1224.5 643.9 1224.0M640.9 1229.5 642.1 1229.9 643.8 1229.4 645.4 1228.5 646.4 1227.6 646.5 1227.1M643.6 1232.6 644.9 1232.9 646.6 1232.5 648.2 1231.5 649.1 1230.6" fill="none" stroke="#3080e0" stroke-width="2.295" stroke-linecap="round" stroke-linejoin="round" opacity="1.0"/><path d="M642.2 1227.6 641.6 1227.8 640.6 1228.9 639.7 1230.6 639.3 1232.2 639.8 1233.3M645.2 1230.3 644.6 1230.6 643.5 1231.8 642.6 1233.4 642.3 1235.1 642.9 1236.1M648.2 1233.0 647.5 1233.4 646.4 1234.6 645.6 1236.3 645.3 1237.9" fill="none" stroke="#21599c" stroke-width="0.935" stroke-linecap="round" stroke-linejoin="round" opacity="1.0"/><path d="M636.8 1230.5 638.0 1230.9 639.6 1230.3 641.1 1229.3 642.1 1228.2 642.2 1227.6M639.8 1233.3 641.1 1233.6 642.7 1233.0 644.2 1231.9 645.1 1230.8 645.2 1230.3M642.9 1236.1 644.2 1236.3 645.8 1235.7 647.3 1234.6 648.1 1233.5 648.2 1233.0" fill="none" stroke="#3080e0" stroke-width="2.295" stroke-linecap="round" stroke-linejoin="round" opacity="1.0"/><path d="M625.5 1255.2 625.1 1254.6 623.6 1253.8 621.5 1253.3 619.6 1253.3 618.4 1254.2M623.3 1259.3 622.9 1258.7 621.3 1257.9 619.3 1257.3" fill="none" stroke="#a26416" stroke-width="0.9900000000000001" stroke-linecap="round" stroke-linejoin="round" opacity="1.0"/><path d="M620.6 1250.0 620.6 1251.4 621.7 1253.1 623.3 1254.4 624.8 1255.2 625.5 1255.2M618.4 1254.2 618.5 1255.6 619.5 1257.2 621.2 1258.6 622.6 1259.3 623.3 1259.3" fill="none" stroke="#e89020" stroke-width="2.43" stroke-linecap="round" stroke-linejoin="round" opacity="1.0"/><path d="M632.3 1252.6 632.3 1251.9 631.8 1250.3 630.7 1248.5 629.2 1247.3 627.8 1247.1M627.9 1254.2 628.0 1253.5 627.4 1251.8 626.3 1250.1 624.8 1248.8 623.4 1248.7M623.5 1255.8 623.6 1255.0 623.0 1253.4 621.9 1251.6 620.4 1250.4 619.0 1250.2" fill="none" stroke="#a87b21" stroke-width="0.9900000000000001" stroke-linecap="round" stroke-linejoin="round" opacity="1.0"/><path d="M632.2 1245.5 631.2 1246.5 630.9 1248.5 631.1 1250.6 631.7 1252.1 632.3 1252.6M627.8 1247.1 626.8 1248.1 626.5 1250.0 626.8 1252.2 627.4 1253.7 627.9 1254.2M623.4 1248.7 622.5 1249.7 622.1 1251.6 622.4 1253.7 623.0 1255.3 623.5 1255.8M619.0 1250.2 618.1 1251.3 617.8 1253.2 618.1 1255.3 618.7 1256.9" fill="none" stroke="#f0b030" stroke-width="2.43" stroke-linecap="round" stroke-linejoin="round" opacity="1.0"/><path d="M623.4 1249.7 622.6 1249.6 620.9 1250.3 619.1 1251.5 618.0 1253.1 618.0 1254.4M625.0 1254.0 624.0 1254.1 622.2 1254.8 620.5 1256.1 619.5 1257.6 619.8 1259.0M626.5 1258.3 625.3 1258.5 623.6 1259.3 621.9 1260.7 621.1 1262.2 621.5 1263.5" fill="none" stroke="#a87016" stroke-width="0.9900000000000001" stroke-linecap="round" stroke-linejoin="round" opacity="1.0"/><path d="M616.3 1249.9 617.4 1250.8 619.3 1251.1 621.4 1250.8 623.0 1250.2 623.4 1249.7M618.0 1254.4 619.3 1255.3 621.3 1255.5 623.4 1255.1 624.8 1254.4 625.0 1254.0M619.8 1259.0 621.2 1259.7 623.3 1259.8 625.3 1259.3 626.5 1258.7 626.5 1258.3" fill="none" stroke="#f0a020" stroke-width="2.43" stroke-linecap="round" stroke-linejoin="round" opacity="1.0"/><path d="M626.8 1242.1 626.8 1241.3 626.0 1239.6 624.7 1237.9 623.1 1236.8 621.8 1236.9M622.5 1243.8 622.4 1242.7 621.5 1241.0 620.1 1239.3 618.5 1238.5 617.3 1238.9M618.3 1245.4 618.0 1244.2 617.0 1242.4 615.5 1240.8 613.9 1240.2 612.8 1240.9" fill="none" stroke="#a87016" stroke-width="0.9900000000000001" stroke-linecap="round" stroke-linejoin="round" opacity="1.0"/><path d="M626.3 1235.0 625.4 1236.2 625.2 1238.1 625.6 1240.3 626.2 1241.8 626.8 1242.1M621.8 1236.9 621.0 1238.3 620.9 1240.3 621.4 1242.4 622.1 1243.7 622.5 1243.8M617.3 1238.9 616.6 1240.4 616.7 1242.6 617.3 1244.5 617.9 1245.6 618.3 1245.4M612.8 1240.9 612.3 1242.6 612.5 1244.8" fill="none" stroke="#f0a020" stroke-width="2.43" stroke-linecap="round" stroke-linejoin="round" opacity="1.0"/><path d="M625.8 1231.4 625.0 1231.6 623.6 1232.6 622.2 1234.3 621.5 1236.1 621.9 1237.4M628.5 1235.2 627.5 1235.5 626.1 1236.6 624.7 1238.4 624.2 1240.1 624.7 1241.3M631.1 1238.9 630.0 1239.4 628.5 1240.7 627.3 1242.4 626.9 1244.1 627.6 1245.2M633.7 1242.7 632.5 1243.3 631.0 1244.7" fill="none" stroke="#a28616" stroke-width="0.9900000000000001" stroke-linecap="round" stroke-linejoin="round" opacity="1.0"/><path d="M619.1 1233.4 620.3 1234.1 622.3 1233.9 624.3 1233.0 625.6 1232.0 625.8 1231.4M621.9 1237.4 623.3 1237.9 625.3 1237.6 627.2 1236.6 628.4 1235.7 628.5 1235.2M624.7 1241.3 626.3 1241.7 628.3 1241.2 630.2 1240.3 631.2 1239.3 631.1 1238.9M627.6 1245.2 629.3 1245.4 631.3 1244.9 633.1 1243.9 633.9 1243.0 633.7 1242.7" fill="none" stroke="#e8c020" stroke-width="2.43" stroke-linecap="round" stroke-linejoin="round" opacity="1.0"/><path d="M632.0 1252.0 631.4 1252.5 630.5 1254.1 629.9 1256.2 630.1 1258.1 631.0 1259.1M635.9 1254.3 635.2 1255.1 634.3 1256.9 633.9 1259.0 634.2 1260.7 635.3 1261.5M639.8 1256.7 639.0 1257.7" fill="none" stroke="#a87b21" stroke-width="0.9900000000000001" stroke-linecap="round" stroke-linejoin="round" opacity="1.0"/><path d="M626.7 1256.6 628.2 1256.7 629.9 1255.7 631.3 1254.1 632.1 1252.6 632.0 1252.0M631.0 1259.1 632.5 1258.9 634.2 1257.7 635.6 1256.0 636.2 1254.7 635.9 1254.3M635.3 1261.5 636.9 1261.0 638.6 1259.6 639.8 1258.0 640.2 1256.8 639.8 1256.7" fill="none" stroke="#f0b030" stroke-width="2.43" stroke-linecap="round" stroke-linejoin="round" opacity="1.0"/><path d="M624.1 1244.7 623.5 1245.0 622.5 1246.4 621.7 1248.4 621.6 1250.3 622.3 1251.6M627.9 1247.3 627.3 1247.6 626.3 1249.0 625.6 1251.0 625.4 1252.9" fill="none" stroke="#a87016" stroke-width="0.9900000000000001" stroke-linecap="round" stroke-linejoin="round" opacity="1.0"/><path d="M618.4 1249.0 619.8 1249.1 621.5 1248.3 623.1 1246.8 624.0 1245.4 624.1 1244.7M622.3 1251.6 623.7 1251.7 625.4 1250.8 626.9 1249.4 627.9 1248.0 627.9 1247.3" fill="none" stroke="#f0a020" stroke-width="2.43" stroke-linecap="round" stroke-linejoin="round" opacity="1.0"/><path d="M650.3 1246.6 650.1 1245.6 649.1 1244.1 647.7 1242.6 646.1 1241.9 644.9 1242.4M646.4 1248.3 645.9 1247.1 644.7 1245.4 643.1 1244.2 641.7 1244.0 640.8 1245.0" fill="none" stroke="#166497" stroke-width="0.935" stroke-linecap="round" stroke-linejoin="round" opacity="1.0"/><path d="M649.2 1240.1 648.4 1241.2 648.4 1243.1 649.0 1245.1 649.8 1246.4 650.3 1246.6M644.9 1242.4 644.5 1244.0 644.7 1246.0 645.5 1247.8 646.2 1248.7 646.4 1248.3M640.8 1245.0 640.7 1246.8" fill="none" stroke="#2090d8" stroke-width="2.295" stroke-linecap="round" stroke-linejoin="round" opacity="1.0"/><path d="M655.8 1242.0 655.3 1241.4 653.8 1240.4 651.9 1239.8 650.1 1239.8 649.2 1240.7M653.3 1245.5 652.6 1244.8 651.0 1243.8 649.0 1243.3 647.4 1243.6 646.7 1244.6M650.8 1249.0 649.8 1248.1 648.1 1247.3 646.1 1246.9 644.7 1247.4 644.3 1248.5" fill="none" stroke="#217b9c" stroke-width="0.935" stroke-linecap="round" stroke-linejoin="round" opacity="1.0"/><path d="M651.8 1236.8 651.6 1238.1 652.5 1239.8 653.9 1241.2 655.2 1242.0 655.8 1242.0M649.2 1240.7 649.3 1242.1 650.4 1243.8 651.8 1245.1 653.0 1245.7 653.3 1245.5M646.7 1244.6 647.1 1246.1 648.3 1247.8 649.7 1249.0 650.8 1249.4 650.8 1249.0M644.3 1248.5 644.9 1250.2 646.2 1251.7 647.6 1252.7 648.5 1253.0" fill="none" stroke="#30b0e0" stroke-width="2.295" stroke-linecap="round" stroke-linejoin="round" opacity="1.0"/><path d="M660.9 1243.0 660.2 1242.9 658.5 1243.2 656.7 1244.1 655.4 1245.3 655.3 1246.6M661.7 1247.2 660.8 1247.1 659.0 1247.6 657.2 1248.6 656.1 1249.8 656.2 1251.1M662.5 1251.4 661.4 1251.5 659.6 1252.0 657.8 1253.1 656.9 1254.3 657.2 1255.5" fill="none" stroke="#2c869c" stroke-width="0.935" stroke-linecap="round" stroke-linejoin="round" opacity="1.0"/><path d="M654.3 1242.1 655.2 1243.2 656.9 1243.8 659.0 1243.8 660.5 1243.4 660.9 1243.0M655.3 1246.6 656.3 1247.6 658.2 1248.1 660.2 1248.0 661.5 1247.6 661.7 1247.2M656.2 1251.1 657.4 1252.0 659.4 1252.3 661.3 1252.2 662.5 1251.8 662.5 1251.4M657.2 1255.5 658.6 1256.4 660.6 1256.6" fill="none" stroke="#40c0e0" stroke-width="2.295" stroke-linecap="round" stroke-linejoin="round" opacity="1.0"/><path d="M657.2 1250.6 656.5 1250.1 654.8 1249.5 652.8 1249.3 651.1 1249.7 650.4 1250.8M655.5 1254.5 654.4 1253.9 652.6 1253.4 650.6 1253.4 649.1 1254.0 648.9 1255.3" fill="none" stroke="#217b9c" stroke-width="0.935" stroke-linecap="round" stroke-linejoin="round" opacity="1.0"/><path d="M652.1 1246.3 652.3 1247.7 653.5 1249.2 655.2 1250.3 656.7 1250.8 657.2 1250.6M650.4 1250.8 651.0 1252.2 652.4 1253.6 654.1 1254.6 655.3 1254.8 655.5 1254.5" fill="none" stroke="#30b0e0" stroke-width="2.295" stroke-linecap="round" stroke-linejoin="round" opacity="1.0"/><path d="M646.6 1256.0 646.7 1255.2 646.4 1253.5 645.5 1251.7 644.2 1250.5 642.9 1250.3M642.4 1256.8 642.5 1255.8 642.0 1254.1 641.0 1252.3 639.7 1251.2 638.5 1251.3M638.2 1257.6 638.2 1256.5 637.6 1254.7 636.6 1253.0 635.3 1252.0 634.1 1252.3" fill="none" stroke="#217b9c" stroke-width="0.935" stroke-linecap="round" stroke-linejoin="round" opacity="1.0"/><path d="M647.4 1249.4 646.4 1250.2 645.8 1252.0 645.8 1254.0 646.2 1255.5 646.6 1256.0M642.9 1250.3 642.0 1251.3 641.5 1253.2 641.6 1255.2 642.0 1256.6 642.4 1256.8M638.5 1251.3 637.6 1252.5 637.2 1254.4 637.4 1256.4 637.8 1257.6 638.2 1257.6M634.1 1252.3 633.2 1253.7 633.0 1255.7 633.2 1257.5 633.6 1258.5" fill="none" stroke="#30b0e0" stroke-width="2.295" stroke-linecap="round" stroke-linejoin="round" opacity="1.0"/><path d="M643.2 1245.4 642.4 1245.4 640.8 1245.9 639.1 1247.1 638.0 1248.4 638.0 1249.7M644.5 1249.5 643.5 1249.6 641.9 1250.2 640.2 1251.4 639.3 1252.8 639.5 1254.1M645.8 1253.6 644.6 1253.8 642.9 1254.6 641.3 1255.8" fill="none" stroke="#2c869c" stroke-width="0.935" stroke-linecap="round" stroke-linejoin="round" opacity="1.0"/><path d="M636.6 1245.4 637.5 1246.3 639.3 1246.7 641.4 1246.4 642.8 1245.9 643.2 1245.4M638.0 1249.7 639.2 1250.6 641.1 1250.8 643.1 1250.5 644.4 1249.9 644.5 1249.5M639.5 1254.1 640.9 1254.8 642.9 1254.9 644.7 1254.5 645.8 1254.0 645.8 1253.6" fill="none" stroke="#40c0e0" stroke-width="2.295" stroke-linecap="round" stroke-linejoin="round" opacity="1.0"/><path d="M634.1 1248.3 633.6 1248.7 632.9 1250.0 632.5 1251.8 632.6 1253.5 633.3 1254.5M637.8 1250.1 637.2 1250.5 636.6 1251.8 636.1 1253.6 636.2 1255.3 637.0 1256.3M641.4 1251.9 640.9 1252.3 640.2 1253.7 639.8 1255.5 639.9 1257.1 640.6 1258.1" fill="none" stroke="#a29116" stroke-width="0.935" stroke-linecap="round" stroke-linejoin="round" opacity="1.0"/><path d="M629.7 1252.6 630.9 1252.6 632.3 1251.7 633.5 1250.2 634.1 1248.9 634.1 1248.3M633.3 1254.5 634.6 1254.4 636.0 1253.5 637.1 1252.0 637.8 1250.7 637.8 1250.1M637.0 1256.3 638.2 1256.2 639.6 1255.3 640.8 1253.8 641.4 1252.5 641.4 1251.9M640.6 1258.1 641.9 1258.0 643.3 1257.1 644.4 1255.6" fill="none" stroke="#e8d020" stroke-width="2.295" stroke-linecap="round" stroke-linejoin="round" opacity="1.0"/><path d="M621.4 1260.5 620.7 1260.0 618.9 1259.8 616.8 1260.0 615.1 1260.8 614.4 1262.0M620.7 1265.0 619.8 1264.6 618.0 1264.4 615.8 1264.7 614.2 1265.6" fill="none" stroke="#168038" stroke-width="0.9900000000000001" stroke-linecap="round" stroke-linejoin="round" opacity="1.0"/><path d="M615.1 1257.3 615.5 1258.6 617.1 1259.8 619.1 1260.5 620.8 1260.7 621.4 1260.5M614.4 1262.0 615.1 1263.4 616.7 1264.5 618.8 1265.2 620.3 1265.3 620.7 1265.0" fill="none" stroke="#20b850" stroke-width="2.43" stroke-linecap="round" stroke-linejoin="round" opacity="1.0"/><path d="M614.0 1266.1 613.7 1267.0 613.8 1268.9 614.4 1271.1 615.5 1272.5 616.9 1272.7M618.5 1266.3 618.3 1267.7 618.6 1269.9 619.5 1271.8 620.7 1272.8 622.0 1272.4" fill="none" stroke="#38914e" stroke-width="0.9900000000000001" stroke-linecap="round" stroke-linejoin="round" opacity="1.0"/><path d="M611.7 1272.7 613.0 1272.0 614.0 1270.3 614.4 1268.1 614.4 1266.5 614.0 1266.1M616.9 1272.7 618.1 1271.5 618.9 1269.4 619.1 1267.4 618.9 1266.2 618.5 1266.3" fill="none" stroke="#50d070" stroke-width="2.43" stroke-linecap="round" stroke-linejoin="round" opacity="1.0"/><path d="M623.4 1258.1 622.7 1258.7 621.7 1260.4 621.0 1262.5 621.1 1264.3 622.1 1265.2M627.1 1260.8 626.2 1261.8 625.2 1263.7 624.8 1265.8 625.3 1267.3 626.5 1267.8" fill="none" stroke="#2c8c43" stroke-width="0.9900000000000001" stroke-linecap="round" stroke-linejoin="round" opacity="1.0"/><path d="M617.8 1262.4 619.3 1262.6 621.1 1261.6 622.6 1260.1 623.5 1258.7 623.4 1258.1M622.1 1265.2 623.8 1264.9 625.6 1263.7 626.9 1262.1 627.4 1260.9 627.1 1260.8M626.5 1267.8 628.3 1267.2 630.0 1265.7 631.0 1264.2 631.2 1263.3 630.7 1263.6" fill="none" stroke="#40c860" stroke-width="2.43" stroke-linecap="round" stroke-linejoin="round" opacity="1.0"/><path d="M624.6 1278.0 624.5 1277.3 623.7 1275.8 622.3 1274.2 620.7 1273.2 619.3 1273.2M620.5 1280.2 620.4 1279.4 619.6 1277.9 618.1 1276.3 616.5 1275.3 615.1 1275.5M616.4 1282.4 616.3 1281.5 615.4 1280.0 614.0 1278.4 612.3 1277.5 611.0 1277.7M612.3 1284.6 612.2 1283.7 611.3 1282.1" fill="none" stroke="#218638" stroke-width="0.9900000000000001" stroke-linecap="round" stroke-linejoin="round" opacity="1.0"/><path d="M623.4 1271.0 622.6 1272.2 622.6 1274.1 623.2 1276.2 624.0 1277.6 624.6 1278.0M619.3 1273.2 618.5 1274.5 618.5 1276.4 619.1 1278.5 619.9 1279.9 620.5 1280.2M615.1 1275.5 614.4 1276.7 614.4 1278.7 615.1 1280.7 615.9 1282.1 616.4 1282.4M611.0 1277.7 610.3 1279.0 610.4 1281.0 611.0 1283.0 611.8 1284.3 612.3 1284.6" fill="none" stroke="#30c050" stroke-width="2.43" stroke-linecap="round" stroke-linejoin="round" opacity="1.0"/><path d="M629.9 1257.1 629.2 1256.9 627.5 1257.2 625.6 1258.1 624.1 1259.4 623.8 1260.7M630.8 1261.6 630.1 1261.4 628.3 1261.8 626.4 1262.7 625.0 1264.0 624.8 1265.4M631.8 1266.1 630.9 1266.0 629.2 1266.4 627.2 1267.3 625.9 1268.6 625.7 1270.0" fill="none" stroke="#2c8c43" stroke-width="0.9900000000000001" stroke-linecap="round" stroke-linejoin="round" opacity="1.0"/><path d="M622.9 1256.1 623.8 1257.2 625.6 1257.8 627.8 1257.9 629.4 1257.5 629.9 1257.1M623.8 1260.7 624.8 1261.8 626.7 1262.4 628.8 1262.4 630.4 1262.0 630.8 1261.6M624.8 1265.4 625.8 1266.4 627.7 1267.0 629.8 1266.9 631.4 1266.5 631.8 1266.1M625.7 1270.0 626.8 1271.0 628.8 1271.5 630.9 1271.5 632.4 1271.1 632.7 1270.6" fill="none" stroke="#40c860" stroke-width="2.43" stroke-linecap="round" stroke-linejoin="round" opacity="1.0"/><path d="M619.4 1267.8 618.5 1267.5 616.7 1267.4 614.5 1267.8 612.9 1268.7 612.5 1270.0M618.9 1272.3 617.7 1272.0 615.7 1272.0 613.6 1272.6 612.3 1273.7 612.2 1275.0M618.3 1276.9 616.8 1276.6 614.7 1276.8 612.8 1277.5" fill="none" stroke="#38914e" stroke-width="0.9900000000000001" stroke-linecap="round" stroke-linejoin="round" opacity="1.0"/><path d="M612.9 1265.0 613.4 1266.4 615.1 1267.5 617.2 1268.1 618.8 1268.1 619.4 1267.8M612.5 1270.0 613.4 1271.3 615.3 1272.3 617.3 1272.8 618.7 1272.7 618.9 1272.3M612.2 1275.0 613.5 1276.2 615.5 1277.1 617.4 1277.4 618.5 1277.2 618.3 1276.9" fill="none" stroke="#50d070" stroke-width="2.43" stroke-linecap="round" stroke-linejoin="round" opacity="1.0"/><path d="M624.8 1273.7 624.0 1273.8 622.5 1274.6 621.0 1276.0 620.0 1277.6 620.0 1279.0M627.0 1277.8 626.3 1277.8 624.8 1278.6 623.2 1280.1 622.2 1281.7 622.3 1283.1" fill="none" stroke="#168038" stroke-width="0.9900000000000001" stroke-linecap="round" stroke-linejoin="round" opacity="1.0"/><path d="M617.8 1275.0 618.9 1275.8 620.9 1275.8 622.9 1275.2 624.4 1274.3 624.8 1273.7M620.0 1279.0 621.2 1279.8 623.2 1279.8 625.2 1279.2 626.7 1278.3 627.0 1277.8M622.3 1283.1 623.5 1283.9 625.5 1283.8 627.5 1283.2" fill="none" stroke="#20b850" stroke-width="2.43" stroke-linecap="round" stroke-linejoin="round" opacity="1.0"/><path d="M613.3 1271.3 612.9 1272.1 612.9 1273.9 613.4 1276.0 614.4 1277.6 615.7 1278.0M617.8 1271.5 617.5 1272.5 617.6 1274.4 618.2 1276.5 619.2 1277.9 620.5 1278.1M622.4 1271.7 622.1 1272.9 622.3 1274.9 623.0 1276.9 624.1 1278.2 625.4 1278.1" fill="none" stroke="#218638" stroke-width="0.9900000000000001" stroke-linecap="round" stroke-linejoin="round" opacity="1.0"/><path d="M610.8 1277.9 612.1 1277.3 613.1 1275.6 613.6 1273.5 613.6 1271.8 613.3 1271.3M615.7 1278.0 616.9 1277.2 617.9 1275.3 618.3 1273.3 618.2 1271.8 617.8 1271.5M620.5 1278.1 621.8 1277.0 622.6 1275.1 622.9 1273.1 622.8 1271.8 622.4 1271.7M625.4 1278.1 626.6 1276.9 627.3 1274.8 627.6 1272.9 627.3 1271.8" fill="none" stroke="#30c050" stroke-width="2.43" stroke-linecap="round" stroke-linejoin="round" opacity="1.0"/><path d="M615.1 1260.4 614.6 1260.8 613.9 1262.3 613.4 1264.1 613.6 1265.8 614.4 1266.6M618.6 1262.3 618.0 1263.0 617.3 1264.5 617.0 1266.4 617.3 1267.9 618.3 1268.6M622.1 1264.2 621.4 1265.2 620.8 1266.8 620.6 1268.7 621.0 1270.0 622.1 1270.5M625.6 1266.3 624.9 1267.4 624.3 1269.1 624.2 1270.9 624.8 1272.1 626.0 1272.3" fill="none" stroke="#2c8c91" stroke-width="0.8800000000000001" stroke-linecap="round" stroke-linejoin="round" opacity="1.0"/><path d="M610.6 1264.6 611.9 1264.6 613.3 1263.7 614.6 1262.2 615.2 1260.9 615.1 1260.4M614.4 1266.6 615.8 1266.4 617.2 1265.3 618.3 1263.8 618.8 1262.6 618.6 1262.3M618.3 1268.6 619.7 1268.1 621.1 1266.9 622.1 1265.4 622.4 1264.4 622.1 1264.2M622.1 1270.5 623.5 1269.8 624.9 1268.5 625.8 1267.1 626.0 1266.2 625.6 1266.3M626.0 1272.3 627.4 1271.5" fill="none" stroke="#40c8d0" stroke-width="2.16" stroke-linecap="round" stroke-linejoin="round" opacity="1.0"/><path d="M639.3 1281.7 639.6 1282.5 641.0 1283.9 642.9 1285.2 644.8 1285.7 646.2 1285.1M642.9 1278.4 643.4 1279.4 644.8 1280.8 646.8 1281.9 648.7 1282.3 649.9 1281.5M646.5 1275.2 647.1 1276.2 648.7 1277.6 650.7 1278.7 652.5 1278.9 653.6 1278.0M650.2 1271.9 650.9 1273.0 652.6 1274.4 654.6 1275.4 656.4 1275.5 657.3 1274.4" fill="none" stroke="#9c1621" stroke-width="1.1550000000000002" stroke-linecap="round" stroke-linejoin="round" opacity="1.0"/><path d="M642.4 1288.6 642.9 1287.2 642.4 1285.1 641.3 1283.2 640.0 1281.9 639.3 1281.7M646.2 1285.1 646.5 1283.5 645.9 1281.5 644.7 1279.6 643.5 1278.5 642.9 1278.4M649.9 1281.5 650.1 1279.9 649.3 1277.8 648.1 1276.0 646.9 1275.0 646.5 1275.2M653.6 1278.0 653.6 1276.2 652.8 1274.1 651.5 1272.4 650.4 1271.6 650.2 1271.9M657.3 1274.4 657.2 1272.5" fill="none" stroke="#e02030" stroke-width="2.8350000000000004" stroke-linecap="round" stroke-linejoin="round" opacity="1.0"/><path d="M643.9 1278.1 644.3 1278.8 645.7 1280.0 647.7 1280.9 649.5 1281.2 650.7 1280.5M646.9 1274.6 647.5 1275.5 649.1 1276.7 651.1 1277.5 652.9 1277.6 653.8 1276.7M650.0 1271.2 650.8 1272.2 652.5 1273.3 654.5 1274.1 656.1 1274.0 656.9 1272.9M653.1 1267.8 654.1 1268.9 655.8 1270.0 657.8 1270.6 659.4 1270.3" fill="none" stroke="#a21c1c" stroke-width="0.9900000000000001" stroke-linecap="round" stroke-linejoin="round" opacity="1.0"/><path d="M647.6 1284.2 647.9 1282.8 647.2 1280.9 645.9 1279.2 644.6 1278.2 643.9 1278.1M650.7 1280.5 650.8 1278.9 650.0 1277.1 648.6 1275.4 647.4 1274.6 646.9 1274.6M653.8 1276.7 653.8 1275.1 652.8 1273.2 651.4 1271.7 650.3 1271.0 650.0 1271.2M656.9 1272.9 656.7 1271.2 655.5 1269.3 654.2 1268.0 653.2 1267.4 653.1 1267.8" fill="none" stroke="#e82828" stroke-width="2.43" stroke-linecap="round" stroke-linejoin="round" opacity="1.0"/><path d="M653.7 1253.0 652.9 1253.0 651.3 1253.5 649.6 1254.6 648.5 1256.0 648.5 1257.3M655.0 1257.1 654.1 1257.1 652.5 1257.8 650.8 1258.9 649.8 1260.3 649.9 1261.6M656.3 1261.2 655.3 1261.3 653.6 1262.0 652.0 1263.2 651.1 1264.6 651.4 1265.8M657.6 1265.3 656.4 1265.5 654.7 1266.3 653.2 1267.6 652.5 1269.0 652.9 1270.1" fill="none" stroke="#21862c" stroke-width="0.935" stroke-linecap="round" stroke-linejoin="round" opacity="1.0"/><path d="M647.0 1253.0 648.0 1253.9 649.8 1254.3 651.8 1254.0 653.3 1253.5 653.7 1253.0M648.5 1257.3 649.6 1258.1 651.5 1258.4 653.4 1258.1 654.8 1257.6 655.0 1257.1M649.9 1261.6 651.2 1262.3 653.1 1262.5 655.0 1262.2 656.2 1261.6 656.3 1261.2M651.4 1265.8 652.8 1266.5 654.8 1266.6 656.6 1266.2 657.7 1265.7 657.6 1265.3M652.9 1270.1 654.4 1270.7 656.5 1270.7 658.2 1270.3" fill="none" stroke="#30c040" stroke-width="2.295" stroke-linecap="round" stroke-linejoin="round" opacity="1.0"/><ellipse cx="768" cy="1190" rx="7" ry="16" fill="#e02020" opacity="0.3" transform="rotate(-25 768 1190)" filter="url(#blur2)"/><ellipse cx="790" cy="1185" rx="9" ry="14" fill="#40c060" opacity="0.35" transform="rotate(0 790 1185)" filter="url(#blur2)"/><ellipse cx="798" cy="1218" rx="8" ry="14" fill="#f0e020" opacity="0.35" transform="rotate(0 798 1218)" filter="url(#blur2)"/><ellipse cx="778" cy="1232" rx="18" ry="16" fill="#40c0b0" opacity="0.35" transform="rotate(0 778 1232)" filter="url(#blur2)"/><ellipse cx="794" cy="1260" rx="9" ry="12" fill="#2040e0" opacity="0.35" transform="rotate(0 794 1260)" filter="url(#blur2)"/><ellipse cx="782" cy="1266" rx="7" ry="12" fill="#e03020" opacity="0.35" transform="rotate(0 782 1266)" filter="url(#blur2)"/><path d="M765.3 1174.5 764.4 1174.5 762.8 1175.4 761.1 1177.0 760.1 1178.7 760.3 1180.2M767.6 1178.8 766.6 1179.0 764.8 1180.0 763.2 1181.6 762.3 1183.3 762.7 1184.7M769.8 1183.1 768.7 1183.4 766.9 1184.5 765.3 1186.2 764.6 1187.9 765.2 1189.2M772.0 1187.5 770.8 1187.9 769.0 1189.1 767.5 1190.8 767.0 1192.5 767.7 1193.7M774.2 1191.8 772.8 1192.4 771.1 1193.7 769.7 1195.4 769.3 1197.0 770.2 1198.1M776.4 1196.2 774.9 1196.8 773.1 1198.2 771.9 1200.0 771.7 1201.6 772.8 1202.6M778.6 1200.6 777.0 1201.4 775.2 1202.8 774.1 1204.6" fill="none" stroke="#9c1616" stroke-width="1.1" stroke-linecap="round" stroke-linejoin="round" opacity="1.0"/><path d="M757.9 1175.7 759.1 1176.5 761.2 1176.6 763.4 1175.9 764.9 1175.1 765.3 1174.5M760.3 1180.2 761.7 1180.9 763.8 1180.9 766.0 1180.2 767.4 1179.3 767.6 1178.8M762.7 1184.7 764.3 1185.3 766.5 1185.2 768.6 1184.4 769.8 1183.6 769.8 1183.1M765.2 1189.2 766.9 1189.7 769.1 1189.4 771.1 1188.6 772.2 1187.8 772.0 1187.5M767.7 1193.7 769.5 1194.1 771.7 1193.7 773.7 1192.9 774.6 1192.1 774.2 1191.8M770.2 1198.1 772.1 1198.4 774.4 1197.9 776.2 1197.1 776.9 1196.3 776.4 1196.2M772.8 1202.6 774.8 1202.7 777.0 1202.2 778.7 1201.3 779.2 1200.6 778.6 1200.6" fill="none" stroke="#e02020" stroke-width="2.7" stroke-linecap="round" stroke-linejoin="round" opacity="1.0"/><path d="M776.0 1190.0 L774.0 1176.0 L782.0 1166.0" fill="none" stroke="#f09030" stroke-width="2.4" stroke-linejoin="round"/><path d="M783.9 1163.7 L784.4 1167.9 L779.6 1164.1Z" fill="#f09030"/><path d="M787.0 1173.3 786.9 1172.6 786.0 1171.2 784.7 1169.9 783.2 1169.2 782.0 1169.5M783.6 1175.3 783.3 1174.4 782.3 1173.0 780.9 1171.8 779.4 1171.3 778.4 1171.8M780.1 1177.3 779.7 1176.3 778.6 1174.8 777.1 1173.7" fill="none" stroke="#388c4e" stroke-width="0.8800000000000001" stroke-linecap="round" stroke-linejoin="round" opacity="1.0"/><path d="M785.7 1167.3 785.0 1168.3 785.1 1170.1 785.7 1171.9 786.5 1173.1 787.0 1173.3M782.0 1169.5 781.5 1170.7 781.7 1172.5 782.4 1174.3 783.2 1175.3 783.6 1175.3M778.4 1171.8 778.0 1173.2 778.3 1175.0 779.1 1176.6 779.8 1177.5 780.1 1177.3" fill="none" stroke="#50c870" stroke-width="2.16" stroke-linecap="round" stroke-linejoin="round" opacity="1.0"/><path d="M783.6 1166.2 782.9 1166.0 781.4 1166.0 779.5 1166.5 778.1 1167.4 777.7 1168.5M783.6 1170.2 782.8 1170.0 781.2 1170.1 779.4 1170.6 778.1 1171.6 777.8 1172.7M783.6 1174.3 782.7 1174.1 781.0 1174.2 779.2 1174.8 778.0 1175.8 777.9 1176.9M783.6 1178.3 782.6 1178.1" fill="none" stroke="#439138" stroke-width="0.8800000000000001" stroke-linecap="round" stroke-linejoin="round" opacity="1.0"/><path d="M777.7 1164.3 778.2 1165.4 779.8 1166.2 781.6 1166.6 783.1 1166.5 783.6 1166.2M777.7 1168.5 778.5 1169.6 780.1 1170.4 781.9 1170.7 783.2 1170.6 783.6 1170.2M777.8 1172.7 778.7 1173.8 780.4 1174.5 782.2 1174.7 783.4 1174.6 783.6 1174.3M777.9 1176.9 778.9 1178.0 780.7 1178.6 782.4 1178.8 783.6 1178.6 783.6 1178.3" fill="none" stroke="#60d050" stroke-width="2.16" stroke-linecap="round" stroke-linejoin="round" opacity="1.0"/><path d="M783.9 1166.9 783.3 1167.2 782.2 1168.4 781.4 1170.1 781.1 1171.7 781.7 1172.7M786.9 1169.6 786.1 1170.1 785.1 1171.4 784.3 1173.1 784.2 1174.7 784.9 1175.6M789.8 1172.3 788.9 1173.0 787.9 1174.4 787.2 1176.2" fill="none" stroke="#388c4e" stroke-width="0.8800000000000001" stroke-linecap="round" stroke-linejoin="round" opacity="1.0"/><path d="M778.5 1169.9 779.7 1170.2 781.4 1169.6 782.9 1168.5 783.8 1167.4 783.9 1166.9M781.7 1172.7 783.1 1172.9 784.7 1172.2 786.2 1171.0 786.9 1170.0 786.9 1169.6M784.9 1175.6 786.4 1175.5 788.0 1174.7 789.4 1173.5 790.0 1172.5 789.8 1172.3" fill="none" stroke="#50c870" stroke-width="2.16" stroke-linecap="round" stroke-linejoin="round" opacity="1.0"/><path d="M790.2 1181.9 789.8 1181.2 788.6 1180.2 786.9 1179.4 785.3 1179.1 784.2 1179.8M787.5 1184.9 787.0 1184.1 785.6 1183.1 783.9 1182.3 782.3 1182.3 781.5 1183.0M784.8 1187.8 784.1 1187.0 782.6 1186.0 780.9 1185.3 779.4 1185.4 778.8 1186.3" fill="none" stroke="#2c8643" stroke-width="0.8800000000000001" stroke-linecap="round" stroke-linejoin="round" opacity="1.0"/><path d="M787.0 1176.5 786.7 1177.7 787.3 1179.4 788.5 1180.9 789.6 1181.8 790.2 1181.9M784.2 1179.8 784.1 1181.1 784.9 1182.7 786.0 1184.2 787.1 1184.9 787.5 1184.9M781.5 1183.0 781.5 1184.5 782.4 1186.1 783.6 1187.4 784.6 1188.0 784.8 1187.8M778.8 1186.3 779.0 1187.8 780.0 1189.5" fill="none" stroke="#40c060" stroke-width="2.16" stroke-linecap="round" stroke-linejoin="round" opacity="1.0"/><path d="M779.9 1190.8 779.2 1191.2 778.1 1192.5 777.2 1194.5 777.0 1196.4 777.6 1197.6M783.5 1193.7 782.7 1194.2 781.6 1195.6 780.8 1197.6 780.6 1199.4 781.4 1200.6M787.1 1196.6 786.2 1197.2 785.2 1198.7 784.3 1200.7 784.3 1202.5 785.1 1203.5M790.6 1199.5 789.8 1200.2 788.7 1201.8 787.9 1203.8 787.9 1205.5 788.9 1206.5" fill="none" stroke="#163891" stroke-width="1.045" stroke-linecap="round" stroke-linejoin="round" opacity="1.0"/><path d="M773.9 1194.6 775.3 1194.9 777.1 1194.2 778.8 1192.8 779.8 1191.5 779.9 1190.8M777.6 1197.6 779.1 1197.8 780.9 1197.0 782.5 1195.6 783.5 1194.3 783.5 1193.7M781.4 1200.6 782.9 1200.6 784.7 1199.7 786.3 1198.3 787.1 1197.1 787.1 1196.6M785.1 1203.5 786.7 1203.5 788.5 1202.5 790.0 1201.1 790.8 1199.9 790.6 1199.5M788.9 1206.5 790.5 1206.3" fill="none" stroke="#2050d0" stroke-width="2.565" stroke-linecap="round" stroke-linejoin="round" opacity="1.0"/><path d="M771.7 1199.6 770.9 1199.4 769.1 1199.8 767.1 1200.8 765.8 1202.1 765.7 1203.5M772.6 1204.1 771.5 1204.0 769.6 1204.5 767.7 1205.6 766.6 1207.0 766.8 1208.3M773.3 1208.6 772.0 1208.6 770.0 1209.3 768.3 1210.4 767.4 1211.8 767.9 1213.1M774.0 1213.1 772.5 1213.3 770.5 1214.1 768.9 1215.3 768.3 1216.7 769.1 1217.9" fill="none" stroke="#2c7086" stroke-width="0.935" stroke-linecap="round" stroke-linejoin="round" opacity="1.0"/><path d="M764.7 1198.7 765.6 1199.8 767.5 1200.4 769.7 1200.4 771.3 1200.0 771.7 1199.6M765.7 1203.5 766.9 1204.5 768.9 1205.0 771.0 1204.9 772.4 1204.5 772.6 1204.1M766.8 1208.3 768.2 1209.2 770.3 1209.6 772.3 1209.4 773.5 1208.9 773.3 1208.6M767.9 1213.1 769.5 1213.9 771.7 1214.1 773.6 1213.8 774.5 1213.4 774.0 1213.1M769.1 1217.9 770.9 1218.5 773.0 1218.6 774.8 1218.3" fill="none" stroke="#40a0c0" stroke-width="2.295" stroke-linecap="round" stroke-linejoin="round" opacity="1.0"/><path d="M790.0 1192.0 L798.0 1210.0 L800.0 1226.0" fill="none" stroke="#60d040" stroke-width="2.6" stroke-linejoin="round"/><path d="M800.4 1229.0 L796.6 1226.4 L803.4 1225.6Z" fill="#60d040"/><path d="M786.0 1196.0 L792.0 1214.0 L794.0 1228.0" fill="none" stroke="#80d040" stroke-width="2.2" stroke-linejoin="round"/><path d="M794.4 1231.0 L791.2 1228.4 L796.8 1227.6Z" fill="#80d040"/><path d="M802.1 1208.9 801.5 1208.6 799.9 1208.6 797.9 1209.0 796.3 1209.9 795.8 1211.1M802.1 1213.3 801.4 1213.0 799.8 1213.0 797.8 1213.4 796.3 1214.3 795.7 1215.5M802.0 1217.6 801.3 1217.3 799.7 1217.3 797.7 1217.8 796.2 1218.7 795.7 1219.9" fill="none" stroke="#a89c16" stroke-width="0.9900000000000001" stroke-linecap="round" stroke-linejoin="round" opacity="1.0"/><path d="M795.8 1206.7 796.4 1207.9 798.0 1208.8 799.9 1209.3 801.5 1209.2 802.1 1208.9M795.8 1211.1 796.4 1212.3 798.0 1213.2 800.0 1213.6 801.5 1213.6 802.1 1213.3M795.7 1215.5 796.4 1216.7 798.0 1217.6 800.0 1218.0 801.5 1217.9 802.0 1217.6M795.7 1219.9 796.4 1221.1 798.1 1221.9 800.0 1222.3 801.5 1222.3 802.0 1222.0" fill="none" stroke="#f0e020" stroke-width="2.43" stroke-linecap="round" stroke-linejoin="round" opacity="1.0"/><path d="M798.0 1211.0 797.3 1210.8 795.7 1210.9 793.8 1211.5 792.3 1212.5 791.9 1213.7M798.3 1215.3 797.5 1215.1 795.9 1215.2 793.9 1215.9 792.5 1216.9 792.2 1218.1M798.5 1219.6 797.7 1219.4 796.0 1219.6 794.1 1220.3 792.8 1221.3 792.5 1222.5M798.8 1224.0 797.9 1223.8 796.2 1224.0 794.3 1224.7" fill="none" stroke="#a89121" stroke-width="0.9900000000000001" stroke-linecap="round" stroke-linejoin="round" opacity="1.0"/><path d="M791.5 1209.3 792.2 1210.4 793.9 1211.2 795.9 1211.5 797.4 1211.4 798.0 1211.0M791.9 1213.7 792.6 1214.8 794.3 1215.6 796.3 1215.8 797.8 1215.7 798.3 1215.3M792.2 1218.1 793.0 1219.2 794.7 1220.0 796.7 1220.2 798.2 1220.0 798.5 1219.6M792.5 1222.5 793.4 1223.6 795.2 1224.3 797.1 1224.5 798.5 1224.3 798.8 1224.0" fill="none" stroke="#f0d030" stroke-width="2.43" stroke-linecap="round" stroke-linejoin="round" opacity="1.0"/><path d="M808.9 1227.3 808.5 1226.7 807.0 1225.8 805.1 1225.2 803.3 1225.2 802.3 1226.0M806.6 1230.9 806.0 1230.2 804.4 1229.4 802.4 1228.8 800.8 1229.0 799.9 1229.9" fill="none" stroke="#a89c16" stroke-width="0.9900000000000001" stroke-linecap="round" stroke-linejoin="round" opacity="1.0"/><path d="M804.7 1222.1 804.6 1223.5 805.5 1225.1 807.0 1226.5 808.3 1227.3 808.9 1227.3M802.3 1226.0 802.4 1227.4 803.4 1229.0 804.9 1230.4 806.1 1231.0 806.6 1230.9M799.9 1229.9 800.2 1231.4 801.3 1233.0 802.8 1234.2" fill="none" stroke="#f0e020" stroke-width="2.43" stroke-linecap="round" stroke-linejoin="round" opacity="1.0"/><path d="M813.7 1219.7 813.8 1218.9 813.4 1217.2 812.6 1215.4 811.3 1214.1 810.1 1214.0M809.4 1220.4 809.5 1219.3 809.0 1217.6 808.0 1215.8 806.7 1214.8 805.5 1214.9M805.2 1221.0 805.2 1219.8 804.5 1217.9 803.5 1216.3 802.2 1215.5 801.0 1216.0M801.0 1221.6 800.8 1220.1 800.0 1218.3 798.9 1216.8 797.6 1216.3" fill="none" stroke="#a89121" stroke-width="0.9900000000000001" stroke-linecap="round" stroke-linejoin="round" opacity="1.0"/><path d="M814.6 1213.1 813.5 1214.0 813.0 1215.7 812.9 1217.8 813.2 1219.3 813.7 1219.7M810.1 1214.0 809.1 1215.1 808.6 1217.0 808.7 1219.0 809.1 1220.3 809.4 1220.4M805.5 1214.9 804.6 1216.3 804.3 1218.3 804.5 1220.2 804.9 1221.2 805.2 1221.0M801.0 1216.0 800.2 1217.5 800.0 1219.5 800.3 1221.3 800.7 1222.1 801.0 1221.6" fill="none" stroke="#f0d030" stroke-width="2.43" stroke-linecap="round" stroke-linejoin="round" opacity="1.0"/><path d="M758.5 1230.3 Q761.0 1232.0 763.8 1233.2 Q766.6 1234.3 762.9 1237.8 L759.2 1241.2" fill="none" stroke="#30c0b0" stroke-width="1.0" stroke-linecap="round" opacity="0.9"/><path d="M768.0 1235.5 Q763.2 1234.7 766.2 1238.3 Q769.1 1241.9 773.6 1239.9 L778.1 1237.8" fill="none" stroke="#60d080" stroke-width="1.0" stroke-linecap="round" opacity="0.9"/><path d="M783.2 1250.8 Q792.3 1258.1 795.1 1262.0 Q797.9 1265.8 800.5 1267.8 L803.2 1269.7" fill="none" stroke="#60d080" stroke-width="1.0" stroke-linecap="round" opacity="0.9"/><path d="M797.4 1235.4 Q789.1 1231.3 788.3 1232.4 Q787.4 1233.5 790.4 1235.6 L793.4 1237.6" fill="none" stroke="#40c0d0" stroke-width="1.0" stroke-linecap="round" opacity="0.9"/><path d="M794.4 1226.1 Q793.9 1218.8 797.8 1216.4 Q801.8 1214.1 805.0 1212.7 L808.1 1211.4" fill="none" stroke="#30c0b0" stroke-width="1.0" stroke-linecap="round" opacity="0.9"/><path d="M790.2 1250.8 Q787.4 1249.1 782.0 1250.4 Q776.5 1251.7 777.4 1252.3 L778.3 1252.9" fill="none" stroke="#30c0b0" stroke-width="1.0" stroke-linecap="round" opacity="0.9"/><path d="M796.3 1236.7 Q802.1 1239.5 796.9 1242.8 Q791.7 1246.1 787.7 1244.8 L783.6 1243.5" fill="none" stroke="#40c0d0" stroke-width="1.0" stroke-linecap="round" opacity="0.9"/><path d="M784.3 1241.2 Q792.4 1245.2 791.0 1243.2 Q789.6 1241.2 792.7 1243.5 L795.8 1245.9" fill="none" stroke="#60d080" stroke-width="1.0" stroke-linecap="round" opacity="0.9"/><path d="M797.2 1221.5 Q793.0 1223.6 789.1 1226.3 Q785.2 1228.9 782.6 1230.4 L780.0 1231.8" fill="none" stroke="#30c0b0" stroke-width="1.0" stroke-linecap="round" opacity="0.9"/><path d="M763.9 1243.7 Q763.8 1236.2 768.2 1239.6 Q772.6 1242.9 772.8 1239.0 L773.1 1235.1" fill="none" stroke="#60d080" stroke-width="1.0" stroke-linecap="round" opacity="0.9"/><path d="M788.6 1232.2 Q780.4 1238.3 782.1 1234.5 Q783.8 1230.7 786.2 1231.4 L788.7 1232.2" fill="none" stroke="#90d060" stroke-width="1.0" stroke-linecap="round" opacity="0.9"/><path d="M774.5 1239.4 Q777.4 1237.2 775.7 1239.3 Q774.1 1241.3 775.6 1240.9 L777.0 1240.6" fill="none" stroke="#30c0b0" stroke-width="1.0" stroke-linecap="round" opacity="0.9"/><path d="M758.9 1239.6 Q757.9 1235.1 758.8 1235.8 Q759.8 1236.5 755.2 1236.4 L750.7 1236.3" fill="none" stroke="#60d080" stroke-width="1.0" stroke-linecap="round" opacity="0.9"/><path d="M788.5 1228.6 Q798.7 1227.9 795.4 1224.0 Q792.1 1220.1 788.4 1217.3 L784.6 1214.5" fill="none" stroke="#40d0a0" stroke-width="1.0" stroke-linecap="round" opacity="0.9"/><path d="M785.7 1222.9 Q777.4 1226.1 774.2 1222.3 Q771.0 1218.4 774.0 1216.2 L777.1 1213.9" fill="none" stroke="#40c0d0" stroke-width="1.0" stroke-linecap="round" opacity="0.9"/><path d="M783.4 1245.2 Q783.8 1247.8 778.4 1246.2 Q773.0 1244.6 771.0 1247.9 L769.0 1251.3" fill="none" stroke="#40d0a0" stroke-width="1.0" stroke-linecap="round" opacity="0.9"/><path d="M783.4 1220.5 Q781.3 1225.4 781.1 1221.7 Q780.9 1218.0 782.4 1220.2 L784.0 1222.5" fill="none" stroke="#60d080" stroke-width="1.0" stroke-linecap="round" opacity="0.9"/><path d="M781.3 1224.2 Q777.8 1226.9 779.6 1226.0 Q781.3 1225.1 784.6 1221.5 L787.9 1218.0" fill="none" stroke="#60d080" stroke-width="1.0" stroke-linecap="round" opacity="0.9"/><path d="M789.6 1225.7 789.2 1225.0 787.8 1223.9 786.0 1223.1 784.2 1222.9 783.2 1223.6M786.8 1228.9 786.2 1228.1 784.7 1227.0 782.8 1226.3 781.1 1226.3 780.3 1227.2" fill="none" stroke="#43869c" stroke-width="0.8800000000000001" stroke-linecap="round" stroke-linejoin="round" opacity="1.0"/><path d="M786.1 1220.0 785.8 1221.3 786.5 1223.1 787.8 1224.7 789.0 1225.6 789.6 1225.7M783.2 1223.6 783.1 1225.1 784.0 1226.8 785.3 1228.3 786.4 1229.1 786.8 1228.9M780.3 1227.2 780.5 1228.8 781.5 1230.5 782.8 1231.9 783.8 1232.5 784.0 1232.1" fill="none" stroke="#60c0e0" stroke-width="2.16" stroke-linecap="round" stroke-linejoin="round" opacity="1.0"/><path d="M767.7 1235.3 766.8 1235.2 765.1 1235.6 763.3 1236.5 762.1 1237.7 762.0 1239.0M768.3 1239.5 767.1 1239.5 765.3 1240.1 763.6 1241.1 762.7 1242.4 763.0 1243.6" fill="none" stroke="#2c9159" stroke-width="0.8800000000000001" stroke-linecap="round" stroke-linejoin="round" opacity="1.0"/><path d="M761.1 1234.4 762.0 1235.5 763.8 1236.0 765.8 1236.1 767.3 1235.7 767.7 1235.3M762.0 1239.0 763.2 1240.0 765.2 1240.4 767.1 1240.3 768.3 1239.9 768.3 1239.5M763.0 1243.6 764.5 1244.4 766.6 1244.7 768.4 1244.5" fill="none" stroke="#40d080" stroke-width="2.16" stroke-linecap="round" stroke-linejoin="round" opacity="1.0"/><path d="M786.1 1240.6 785.2 1240.2 783.4 1240.3 781.4 1240.8 780.0 1241.8 779.8 1243.1M785.7 1244.8 784.4 1244.5 782.4 1244.8 780.5 1245.5 779.6 1246.6 780.0 1247.9" fill="none" stroke="#43869c" stroke-width="0.8800000000000001" stroke-linecap="round" stroke-linejoin="round" opacity="1.0"/><path d="M779.9 1238.2 780.5 1239.4 782.2 1240.4 784.2 1240.9 785.7 1240.9 786.1 1240.6M779.8 1243.1 780.9 1244.2 782.8 1245.0 784.7 1245.3 785.8 1245.1 785.7 1244.8" fill="none" stroke="#60c0e0" stroke-width="2.16" stroke-linecap="round" stroke-linejoin="round" opacity="1.0"/><path d="M771.9 1244.6 771.5 1243.9 770.1 1242.8 768.3 1242.0 766.5 1241.8 765.5 1242.5M769.0 1247.8 768.4 1247.0 766.9 1245.9 765.0 1245.1 763.4 1245.2" fill="none" stroke="#2c9159" stroke-width="0.8800000000000001" stroke-linecap="round" stroke-linejoin="round" opacity="1.0"/><path d="M768.5 1238.9 768.2 1240.3 768.8 1242.0 770.1 1243.6 771.3 1244.6 771.9 1244.6M765.5 1242.5 765.4 1244.0 766.3 1245.7 767.5 1247.2 768.7 1248.0 769.0 1247.8" fill="none" stroke="#40d080" stroke-width="2.16" stroke-linecap="round" stroke-linejoin="round" opacity="1.0"/><path d="M782.6 1234.5 782.2 1233.6 780.9 1232.3 779.1 1231.2 777.4 1230.9 776.4 1231.7M779.3 1237.0 778.4 1235.9 776.9 1234.6 775.1 1233.8" fill="none" stroke="#2c8c86" stroke-width="0.8800000000000001" stroke-linecap="round" stroke-linejoin="round" opacity="1.0"/><path d="M780.0 1228.4 779.5 1229.7 780.0 1231.5 781.0 1233.3 782.1 1234.4 782.6 1234.5M776.4 1231.7 776.4 1233.3 777.1 1235.2 778.3 1236.8 779.1 1237.4 779.3 1237.0" fill="none" stroke="#40c8c0" stroke-width="2.16" stroke-linecap="round" stroke-linejoin="round" opacity="1.0"/><path d="M762.3 1222.2 761.7 1222.6 760.9 1224.1 760.4 1226.0 760.4 1227.8 761.3 1228.8M766.1 1224.3 765.4 1224.9 764.6 1226.5 764.1 1228.5 764.3 1230.2 765.2 1231.0M769.8 1226.5 769.1 1227.3 768.3 1228.9 767.9 1230.9 768.1 1232.5 769.1 1233.2M773.5 1228.7 772.7 1229.6 772.0 1231.3 771.6 1233.3 772.0 1234.8 773.1 1235.4" fill="none" stroke="#218670" stroke-width="0.8800000000000001" stroke-linecap="round" stroke-linejoin="round" opacity="1.0"/><path d="M757.3 1226.6 758.7 1226.6 760.3 1225.7 761.6 1224.2 762.3 1222.8 762.3 1222.2M761.3 1228.8 762.7 1228.7 764.2 1227.7 765.5 1226.1 766.2 1224.8 766.1 1224.3M765.2 1231.0 766.6 1230.8 768.2 1229.6 769.4 1228.1 770.0 1226.9 769.8 1226.5M769.1 1233.2 770.6 1232.8 772.2 1231.6 773.3 1230.1 773.8 1228.9 773.5 1228.7" fill="none" stroke="#30c0a0" stroke-width="2.16" stroke-linecap="round" stroke-linejoin="round" opacity="1.0"/><path d="M785.4 1226.3 784.8 1225.7 783.2 1224.9 781.2 1224.5 779.5 1224.8 778.6 1225.7M783.3 1230.0 782.5 1229.4 780.7 1228.6 778.7 1228.4 777.2 1228.8 776.6 1229.9M781.2 1233.8 780.1 1233.0 778.2 1232.4 776.3 1232.3" fill="none" stroke="#2c9159" stroke-width="0.8800000000000001" stroke-linecap="round" stroke-linejoin="round" opacity="1.0"/><path d="M780.7 1221.5 780.7 1222.9 781.8 1224.4 783.4 1225.7 784.8 1226.4 785.4 1226.3M778.6 1225.7 778.9 1227.2 780.2 1228.7 781.8 1229.8 783.0 1230.3 783.3 1230.0M776.6 1229.9 777.2 1231.4 778.6 1232.9 780.2 1233.9 781.2 1234.2 781.2 1233.8" fill="none" stroke="#40d080" stroke-width="2.16" stroke-linecap="round" stroke-linejoin="round" opacity="1.0"/><path d="M776.2 1226.3 775.5 1226.5 774.3 1227.5 773.0 1229.0 772.4 1230.7 772.7 1232.0M778.9 1229.7 778.3 1229.8 777.0 1230.8 775.8 1232.4 775.2 1234.1 775.5 1235.4M781.7 1233.0 781.0 1233.2 779.8 1234.2 778.6 1235.8 777.9 1237.5 778.3 1238.7" fill="none" stroke="#2c8c86" stroke-width="0.8800000000000001" stroke-linecap="round" stroke-linejoin="round" opacity="1.0"/><path d="M769.9 1228.6 771.1 1229.2 772.9 1228.8 774.7 1227.9 775.9 1226.9 776.2 1226.3M772.7 1232.0 773.9 1232.5 775.7 1232.2 777.5 1231.3 778.7 1230.3 778.9 1229.7M775.5 1235.4 776.7 1235.9 778.5 1235.5 780.3 1234.6 781.5 1233.6 781.7 1233.0M778.3 1238.7 779.5 1239.2 781.3 1238.9" fill="none" stroke="#40c8c0" stroke-width="2.16" stroke-linecap="round" stroke-linejoin="round" opacity="1.0"/><path d="M790.3 1249.3 789.5 1249.6 788.2 1250.8 786.9 1252.7 786.4 1254.7 786.8 1256.1M793.7 1252.9 792.9 1253.2 791.5 1254.5 790.3 1256.4 789.7 1258.3 790.3 1259.7M797.0 1256.5 796.2 1256.8 794.8 1258.1 793.6 1260.1 793.1 1262.0 793.7 1263.3M800.4 1260.1 799.5 1260.4 798.2 1261.8 797.0 1263.7 796.5 1265.7 797.1 1267.0M803.8 1263.6 802.9 1264.1 801.5 1265.5 800.3 1267.4 799.9 1269.3 800.6 1270.6" fill="none" stroke="#162c9c" stroke-width="1.1550000000000002" stroke-linecap="round" stroke-linejoin="round" opacity="1.0"/><path d="M783.4 1252.5 784.8 1253.0 786.8 1252.5 788.8 1251.3 790.0 1250.0 790.3 1249.3M786.8 1256.1 788.3 1256.5 790.3 1256.0 792.2 1254.8 793.5 1253.6 793.7 1252.9M790.3 1259.7 791.8 1260.1 793.8 1259.5 795.7 1258.3 796.9 1257.1 797.0 1256.5M793.7 1263.3 795.2 1263.7 797.3 1263.1 799.1 1261.9 800.3 1260.7 800.4 1260.1M797.1 1267.0 798.7 1267.3 800.7 1266.6 802.6 1265.4 803.7 1264.2 803.8 1263.6" fill="none" stroke="#2040e0" stroke-width="2.8350000000000004" stroke-linecap="round" stroke-linejoin="round" opacity="1.0"/><path d="M787.8 1255.5 787.0 1255.8 785.8 1256.9 784.6 1258.6 784.2 1260.3 784.7 1261.5M790.6 1258.8 789.7 1259.2 788.4 1260.5 787.4 1262.2 787.0 1263.9 787.7 1264.9M793.3 1262.1 792.3 1262.7 791.1 1264.0 790.1 1265.8 789.9 1267.4 790.8 1268.3M796.1 1265.4 795.0 1266.1 793.7 1267.6 792.9 1269.4 792.9 1270.9 793.9 1271.6M798.8 1268.7 797.6 1269.6 796.4 1271.2 795.7 1273.0" fill="none" stroke="#21389c" stroke-width="0.935" stroke-linecap="round" stroke-linejoin="round" opacity="1.0"/><path d="M781.6 1258.1 782.9 1258.6 784.7 1258.2 786.5 1257.2 787.6 1256.1 787.8 1255.5M784.7 1261.5 786.0 1261.8 787.9 1261.3 789.6 1260.3 790.6 1259.2 790.6 1258.8M787.7 1264.9 789.2 1265.1 791.1 1264.4 792.7 1263.3 793.5 1262.4 793.3 1262.1M790.8 1268.3 792.4 1268.3 794.3 1267.5 795.8 1266.4 796.4 1265.5 796.1 1265.4M793.9 1271.6 795.6 1271.5 797.5 1270.6 798.8 1269.5 799.3 1268.7 798.8 1268.7" fill="none" stroke="#3050e0" stroke-width="2.295" stroke-linecap="round" stroke-linejoin="round" opacity="1.0"/><path d="M782.3 1254.7 781.5 1254.7 779.9 1255.4 778.1 1256.8 776.9 1258.5 776.8 1260.0M784.3 1259.2 783.5 1259.2 781.9 1259.9 780.1 1261.3 778.9 1263.0 778.9 1264.5M786.4 1263.7 785.6 1263.7 783.9 1264.4 782.1 1265.8 781.0 1267.5 781.0 1269.0M788.5 1268.2 787.6 1268.2 786.0 1268.9 784.2 1270.3 783.0 1272.0 783.1 1273.5M790.5 1272.6 789.7 1272.6 788.0 1273.4 786.2 1274.8 785.1 1276.5 785.1 1278.0M792.6 1277.1 791.7 1277.1 790.1 1277.9 788.3 1279.3" fill="none" stroke="#9c2116" stroke-width="1.1550000000000002" stroke-linecap="round" stroke-linejoin="round" opacity="1.0"/><path d="M774.8 1255.5 775.9 1256.4 778.0 1256.6 780.2 1256.1 781.8 1255.3 782.3 1254.7M776.8 1260.0 778.0 1260.9 780.1 1261.1 782.3 1260.6 783.9 1259.8 784.3 1259.2M778.9 1264.5 780.1 1265.4 782.2 1265.5 784.4 1265.0 786.0 1264.3 786.4 1263.7M781.0 1269.0 782.2 1269.9 784.3 1270.0 786.5 1269.5 788.1 1268.7 788.5 1268.2M783.1 1273.5 784.3 1274.4 786.4 1274.5 788.6 1274.0 790.1 1273.2 790.5 1272.6M785.1 1278.0 786.4 1278.8 788.5 1279.0 790.7 1278.4 792.2 1277.7 792.6 1277.1" fill="none" stroke="#e03020" stroke-width="2.8350000000000004" stroke-linecap="round" stroke-linejoin="round" opacity="1.0"/><path d="M774.0 1252.0 L780.0 1268.0 L784.0 1280.0" fill="none" stroke="#e07020" stroke-width="2.2" stroke-linejoin="round"/><path d="M784.9 1282.8 L781.3 1280.9 L786.7 1279.1Z" fill="#e07020"/><path d="M799.6 1246.1 798.9 1246.2 797.6 1247.1 796.3 1248.4 795.5 1249.9 795.7 1251.1M801.7 1249.6 800.9 1249.7 799.6 1250.6 798.3 1252.0 797.6 1253.5 798.0 1254.6M803.8 1253.0 803.0 1253.2 801.6 1254.2 800.4 1255.6 799.8 1257.1 800.2 1258.2M805.9 1256.4 805.0 1256.7 803.6 1257.8 802.4 1259.2 801.9 1260.6 802.4 1261.7M808.0 1259.9 807.0 1260.3" fill="none" stroke="#2c8643" stroke-width="0.8800000000000001" stroke-linecap="round" stroke-linejoin="round" opacity="1.0"/><path d="M793.5 1247.6 794.6 1248.2 796.3 1248.1 798.1 1247.5 799.3 1246.7 799.6 1246.1M795.7 1251.1 796.9 1251.7 798.6 1251.5 800.4 1250.8 801.5 1250.0 801.7 1249.6M798.0 1254.6 799.2 1255.1 801.0 1254.9 802.7 1254.2 803.7 1253.4 803.8 1253.0M800.2 1258.2 801.5 1258.6 803.3 1258.3 805.0 1257.6 805.9 1256.8 805.9 1256.4M802.4 1261.7 803.8 1262.0 805.6 1261.7 807.3 1260.9 808.1 1260.2 808.0 1259.9" fill="none" stroke="#40c060" stroke-width="2.16" stroke-linecap="round" stroke-linejoin="round" opacity="1.0"/><ellipse cx="903" cy="1193" rx="11" ry="14" fill="#1f4fd0" opacity="0.35" transform="rotate(0 903 1193)" filter="url(#blur2)"/><ellipse cx="930" cy="1196" rx="15" ry="7" fill="#2090b0" opacity="0.35" transform="rotate(0 930 1196)" filter="url(#blur2)"/><ellipse cx="926" cy="1226" rx="24" ry="14" fill="#80d030" opacity="0.35" transform="rotate(0 926 1226)" filter="url(#blur2)"/><ellipse cx="900" cy="1247" rx="14" ry="8" fill="#f0c020" opacity="0.4" transform="rotate(0 900 1247)" filter="url(#blur2)"/><ellipse cx="940" cy="1258" rx="15" ry="9" fill="#e05020" opacity="0.35" transform="rotate(0 940 1258)" filter="url(#blur2)"/><path d="M912.0 1176.0 L896.0 1182.0 L891.0 1196.0 L900.0 1208.0" fill="none" stroke="#1f4fd0" stroke-width="3.6" stroke-linejoin="round"/><path d="M901.8 1210.4 L896.3 1210.8 L903.7 1205.2Z" fill="#1f4fd0"/><path d="M916.0 1182.0 L902.0 1188.0 L898.0 1200.0 L908.0 1208.0" fill="none" stroke="#2a60d8" stroke-width="3.2" stroke-linejoin="round"/><path d="M910.3 1209.9 L905.4 1211.2 L910.6 1204.8Z" fill="#2a60d8"/><path d="M918.0 1190.0 L906.0 1194.0 L905.0 1203.0 L913.0 1208.0" fill="none" stroke="#2a78d8" stroke-width="2.6" stroke-linejoin="round"/><path d="M915.5 1209.6 L911.2 1210.9 L914.8 1205.1Z" fill="#2a78d8"/><path d="M912.0 1168.0 L918.0 1166.0 L924.0 1178.0" fill="none" stroke="#20a8b0" stroke-width="2.8" stroke-linejoin="round"/><path d="M925.3 1180.7 L920.7 1179.6 L927.3 1176.4Z" fill="#20a8b0"/><path d="M922.0 1178.0 Q932.0 1172.0 938.0 1175.0 Q944.0 1178.0 948.0 1177.0 Q952.0 1176.0 957.0 1183.0 L962.0 1190.0" fill="none" stroke="#2a3ed0" stroke-width="1.5" stroke-linecap="round" opacity="1.0"/><path d="M919.3 1189.2 918.6 1190.2 918.4 1192.8 918.9 1195.9 920.1 1198.4 921.8 1199.4M925.2 1189.6 924.6 1190.7 924.4 1193.4 924.9 1196.5 926.2 1199.0 928.0 1199.7M931.1 1190.0 930.5 1191.3 930.4 1194.0 931.0 1197.2 932.3 1199.5 934.1 1200.1M937.1 1190.4 936.5 1191.8 936.4 1194.7 937.0 1197.8 938.4 1200.0 940.3 1200.4M943.0 1190.8 942.5 1192.4 942.4 1195.3 943.1 1198.4 944.6 1200.4 946.4 1200.7" fill="none" stroke="#1c6a80" stroke-width="1.2" stroke-linecap="round" stroke-linejoin="round" opacity="1.0"/><path d="M915.7 1199.0 917.5 1198.1 919.0 1195.7 919.8 1192.6 919.8 1190.1 919.3 1189.2M921.8 1199.4 923.7 1198.4 925.1 1195.8 925.8 1192.7 925.8 1190.4 925.2 1189.6M928.0 1199.7 929.8 1198.6 931.2 1195.9 931.8 1192.9 931.7 1190.6 931.1 1190.0M934.1 1200.1 935.9 1198.8 937.2 1196.1 937.8 1193.0 937.7 1190.8 937.1 1190.4M940.3 1200.4 942.0 1199.0 943.3 1196.2 943.8 1193.2 943.6 1191.1 943.0 1190.8M946.4 1200.7 948.2 1199.2 949.4 1196.3 949.8 1193.3" fill="none" stroke="#2898b8" stroke-width="3.2" stroke-linecap="round" stroke-linejoin="round" opacity="1.0"/><path d="M921.5 1184.4 920.8 1184.4 919.5 1185.2 918.1 1186.4 917.3 1187.9 917.4 1189.1M923.5 1187.9 922.7 1188.0 921.3 1188.9 919.9 1190.2 919.2 1191.6 919.5 1192.8M925.3 1191.4 924.5 1191.7 923.0 1192.6 921.7 1193.9 921.1 1195.3 921.5 1196.4M927.2 1195.0 926.3 1195.3 924.8 1196.3 923.6 1197.6 923.1 1199.1 923.6 1200.1M929.1 1198.6 928.0 1198.9 926.6 1200.0 925.4 1201.4 925.0 1202.8 925.6 1203.7M931.0 1202.1 929.8 1202.6 928.4 1203.7 927.2 1205.1 927.0 1206.5 927.7 1207.4" fill="none" stroke="#167575" stroke-width="0.8800000000000001" stroke-linecap="round" stroke-linejoin="round" opacity="1.0"/><path d="M915.4 1185.4 916.5 1186.1 918.2 1186.1 920.0 1185.6 921.2 1184.9 921.5 1184.4M917.4 1189.1 918.6 1189.7 920.3 1189.6 922.1 1189.1 923.3 1188.3 923.5 1187.9M919.5 1192.8 920.7 1193.3 922.5 1193.2 924.2 1192.6 925.3 1191.8 925.3 1191.4M921.5 1196.4 922.8 1196.9 924.7 1196.7 926.3 1196.0 927.3 1195.3 927.2 1195.0M923.6 1200.1 925.0 1200.5 926.8 1200.2 928.4 1199.5 929.3 1198.8 929.1 1198.6M925.6 1203.7 927.1 1204.0 929.0 1203.7 930.5 1203.0 931.3 1202.3 931.0 1202.1M927.7 1207.4 929.3 1207.6" fill="none" stroke="#20a8a8" stroke-width="2.16" stroke-linecap="round" stroke-linejoin="round" opacity="1.0"/><path d="M937.2 1221.4 Q933.1 1226.9 937.2 1224.4 Q941.4 1222.0 943.5 1223.9 L945.7 1225.8" fill="none" stroke="#80d030" stroke-width="1.1" stroke-linecap="round" opacity="0.9"/><path d="M915.8 1235.9 Q911.7 1234.2 917.4 1231.9 Q923.1 1229.6 921.9 1230.4 L920.6 1231.3" fill="none" stroke="#60c840" stroke-width="1.1" stroke-linecap="round" opacity="0.9"/><path d="M941.9 1232.4 Q951.4 1236.9 957.1 1236.9 Q962.8 1236.9 965.3 1237.0 L967.7 1237.1" fill="none" stroke="#40c060" stroke-width="1.1" stroke-linecap="round" opacity="0.9"/><path d="M922.3 1234.0 Q928.8 1234.3 923.3 1235.8 Q917.9 1237.3 921.0 1234.9 L924.0 1232.6" fill="none" stroke="#80d030" stroke-width="1.1" stroke-linecap="round" opacity="0.9"/><path d="M934.6 1211.1 Q934.8 1208.3 934.2 1209.7 Q933.5 1211.2 932.5 1210.5 L931.4 1209.7" fill="none" stroke="#a0d040" stroke-width="1.1" stroke-linecap="round" opacity="0.9"/><path d="M904.3 1219.5 Q911.3 1224.7 910.8 1227.6 Q910.4 1230.5 915.0 1228.8 L919.5 1227.2" fill="none" stroke="#a0d040" stroke-width="1.1" stroke-linecap="round" opacity="0.9"/><path d="M913.8 1212.5 Q904.0 1216.6 900.0 1219.9 Q895.9 1223.2 890.4 1225.2 L884.9 1227.2" fill="none" stroke="#80d030" stroke-width="1.1" stroke-linecap="round" opacity="0.9"/><path d="M942.6 1212.9 Q944.3 1213.6 948.5 1216.0 Q952.7 1218.5 954.2 1216.2 L955.6 1213.8" fill="none" stroke="#a0d040" stroke-width="1.1" stroke-linecap="round" opacity="0.9"/><path d="M923.8 1217.1 Q929.2 1215.5 932.8 1214.1 Q936.3 1212.7 941.5 1209.4 L946.6 1206.2" fill="none" stroke="#40c060" stroke-width="1.1" stroke-linecap="round" opacity="0.9"/><path d="M940.9 1213.3 Q951.9 1215.0 956.7 1214.7 Q961.5 1214.5 964.0 1217.5 L966.6 1220.5" fill="none" stroke="#40c060" stroke-width="1.1" stroke-linecap="round" opacity="0.9"/><path d="M951.1 1232.7 Q961.0 1226.8 963.6 1226.7 Q966.2 1226.6 971.1 1224.3 L976.0 1222.0" fill="none" stroke="#80d030" stroke-width="1.1" stroke-linecap="round" opacity="0.9"/><path d="M938.7 1208.9 Q934.1 1203.9 935.7 1204.8 Q937.4 1205.7 932.1 1208.8 L926.9 1212.0" fill="none" stroke="#40c060" stroke-width="1.1" stroke-linecap="round" opacity="0.9"/><path d="M921.4 1225.0 Q919.0 1224.1 922.0 1221.9 Q925.0 1219.8 922.6 1221.6 L920.2 1223.4" fill="none" stroke="#60c840" stroke-width="1.1" stroke-linecap="round" opacity="0.9"/><path d="M911.7 1219.5 Q907.2 1216.2 905.4 1216.4 Q903.6 1216.7 899.0 1216.9 L894.4 1217.2" fill="none" stroke="#60c840" stroke-width="1.1" stroke-linecap="round" opacity="0.9"/><path d="M946.6 1220.9 Q946.0 1221.1 942.9 1221.5 Q939.8 1221.8 937.1 1219.7 L934.5 1217.5" fill="none" stroke="#40c060" stroke-width="1.1" stroke-linecap="round" opacity="0.9"/><path d="M929.6 1229.1 Q932.8 1235.1 930.0 1236.3 Q927.2 1237.5 932.9 1237.7 L938.6 1237.9" fill="none" stroke="#60c840" stroke-width="1.1" stroke-linecap="round" opacity="0.9"/><path d="M916.7 1229.0 Q914.9 1229.5 911.9 1227.8 Q908.9 1226.1 913.3 1227.1 L917.6 1228.1" fill="none" stroke="#a0d040" stroke-width="1.1" stroke-linecap="round" opacity="0.9"/><path d="M931.0 1209.8 Q942.9 1205.1 937.0 1207.0 Q931.1 1208.9 931.2 1211.0 L931.3 1213.1" fill="none" stroke="#40c060" stroke-width="1.1" stroke-linecap="round" opacity="0.9"/><path d="M942.0 1228.9 941.2 1228.8 939.3 1229.4 937.3 1230.7 935.9 1232.3 935.7 1233.9M943.7 1233.8 942.8 1233.7 940.9 1234.4 938.8 1235.7 937.5 1237.3 937.4 1238.9M945.3 1238.7 944.3 1238.7 942.4 1239.4" fill="none" stroke="#438c2c" stroke-width="1.1" stroke-linecap="round" stroke-linejoin="round" opacity="1.0"/><path d="M934.0 1228.8 935.2 1229.9 937.3 1230.3 939.7 1230.1 941.5 1229.4 942.0 1228.9M935.7 1233.9 936.9 1234.9 939.1 1235.3 941.5 1235.0 943.2 1234.4 943.7 1233.8M937.4 1238.9 938.7 1239.9 940.9 1240.2 943.3 1239.9 945.0 1239.3 945.3 1238.7" fill="none" stroke="#60c840" stroke-width="2.7" stroke-linecap="round" stroke-linejoin="round" opacity="1.0"/><path d="M920.5 1209.4 919.5 1209.7 917.9 1211.0 916.4 1213.0 915.8 1215.0 916.4 1216.4M923.5 1213.5 922.4 1214.1 920.7 1215.6 919.4 1217.6 919.0 1219.5 919.9 1220.7" fill="none" stroke="#438c2c" stroke-width="1.1" stroke-linecap="round" stroke-linejoin="round" opacity="1.0"/><path d="M912.9 1212.0 914.4 1212.7 916.6 1212.3 918.8 1211.3 920.3 1210.1 920.5 1209.4M916.4 1216.4 918.1 1216.8 920.4 1216.3 922.5 1215.1 923.6 1214.0 923.5 1213.5M919.9 1220.7 921.8 1220.9 924.1 1220.2" fill="none" stroke="#60c840" stroke-width="2.7" stroke-linecap="round" stroke-linejoin="round" opacity="1.0"/><path d="M935.4 1223.5 934.6 1223.8 933.2 1225.1 931.9 1227.1 931.3 1229.2 931.8 1230.7M939.0 1227.3 938.1 1227.6 936.7 1229.0 935.4 1231.0 934.8 1233.1 935.4 1234.5M942.5 1231.1 941.7 1231.5 940.2 1232.9 938.9 1234.9 938.4 1237.0" fill="none" stroke="#38862c" stroke-width="1.1" stroke-linecap="round" stroke-linejoin="round" opacity="1.0"/><path d="M928.2 1226.8 929.6 1227.3 931.8 1226.8 933.8 1225.6 935.2 1224.3 935.4 1223.5M931.8 1230.7 933.3 1231.1 935.4 1230.6 937.5 1229.3 938.8 1228.0 939.0 1227.3M935.4 1234.5 937.0 1234.9 939.1 1234.3 941.1 1233.1 942.4 1231.8 942.5 1231.1" fill="none" stroke="#50c040" stroke-width="2.7" stroke-linecap="round" stroke-linejoin="round" opacity="1.0"/><path d="M924.6 1231.1 924.6 1230.0 923.8 1228.1 922.4 1226.0 920.7 1224.8 919.2 1225.0M919.7 1232.6 919.5 1231.2" fill="none" stroke="#709121" stroke-width="1.1" stroke-linecap="round" stroke-linejoin="round" opacity="1.0"/><path d="M924.5 1223.1 923.4 1224.3 923.0 1226.5 923.4 1228.9 924.0 1230.7 924.6 1231.1M919.2 1225.0 918.3 1226.6 918.1 1228.9 918.6 1231.3 919.3 1232.6 919.7 1232.6" fill="none" stroke="#a0d030" stroke-width="2.7" stroke-linecap="round" stroke-linejoin="round" opacity="1.0"/><path d="M917.2 1233.5 916.5 1233.0 914.5 1232.8 912.1 1233.2 910.2 1234.1 909.4 1235.5M916.7 1238.6 915.9 1238.2 913.9 1238.0 911.5 1238.4 909.6 1239.4 908.9 1240.8" fill="none" stroke="#709121" stroke-width="1.1" stroke-linecap="round" stroke-linejoin="round" opacity="1.0"/><path d="M909.9 1230.2 910.5 1231.6 912.3 1232.9 914.6 1233.6 916.5 1233.8 917.2 1233.5M909.4 1235.5 910.1 1236.9 912.0 1238.2 914.3 1238.9 916.1 1239.0 916.7 1238.6M908.9 1240.8 909.7 1242.2 911.6 1243.4 913.9 1244.1 915.7 1244.1 916.2 1243.8" fill="none" stroke="#a0d030" stroke-width="2.7" stroke-linecap="round" stroke-linejoin="round" opacity="1.0"/><path d="M929.2 1232.6 928.2 1233.2 926.8 1234.9 925.7 1237.2 925.7 1239.2 926.8 1240.3M932.7 1236.2 931.4 1237.4 930.1 1239.5 929.4 1241.8" fill="none" stroke="#709121" stroke-width="1.1" stroke-linecap="round" stroke-linejoin="round" opacity="1.0"/><path d="M922.3 1236.5 923.9 1236.9 926.1 1236.1 928.0 1234.6 929.2 1233.2 929.2 1232.6M926.8 1240.3 928.7 1240.1 930.9 1238.9 932.6 1237.4 933.2 1236.2 932.7 1236.2" fill="none" stroke="#a0d030" stroke-width="2.7" stroke-linecap="round" stroke-linejoin="round" opacity="1.0"/><path d="M925.8 1230.3 925.0 1230.9 924.0 1232.6 923.4 1235.0 923.4 1237.1 924.4 1238.3M930.2 1233.0 929.4 1233.8 928.4 1235.7 927.8 1238.0 928.0 1240.1 929.2 1241.0M934.6 1235.7 933.7 1236.7" fill="none" stroke="#709121" stroke-width="1.1" stroke-linecap="round" stroke-linejoin="round" opacity="1.0"/><path d="M919.7 1235.5 921.3 1235.6 923.3 1234.4 924.9 1232.7 925.8 1231.0 925.8 1230.3M924.4 1238.3 926.1 1238.1 928.1 1236.8 929.6 1235.0 930.4 1233.5 930.2 1233.0M929.2 1241.0 931.0 1240.6 932.9 1239.2 934.3 1237.4 934.9 1236.0 934.6 1235.7" fill="none" stroke="#a0d030" stroke-width="2.7" stroke-linecap="round" stroke-linejoin="round" opacity="1.0"/><path d="M929.6 1231.6 928.7 1230.7 926.7 1229.7 924.2 1229.1 922.3 1229.5 921.6 1230.9M926.6 1235.6 925.0 1234.5" fill="none" stroke="#599121" stroke-width="1.1" stroke-linecap="round" stroke-linejoin="round" opacity="1.0"/><path d="M924.5 1225.6 924.4 1227.3 925.6 1229.3 927.5 1230.9 929.1 1231.8 929.6 1231.6M921.6 1230.9 922.2 1232.8 923.9 1234.7 925.7 1236.0 926.8 1236.2 926.6 1235.6" fill="none" stroke="#80d030" stroke-width="2.7" stroke-linecap="round" stroke-linejoin="round" opacity="1.0"/><path d="M933.8 1227.1 933.5 1228.1 933.9 1230.4 935.0 1233.1 936.7 1234.9 938.5 1235.3M939.1 1226.0 938.9 1227.2 939.4 1229.6 940.6 1232.2 942.3 1234.0 944.0 1234.1M944.5 1225.0 944.3 1226.4 944.9 1228.9 946.2 1231.4 947.9 1233.0 949.6 1233.0M949.8 1224.0 949.7 1225.6 950.4 1228.1 951.7 1230.6 953.5 1232.0 955.2 1231.8M955.2 1223.0 955.1 1224.7 955.9 1227.3 957.3 1229.7 959.1 1231.0 960.7 1230.6" fill="none" stroke="#21862c" stroke-width="1.1" stroke-linecap="round" stroke-linejoin="round" opacity="1.0"/><path d="M932.9 1236.4 934.3 1235.2 935.0 1232.7 935.0 1229.9 934.4 1227.7 933.8 1227.1M938.5 1235.3 939.8 1233.9 940.5 1231.3 940.4 1228.5 939.8 1226.5 939.1 1226.0M944.0 1234.1 945.3 1232.6 945.9 1229.9 945.7 1227.1 945.1 1225.3 944.5 1225.0M949.6 1233.0 950.8 1231.3 951.3 1228.5 951.0 1225.8 950.4 1224.1 949.8 1224.0M955.2 1231.8 956.3 1229.9 956.7 1227.1 956.4 1224.5 955.7 1222.9 955.2 1223.0M960.7 1230.6 961.8 1228.6 962.1 1225.7 961.7 1223.1 961.0 1221.7 960.5 1222.1" fill="none" stroke="#30c040" stroke-width="2.8" stroke-linecap="round" stroke-linejoin="round" opacity="1.0"/><path d="M889.6 1236.4 888.7 1237.2 887.7 1239.5 887.1 1242.7 887.5 1245.4 888.9 1246.9M895.1 1238.6 894.2 1239.5 893.2 1241.9 892.7 1245.1 893.2 1247.8 894.6 1249.1M900.7 1240.7 899.7 1241.8 898.7 1244.3 898.3 1247.5 898.9 1250.1 900.4 1251.3M906.2 1242.9 905.2 1244.1 904.3 1246.7 903.9 1249.8 904.5 1252.4 906.1 1253.4M911.7 1245.1 910.7 1246.4 909.8 1249.1 909.5 1252.2 910.2 1254.7 911.8 1255.6" fill="none" stroke="#a88616" stroke-width="1.2" stroke-linecap="round" stroke-linejoin="round" opacity="1.0"/><path d="M883.2 1244.7 885.2 1244.4 887.4 1242.5 889.0 1239.8 889.8 1237.5 889.6 1236.4M888.9 1246.9 891.0 1246.5 893.1 1244.5 894.7 1241.8 895.4 1239.5 895.1 1238.6M894.6 1249.1 896.7 1248.6 898.8 1246.5 900.4 1243.8 901.0 1241.5 900.7 1240.7M900.4 1251.3 902.5 1250.6 904.6 1248.5 906.1 1245.8 906.6 1243.6 906.2 1242.9M906.1 1253.4 908.2 1252.7 910.3 1250.4 911.7 1247.7 912.2 1245.7 911.7 1245.1M911.8 1255.6 914.0 1254.7 916.0 1252.4 917.4 1249.7 917.8 1247.7 917.3 1247.3" fill="none" stroke="#f0c020" stroke-width="3.2" stroke-linecap="round" stroke-linejoin="round" opacity="1.0"/><path d="M906.6 1250.9 905.7 1251.2 904.2 1252.6 902.8 1254.7 902.2 1256.9 902.8 1258.4M910.1 1254.4 909.2 1254.8 907.7 1256.2 906.3 1258.4 905.8 1260.5 906.4 1262.0M913.6 1258.0 912.6 1258.4 911.1 1259.9 909.8 1262.1 909.3 1264.2 910.0 1265.6M917.1 1261.5 916.1 1262.0 914.6 1263.5 913.3 1265.7 912.8 1267.8 913.6 1269.2" fill="none" stroke="#a87016" stroke-width="1.1" stroke-linecap="round" stroke-linejoin="round" opacity="1.0"/><path d="M899.2 1254.8 900.7 1255.3 902.9 1254.6 905.0 1253.2 906.4 1251.8 906.6 1250.9M902.8 1258.4 904.4 1258.8 906.6 1258.1 908.7 1256.7 910.0 1255.2 910.1 1254.4M906.4 1262.0 908.0 1262.4 910.3 1261.6 912.3 1260.1 913.5 1258.7 913.6 1258.0M910.0 1265.6 911.7 1265.9 913.9 1265.0 915.9 1263.6 917.1 1262.2 917.1 1261.5M913.6 1269.2 915.3 1269.4 917.6 1268.5 919.6 1267.0 920.7 1265.6 920.6 1265.0" fill="none" stroke="#f0a020" stroke-width="2.6" stroke-linecap="round" stroke-linejoin="round" opacity="1.0"/><path d="M924.7 1258.0 924.5 1259.2 925.4 1261.7 927.3 1264.4 929.6 1266.2 931.6 1266.3M930.1 1255.6 930.0 1256.9 931.0 1259.4 932.9 1262.1 935.2 1263.8 937.2 1263.9M935.6 1253.3 935.5 1254.6 936.5 1257.1 938.4 1259.8 940.8 1261.5 942.8 1261.5M941.1 1250.9 941.0 1252.2 942.1 1254.8 944.0 1257.5 946.3 1259.1 948.3 1259.0M946.6 1248.5 946.6 1249.9 947.6 1252.5 949.6 1255.1 951.9 1256.7 953.9 1256.6M952.0 1246.1 952.1 1247.6 953.2 1250.2 955.2 1252.8" fill="none" stroke="#9c3816" stroke-width="1.1" stroke-linecap="round" stroke-linejoin="round" opacity="1.0"/><path d="M926.1 1268.8 927.4 1267.1 927.6 1264.2 926.8 1261.0 925.6 1258.7 924.7 1258.0M931.6 1266.3 932.9 1264.6 933.0 1261.6 932.3 1258.5 931.1 1256.2 930.1 1255.6M937.2 1263.9 938.4 1262.1 938.5 1259.1 937.7 1256.0 936.5 1253.8 935.6 1253.3M942.8 1261.5 943.9 1259.6 944.0 1256.6 943.2 1253.4 942.0 1251.3 941.1 1250.9M948.3 1259.0 949.4 1257.1 949.5 1254.1 948.6 1250.9 947.4 1248.8 946.6 1248.5M953.9 1256.6 955.0 1254.6 955.0 1251.5 954.1 1248.4 952.9 1246.4 952.0 1246.1" fill="none" stroke="#e05020" stroke-width="2.8" stroke-linecap="round" stroke-linejoin="round" opacity="1.0"/><path d="M930.4 1265.3 930.4 1266.3 931.4 1268.2 933.0 1270.2 934.9 1271.4 936.5 1271.2M934.8 1263.2 935.0 1264.4 936.1 1266.3 937.8 1268.3 939.7 1269.2 941.1 1268.8M939.3 1261.0 939.6 1262.4 940.8 1264.4 942.6 1266.3 944.4 1267.0 945.8 1266.4M943.7 1259.0 944.2 1260.5 945.5 1262.5 947.3 1264.2 949.1 1264.8 950.4 1263.9" fill="none" stroke="#9c431c" stroke-width="1.0" stroke-linecap="round" stroke-linejoin="round" opacity="1.0"/><path d="M931.8 1273.6 932.7 1272.2 932.8 1269.9 932.1 1267.4 931.1 1265.7 930.4 1265.3M936.5 1271.2 937.3 1269.7 937.2 1267.2 936.4 1264.9 935.4 1263.3 934.8 1263.2M941.1 1268.8 941.8 1267.1 941.6 1264.6 940.7 1262.3 939.8 1261.0 939.3 1261.0M945.8 1266.4 946.3 1264.5 945.9 1262.0 945.0 1259.8 944.1 1258.6 943.7 1259.0M950.4 1263.9 950.8 1261.8 950.3 1259.3 949.4 1257.2 948.5 1256.4" fill="none" stroke="#e06028" stroke-width="2.2" stroke-linecap="round" stroke-linejoin="round" opacity="1.0"/>
</svg>
</body></html>
